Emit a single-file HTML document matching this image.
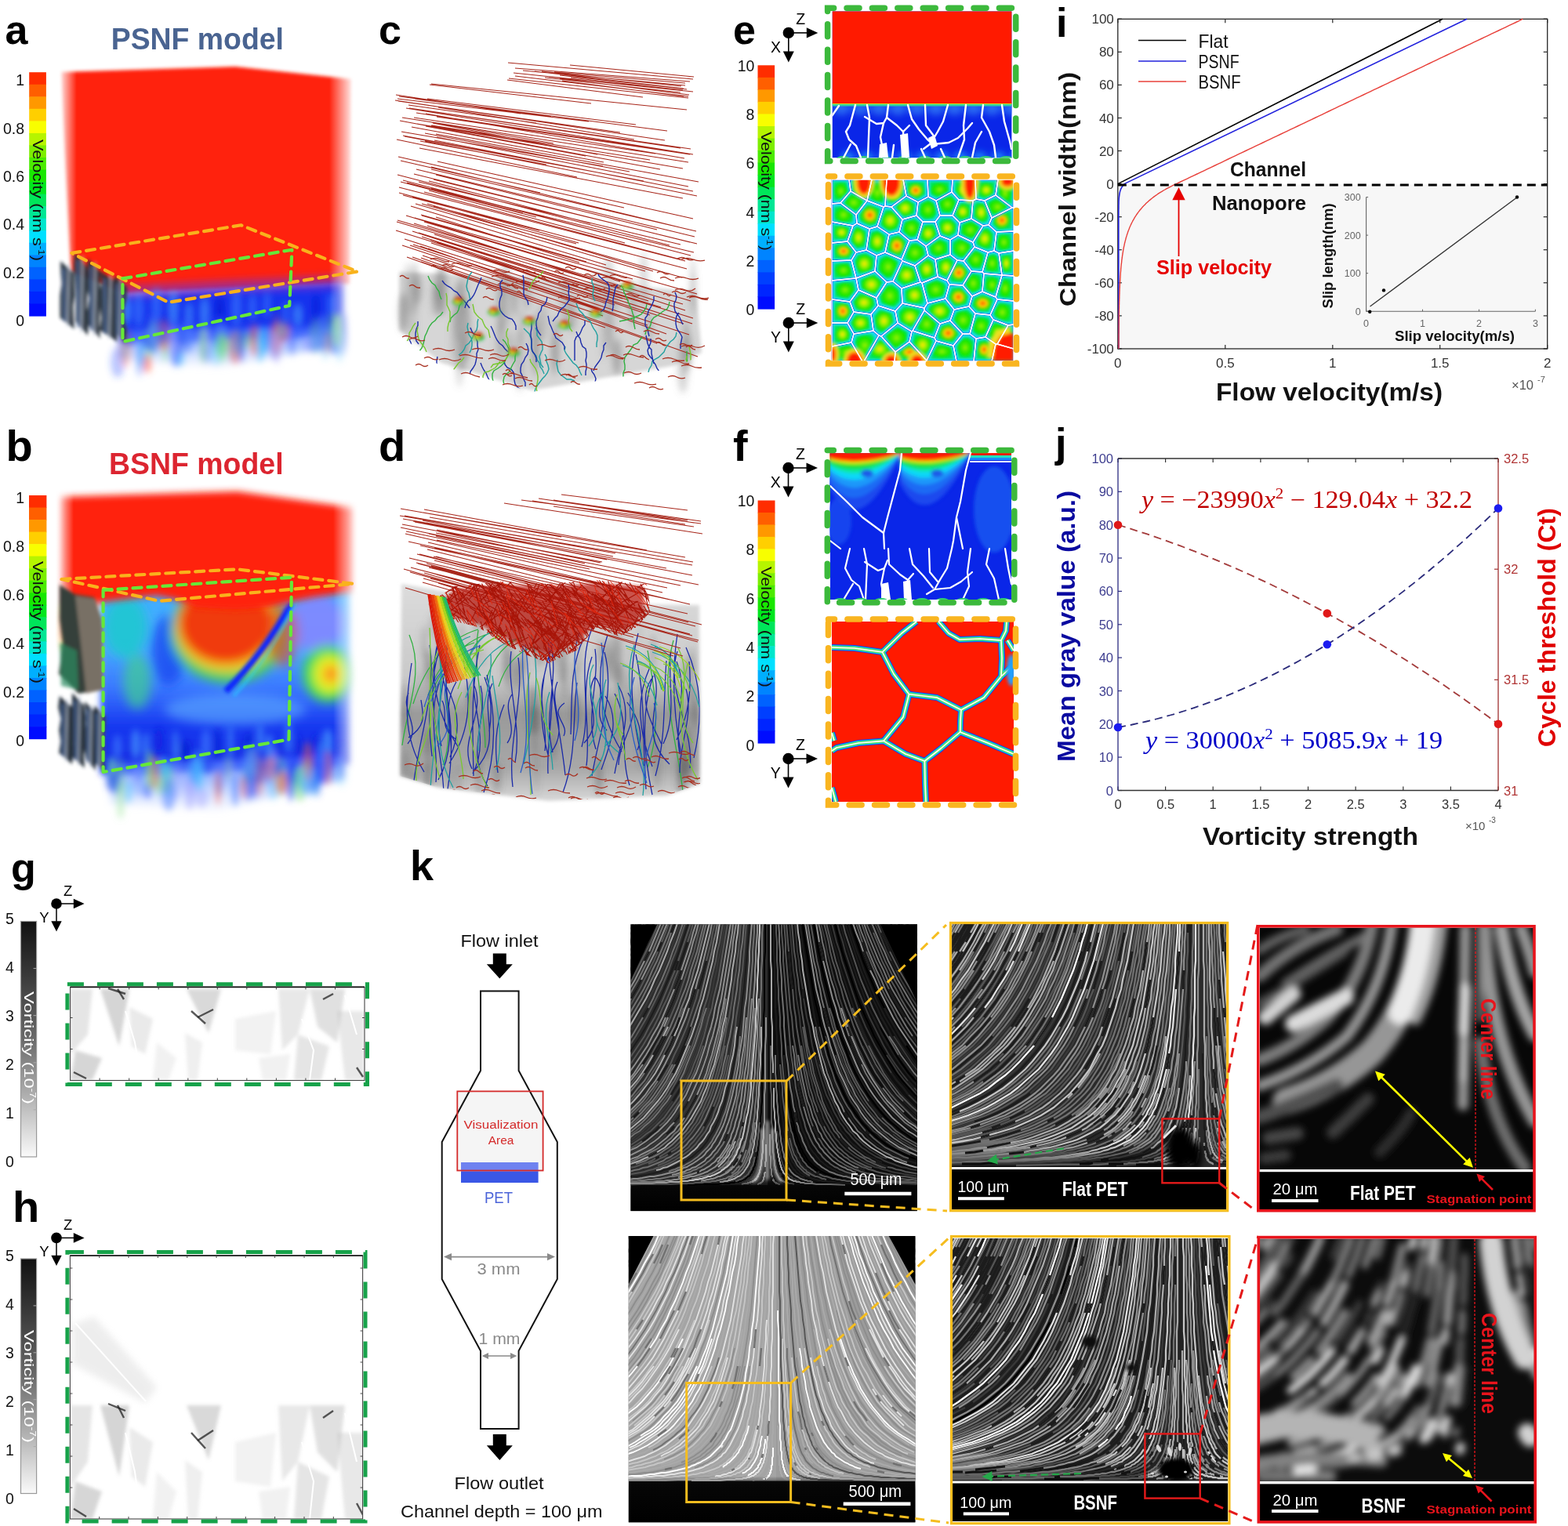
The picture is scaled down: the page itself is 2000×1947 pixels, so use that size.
<!DOCTYPE html>
<html><head><meta charset="utf-8"><title>Figure</title>
<style>html,body{margin:0;padding:0;background:#fff;}body{width:2000px;height:1947px;overflow:hidden;}svg{display:block;}</style>
</head><body>
<svg width="2000" height="1947" viewBox="0 0 2000 1947">
<text x="6.5" y="56.0" font-family="'Liberation Sans', sans-serif" font-size="52" fill="#000" font-weight="bold">a</text><text x="7.5" y="588.0" font-family="'Liberation Sans', sans-serif" font-size="56" fill="#000" font-weight="bold">b</text><text x="483.0" y="56.0" font-family="'Liberation Sans', sans-serif" font-size="52" fill="#000" font-weight="bold">c</text><text x="483.0" y="588.0" font-family="'Liberation Sans', sans-serif" font-size="56" fill="#000" font-weight="bold">d</text><text x="935.0" y="56.0" font-family="'Liberation Sans', sans-serif" font-size="52" fill="#000" font-weight="bold">e</text><text x="935.0" y="588.0" font-family="'Liberation Sans', sans-serif" font-size="56" fill="#000" font-weight="bold">f</text><text x="14.0" y="1125.0" font-family="'Liberation Sans', sans-serif" font-size="52" fill="#000" font-weight="bold">g</text><text x="16.0" y="1559.0" font-family="'Liberation Sans', sans-serif" font-size="56" fill="#000" font-weight="bold">h</text><text x="141.7" y="63.0" font-family="'Liberation Sans', sans-serif" font-size="38.5" fill="#4a6491" font-weight="bold" textLength="220.3" lengthAdjust="spacingAndGlyphs">PSNF model</text><text x="139.0" y="605.0" font-family="'Liberation Sans', sans-serif" font-size="38.5" fill="#dc2530" font-weight="bold" textLength="222.6" lengthAdjust="spacingAndGlyphs">BSNF model</text><defs><filter id="bl2" x="-10%" y="-10%" width="120%" height="120%"><feGaussianBlur stdDeviation="2"/></filter><filter id="bl15" x="-5%" y="-5%" width="110%" height="110%"><feGaussianBlur stdDeviation="1.5"/></filter><filter id="bl4" x="-20%" y="-20%" width="140%" height="140%"><feGaussianBlur stdDeviation="4"/></filter><filter id="bl7" x="-30%" y="-30%" width="160%" height="160%"><feGaussianBlur stdDeviation="7"/></filter><filter id="bl10" x="-30%" y="-30%" width="160%" height="160%"><feGaussianBlur stdDeviation="10"/></filter><linearGradient id="fadeL" x1="0" y1="0" x2="1" y2="0"><stop offset="0" stop-color="#fff" stop-opacity="1"/><stop offset="1" stop-color="#fff" stop-opacity="0"/></linearGradient><linearGradient id="fadeR" x1="0" y1="0" x2="1" y2="0"><stop offset="0" stop-color="#fff" stop-opacity="0"/><stop offset="1" stop-color="#fff" stop-opacity="1"/></linearGradient><linearGradient id="fadeB" x1="0" y1="0" x2="0" y2="1"><stop offset="0" stop-color="#fff" stop-opacity="0"/><stop offset="1" stop-color="#fff" stop-opacity="1"/></linearGradient></defs><defs><linearGradient id="gmA" gradientUnits="userSpaceOnUse" x1="74" y1="0" x2="452" y2="0"><stop offset="0" stop-color="#000"/><stop offset="0.063" stop-color="#fff"/><stop offset="0.915" stop-color="#fff"/><stop offset="1" stop-color="#000"/></linearGradient><mask id="mA" maskUnits="userSpaceOnUse" x="54" y="60" width="418" height="460"><rect x="54" y="60" width="418" height="460" fill="url(#gmA)"/></mask></defs><g mask="url(#mA)"><g filter="url(#bl2)"><polygon points="77.0,92.0 300.0,85.0 449.0,101.0 447.0,362.0 300.0,368.0 160.0,374.0 90.0,346.0" fill="#ff2008" /></g><g filter="url(#bl4)"><polygon points="150.0,376.0 300.0,368.0 440.0,360.0 440.0,428.0 300.0,433.0 155.0,438.0" fill="#1230ee" /><polygon points="150.0,364.0 300.0,356.0 440.0,350.0 440.0,368.0 300.0,374.0 150.0,382.0" fill="#8030c0" opacity="0.55"/><ellipse cx="159.5" cy="396.0" rx="6.7" ry="18.7" fill="#4a9cff" opacity="0.7"/><ellipse cx="176.8" cy="395.2" rx="5.5" ry="21.9" fill="#3a78ff" opacity="0.7"/><ellipse cx="199.5" cy="389.3" rx="5.2" ry="22.9" fill="#3a78ff" opacity="0.7"/><ellipse cx="221.0" cy="393.3" rx="4.8" ry="21.4" fill="#4a9cff" opacity="0.7"/><ellipse cx="241.2" cy="400.3" rx="3.3" ry="14.4" fill="#4a9cff" opacity="0.7"/><ellipse cx="261.0" cy="399.4" rx="4.3" ry="19.9" fill="#4a9cff" opacity="0.7"/><ellipse cx="280.2" cy="397.2" rx="5.0" ry="20.6" fill="#0018d0" opacity="0.7"/><ellipse cx="301.5" cy="393.5" rx="5.2" ry="23.3" fill="#3a78ff" opacity="0.7"/><ellipse cx="322.1" cy="392.0" rx="3.9" ry="16.9" fill="#3a78ff" opacity="0.7"/><ellipse cx="340.6" cy="388.7" rx="3.4" ry="16.9" fill="#3a78ff" opacity="0.7"/><ellipse cx="364.6" cy="400.6" rx="3.0" ry="16.1" fill="#3a78ff" opacity="0.7"/><ellipse cx="379.7" cy="402.7" rx="4.6" ry="14.7" fill="#4a9cff" opacity="0.7"/><ellipse cx="402.8" cy="391.3" rx="3.3" ry="17.3" fill="#0018d0" opacity="0.7"/><ellipse cx="422.6" cy="388.9" rx="4.0" ry="15.0" fill="#3a78ff" opacity="0.7"/></g><g filter="url(#bl4)"><defs><linearGradient id="fg425" x1="0" y1="0" x2="0" y2="1"><stop offset="0" stop-color="#3a60ff" stop-opacity="0.9"/><stop offset="0.5" stop-color="#70a0ff" stop-opacity="0.55"/><stop offset="1" stop-color="#c0d0ff" stop-opacity="0.1"/></linearGradient></defs><polygon points="150,421 440,416 440,440 280,470 150,460" fill="url(#fg425)"/><ellipse cx="284.8" cy="435.8" rx="7.4" ry="13.0" fill="#80e080" opacity="0.32"/><ellipse cx="362.2" cy="423.2" rx="7.2" ry="11.9" fill="#ff6040" opacity="0.60"/><ellipse cx="150.1" cy="462.2" rx="8.9" ry="19.5" fill="#3050ff" opacity="0.32"/><ellipse cx="264.3" cy="451.7" rx="7.2" ry="11.6" fill="#5080ff" opacity="0.32"/><ellipse cx="224.9" cy="451.3" rx="5.6" ry="14.7" fill="#3050ff" opacity="0.28"/><ellipse cx="210.5" cy="446.1" rx="4.1" ry="15.9" fill="#80e080" opacity="0.41"/><ellipse cx="428.1" cy="428.4" rx="6.9" ry="23.9" fill="#5080ff" opacity="0.47"/><ellipse cx="240.1" cy="428.9" rx="7.1" ry="21.6" fill="#5080ff" opacity="0.51"/><ellipse cx="422.7" cy="422.9" rx="8.8" ry="24.1" fill="#80e080" opacity="0.28"/><ellipse cx="163.7" cy="427.2" rx="6.6" ry="14.1" fill="#2040f0" opacity="0.50"/><ellipse cx="224.5" cy="453.7" rx="7.0" ry="14.7" fill="#5080ff" opacity="0.58"/><ellipse cx="433.4" cy="421.5" rx="6.4" ry="20.5" fill="#80e080" opacity="0.47"/><ellipse cx="231.3" cy="457.6" rx="5.0" ry="10.3" fill="#40c0ff" opacity="0.39"/><ellipse cx="222.2" cy="424.5" rx="5.4" ry="18.5" fill="#5080ff" opacity="0.28"/><ellipse cx="190.1" cy="439.0" rx="5.7" ry="21.7" fill="#80e080" opacity="0.45"/><ellipse cx="190.7" cy="424.8" rx="4.1" ry="24.6" fill="#2040f0" opacity="0.36"/><ellipse cx="159.7" cy="447.5" rx="4.4" ry="11.1" fill="#40c0ff" opacity="0.36"/><ellipse cx="439.8" cy="420.7" rx="6.7" ry="21.8" fill="#2040f0" opacity="0.51"/><ellipse cx="187.6" cy="464.1" rx="5.7" ry="11.4" fill="#ff6040" opacity="0.57"/><ellipse cx="402.6" cy="428.1" rx="8.0" ry="23.8" fill="#80e080" opacity="0.26"/><ellipse cx="342.1" cy="429.8" rx="4.1" ry="11.2" fill="#3050ff" opacity="0.47"/><ellipse cx="438.1" cy="437.1" rx="7.6" ry="16.2" fill="#2040f0" opacity="0.49"/><ellipse cx="282.7" cy="435.0" rx="6.7" ry="18.3" fill="#80e080" opacity="0.26"/><ellipse cx="324.4" cy="433.6" rx="5.2" ry="21.2" fill="#ff6040" opacity="0.52"/><ellipse cx="341.4" cy="432.9" rx="8.5" ry="15.9" fill="#5080ff" opacity="0.49"/><ellipse cx="208.7" cy="428.0" rx="8.5" ry="20.6" fill="#ff6040" opacity="0.42"/><ellipse cx="220.0" cy="435.8" rx="5.3" ry="20.1" fill="#a0a0ff" opacity="0.53"/><ellipse cx="415.1" cy="439.2" rx="5.9" ry="19.3" fill="#40c0ff" opacity="0.32"/><ellipse cx="189.0" cy="435.0" rx="8.5" ry="10.6" fill="#3050ff" opacity="0.58"/><ellipse cx="230.3" cy="427.4" rx="6.3" ry="14.4" fill="#5080ff" opacity="0.54"/><ellipse cx="260.9" cy="438.2" rx="7.4" ry="21.5" fill="#a0a0ff" opacity="0.59"/><ellipse cx="281.2" cy="423.9" rx="4.2" ry="24.0" fill="#3050ff" opacity="0.49"/><ellipse cx="231.5" cy="433.4" rx="7.2" ry="19.0" fill="#2040f0" opacity="0.30"/><ellipse cx="281.9" cy="423.0" rx="8.1" ry="13.8" fill="#5080ff" opacity="0.53"/><ellipse cx="435.4" cy="421.3" rx="4.5" ry="18.6" fill="#2040f0" opacity="0.53"/><ellipse cx="428.0" cy="433.1" rx="5.0" ry="17.6" fill="#5080ff" opacity="0.50"/><ellipse cx="369.0" cy="432.8" rx="4.2" ry="13.6" fill="#a0a0ff" opacity="0.37"/><ellipse cx="352.2" cy="433.3" rx="7.1" ry="22.1" fill="#ff6040" opacity="0.55"/><ellipse cx="352.9" cy="425.4" rx="6.1" ry="24.3" fill="#ff6040" opacity="0.30"/><ellipse cx="281.5" cy="441.0" rx="8.5" ry="16.0" fill="#80e080" opacity="0.48"/><ellipse cx="295.8" cy="447.5" rx="5.7" ry="15.2" fill="#5080ff" opacity="0.28"/><ellipse cx="401.2" cy="438.1" rx="8.6" ry="12.0" fill="#5080ff" opacity="0.56"/><ellipse cx="434.3" cy="440.0" rx="6.7" ry="22.7" fill="#40c0ff" opacity="0.34"/><ellipse cx="358.3" cy="421.5" rx="6.5" ry="10.6" fill="#40c0ff" opacity="0.44"/><ellipse cx="372.8" cy="431.3" rx="4.1" ry="22.9" fill="#3050ff" opacity="0.40"/><ellipse cx="160.2" cy="444.3" rx="7.4" ry="24.7" fill="#ff6040" opacity="0.30"/><ellipse cx="299.8" cy="443.5" rx="8.2" ry="21.0" fill="#ff6040" opacity="0.45"/><ellipse cx="349.8" cy="440.9" rx="6.2" ry="18.9" fill="#a0a0ff" opacity="0.51"/><ellipse cx="335.3" cy="434.3" rx="8.2" ry="19.0" fill="#40c0ff" opacity="0.48"/><ellipse cx="426.9" cy="437.9" rx="7.0" ry="14.9" fill="#5080ff" opacity="0.59"/><ellipse cx="302.0" cy="437.8" rx="5.0" ry="18.6" fill="#80e080" opacity="0.25"/><ellipse cx="259.3" cy="439.0" rx="4.2" ry="24.7" fill="#80e080" opacity="0.53"/><ellipse cx="313.2" cy="434.5" rx="7.5" ry="11.1" fill="#80e080" opacity="0.41"/><ellipse cx="417.0" cy="436.9" rx="6.0" ry="13.9" fill="#ff6040" opacity="0.29"/><ellipse cx="275.8" cy="449.0" rx="8.5" ry="17.6" fill="#40c0ff" opacity="0.29"/><ellipse cx="271.7" cy="423.3" rx="5.3" ry="21.2" fill="#3050ff" opacity="0.26"/><ellipse cx="195.1" cy="424.4" rx="5.4" ry="21.6" fill="#5080ff" opacity="0.47"/><ellipse cx="180.4" cy="452.7" rx="4.6" ry="18.2" fill="#40c0ff" opacity="0.50"/><ellipse cx="353.4" cy="444.7" rx="4.1" ry="20.1" fill="#a0a0ff" opacity="0.44"/><ellipse cx="196.3" cy="429.4" rx="7.2" ry="20.2" fill="#80e080" opacity="0.33"/><ellipse cx="307.5" cy="438.0" rx="4.7" ry="24.6" fill="#2040f0" opacity="0.53"/><ellipse cx="411.8" cy="425.5" rx="5.6" ry="24.8" fill="#5080ff" opacity="0.52"/><ellipse cx="206.4" cy="426.0" rx="8.4" ry="12.1" fill="#3050ff" opacity="0.34"/><ellipse cx="178.1" cy="458.0" rx="6.1" ry="22.6" fill="#5080ff" opacity="0.32"/><ellipse cx="332.1" cy="443.7" rx="4.5" ry="19.1" fill="#40c0ff" opacity="0.57"/><ellipse cx="430.8" cy="421.4" rx="6.5" ry="22.1" fill="#80e080" opacity="0.60"/><ellipse cx="391.6" cy="439.0" rx="6.4" ry="10.4" fill="#a0a0ff" opacity="0.44"/><ellipse cx="299.3" cy="437.9" rx="4.7" ry="13.0" fill="#5080ff" opacity="0.31"/><ellipse cx="195.8" cy="432.2" rx="7.4" ry="19.3" fill="#5080ff" opacity="0.58"/><ellipse cx="284.0" cy="446.3" rx="5.6" ry="17.5" fill="#80e080" opacity="0.37"/></g></g><g filter="url(#bl2)" opacity="0.95"><polygon points="77.0,333.0 93.8,347.5 94.5,362.0 95.5,376.5 93.2,391.0 93.8,405.5 95.0,420.0 76.6,405.5 76.4,391.0 76.5,376.5 78.7,362.0 77.4,347.5" fill="#2a3440" /><line x1="87.8" y1="337.0" x2="86.0" y2="416.0" stroke="#b8c4d8" stroke-width="2.2" opacity="0.8"/><line x1="81.5" y1="343.0" x2="82.4" y2="410.0" stroke="#4a6aa0" stroke-width="3" opacity="0.8"/><polygon points="95.0,322.0 110.4,339.7 113.2,357.3 111.3,375.0 110.3,392.7 113.4,410.3 112.0,428.0 96.5,410.3 96.6,392.7 96.8,375.0 95.3,357.3 93.8,339.7" fill="#2a3440" /><line x1="105.2" y1="326.0" x2="103.5" y2="424.0" stroke="#b8c4d8" stroke-width="2.2" opacity="0.8"/><line x1="99.2" y1="332.0" x2="100.1" y2="418.0" stroke="#4a6aa0" stroke-width="3" opacity="0.8"/><polygon points="112.0,330.0 128.3,347.0 127.4,364.0 129.0,381.0 127.1,398.0 126.5,415.0 128.0,432.0 113.0,415.0 110.6,398.0 113.7,381.0 110.5,364.0 111.3,347.0" fill="#2a3440" /><line x1="121.6" y1="334.0" x2="120.0" y2="428.0" stroke="#b8c4d8" stroke-width="2.2" opacity="0.8"/><line x1="116.0" y1="340.0" x2="116.8" y2="422.0" stroke="#4a6aa0" stroke-width="3" opacity="0.8"/><polygon points="128.0,346.0 150.2,361.0 149.5,376.0 149.7,391.0 148.7,406.0 148.8,421.0 150.0,436.0 126.7,421.0 129.2,406.0 127.2,391.0 126.4,376.0 129.6,361.0" fill="#2a3440" /><line x1="141.2" y1="350.0" x2="139.0" y2="432.0" stroke="#b8c4d8" stroke-width="2.2" opacity="0.8"/><line x1="133.5" y1="356.0" x2="134.6" y2="426.0" stroke="#4a6aa0" stroke-width="3" opacity="0.8"/><polygon points="146.0,352.0 162.0,366.2 161.6,380.3 158.2,394.5 159.1,408.7 161.8,422.8 160.0,437.0 145.2,422.8 144.9,408.7 145.6,394.5 144.7,380.3 144.3,366.2" fill="#2a3440" /><line x1="154.4" y1="356.0" x2="153.0" y2="433.0" stroke="#b8c4d8" stroke-width="2.2" opacity="0.8"/><line x1="149.5" y1="362.0" x2="150.2" y2="427.0" stroke="#4a6aa0" stroke-width="3" opacity="0.8"/></g><path d="M91.4 322.9 L307.4 287.3 L456.0 346.5 L215.0 385.8 Z" fill="none" stroke="#f9b21c" stroke-width="4.2" stroke-dasharray="11 8" stroke-linecap="round" stroke-linejoin="round"/><path d="M156.4 355.4 L372.4 318.7 L369.2 390.0 L156.4 436.0 Z" fill="none" stroke="#66e838" stroke-width="4.2" stroke-dasharray="11 8" stroke-linecap="round" stroke-linejoin="round"/><defs><linearGradient id="gmB" gradientUnits="userSpaceOnUse" x1="70" y1="0" x2="458" y2="0"><stop offset="0" stop-color="#000"/><stop offset="0.062" stop-color="#fff"/><stop offset="0.915" stop-color="#fff"/><stop offset="1" stop-color="#000"/></linearGradient><mask id="mB" maskUnits="userSpaceOnUse" x="50" y="600" width="428" height="460"><rect x="50" y="600" width="428" height="460" fill="url(#gmB)"/></mask></defs><g mask="url(#mB)"><defs><linearGradient id="bbase" x1="0" y1="0" x2="0" y2="1"><stop offset="0" stop-color="#40b0ff"/><stop offset="0.35" stop-color="#48a8ff"/><stop offset="0.55" stop-color="#3a78ff"/><stop offset="0.75" stop-color="#1838f0"/><stop offset="1" stop-color="#1028e0"/></linearGradient></defs><g filter="url(#bl4)"><polygon points="128.0,748.0 300.0,742.0 448.0,748.0 448.0,975.0 300.0,982.0 128.0,988.0" fill="url(#bbase)" /></g><g filter="url(#bl7)"><ellipse cx="160" cy="800" rx="28" ry="40" fill="#20c8d0" opacity="0.9"/><ellipse cx="175" cy="870" rx="18" ry="35" fill="#40d090" opacity="0.7"/><ellipse cx="215" cy="830" rx="22" ry="45" fill="#1848f0" opacity="0.8"/><ellipse cx="292" cy="806" rx="74" ry="66" fill="#40d060"/><ellipse cx="290" cy="800" rx="66" ry="58" fill="#f0d020"/><ellipse cx="288" cy="795" rx="60" ry="52" fill="#f03a10"/><ellipse cx="405" cy="795" rx="36" ry="38" fill="#9080ff" opacity="0.75"/><ellipse cx="360" cy="810" rx="20" ry="40" fill="#e84020" opacity="0.6"/><ellipse cx="418" cy="860" rx="32" ry="36" fill="#40e050"/><ellipse cx="420" cy="860" rx="20" ry="24" fill="#e8f020"/><ellipse cx="422" cy="860" rx="9" ry="11" fill="#ff8020"/><ellipse cx="300" cy="905" rx="90" ry="20" fill="#60b0ff" opacity="0.6"/></g><g filter="url(#bl2)"><path d="M372 770 Q335 835 288 882" stroke="#0a28ff" stroke-width="8" fill="none"/><path d="M378 766 Q348 835 298 888" stroke="#20d0ff" stroke-width="3" fill="none" opacity="0.8"/></g><g filter="url(#bl4)"><ellipse cx="149.7" cy="953.1" rx="5.7" ry="15.7" fill="#3a78ff" opacity="0.7"/><ellipse cx="173.0" cy="949.7" rx="5.6" ry="19.5" fill="#4a9cff" opacity="0.7"/><ellipse cx="186.6" cy="953.2" rx="3.6" ry="19.3" fill="#4a9cff" opacity="0.7"/><ellipse cx="202.4" cy="944.2" rx="5.3" ry="16.4" fill="#0a20e0" opacity="0.7"/><ellipse cx="223.8" cy="956.0" rx="3.3" ry="25.0" fill="#4a9cff" opacity="0.7"/><ellipse cx="235.9" cy="959.7" rx="6.8" ry="15.4" fill="#0018d0" opacity="0.7"/><ellipse cx="262.7" cy="950.8" rx="6.5" ry="20.7" fill="#3a78ff" opacity="0.7"/><ellipse cx="276.6" cy="950.1" rx="3.3" ry="21.3" fill="#0018d0" opacity="0.7"/><ellipse cx="293.8" cy="947.7" rx="3.1" ry="22.7" fill="#4a9cff" opacity="0.7"/><ellipse cx="316.8" cy="953.3" rx="4.4" ry="18.4" fill="#0018d0" opacity="0.7"/><ellipse cx="331.7" cy="942.3" rx="3.9" ry="18.4" fill="#4a9cff" opacity="0.7"/><ellipse cx="343.3" cy="956.5" rx="4.7" ry="20.2" fill="#4a9cff" opacity="0.7"/><ellipse cx="367.8" cy="940.9" rx="3.8" ry="21.3" fill="#4a9cff" opacity="0.7"/><ellipse cx="380.8" cy="953.9" rx="3.1" ry="17.3" fill="#0a20e0" opacity="0.7"/><ellipse cx="403.0" cy="954.5" rx="5.1" ry="18.4" fill="#0a20e0" opacity="0.7"/><ellipse cx="417.8" cy="949.5" rx="6.8" ry="19.8" fill="#4a9cff" opacity="0.7"/></g><g filter="url(#bl4)"><polygon points="75.0,634.0 303.0,627.0 452.0,648.0 452.0,755.0 400.0,762.0 372.0,768.0 345.0,775.0 300.0,778.0 250.0,775.0 225.0,765.0 200.0,760.0 130.0,768.0 75.0,790.0" fill="#ff2008" /></g><g filter="url(#bl4)"><defs><linearGradient id="fg978" x1="0" y1="0" x2="0" y2="1"><stop offset="0" stop-color="#3a60ff" stop-opacity="0.9"/><stop offset="0.5" stop-color="#70a0ff" stop-opacity="0.55"/><stop offset="1" stop-color="#c0d0ff" stop-opacity="0.1"/></linearGradient></defs><polygon points="140,974 440,964 440,995 275,1036 140,1026" fill="url(#fg978)"/><ellipse cx="279.4" cy="993.3" rx="4.9" ry="22.3" fill="#5080ff" opacity="0.57"/><ellipse cx="142.0" cy="988.4" rx="7.9" ry="15.5" fill="#5080ff" opacity="0.53"/><ellipse cx="290.4" cy="979.9" rx="4.6" ry="15.8" fill="#80e080" opacity="0.43"/><ellipse cx="147.2" cy="990.9" rx="7.9" ry="23.3" fill="#2040f0" opacity="0.29"/><ellipse cx="375.3" cy="983.9" rx="6.4" ry="15.7" fill="#2040f0" opacity="0.58"/><ellipse cx="408.3" cy="971.9" rx="5.5" ry="24.0" fill="#40c0ff" opacity="0.37"/><ellipse cx="398.6" cy="986.9" rx="6.2" ry="22.7" fill="#2040f0" opacity="0.35"/><ellipse cx="216.5" cy="1006.0" rx="7.5" ry="12.1" fill="#40c0ff" opacity="0.40"/><ellipse cx="212.4" cy="992.7" rx="8.9" ry="19.0" fill="#80e080" opacity="0.50"/><ellipse cx="420.9" cy="973.6" rx="4.2" ry="16.9" fill="#3050ff" opacity="0.57"/><ellipse cx="376.8" cy="986.6" rx="5.7" ry="15.9" fill="#2040f0" opacity="0.38"/><ellipse cx="188.3" cy="1009.0" rx="4.8" ry="10.5" fill="#3050ff" opacity="0.56"/><ellipse cx="413.2" cy="982.1" rx="7.9" ry="16.1" fill="#3050ff" opacity="0.50"/><ellipse cx="196.7" cy="985.6" rx="8.0" ry="21.0" fill="#ff6040" opacity="0.47"/><ellipse cx="177.4" cy="1000.7" rx="7.5" ry="16.3" fill="#5080ff" opacity="0.28"/><ellipse cx="246.7" cy="976.3" rx="5.7" ry="21.0" fill="#2040f0" opacity="0.36"/><ellipse cx="348.7" cy="996.5" rx="7.3" ry="25.0" fill="#40c0ff" opacity="0.31"/><ellipse cx="202.7" cy="1003.8" rx="6.4" ry="10.9" fill="#80e080" opacity="0.37"/><ellipse cx="211.5" cy="987.5" rx="8.7" ry="10.1" fill="#40c0ff" opacity="0.38"/><ellipse cx="394.6" cy="989.0" rx="5.5" ry="18.3" fill="#5080ff" opacity="0.43"/><ellipse cx="349.4" cy="974.4" rx="6.3" ry="19.7" fill="#a0a0ff" opacity="0.50"/><ellipse cx="278.1" cy="1005.3" rx="4.2" ry="22.4" fill="#ff6040" opacity="0.44"/><ellipse cx="368.4" cy="980.7" rx="7.4" ry="20.6" fill="#3050ff" opacity="0.44"/><ellipse cx="344.2" cy="980.6" rx="7.7" ry="15.2" fill="#ff6040" opacity="0.56"/><ellipse cx="329.8" cy="975.5" rx="6.4" ry="22.8" fill="#5080ff" opacity="0.34"/><ellipse cx="153.8" cy="1020.1" rx="5.4" ry="25.0" fill="#80e080" opacity="0.35"/><ellipse cx="383.9" cy="994.0" rx="7.0" ry="12.4" fill="#40c0ff" opacity="0.47"/><ellipse cx="392.8" cy="986.3" rx="7.9" ry="16.6" fill="#80e080" opacity="0.48"/><ellipse cx="242.0" cy="1008.3" rx="6.5" ry="25.0" fill="#a0a0ff" opacity="0.53"/><ellipse cx="190.9" cy="983.0" rx="5.3" ry="25.5" fill="#80e080" opacity="0.56"/><ellipse cx="400.5" cy="987.2" rx="7.7" ry="21.4" fill="#2040f0" opacity="0.57"/><ellipse cx="371.2" cy="998.3" rx="5.6" ry="24.0" fill="#2040f0" opacity="0.56"/><ellipse cx="147.4" cy="990.2" rx="4.1" ry="12.7" fill="#5080ff" opacity="0.32"/><ellipse cx="382.6" cy="999.8" rx="8.9" ry="22.4" fill="#80e080" opacity="0.55"/><ellipse cx="322.1" cy="974.0" rx="7.4" ry="18.6" fill="#ff6040" opacity="0.28"/><ellipse cx="141.9" cy="981.9" rx="6.0" ry="17.8" fill="#40c0ff" opacity="0.41"/><ellipse cx="330.2" cy="982.9" rx="6.1" ry="18.3" fill="#2040f0" opacity="0.55"/><ellipse cx="146.2" cy="982.9" rx="7.8" ry="15.9" fill="#3050ff" opacity="0.58"/><ellipse cx="344.7" cy="983.4" rx="6.0" ry="19.7" fill="#a0a0ff" opacity="0.28"/><ellipse cx="415.1" cy="976.3" rx="5.2" ry="16.8" fill="#a0a0ff" opacity="0.27"/><ellipse cx="142.5" cy="987.4" rx="4.6" ry="21.0" fill="#80e080" opacity="0.57"/><ellipse cx="357.7" cy="991.0" rx="8.2" ry="25.6" fill="#80e080" opacity="0.33"/><ellipse cx="417.8" cy="979.9" rx="5.0" ry="22.1" fill="#ff6040" opacity="0.48"/><ellipse cx="389.1" cy="993.8" rx="6.0" ry="20.5" fill="#40c0ff" opacity="0.58"/><ellipse cx="436.0" cy="987.5" rx="8.7" ry="15.8" fill="#40c0ff" opacity="0.29"/><ellipse cx="285.7" cy="976.4" rx="5.4" ry="13.2" fill="#3050ff" opacity="0.42"/><ellipse cx="359.3" cy="998.2" rx="7.8" ry="15.4" fill="#ff6040" opacity="0.52"/><ellipse cx="404.5" cy="992.5" rx="5.7" ry="24.2" fill="#2040f0" opacity="0.44"/><ellipse cx="248.5" cy="981.3" rx="5.9" ry="19.8" fill="#5080ff" opacity="0.54"/><ellipse cx="339.9" cy="984.2" rx="5.4" ry="15.5" fill="#3050ff" opacity="0.29"/><ellipse cx="316.1" cy="988.0" rx="5.8" ry="12.5" fill="#80e080" opacity="0.45"/><ellipse cx="253.5" cy="984.3" rx="5.8" ry="26.0" fill="#40c0ff" opacity="0.58"/><ellipse cx="319.5" cy="973.3" rx="7.1" ry="24.2" fill="#40c0ff" opacity="0.47"/><ellipse cx="324.8" cy="1003.7" rx="4.7" ry="15.4" fill="#2040f0" opacity="0.47"/><ellipse cx="152.9" cy="990.9" rx="6.7" ry="23.4" fill="#80e080" opacity="0.29"/><ellipse cx="215.1" cy="1013.7" rx="8.9" ry="20.8" fill="#5080ff" opacity="0.53"/><ellipse cx="208.6" cy="977.2" rx="7.4" ry="13.0" fill="#40c0ff" opacity="0.47"/><ellipse cx="331.2" cy="990.9" rx="6.4" ry="25.3" fill="#ff6040" opacity="0.30"/><ellipse cx="285.1" cy="988.0" rx="5.9" ry="14.4" fill="#a0a0ff" opacity="0.32"/><ellipse cx="317.1" cy="1001.1" rx="6.4" ry="20.5" fill="#2040f0" opacity="0.47"/><ellipse cx="354.3" cy="980.2" rx="5.5" ry="10.4" fill="#2040f0" opacity="0.53"/><ellipse cx="257.1" cy="1018.1" rx="8.5" ry="12.4" fill="#a0a0ff" opacity="0.43"/><ellipse cx="313.1" cy="976.5" rx="6.1" ry="23.3" fill="#5080ff" opacity="0.27"/><ellipse cx="175.1" cy="988.6" rx="4.8" ry="11.9" fill="#a0a0ff" opacity="0.44"/><ellipse cx="293.6" cy="982.0" rx="4.5" ry="13.1" fill="#a0a0ff" opacity="0.33"/><ellipse cx="398.1" cy="997.1" rx="8.7" ry="18.5" fill="#40c0ff" opacity="0.52"/><ellipse cx="177.8" cy="983.7" rx="8.2" ry="11.7" fill="#5080ff" opacity="0.34"/><ellipse cx="300.1" cy="1009.2" rx="4.5" ry="19.9" fill="#5080ff" opacity="0.59"/><ellipse cx="310.4" cy="1004.8" rx="4.3" ry="14.8" fill="#ff6040" opacity="0.38"/><ellipse cx="392.5" cy="970.9" rx="6.7" ry="24.6" fill="#ff6040" opacity="0.45"/><ellipse cx="392.7" cy="997.2" rx="6.7" ry="18.7" fill="#a0a0ff" opacity="0.43"/><ellipse cx="264.5" cy="977.4" rx="5.7" ry="11.2" fill="#2040f0" opacity="0.47"/><ellipse cx="437.1" cy="971.9" rx="6.0" ry="22.8" fill="#2040f0" opacity="0.39"/><ellipse cx="164.2" cy="1010.8" rx="4.2" ry="14.6" fill="#40c0ff" opacity="0.49"/><ellipse cx="244.0" cy="1001.8" rx="8.1" ry="11.8" fill="#a0a0ff" opacity="0.30"/><ellipse cx="320.8" cy="974.9" rx="8.8" ry="18.5" fill="#5080ff" opacity="0.44"/><ellipse cx="409.2" cy="976.8" rx="8.9" ry="23.3" fill="#3050ff" opacity="0.48"/><ellipse cx="224.8" cy="998.9" rx="7.5" ry="22.0" fill="#a0a0ff" opacity="0.34"/><ellipse cx="143.1" cy="997.3" rx="7.8" ry="13.3" fill="#3050ff" opacity="0.58"/><ellipse cx="246.5" cy="984.0" rx="7.1" ry="16.0" fill="#40c0ff" opacity="0.36"/></g><g filter="url(#bl4)"><ellipse cx="80" cy="800" rx="12" ry="30" fill="#f0e020"/><ellipse cx="78" cy="800" rx="7" ry="22" fill="#ff3010"/></g></g><g filter="url(#bl2)"><polygon points="76.0,746.0 95.0,758.0 120.0,762.0 130.0,790.0 132.0,880.0 100.0,885.0 86.0,870.0 75.0,860.0 80.0,820.0 76.0,790.0" fill="#36403a" /><polygon points="96.0,760.0 122.0,764.0 132.0,800.0 131.0,880.0 110.0,885.0 104.0,830.0" fill="#8a7a70" opacity="0.8"/><polygon points="76.0,820.0 98.0,830.0 100.0,880.0 78.0,875.0" fill="#2a8a60" opacity="0.7"/></g><g filter="url(#bl2)"><polygon points="76.0,888.0 92.3,902.5 92.2,917.0 92.1,931.5 93.9,946.0 93.6,960.5 92.0,975.0 75.2,960.5 77.5,946.0 75.3,931.5 77.7,917.0 74.2,902.5" fill="#2a3440" /><line x1="85.6" y1="892.0" x2="84.0" y2="971.0" stroke="#b8c4d8" stroke-width="2.2" opacity="0.8"/><line x1="80.0" y1="898.0" x2="80.8" y2="965.0" stroke="#4a6aa0" stroke-width="3" opacity="0.8"/><polygon points="92.0,884.0 107.3,900.0 109.7,916.0 108.6,932.0 108.8,948.0 106.8,964.0 108.0,980.0 90.5,964.0 93.8,948.0 90.3,932.0 90.7,916.0 91.7,900.0" fill="#2a3440" /><line x1="101.6" y1="888.0" x2="100.0" y2="976.0" stroke="#b8c4d8" stroke-width="2.2" opacity="0.8"/><line x1="96.0" y1="894.0" x2="96.8" y2="970.0" stroke="#4a6aa0" stroke-width="3" opacity="0.8"/><polygon points="108.0,895.0 123.3,909.7 122.7,924.3 124.0,939.0 123.1,953.7 121.7,968.3 122.0,983.0 109.6,968.3 107.3,953.7 106.2,939.0 109.8,924.3 109.5,909.7" fill="#2a3440" /><line x1="116.4" y1="899.0" x2="115.0" y2="979.0" stroke="#b8c4d8" stroke-width="2.2" opacity="0.8"/><line x1="111.5" y1="905.0" x2="112.2" y2="973.0" stroke="#4a6aa0" stroke-width="3" opacity="0.8"/><polygon points="120.0,900.0 134.6,914.2 133.9,928.3 132.8,942.5 132.9,956.7 132.3,970.8 134.0,985.0 118.4,970.8 119.9,956.7 121.6,942.5 121.7,928.3 120.1,914.2" fill="#2a3440" /><line x1="128.4" y1="904.0" x2="127.0" y2="981.0" stroke="#b8c4d8" stroke-width="2.2" opacity="0.8"/><line x1="123.5" y1="910.0" x2="124.2" y2="975.0" stroke="#4a6aa0" stroke-width="3" opacity="0.8"/></g><path d="M78.5 739.0 L302.7 726.3 L450.6 744.8 L203.3 766.8 Z" fill="none" stroke="#f9b21c" stroke-width="4.2" stroke-dasharray="11 8" stroke-linecap="round" stroke-linejoin="round"/><path d="M131.6 752.9 L372.0 736.7 L368.5 943.5 L131.6 985.0 Z" fill="none" stroke="#66e838" stroke-width="4.2" stroke-dasharray="11 8" stroke-linecap="round" stroke-linejoin="round"/><defs><clipPath id="cw1"><rect x="804.3" y="1179.3" width="365.6" height="366.0"/></clipPath></defs><g clip-path="url(#cw1)"><rect x="804.3" y="1179.3" width="365.6" height="366.0" fill="#0c0c0c"/><rect x="804.3" y="1179.3" width="175.2" height="332.7" fill="#2c2c2c"/><rect x="979.5" y="1179.3" width="190.4" height="332.7" fill="#0e0e0e"/><path d="M976 1178 976 1190 976 1202 976 1214 975 1226 975 1238 975 1250 975 1262 975 1274 975 1286 974 1298 974 1310 974 1322 974 1334 973 1346 973 1358 973 1369 972 1379 972 1388 972 1397 972 1405 971 1412 971 1419 970 1426 970 1432 970 1437 969 1443 969 1447 969 1452 968 1456 968 1460 967 1464 967 1467 966 1470 966 1473 965 1476 965 1478 964 1481 964 1483 963 1485 963 1487 962 1489 961 1490 961 1492 960 1493 959 1495 959 1496 958 1497 957 1498 957 1499 956 1500 955 1501 954 1501 953 1502 952 1503 951 1504 950 1505 949 1505 947 1506 946 1506 945 1507 944 1507 943 1507 942 1508 940 1508 939 1508 938 1508 936 1509 935 1509 933 1509 932 1509 930 1510 929 1510 927 1510 925 1510 921 1510 916 1511 908 1511 897 1511 877 1512M988 1456 988 1460 988 1464 989 1467 989 1470 989 1473 990 1476 990 1478 991 1481 991 1483 991 1485 992 1487 992 1489 993 1490 993 1492 994 1493 994 1495 995 1496 995 1497 996 1498 996 1499 997 1500 997 1501 998 1501 999 1502 999 1503 1000 1504 1001 1504 1001 1505 1002 1505 1003 1506 1004 1506 1005 1507 1006 1507 1007 1508 1008 1508M1009 1432 1010 1437 1012 1443 1013 1447 1014 1452 1015 1456 1017 1460 1018 1464 1020 1467 1021 1470 1023 1473 1024 1476 1026 1478 1027 1481 1029 1483 1031 1485 1033 1487 1035 1489 1037 1490 1039 1492 1041 1493 1043 1495 1045 1496 1047 1497M998 1310 998 1322 999 1334 1000 1346 1001 1358 1002 1369 1003 1379 1004 1388 1006 1397 1007 1405 1008 1412 1009 1419 1010 1426 1012 1432 1013 1437 1014 1443 1015 1447 1017 1452 1018 1456 1020 1460 1021 1464 1023 1467 1024 1470 1026 1473 1028 1476 1029 1478 1031 1481 1033 1483 1035 1485 1037 1487 1039 1489 1041 1490 1043 1492 1045 1493 1048 1495 1050 1496 1052 1497 1055 1498 1058 1499 1060 1500 1063 1501 1066 1501 1069 1502 1072 1503 1075 1504M1024 1178 1025 1190 1027 1202 1029 1214 1031 1226 1033 1238 1035 1250 1037 1262 1039 1274 1042 1286 1045 1298 1047 1310 1050 1322 1054 1334 1057 1346 1061 1358 1065 1369 1069 1379 1073 1388 1077 1397 1081 1405 1086 1412 1090 1419 1095 1426 1099 1432 1104 1437 1109 1443 1114 1447 1119 1452 1125 1456 1130 1460 1136 1464 1142 1467 1148 1470 1154 1473 1160 1476 1166 1478 1173 1481M1038 1178 1040 1190 1042 1202 1044 1214 1047 1226 1049 1238 1052 1250 1055 1262 1058 1274 1061 1286 1065 1298 1068 1310 1072 1322 1077 1334 1081 1346 1086 1358 1091 1369 1097 1379 1102 1388 1107 1397 1113 1405 1118 1412 1124 1419 1130 1426 1136 1432 1143 1437 1149 1443 1156 1447 1162 1452 1169 1456 1177 1460M1065 1178 1068 1190 1071 1202 1074 1214 1078 1226 1082 1238 1086 1250 1090 1262 1094 1274 1099 1286 1104 1298 1110 1310 1115 1322 1122 1334 1129 1346 1136 1358 1143 1369 1151 1379 1159 1388 1167 1397 1175 1405M1122 1310 1129 1322 1136 1334 1143 1346 1151 1358 1159 1369 1168 1379 1176 1388M1085 1178 1089 1190 1093 1202 1097 1214 1101 1226 1106 1238 1111 1250 1116 1262 1122 1274 1128 1286 1134 1298 1141 1310 1148 1322 1156 1334 1164 1346 1173 1358M1170 1334 1179 1346M1136 1178 1142 1190 1148 1202 1154 1214 1161 1226 1168 1238 1175 1250M1146 1178 1152 1190 1159 1202 1165 1214 1172 1226 1180 1238" fill="none" stroke="rgb(0,0,0)" stroke-width="2.0"/><path d="M956 1178 955 1190 954 1202 953 1214 952 1226 951 1238 950 1250 949 1262 947 1274 946 1286 945 1298 943 1310 941 1322 940 1334 938 1346 936 1358 934 1369 932 1379 929 1388 927 1397 925 1405 923 1412 920 1419 918 1426 915 1432 913 1437 910 1443 907 1447 904 1452 902 1456 899 1460 896 1464 893 1467 889 1470 886 1473 883 1476 879 1478 876 1481 872 1483 868 1485 864 1487 860 1489 856 1490 851 1492 847 1493 842 1495 838 1496 833 1497 828 1498 823 1499 817 1500 812 1501 806 1501 800 1502M878 1178 874 1190 870 1202 866 1214 862 1226 857 1238 852 1250 847 1262 842 1274 836 1286 830 1298 824 1310 817 1322 809 1334 801 1346M999 1452 1000 1456 1000 1460 1001 1464 1002 1467 1003 1470 1004 1473 1004 1476 1005 1478 1006 1481 1007 1483 1008 1485 1009 1487 1010 1489 1011 1490 1012 1492 1014 1493 1015 1495 1016 1496 1017 1497 1019 1498 1020 1499 1021 1500 1023 1501 1024 1501 1026 1502M987 1178 987 1190 987 1202 987 1214 988 1226 988 1238 988 1250 989 1262 989 1274 989 1286 990 1298 990 1310 991 1322 991 1334 992 1346 992 1358 993 1369 994 1379 994 1388 995 1397 996 1405 996 1412 997 1419 998 1426 999 1432 999 1437 1000 1443 1001 1447 1002 1452 1003 1456 1003 1460 1004 1464 1005 1467 1006 1470 1007 1473 1008 1476 1009 1478 1010 1481 1011 1483 1013 1485 1014 1487 1015 1489 1016 1490 1017 1492 1019 1493 1020 1495 1021 1496 1023 1497 1024 1498 1026 1499 1028 1500 1029 1501 1031 1501 1033 1502 1034 1503 1036 1504 1038 1504 1040 1505 1042 1505 1044 1506 1047 1506 1049 1507 1051 1507 1054 1507 1056 1508 1059 1508 1061 1508 1064 1508 1067 1509 1070 1509 1073 1509 1076 1509 1079 1510 1082 1510 1086 1510 1089 1510 1098 1510 1109 1511 1124 1511 1147 1511 1188 1512M1005 1437 1007 1443 1008 1447 1009 1452 1010 1456 1011 1460 1012 1464 1013 1467 1015 1470 1016 1473 1017 1476 1019 1478 1020 1481 1021 1483 1023 1485 1024 1487 1026 1489 1028 1490 1029 1492 1031 1493 1033 1495 1035 1496 1037 1497 1038 1498 1040 1499M1005 1334 1006 1346 1008 1358 1009 1369 1010 1379 1012 1388 1013 1397 1015 1405 1016 1412 1018 1419 1019 1426 1021 1432 1022 1437 1024 1443 1026 1447 1028 1452 1030 1456 1031 1460 1033 1464 1035 1467 1037 1470 1040 1473 1042 1476 1044 1478 1046 1481 1049 1483 1051 1485 1054 1487 1056 1489 1059 1490 1062 1492 1065 1493 1068 1495 1071 1496 1074 1497 1077 1498 1080 1499 1084 1500M1036 1346 1039 1358 1041 1369 1044 1379 1047 1388 1050 1397 1053 1405 1056 1412 1060 1419 1063 1426 1066 1432 1070 1437 1073 1443 1077 1447 1081 1452 1084 1456 1088 1460 1093 1464 1097 1467 1101 1470 1105 1473 1110 1476 1115 1478 1120 1481 1125 1483M1020 1178 1022 1190 1023 1202 1025 1214 1027 1226 1029 1238 1031 1250 1033 1262 1035 1274 1037 1286 1039 1298 1042 1310 1045 1322 1048 1334 1051 1346 1055 1358 1058 1369 1062 1379 1066 1388 1070 1397 1073 1405 1077 1412 1082 1419 1086 1426 1090 1432 1094 1437 1099 1443 1104 1447 1108 1452 1113 1456 1118 1460 1124 1464 1129 1467 1134 1470 1140 1473 1146 1476 1152 1478 1158 1481 1165 1483 1171 1485 1178 1487M1084 1346 1089 1358 1094 1369 1099 1379 1104 1388 1110 1397 1116 1405 1121 1412 1127 1419 1134 1426 1140 1432 1146 1437 1153 1443 1159 1447 1166 1452M1085 1334 1090 1346 1096 1358 1101 1369 1107 1379 1112 1388 1118 1397 1124 1405 1130 1412 1137 1419 1143 1426 1150 1432 1157 1437 1164 1443 1171 1447 1178 1452M1101 1334 1107 1346 1114 1358 1120 1369 1126 1379 1133 1388 1140 1397 1147 1405 1154 1412 1161 1419 1169 1426 1176 1432M1057 1178 1060 1190 1063 1202 1067 1214 1070 1226 1073 1238 1077 1250 1081 1262 1085 1274 1089 1286 1094 1298 1099 1310 1104 1322 1110 1334 1116 1346 1123 1358 1130 1369 1137 1379 1144 1388 1151 1397 1159 1405 1166 1412 1174 1419M1071 1178 1075 1190 1078 1202 1082 1214 1086 1226 1090 1238 1094 1250 1099 1262 1103 1274 1108 1286 1114 1298 1120 1310 1126 1322 1133 1334 1140 1346 1148 1358 1156 1369 1164 1379 1173 1388 1181 1397M1078 1178 1082 1190 1086 1202 1090 1214 1094 1226 1098 1238 1103 1250 1108 1262 1113 1274 1119 1286 1124 1298 1131 1310 1137 1322 1145 1334 1153 1346 1161 1358 1170 1369 1179 1379M1082 1178 1085 1190 1089 1202 1093 1214 1098 1226 1102 1238 1107 1250 1112 1262 1117 1274 1123 1286 1129 1298 1136 1310 1143 1322 1150 1334 1159 1346 1167 1358 1176 1369M1122 1178 1127 1190 1133 1202 1139 1214 1145 1226 1151 1238 1158 1250 1165 1262 1172 1274 1180 1286M1126 1178 1131 1190 1137 1202 1143 1214 1149 1226 1156 1238 1162 1250 1170 1262 1177 1274M1157 1178 1163 1190 1170 1202 1177 1214" fill="none" stroke="rgb(28,28,28)" stroke-width="2.0"/><path d="M972 1447 971 1452 971 1456 971 1460 971 1464 970 1467 970 1470 969 1473 969 1476 969 1478 968 1481 968 1483 968 1485 967 1487 967 1489 966 1490 966 1492 965 1493 965 1495 964 1496 964 1497 963 1498 963 1499 962 1500 962 1501 961 1501 960 1502 960 1503 959 1504 958 1504 958 1505 957 1505 956 1506 955 1506 954 1507 953 1507 952 1508 951 1508 950 1508M911 1322 908 1334 905 1346 901 1358 898 1369 894 1379 890 1388 886 1397 882 1405 878 1412 873 1419 869 1426 865 1432 860 1437 855 1443 850 1447 845 1452 840 1456 835 1460 830 1464 824 1467 818 1470 812 1473 806 1476 800 1478M909 1310 906 1322 903 1334 899 1346 895 1358 891 1369 887 1379 883 1388 879 1397 874 1405 870 1412 865 1419 860 1426 856 1432 851 1437 846 1443 840 1447 835 1452 830 1456 824 1460 818 1464 812 1467 806 1470 800 1473M905 1286 902 1298 899 1310 895 1322 891 1334 887 1346 882 1358 878 1369 873 1379 868 1388 863 1397 858 1405 853 1412 848 1419 842 1426 837 1432 831 1437 825 1443 819 1447 813 1452 807 1456 800 1460M925 1178 923 1190 921 1202 919 1214 916 1226 914 1238 911 1250 909 1262 906 1274 903 1286 900 1298 896 1310 892 1322 888 1334 884 1346 879 1358 874 1369 870 1379 865 1388 859 1397 854 1405 849 1412 843 1419 838 1426 832 1432 826 1437 820 1443 814 1447 808 1452 801 1456M868 1178 863 1190 859 1202 855 1214 850 1226 845 1238 840 1250 834 1262 828 1274 822 1286 815 1298 808 1310 800 1322M834 1178 828 1190 822 1202 817 1214 810 1226 804 1238 797 1250M991 1443 992 1447 992 1452 993 1456 993 1460 994 1464 994 1467 995 1470 995 1473 996 1476 996 1478 997 1481 998 1483 998 1485 999 1487 1000 1489 1000 1490 1001 1492 1002 1493 1003 1495 1003 1496 1004 1497 1005 1498 1006 1499 1007 1500 1008 1501 1009 1501 1010 1502 1011 1503 1012 1504 1013 1504 1014 1505 1015 1505 1016 1506 1018 1506 1019 1507M1007 1178 1008 1190 1009 1202 1010 1214 1011 1226 1012 1238 1014 1250 1015 1262 1016 1274 1018 1286 1020 1298 1021 1310 1023 1322 1025 1334 1027 1346 1030 1358 1032 1369 1035 1379 1037 1388 1040 1397 1042 1405 1045 1412 1048 1419 1050 1426 1053 1432 1056 1437 1059 1443 1062 1447 1065 1452 1069 1456 1072 1460 1076 1464 1079 1467 1083 1470 1087 1473 1091 1476 1095 1478 1099 1481 1103 1483 1107 1485 1112 1487 1116 1489 1121 1490 1126 1492 1131 1493 1137 1495 1142 1496 1148 1497 1153 1498 1159 1499 1166 1500 1172 1501 1178 1501M1014 1178 1015 1190 1016 1202 1017 1214 1019 1226 1020 1238 1022 1250 1024 1262 1025 1274 1027 1286 1029 1298 1032 1310 1034 1322 1036 1334 1039 1346 1042 1358 1045 1369 1048 1379 1051 1388 1054 1397 1058 1405 1061 1412 1064 1419 1068 1426 1071 1432 1075 1437 1079 1443 1083 1447 1087 1452 1091 1456 1095 1460 1099 1464 1104 1467 1108 1470 1113 1473 1118 1476 1123 1478 1128 1481 1133 1483 1139 1485 1144 1487 1150 1489 1156 1490 1162 1492 1169 1493 1175 1495M1042 1346 1045 1358 1049 1369 1052 1379 1055 1388 1058 1397 1062 1405 1065 1412 1069 1419 1072 1426 1076 1432 1080 1437 1084 1443 1088 1447 1092 1452 1097 1456 1101 1460 1106 1464 1110 1467 1115 1470 1120 1473 1125 1476 1131 1478M1053 1322 1057 1334 1060 1346 1064 1358 1068 1369 1073 1379 1077 1388 1081 1397 1085 1405 1090 1412 1095 1419 1099 1426 1104 1432 1109 1437 1114 1443 1120 1447 1125 1452 1130 1456 1136 1460 1142 1464 1148 1467 1154 1470 1161 1473M1066 1346 1070 1358 1074 1369 1079 1379 1083 1388 1088 1397 1092 1405 1097 1412 1102 1419 1107 1426 1112 1432 1118 1437 1123 1443 1129 1447 1134 1452 1140 1456 1146 1460 1153 1464 1159 1467M1063 1322 1067 1334 1072 1346 1076 1358 1081 1369 1085 1379 1090 1388 1095 1397 1100 1405 1105 1412 1110 1419 1116 1426 1121 1432 1127 1437 1133 1443 1139 1447 1145 1452 1151 1456 1158 1460 1164 1464 1171 1467M1047 1178 1050 1190 1053 1202 1055 1214 1058 1226 1061 1238 1064 1250 1068 1262 1071 1274 1075 1286 1079 1298 1083 1310 1088 1322 1093 1334 1099 1346 1104 1358 1110 1369 1116 1379 1123 1388 1129 1397 1135 1405 1142 1412 1149 1419 1156 1426 1163 1432 1170 1437 1178 1443M1061 1178 1064 1190 1067 1202 1071 1214 1074 1226 1078 1238 1082 1250 1086 1262 1090 1274 1094 1286 1099 1298 1104 1310 1110 1322 1116 1334 1123 1346 1130 1358 1137 1369 1144 1379 1152 1388 1159 1397 1167 1405 1175 1412M1131 1346 1139 1358 1146 1369 1154 1379 1162 1388 1170 1397 1178 1405M1068 1178 1071 1190 1075 1202 1078 1214 1082 1226 1086 1238 1090 1250 1094 1262 1099 1274 1104 1286 1109 1298 1115 1310 1121 1322 1127 1334 1134 1346 1142 1358 1150 1369 1158 1379 1166 1388 1174 1397M1140 1322 1148 1334 1156 1346 1164 1358 1173 1369M1116 1178 1121 1190 1126 1202 1131 1214 1137 1226 1143 1238 1149 1250 1156 1262 1163 1274 1171 1286 1179 1298M1129 1178 1135 1190 1141 1202 1147 1214 1153 1226 1160 1238 1167 1250 1174 1262M1149 1178 1156 1190 1162 1202 1169 1214 1176 1226M1167 1178 1173 1190M1170 1178 1177 1190" fill="none" stroke="rgb(56,56,56)" stroke-width="2.0"/><path d="M969 1432 968 1437 968 1443 967 1447 967 1452 966 1456 966 1460 965 1464 965 1467 964 1470 964 1473 963 1476 962 1478 962 1481 961 1483 961 1485 960 1487 959 1489 958 1490 958 1492 957 1493 956 1495 955 1496 955 1497 954 1498 953 1499 952 1500 951 1501 950 1501 949 1502 948 1503 947 1504 946 1504 945 1505 943 1505 942 1506 941 1506 940 1507 938 1507M952 1178 951 1190 950 1202 949 1214 948 1226 947 1238 945 1250 944 1262 943 1274 941 1286 939 1298 938 1310 936 1322 934 1334 932 1346 929 1358 927 1369 924 1379 922 1388 919 1397 917 1405 914 1412 911 1419 909 1426 906 1432 903 1437 900 1443 897 1447 893 1452 890 1456 887 1460 883 1464 880 1467 876 1470 872 1473 868 1476 864 1478 860 1481 856 1483 852 1485 847 1487 842 1489 838 1490 833 1492 828 1493 822 1495 817 1496 811 1497 805 1498 799 1499M929 1346 926 1358 924 1369 921 1379 919 1388 916 1397 913 1405 910 1412 907 1419 904 1426 901 1432 898 1437 895 1443 892 1447 888 1452 885 1456 881 1460 878 1464 874 1467 870 1470 866 1473 862 1476 858 1478 853 1481 849 1483 844 1485 839 1487M925 1334 922 1346 920 1358 917 1369 914 1379 911 1388 908 1397 905 1405 902 1412 898 1419 895 1426 892 1432 888 1437 884 1443 881 1447 877 1452 873 1456 869 1460 865 1464 861 1467 856 1470 852 1473 847 1476 842 1478 837 1481 832 1483 827 1485M945 1178 944 1190 943 1202 942 1214 940 1226 939 1238 937 1250 935 1262 934 1274 932 1286 930 1298 927 1310 925 1322 923 1334 920 1346 917 1358 914 1369 911 1379 908 1388 905 1397 901 1405 898 1412 895 1419 891 1426 888 1432 884 1437 880 1443 876 1447 872 1452 868 1456 864 1460 860 1464 855 1467 851 1470 846 1473 841 1476 836 1478 831 1481 826 1483 820 1485 815 1487 809 1489 803 1490 797 1492M897 1334 893 1346 889 1358 885 1369 880 1379 876 1388 871 1397 867 1405 862 1412 857 1419 852 1426 847 1432 841 1437 836 1443 830 1447 825 1452 819 1456 813 1460 806 1464 800 1467M928 1178 926 1190 924 1202 922 1214 920 1226 918 1238 916 1250 913 1262 910 1274 908 1286 904 1298 901 1310 898 1322 894 1334 890 1346 885 1358 881 1369 876 1379 872 1388 867 1397 862 1405 857 1412 852 1419 847 1426 841 1432 836 1437 830 1443 824 1447 818 1452 812 1456 806 1460 799 1464M922 1178 920 1190 918 1202 915 1214 913 1226 910 1238 907 1250 905 1262 902 1274 898 1286 895 1298 891 1310 887 1322 883 1334 878 1346 873 1358 868 1369 863 1379 858 1388 853 1397 847 1405 842 1412 836 1419 830 1426 824 1432 818 1437 811 1443 805 1447 798 1452M883 1310 879 1322 874 1334 869 1346 864 1358 858 1369 853 1379 847 1388 841 1397 835 1405 829 1412 823 1419 816 1426 810 1432 803 1437 796 1443M912 1178 909 1190 907 1202 904 1214 901 1226 898 1238 895 1250 891 1262 888 1274 884 1286 880 1298 876 1310 871 1322 866 1334 860 1346 855 1358 849 1369 843 1379 836 1388 830 1397 824 1405 817 1412 810 1419 803 1426 796 1432M872 1286 867 1298 863 1310 857 1322 852 1334 846 1346 839 1358 832 1369 826 1379 819 1388 811 1397 804 1405 797 1412M895 1178 891 1190 888 1202 885 1214 881 1226 877 1238 873 1250 869 1262 865 1274 860 1286 855 1298 850 1310 844 1322 837 1334 831 1346 823 1358 816 1369 808 1379 801 1388M884 1178 881 1190 877 1202 873 1214 869 1226 865 1238 860 1250 856 1262 851 1274 845 1286 840 1298 834 1310 827 1322 820 1334 812 1346 804 1358 796 1369M881 1178 877 1190 873 1202 869 1214 865 1226 861 1238 856 1250 851 1262 846 1274 841 1286 835 1298 828 1310 822 1322 814 1334 806 1346 798 1358M874 1178 870 1190 866 1202 862 1214 857 1226 853 1238 848 1250 843 1262 837 1274 831 1286 825 1298 818 1310 811 1322 803 1334 795 1346M853 1178 849 1190 844 1202 839 1214 834 1226 828 1238 822 1250 816 1262 809 1274 802 1286 795 1298M840 1178 835 1190 830 1202 824 1214 818 1226 812 1238 806 1250 799 1262M830 1178 824 1190 819 1202 813 1214 806 1226 800 1238M816 1178 810 1190 804 1202 797 1214M983 1334 983 1346 983 1358 983 1369 983 1379 983 1388 984 1397 984 1405 984 1412 984 1419 984 1426 984 1432 985 1437 985 1443 985 1447 985 1452 986 1456 986 1460 986 1464 986 1467 986 1470 987 1473 987 1476 987 1478 988 1481 988 1483 988 1485 988 1487 989 1489 989 1490 989 1492 990 1493 990 1495 990 1496 991 1497 991 1498 992 1499 992 1500 993 1501 993 1502 994 1503 994 1504 995 1504 995 1505 996 1505 996 1506 997 1506 998 1507 999 1507 1000 1508 1001 1508 1002 1508 1002 1509 1003 1509 1004 1509 1005 1509 1006 1510 1007 1510 1008 1510 1010 1510 1013 1511M1003 1447 1004 1452 1005 1456 1006 1460 1007 1464 1008 1467 1009 1470 1010 1473 1011 1476 1012 1478 1014 1481 1015 1483 1016 1485 1017 1487 1019 1489 1020 1490 1022 1492 1023 1493 1025 1495 1026 1496 1028 1497 1029 1498 1031 1499 1033 1500M995 1358 996 1369 997 1379 998 1388 998 1397 999 1405 1000 1412 1001 1419 1002 1426 1003 1432 1004 1437 1005 1443 1006 1447 1007 1452 1008 1456 1009 1460 1010 1464 1011 1467 1012 1470 1013 1473 1015 1476 1016 1478 1017 1481 1019 1483 1020 1485 1021 1487 1023 1489 1024 1490 1026 1492 1028 1493 1029 1495 1031 1496 1033 1497 1034 1498 1036 1499 1038 1500 1040 1501 1042 1501 1045 1502 1047 1503 1049 1504 1051 1504 1054 1505M990 1178 990 1190 991 1202 991 1214 991 1226 992 1238 992 1250 993 1262 993 1274 994 1286 995 1298 995 1310 996 1322 997 1334 997 1346 998 1358 999 1369 1000 1379 1001 1388 1002 1397 1003 1405 1004 1412 1005 1419 1006 1426 1007 1432 1008 1437 1009 1443 1011 1447 1012 1452 1013 1456 1014 1460 1016 1464 1017 1467 1018 1470 1020 1473 1021 1476 1023 1478 1024 1481 1026 1483 1028 1485 1029 1487 1031 1489 1033 1490 1035 1492 1037 1493 1039 1495 1041 1496 1043 1497 1045 1498 1047 1499 1049 1500 1052 1501 1054 1501 1057 1502 1060 1503 1062 1504 1065 1504 1068 1505 1071 1505 1074 1506 1077 1506 1080 1507 1084 1507 1087 1507 1091 1508 1095 1508 1099 1508 1103 1508 1107 1509 1111 1509 1115 1509 1120 1509 1125 1510 1129 1510 1134 1510 1140 1510 1152 1510 1168 1511 1190 1511M997 1178 997 1190 998 1202 999 1214 999 1226 1000 1238 1001 1250 1002 1262 1003 1274 1004 1286 1005 1298 1006 1310 1007 1322 1008 1334 1009 1346 1011 1358 1012 1369 1014 1379 1015 1388 1017 1397 1019 1405 1020 1412 1022 1419 1024 1426 1026 1432 1027 1437 1029 1443 1031 1447 1033 1452 1035 1456 1037 1460 1040 1464 1042 1467 1044 1470 1047 1473 1049 1476 1051 1478 1054 1481 1057 1483 1059 1485 1062 1487 1065 1489 1068 1490 1071 1492 1074 1493 1078 1495 1081 1496 1085 1497 1088 1498 1092 1499 1096 1500 1100 1501 1104 1501 1108 1502 1113 1503 1117 1504 1122 1504 1127 1505 1132 1505 1137 1506 1142 1506 1147 1507 1153 1507 1159 1507 1165 1508 1171 1508 1178 1508M1000 1178 1001 1190 1002 1202 1002 1214 1003 1226 1004 1238 1005 1250 1006 1262 1007 1274 1008 1286 1010 1298 1011 1310 1012 1322 1014 1334 1016 1346 1017 1358 1019 1369 1021 1379 1023 1388 1025 1397 1027 1405 1029 1412 1031 1419 1033 1426 1035 1432 1037 1437 1040 1443 1042 1447 1044 1452 1047 1456 1049 1460 1052 1464 1055 1467 1057 1470 1060 1473 1063 1476 1066 1478 1069 1481 1073 1483 1076 1485 1079 1487 1083 1489 1086 1490 1090 1492 1094 1493 1098 1495 1102 1496 1106 1497 1111 1498 1115 1499 1120 1500 1125 1501 1129 1501 1135 1502 1140 1503 1145 1504 1151 1504 1157 1505 1163 1505 1169 1506 1175 1506M1003 1178 1004 1190 1005 1202 1006 1214 1007 1226 1008 1238 1009 1250 1011 1262 1012 1274 1013 1286 1015 1298 1016 1310 1018 1322 1020 1334 1022 1346 1024 1358 1026 1369 1028 1379 1030 1388 1032 1397 1035 1405 1037 1412 1039 1419 1042 1426 1044 1432 1047 1437 1050 1443 1052 1447 1055 1452 1058 1456 1061 1460 1064 1464 1067 1467 1070 1470 1074 1473 1077 1476 1081 1478 1084 1481 1088 1483 1092 1485 1096 1487 1100 1489 1104 1490 1108 1492 1113 1493 1118 1495 1122 1496 1127 1497 1132 1498 1138 1499 1143 1500 1149 1501 1154 1501 1160 1502 1166 1503 1173 1504 1179 1504M1022 1334 1024 1346 1026 1358 1029 1369 1031 1379 1033 1388 1036 1397 1038 1405 1041 1412 1043 1419 1046 1426 1048 1432 1051 1437 1054 1443 1057 1447 1060 1452 1063 1456 1066 1460 1069 1464 1073 1467 1076 1470 1080 1473 1083 1476 1087 1478 1091 1481 1095 1483 1099 1485 1103 1487 1108 1489 1112 1490M1024 1310 1026 1322 1028 1334 1030 1346 1033 1358 1035 1369 1038 1379 1041 1388 1043 1397 1046 1405 1049 1412 1052 1419 1055 1426 1058 1432 1061 1437 1064 1443 1068 1447 1071 1452 1074 1456 1078 1460 1082 1464 1085 1467 1089 1470 1093 1473 1098 1476 1102 1478 1106 1481 1111 1483 1115 1485 1120 1487 1125 1489 1130 1490M1010 1178 1011 1190 1012 1202 1013 1214 1015 1226 1016 1238 1018 1250 1019 1262 1021 1274 1022 1286 1024 1298 1026 1310 1028 1322 1030 1334 1033 1346 1036 1358 1038 1369 1041 1379 1044 1388 1047 1397 1049 1405 1052 1412 1055 1419 1059 1426 1062 1432 1065 1437 1068 1443 1072 1447 1075 1452 1079 1456 1083 1460 1087 1464 1091 1467 1095 1470 1099 1473 1103 1476 1108 1478 1113 1481 1117 1483 1122 1485 1127 1487 1132 1489 1138 1490 1143 1492 1149 1493 1155 1495 1161 1496 1167 1497 1174 1498M1045 1310 1048 1322 1051 1334 1054 1346 1058 1358 1062 1369 1065 1379 1069 1388 1073 1397 1077 1405 1081 1412 1086 1419 1090 1426 1095 1432 1099 1437 1104 1443 1109 1447 1114 1452 1119 1456 1124 1460 1129 1464 1135 1467 1141 1470 1147 1473 1153 1476 1159 1478M1034 1178 1036 1190 1038 1202 1040 1214 1042 1226 1045 1238 1047 1250 1050 1262 1053 1274 1056 1286 1059 1298 1062 1310 1066 1322 1070 1334 1075 1346 1079 1358 1084 1369 1089 1379 1094 1388 1099 1397 1104 1405 1109 1412 1115 1419 1120 1426 1126 1432 1132 1437 1138 1443 1144 1447 1150 1452 1157 1456 1164 1460 1171 1464 1178 1467M1058 1286 1062 1298 1065 1310 1069 1322 1073 1334 1078 1346 1082 1358 1087 1369 1092 1379 1097 1388 1103 1397 1108 1405 1113 1412 1119 1419 1125 1426 1131 1432 1137 1437 1143 1443 1149 1447 1156 1452 1163 1456 1170 1460 1177 1464M1051 1178 1054 1190 1057 1202 1059 1214 1062 1226 1066 1238 1069 1250 1073 1262 1076 1274 1080 1286 1085 1298 1089 1310 1094 1322 1099 1334 1105 1346 1111 1358 1117 1369 1124 1379 1130 1388 1137 1397 1144 1405 1151 1412 1158 1419 1165 1426 1173 1432M1054 1178 1057 1190 1060 1202 1063 1214 1066 1226 1070 1238 1073 1250 1077 1262 1081 1274 1085 1286 1089 1298 1094 1310 1099 1322 1105 1334 1111 1346 1117 1358 1124 1369 1131 1379 1137 1388 1144 1397 1152 1405 1159 1412 1166 1419 1174 1426M1087 1286 1092 1298 1097 1310 1102 1322 1108 1334 1114 1346 1121 1358 1127 1369 1134 1379 1141 1388 1148 1397 1156 1405 1163 1412 1171 1419 1179 1426M1075 1178 1078 1190 1082 1202 1086 1214 1090 1226 1094 1238 1098 1250 1103 1262 1108 1274 1113 1286 1119 1298 1125 1310 1132 1322 1139 1334 1146 1346 1155 1358 1163 1369 1171 1379 1180 1388M1092 1178 1096 1190 1100 1202 1105 1214 1110 1226 1115 1238 1120 1250 1125 1262 1131 1274 1138 1286 1144 1298 1151 1310 1159 1322 1168 1334 1177 1346M1099 1178 1103 1190 1107 1202 1112 1214 1117 1226 1123 1238 1128 1250 1134 1262 1140 1274 1147 1286 1154 1298 1162 1310 1170 1322 1179 1334M1105 1178 1110 1190 1115 1202 1120 1214 1125 1226 1131 1238 1136 1250 1143 1262 1149 1274 1156 1286 1164 1298 1172 1310 1180 1322M1109 1178 1114 1190 1119 1202 1124 1214 1129 1226 1135 1238 1141 1250 1148 1262 1154 1274 1162 1286 1169 1298 1178 1310M1119 1178 1124 1190 1130 1202 1135 1214 1141 1226 1147 1238 1154 1250 1161 1262 1168 1274 1176 1286M1133 1178 1138 1190 1144 1202 1150 1214 1157 1226 1164 1238 1171 1250 1178 1262M1139 1178 1145 1190 1152 1202 1158 1214 1165 1226 1172 1238 1179 1250M1160 1178 1166 1190 1173 1202M1163 1178 1170 1190 1177 1202" fill="none" stroke="rgb(85,85,85)" stroke-width="2.0"/><path d="M963 1432 962 1437 962 1443 961 1447 960 1452 960 1456 959 1460 958 1464 957 1467 956 1470 956 1473 955 1476 954 1478 953 1481 952 1483 951 1485 950 1487 949 1489 948 1490 947 1492 946 1493 944 1495 943 1496 942 1497 941 1498 939 1499 938 1500 937 1501 935 1501 934 1502 932 1503 930 1504 929 1504M973 1178 972 1190 972 1202 972 1214 972 1226 971 1238 971 1250 971 1262 970 1274 970 1286 970 1298 969 1310 969 1322 968 1334 968 1346 967 1358 966 1369 966 1379 965 1388 965 1397 964 1405 963 1412 963 1419 962 1426 961 1432 960 1437 960 1443 959 1447 958 1452 957 1456 957 1460 956 1464 955 1467 954 1470 953 1473 952 1476 951 1478 950 1481 949 1483 948 1485 947 1487 945 1489 944 1490 943 1492 942 1493 941 1495 939 1496 938 1497 936 1498 935 1499 933 1500 932 1501 930 1501 928 1502 927 1503 925 1504 923 1504 921 1505 919 1505 917 1506 915 1506 913 1507 911 1507 908 1507 906 1508 903 1508 901 1508 898 1508 896 1509 893 1509 890 1509 887 1509 884 1510 881 1510 877 1510 874 1510 866 1510 855 1511 841 1511 819 1511 779 1512M952 1467 951 1470 950 1473 949 1476 948 1478 947 1481 946 1483 944 1485 943 1487 942 1489 940 1490 939 1492 938 1493 936 1495 935 1496 933 1497M950 1456 949 1460 947 1464 946 1467 945 1470 944 1473 942 1476 941 1478 940 1481 938 1483 937 1485 935 1487 934 1489 932 1490 931 1492 929 1493 927 1495 925 1496M945 1452 944 1456 942 1460 941 1464 940 1467 938 1470 937 1473 935 1476 934 1478 932 1481 930 1483 928 1485 927 1487 925 1489 923 1490 921 1492 919 1493M963 1286 962 1298 962 1310 961 1322 960 1334 959 1346 958 1358 957 1369 956 1379 955 1388 954 1397 953 1405 952 1412 950 1419 949 1426 948 1432 947 1437 945 1443 944 1447 943 1452 941 1456 940 1460 938 1464 937 1467 935 1470 934 1473 932 1476 930 1478 929 1481 927 1483 925 1485 923 1487 921 1489 919 1490 917 1492 915 1493 912 1495 910 1496 908 1497 905 1498 903 1499 900 1500 897 1501 894 1501 892 1502 889 1503 886 1504 882 1504M962 1178 962 1190 961 1202 960 1214 960 1226 959 1238 958 1250 957 1262 956 1274 955 1286 954 1298 953 1310 952 1322 951 1334 950 1346 948 1358 947 1369 945 1379 944 1388 942 1397 940 1405 939 1412 937 1419 935 1426 933 1432 932 1437 930 1443 928 1447 926 1452 924 1456 922 1460 919 1464 917 1467 915 1470 912 1473 910 1476 908 1478 905 1481 902 1483 900 1485 897 1487 894 1489 891 1490 888 1492 884 1493 881 1495 878 1496 874 1497 871 1498 867 1499 863 1500 859 1501 855 1501 851 1502 846 1503 842 1504 837 1504 832 1505 827 1505 822 1506 817 1506 812 1507 806 1507 800 1507M944 1322 943 1334 941 1346 939 1358 937 1369 935 1379 933 1388 931 1397 929 1405 927 1412 925 1419 922 1426 920 1432 918 1437 915 1443 913 1447 910 1452 908 1456 905 1460 902 1464 899 1467 896 1470 893 1473 890 1476 887 1478 883 1481 880 1483 876 1485 873 1487 869 1489 865 1490 861 1492 857 1493 853 1495M949 1178 948 1190 947 1202 945 1214 944 1226 943 1238 941 1250 940 1262 938 1274 936 1286 935 1298 933 1310 931 1322 928 1334 926 1346 923 1358 921 1369 918 1379 915 1388 912 1397 909 1405 906 1412 903 1419 900 1426 897 1432 894 1437 890 1443 887 1447 883 1452 879 1456 876 1460 872 1464 868 1467 864 1470 859 1473 855 1476 850 1478 846 1481 841 1483 836 1485 831 1487 826 1489 820 1490 815 1492 809 1493 803 1495 797 1496M927 1298 925 1310 922 1322 919 1334 917 1346 913 1358 910 1369 907 1379 904 1388 901 1397 897 1405 894 1412 890 1419 886 1426 883 1432 879 1437 875 1443 871 1447 866 1452 862 1456 858 1460 853 1464 848 1467 844 1470 839 1473 833 1476 828 1478 823 1481 817 1483 811 1485M926 1274 924 1286 922 1298 919 1310 917 1322 914 1334 911 1346 907 1358 904 1369 900 1379 897 1388 893 1397 889 1405 885 1412 881 1419 877 1426 873 1432 869 1437 865 1443 860 1447 856 1452 851 1456 846 1460 841 1464 836 1467 830 1470 825 1473 819 1476 814 1478 808 1481 802 1483 795 1485M901 1286 897 1298 894 1310 890 1322 886 1334 881 1346 876 1358 872 1369 867 1379 861 1388 856 1397 851 1405 845 1412 840 1419 834 1426 828 1432 822 1437 816 1443 809 1447 803 1452 796 1456M880 1334 875 1346 870 1358 865 1369 860 1379 854 1388 849 1397 843 1405 837 1412 831 1419 825 1426 819 1432 813 1437 806 1443 799 1447M915 1178 913 1190 910 1202 908 1214 905 1226 902 1238 899 1250 896 1262 893 1274 889 1286 885 1298 881 1310 877 1322 872 1334 867 1346 861 1358 855 1369 850 1379 844 1388 838 1397 832 1405 825 1412 819 1419 812 1426 806 1432 799 1437M858 1358 852 1369 846 1379 840 1388 834 1397 828 1405 821 1412 815 1419 808 1426 801 1432M852 1358 845 1369 839 1379 833 1388 826 1397 820 1405 813 1412 806 1419 799 1426M901 1178 898 1190 895 1202 892 1214 889 1226 885 1238 882 1250 878 1262 874 1274 869 1286 865 1298 860 1310 854 1322 848 1334 842 1346 835 1358 828 1369 822 1379 814 1388 807 1397 800 1405M898 1178 895 1190 892 1202 889 1214 885 1226 881 1238 878 1250 874 1262 869 1274 865 1286 860 1298 855 1310 849 1322 843 1334 836 1346 830 1358 822 1369 815 1379 808 1388 800 1397M871 1178 867 1190 863 1202 858 1214 854 1226 849 1238 844 1250 838 1262 833 1274 827 1286 820 1298 813 1310 806 1322 798 1334M861 1178 856 1190 852 1202 847 1214 842 1226 837 1238 831 1250 825 1262 819 1274 812 1286 805 1298 798 1310M857 1178 853 1190 848 1202 843 1214 838 1226 832 1238 827 1250 821 1262 814 1274 807 1286 800 1298M847 1178 842 1190 837 1202 832 1214 826 1226 820 1238 814 1250 807 1262 800 1274M803 1178 796 1190M982 1447 982 1452 982 1456 982 1460 982 1464 982 1467 982 1470 982 1473 983 1476 983 1478 983 1481 983 1483 983 1485 983 1487 983 1489 983 1490 984 1492 984 1493 984 1495 984 1496 984 1497 984 1498 984 1499 985 1500 985 1501 985 1502 985 1503 986 1504 986 1505 986 1506 987 1506 987 1507 988 1508 989 1509 990 1509 990 1510 991 1510 992 1510 993 1511 995 1511M989 1346 989 1358 989 1369 990 1379 990 1388 991 1397 991 1405 992 1412 992 1419 993 1426 993 1432 994 1437 995 1443 995 1447 996 1452 996 1456 997 1460 998 1464 998 1467 999 1470 1000 1473 1000 1476 1001 1478 1002 1481 1003 1483 1004 1485 1004 1487 1005 1489 1006 1490 1007 1492 1008 1493 1009 1495 1010 1496 1011 1497 1012 1498 1013 1499 1015 1500 1016 1501 1017 1501 1018 1502 1020 1503 1021 1504 1022 1504 1024 1505 1025 1505 1027 1506 1029 1506 1030 1507 1032 1507 1034 1507 1035 1508 1037 1508M993 1178 994 1190 994 1202 995 1214 995 1226 996 1238 997 1250 997 1262 998 1274 999 1286 1000 1298 1000 1310 1001 1322 1002 1334 1003 1346 1005 1358 1006 1369 1007 1379 1008 1388 1010 1397 1011 1405 1012 1412 1014 1419 1015 1426 1016 1432 1018 1437 1019 1443 1021 1447 1023 1452 1024 1456 1026 1460 1028 1464 1029 1467 1031 1470 1033 1473 1035 1476 1037 1478 1039 1481 1041 1483 1043 1485 1046 1487 1048 1489 1050 1490 1053 1492 1055 1493 1058 1495 1061 1496 1064 1497 1066 1498 1069 1499 1073 1500 1076 1501 1079 1501 1082 1502 1086 1503 1089 1504 1093 1504 1097 1505 1101 1505 1105 1506 1109 1506 1114 1507 1118 1507 1123 1507 1128 1508 1133 1508 1138 1508 1143 1508 1149 1509 1154 1509 1160 1509 1166 1509 1172 1510 1179 1510M1011 1334 1013 1346 1014 1358 1016 1369 1018 1379 1019 1388 1021 1397 1023 1405 1025 1412 1027 1419 1029 1426 1031 1432 1033 1437 1035 1443 1037 1447 1039 1452 1041 1456 1044 1460 1046 1464 1049 1467 1051 1470 1054 1473 1057 1476 1059 1478 1062 1481 1065 1483 1068 1485 1071 1487 1075 1489 1078 1490 1081 1492 1085 1493 1088 1495 1092 1496M1018 1346 1020 1358 1022 1369 1024 1379 1026 1388 1028 1397 1030 1405 1033 1412 1035 1419 1037 1426 1040 1432 1042 1437 1044 1443 1047 1447 1049 1452 1052 1456 1055 1460 1058 1464 1061 1467 1064 1470 1067 1473 1070 1476 1073 1478 1077 1481 1080 1483 1084 1485 1087 1487 1091 1489 1095 1490 1099 1492 1103 1493M1040 1310 1042 1322 1045 1334 1048 1346 1052 1358 1055 1369 1059 1379 1062 1388 1066 1397 1070 1405 1074 1412 1077 1419 1082 1426 1086 1432 1090 1437 1094 1443 1099 1447 1103 1452 1108 1456 1113 1460 1118 1464 1123 1467 1128 1470 1134 1473 1139 1476 1145 1478 1151 1481 1157 1483M1030 1178 1032 1190 1034 1202 1036 1214 1038 1226 1041 1238 1043 1250 1046 1262 1048 1274 1051 1286 1054 1298 1057 1310 1061 1322 1065 1334 1069 1346 1073 1358 1078 1369 1082 1379 1087 1388 1091 1397 1096 1405 1101 1412 1106 1419 1112 1426 1117 1432 1122 1437 1128 1443 1134 1447 1140 1452 1146 1456 1152 1460 1159 1464 1165 1467 1172 1470 1179 1473M1044 1178 1047 1190 1049 1202 1052 1214 1054 1226 1057 1238 1060 1250 1064 1262 1067 1274 1071 1286 1074 1298 1079 1310 1083 1322 1088 1334 1093 1346 1099 1358 1104 1369 1110 1379 1116 1388 1122 1397 1128 1405 1134 1412 1141 1419 1148 1426 1154 1432 1161 1437 1169 1443 1176 1447M1126 1388 1133 1397 1139 1405 1146 1412 1153 1419M1134 1322 1142 1334 1149 1346 1158 1358 1166 1369 1175 1379M1095 1178 1099 1190 1104 1202 1108 1214 1113 1226 1118 1238 1124 1250 1129 1262 1135 1274 1142 1286 1149 1298 1156 1310 1164 1322 1173 1334 1182 1346M1102 1178 1106 1190 1111 1202 1116 1214 1121 1226 1127 1238 1132 1250 1138 1262 1145 1274 1152 1286 1159 1298 1167 1310 1175 1322M1112 1178 1117 1190 1122 1202 1128 1214 1133 1226 1139 1238 1145 1250 1152 1262 1159 1274 1166 1286 1174 1298M1143 1178 1149 1190 1155 1202 1162 1214 1169 1226 1176 1238" fill="none" stroke="rgb(113,113,113)" stroke-width="2.0"/><path d="M977 1460 977 1464 977 1467 977 1470 977 1473 977 1476 977 1478 977 1481 976 1483 976 1485 976 1487 976 1489 976 1490 976 1492 976 1493 976 1495 976 1496 975 1497 975 1498 975 1499 975 1500 975 1501 974 1502 974 1503 974 1504 974 1505 973 1506 973 1507 972 1508 971 1509 970 1509 970 1510 969 1510 968 1510 967 1511 966 1511M977 1298 977 1310 977 1322 976 1334 976 1346 976 1358 976 1369 976 1379 976 1388 975 1397 975 1405 975 1412 975 1419 975 1426 975 1432 974 1437 974 1443 974 1447 974 1452 973 1456 973 1460 973 1464 973 1467 973 1470 972 1473 972 1476 972 1478 971 1481 971 1483 971 1485 971 1487 970 1489 970 1490 970 1492 969 1493 969 1495 969 1496 968 1497 968 1498 967 1499 967 1500 967 1501 966 1501 966 1502 965 1503 965 1504 964 1504 964 1505 963 1505 963 1506 962 1506 961 1507 960 1507 960 1508 959 1508 958 1508 957 1508 957 1509 956 1509 955 1509 954 1509 954 1510 953 1510 952 1510 951 1510 949 1510 946 1511M968 1274 967 1286 967 1298 966 1310 966 1322 965 1334 964 1346 963 1358 963 1369 962 1379 961 1388 960 1397 960 1405 959 1412 958 1419 957 1426 956 1432 955 1437 954 1443 953 1447 952 1452 951 1456 950 1460 949 1464 948 1467 947 1470 945 1473 944 1476 943 1478 941 1481 940 1483 939 1485 937 1487 936 1489 934 1490 933 1492 931 1493 929 1495 928 1496 926 1497 924 1498 922 1499 920 1500 918 1501 916 1501 914 1502 912 1503 909 1504 907 1504 904 1505 902 1505 899 1506 897 1506 894 1507M966 1178 966 1190 965 1202 964 1214 964 1226 963 1238 963 1250 962 1262 961 1274 961 1286 960 1298 959 1310 958 1322 957 1334 956 1346 955 1358 954 1369 952 1379 951 1388 950 1397 949 1405 947 1412 946 1419 945 1426 943 1432 942 1437 940 1443 939 1447 937 1452 935 1456 934 1460 932 1464 930 1467 928 1470 927 1473 925 1476 923 1478 921 1481 919 1483 916 1485 914 1487 912 1489 910 1490 907 1492 905 1493 902 1495 899 1496 897 1497 894 1498 891 1499 888 1500 885 1501 881 1501 878 1502 875 1503 871 1504 867 1504 863 1505 860 1505 856 1506 851 1506 847 1507 843 1507 838 1507 833 1508 828 1508 823 1508 818 1508 813 1509 807 1509 801 1509M931 1460 929 1464 927 1467 925 1470 923 1473 921 1476 919 1478 917 1481 915 1483M959 1274 958 1286 957 1298 956 1310 955 1322 954 1334 953 1346 952 1358 950 1369 949 1379 947 1388 946 1397 945 1405 943 1412 942 1419 940 1426 938 1432 937 1437 935 1443 933 1447 932 1452 930 1456 928 1460 926 1464 924 1467 922 1470 920 1473 918 1476 915 1478 913 1481 911 1483 908 1485 906 1487 903 1489 901 1490 898 1492 895 1493 892 1495 889 1496 886 1497 883 1498 879 1499 876 1500 872 1501 869 1501 865 1502M952 1298 951 1310 950 1322 949 1334 947 1346 945 1358 944 1369 942 1379 940 1388 939 1397 937 1405 935 1412 933 1419 931 1426 929 1432 927 1437 925 1443 923 1447 921 1452 919 1456 917 1460 914 1464 912 1467 909 1470 907 1473 904 1476 901 1478 899 1481 896 1483 893 1485 890 1487 887 1489 883 1490 880 1492 876 1493 873 1495 869 1496 865 1497 862 1498 857 1499M959 1178 958 1190 957 1202 956 1214 956 1226 955 1238 954 1250 953 1262 952 1274 950 1286 949 1298 948 1310 947 1322 945 1334 943 1346 942 1358 940 1369 938 1379 936 1388 934 1397 932 1405 930 1412 928 1419 926 1426 924 1432 922 1437 919 1443 917 1447 914 1452 912 1456 909 1460 907 1464 904 1467 901 1470 899 1473 896 1476 893 1478 889 1481 886 1483 883 1485 879 1487 876 1489 872 1490 869 1492 865 1493 861 1495 857 1496 852 1497 848 1498 844 1499 839 1500 834 1501 829 1501 824 1502 819 1503 813 1504 808 1504 802 1505 796 1505M939 1178 937 1190 935 1202 934 1214 932 1226 930 1238 928 1250 926 1262 924 1274 922 1286 919 1298 917 1310 914 1322 911 1334 908 1346 904 1358 901 1369 897 1379 893 1388 889 1397 885 1405 881 1412 877 1419 873 1426 869 1432 864 1437 860 1443 855 1447 850 1452 845 1456 840 1460 835 1464 830 1467 824 1470 818 1473 813 1476 807 1478 800 1481M935 1178 934 1190 932 1202 930 1214 928 1226 926 1238 924 1250 922 1262 920 1274 917 1286 915 1298 912 1310 909 1322 905 1334 902 1346 898 1358 894 1369 890 1379 886 1388 882 1397 878 1405 874 1412 869 1419 865 1426 860 1432 855 1437 850 1443 845 1447 840 1452 835 1456 829 1460 824 1464 818 1467 812 1470 806 1473 799 1476M932 1178 930 1190 928 1202 926 1214 924 1226 922 1238 920 1250 918 1262 915 1274 912 1286 910 1298 907 1310 903 1322 900 1334 896 1346 892 1358 888 1369 883 1379 879 1388 875 1397 870 1405 865 1412 861 1419 856 1426 851 1432 846 1437 840 1443 835 1447 829 1452 824 1456 818 1460 812 1464 805 1467 799 1470M908 1178 906 1190 903 1202 900 1214 897 1226 894 1238 890 1250 887 1262 883 1274 879 1286 875 1298 870 1310 865 1322 860 1334 854 1346 848 1358 842 1369 836 1379 829 1388 823 1397 816 1405 809 1412 802 1419 794 1426M852 1298 847 1310 841 1322 834 1334 827 1346 820 1358 812 1369 804 1379 796 1388M891 1178 888 1190 884 1202 881 1214 877 1226 873 1238 869 1250 864 1262 860 1274 855 1286 849 1298 844 1310 838 1322 831 1334 824 1346 816 1358 809 1369 801 1379M888 1178 884 1190 881 1202 877 1214 873 1226 869 1238 865 1250 860 1262 855 1274 850 1286 845 1298 839 1310 832 1322 826 1334 818 1346 810 1358 802 1369 794 1379M851 1178 846 1190 841 1202 836 1214 830 1226 824 1238 818 1250 812 1262 805 1274 798 1286M843 1178 838 1190 833 1202 828 1214 822 1226 816 1238 810 1250 803 1262 796 1274M813 1178 807 1190 800 1202M1027 1178 1029 1190 1031 1202 1033 1214 1035 1226 1037 1238 1039 1250 1041 1262 1044 1274 1047 1286 1049 1298 1052 1310 1056 1322 1059 1334 1063 1346 1067 1358 1071 1369 1076 1379 1080 1388 1084 1397 1089 1405 1094 1412 1098 1419 1103 1426 1108 1432 1113 1437 1119 1443 1124 1447 1130 1452 1135 1456 1141 1460 1147 1464 1154 1467 1160 1470 1167 1473 1173 1476M1041 1178 1043 1190 1045 1202 1048 1214 1050 1226 1053 1238 1056 1250 1059 1262 1062 1274 1066 1286 1069 1298 1073 1310 1077 1322 1082 1334 1087 1346 1092 1358 1097 1369 1103 1379 1108 1388 1114 1397 1120 1405 1126 1412 1132 1419 1138 1426 1145 1432 1151 1437 1158 1443 1165 1447 1172 1452 1180 1456M1073 1286 1077 1298 1081 1310 1086 1322 1091 1334 1096 1346 1102 1358 1108 1369 1114 1379 1120 1388 1126 1397 1132 1405 1139 1412 1145 1419 1152 1426 1159 1432 1167 1437 1174 1443M1088 1178 1092 1190 1097 1202 1101 1214 1106 1226 1110 1238 1116 1250 1121 1262 1127 1274 1133 1286 1139 1298 1146 1310 1154 1322 1162 1334 1170 1346 1180 1358M1153 1178 1159 1190 1166 1202 1173 1214" fill="none" stroke="rgb(141,141,141)" stroke-width="2.0"/><path d="M971 1310 971 1322 971 1334 970 1346 970 1358 969 1369 969 1379 968 1388 968 1397 967 1405 967 1412 966 1419 966 1426 965 1432 965 1437 964 1443 964 1447 963 1452 962 1456 962 1460 961 1464 960 1467 960 1470 959 1473 958 1476 957 1478 956 1481 956 1483 955 1485 954 1487 953 1489 952 1490 951 1492 950 1493 949 1495 948 1496 947 1497 946 1498 945 1499 944 1500 942 1501 941 1501 940 1502 938 1503 937 1504 936 1504 934 1505 933 1505 931 1506 929 1506 928 1507 926 1507 924 1507 922 1508 920 1508 918 1508M938 1456 936 1460 935 1464 933 1467 931 1470 930 1473 928 1476 926 1478 924 1481 922 1483 920 1485 918 1487 916 1489M940 1310 938 1322 937 1334 935 1346 932 1358 930 1369 928 1379 925 1388 923 1397 921 1405 918 1412 916 1419 913 1426 910 1432 907 1437 905 1443 902 1447 899 1452 896 1456 892 1460 889 1464 886 1467 882 1470 879 1473 875 1476 871 1478 867 1481 863 1483 859 1485 855 1487 851 1489 846 1490 842 1492 837 1493M942 1178 941 1190 939 1202 938 1214 936 1226 934 1238 933 1250 931 1262 929 1274 927 1286 925 1298 922 1310 920 1322 917 1334 914 1346 911 1358 907 1369 904 1379 901 1388 897 1397 894 1405 890 1412 886 1419 882 1426 878 1432 874 1437 870 1443 866 1447 861 1452 857 1456 852 1460 848 1464 843 1467 838 1470 832 1473 827 1476 822 1478 816 1481 810 1483 804 1485 798 1487M918 1178 916 1190 914 1202 911 1214 909 1226 906 1238 903 1250 900 1262 897 1274 893 1286 890 1298 886 1310 882 1322 877 1334 872 1346 867 1358 862 1369 856 1379 851 1388 845 1397 839 1405 833 1412 827 1419 821 1426 814 1432 808 1437 801 1443M905 1178 902 1190 899 1202 896 1214 893 1226 890 1238 886 1250 882 1262 879 1274 874 1286 870 1298 865 1310 860 1322 855 1334 848 1346 842 1358 836 1369 829 1379 822 1388 815 1397 808 1405 801 1412M852 1310 846 1322 840 1334 833 1346 826 1358 819 1369 812 1379 804 1388 796 1397M864 1178 860 1190 855 1202 851 1214 846 1226 841 1238 835 1250 830 1262 824 1274 817 1286 810 1298 803 1310 795 1322M837 1178 831 1190 826 1202 820 1214 814 1226 808 1238 801 1250M823 1178 817 1190 811 1202 805 1214 798 1226M810 1178 803 1190 797 1202M806 1178 800 1190M983 1178 983 1190 983 1202 983 1214 983 1226 984 1238 984 1250 984 1262 984 1274 984 1286 984 1298 985 1310 985 1322 985 1334 985 1346 986 1358 986 1369 986 1379 987 1388 987 1397 987 1405 987 1412 988 1419 988 1426 989 1432 989 1437 989 1443 990 1447 990 1452 990 1456 991 1460 991 1464 992 1467 992 1470 993 1473 993 1476 994 1478 994 1481 995 1483 995 1485 996 1487 996 1489 997 1490 997 1492 998 1493 999 1495 999 1496 1000 1497 1001 1498 1002 1499 1002 1500 1003 1501 1004 1501 1005 1502 1006 1503 1006 1504 1007 1504 1008 1505 1009 1505 1010 1506 1011 1506 1012 1507 1013 1507 1015 1507 1016 1508 1017 1508 1018 1508 1020 1508 1021 1509 1022 1509 1024 1509 1025 1509 1027 1510 1028 1510 1030 1510 1032 1510 1036 1510 1041 1511 1048 1511 1059 1511 1078 1512M1017 1178 1018 1190 1020 1202 1021 1214 1023 1226 1024 1238 1026 1250 1028 1262 1030 1274 1032 1286 1034 1298 1037 1310 1039 1322 1042 1334 1045 1346 1048 1358 1051 1369 1055 1379 1058 1388 1062 1397 1065 1405 1069 1412 1072 1419 1076 1426 1080 1432 1084 1437 1088 1443 1093 1447 1097 1452 1101 1456 1106 1460 1111 1464 1116 1467 1121 1470 1126 1473 1131 1476 1137 1478 1142 1481 1148 1483 1154 1485 1160 1487 1167 1489 1173 1490" fill="none" stroke="rgb(170,170,170)" stroke-width="2.0"/><path d="M969 1178 969 1190 968 1202 968 1214 967 1226 967 1238 966 1250 966 1262 965 1274 965 1286 964 1298 964 1310 963 1322 962 1334 961 1346 960 1358 959 1369 958 1379 958 1388 957 1397 956 1405 955 1412 954 1419 952 1426 951 1432 950 1437 949 1443 948 1447 947 1452 945 1456 944 1460 943 1464 941 1467 940 1470 939 1473 937 1476 936 1478 934 1481 932 1483 931 1485 929 1487 927 1489 925 1490 923 1492 921 1493 919 1495 917 1496 915 1497 913 1498 911 1499 908 1500 906 1501 903 1501 901 1502 898 1503 895 1504 893 1504 890 1505 887 1505 884 1506 880 1506 877 1507 874 1507 870 1507 866 1508 862 1508 859 1508 854 1508 850 1509 846 1509 842 1509 837 1509 832 1510 827 1510 822 1510 817 1510 804 1510 788 1511M827 1178 821 1190 815 1202 809 1214 802 1226 796 1238M820 1178 814 1190 808 1202 801 1214" fill="none" stroke="rgb(198,198,198)" stroke-width="2.0"/><path d="M976 1489 976 1490 976 1492 976 1493 976 1495M964 1470 964 1473 963 1476M946 1483 944 1485 943 1487M947 1470 945 1473M941 1478 940 1481 938 1483 937 1485 935 1487M948 1432 947 1437M892 1495 889 1496M928 1447 926 1452 924 1456M910 1412 907 1419 904 1426 901 1432 898 1437M856 1470 852 1473M841 1476 836 1478M838 1470 832 1473 827 1476M889 1397 885 1405 881 1412 877 1419 873 1426M860 1437 855 1443 850 1447M878 1405 874 1412 869 1419 865 1426 860 1432M841 1437 836 1443 830 1447 825 1452 819 1456M873 1379 868 1388 863 1397 858 1405M867 1379 861 1388 856 1397M874 1334 869 1346 864 1358 858 1369M881 1310 877 1322 872 1334 867 1346 861 1358M815 1419 808 1426M901 1226 898 1238 895 1250 891 1262M852 1358 845 1369 839 1379M887 1262 883 1274 879 1286M860 1322 855 1334 848 1346M867 1298 863 1310 857 1322M849 1322 843 1334 836 1346 830 1358 822 1369M846 1322 840 1334 833 1346M847 1310 841 1322 834 1334 827 1346 820 1358M869 1250 864 1262 860 1274 855 1286 849 1298M869 1238 865 1250 860 1262M877 1202 873 1214 869 1226 865 1238M865 1226 861 1238M862 1226 857 1238 852 1250M827 1286 820 1298M861 1178 856 1190M844 1202 839 1214M818 1250 812 1262 805 1274M828 1214 822 1226M817 1214 810 1226 804 1238M827 1178 821 1190M810 1190 804 1202 797 1214M985 1502 985 1503 986 1504M995 1496 995 1497 996 1498 996 1499 997 1500M986 1369 986 1379 987 1388M1012 1504 1013 1504M1004 1485 1004 1487 1005 1489 1006 1490M988 1238 988 1250 989 1262 989 1274 989 1286M1005 1443 1006 1447 1007 1452M1041 1496 1043 1497 1045 1498M1043 1495 1045 1496M1000 1346 1001 1358 1002 1369 1003 1379 1004 1388M1014 1419 1015 1426 1016 1432M1018 1379 1019 1388 1021 1397 1023 1405 1025 1412M1037 1437 1040 1443 1042 1447 1044 1452M1095 1490 1099 1492 1103 1493M1006 1214 1007 1226 1008 1238 1009 1250 1011 1262M1043 1419 1046 1426 1048 1432 1051 1437M1071 1452 1074 1456 1078 1460 1082 1464M1117 1483 1122 1485 1127 1487 1132 1489M1088 1460 1093 1464M1024 1262 1025 1274M1042 1346 1045 1358M1077 1419 1082 1426M1104 1443 1109 1447M1125 1452 1130 1456M1051 1286 1054 1298 1057 1310M1121 1432 1127 1437 1133 1443 1139 1447M1108 1405 1113 1412 1119 1419 1125 1426M1045 1202 1048 1214 1050 1226M1083 1322 1088 1334 1093 1346 1099 1358M1081 1310 1086 1322M1114 1358 1120 1369 1126 1379 1133 1388M1152 1405 1159 1412 1166 1419 1174 1426M1092 1298 1097 1310 1102 1322 1108 1334M1137 1369 1144 1379 1152 1388 1159 1397M1158 1379 1166 1388M1114 1298 1120 1310 1126 1322 1133 1334M1146 1346 1155 1358 1163 1369 1171 1379M1124 1298 1131 1310 1137 1322 1145 1334 1153 1346M1128 1286 1134 1298 1141 1310 1148 1322 1156 1334M1101 1214 1106 1226 1110 1238M1100 1202 1105 1214M1164 1322 1173 1334M1134 1262 1140 1274 1147 1286 1154 1298M1109 1178 1114 1190M1137 1226 1143 1238M1124 1190 1130 1202 1135 1214M1139 1214 1145 1226 1151 1238M1131 1190 1137 1202 1143 1214 1149 1226 1156 1238M1141 1202 1147 1214 1153 1226 1160 1238 1167 1250M1161 1226 1168 1238 1175 1250M1165 1226 1172 1238 1179 1250M1165 1214 1172 1226 1180 1238M1149 1178 1156 1190M1163 1190 1170 1202 1177 1214" fill="none" stroke="rgb(28,28,28)" stroke-width="2.5"/><defs><linearGradient id="bbw1" x1="0" y1="0" x2="0" y2="1"><stop offset="0" stop-color="#000" stop-opacity="0"/><stop offset="0.3" stop-color="#050505" stop-opacity="0.95"/><stop offset="1" stop-color="#000"/></linearGradient></defs><rect x="804.3" y="1506" width="365.6" height="39.3" fill="url(#bbw1)"/><polygon points="804.3,1179.3 838,1179.3 804.3,1251" fill="#000"/><polygon points="1123,1179.3 1169.9,1179.3 1169.9,1279.4" fill="#000"/><g filter="url(#bl2)"><path d="M972 1440 Q975 1500 960 1508 M986 1440 Q983 1500 998 1508 M979 1430 L979 1505" stroke="#f0f0f0" stroke-width="2.5" fill="none"/></g></g><defs><clipPath id="cw2"><rect x="801.6" y="1577" width="366.0" height="365.5"/></clipPath></defs><g clip-path="url(#cw2)"><rect x="801.6" y="1577" width="366.0" height="365.5" fill="#0c0c0c"/><rect x="801.6" y="1577" width="188.4" height="312.5" fill="#a4a4a4"/><rect x="990" y="1577" width="177.6" height="312.5" fill="#9c9c9c"/><path d="M994 1576 994 1588 994 1600 994 1612 994 1624 994 1636 994 1648 995 1660 995 1672 995 1684 995 1696 996 1708 996 1720 996 1732 996 1743 997 1753 997 1763 997 1772 998 1780 998 1788 998 1795 999 1801 999 1807 999 1813 1000 1819 1000 1824 1001 1828 1001 1832 1001 1836 1002 1840 1002 1844 1003 1847 1003 1850 1004 1853 1004 1855 1005 1858 1005 1860 1006 1862 1006 1864 1007 1866 1007 1867 1008 1869 1009 1870 1009 1872 1010 1873 1011 1874 1011 1875 1012 1876 1013 1877 1014 1878 1014 1879 1015 1879 1016 1880 1017 1881 1018 1881 1019 1882 1020 1883 1021 1883 1022 1883 1023 1884 1024 1884 1025 1885 1026 1885 1028 1885 1029 1886 1030 1886 1032 1886 1033 1886 1034 1887 1036 1887 1037 1887 1039 1887 1041 1887 1042 1887 1044 1888 1049 1888 1054 1888 1063 1889 1075 1889 1101 1889M1004 1576 1004 1588 1005 1600 1005 1612 1006 1624 1006 1636 1007 1648 1008 1660 1009 1672 1009 1684 1010 1696 1011 1708 1012 1720 1013 1732 1014 1743 1016 1753 1017 1763 1018 1772 1019 1780 1020 1788 1022 1795 1023 1801 1024 1807 1026 1813 1027 1819 1029 1824 1030 1828 1032 1832 1033 1836 1035 1840 1036 1844 1038 1847 1040 1850 1042 1853 1044 1855 1046 1858 1048 1860 1050 1862 1052 1864 1054 1866 1056 1867 1058 1869 1061 1870 1063 1872 1066 1873 1069 1874 1071 1875 1074 1876 1077 1877 1080 1878 1083 1879 1086 1879 1089 1880 1093 1881 1096 1881 1100 1882 1103 1883 1107 1883 1111 1883 1115 1884 1120 1884 1124 1885 1128 1885 1133 1885 1138 1886 1143 1886 1148 1886 1153 1886 1159 1887 1164 1887 1170 1887 1176 1887M1014 1576 1015 1588 1016 1600 1017 1612 1018 1624 1019 1636 1020 1648 1021 1660 1023 1672 1024 1684 1026 1696 1027 1708 1029 1720 1031 1732 1033 1743 1035 1753 1037 1763 1039 1772 1041 1780 1044 1788 1046 1795 1048 1801 1051 1807 1053 1813 1056 1819 1058 1824 1061 1828 1063 1832 1066 1836 1069 1840 1072 1844 1075 1847 1078 1850 1081 1853 1085 1855 1088 1858 1092 1860 1095 1862 1099 1864 1103 1866 1107 1867 1111 1869 1115 1870 1120 1872 1124 1873 1129 1874 1133 1875 1138 1876 1143 1877 1149 1878 1154 1879 1160 1879 1165 1880 1171 1881" fill="none" stroke="rgb(85,85,85)" stroke-width="1.9"/><path d="M917 1732 914 1743 910 1753 906 1763 903 1772 899 1780 895 1788 891 1795 887 1801 882 1807 878 1813 874 1819 869 1824 864 1828 860 1832 855 1836 849 1840 844 1844 839 1847 833 1850M878 1576 874 1588 869 1600 865 1612 860 1624 854 1636 849 1648 843 1660 837 1672 830 1684 823 1696 815 1708 807 1720 798 1732M820 1576 814 1588 807 1600 800 1612 792 1624M803 1576 796 1588M1004 1720 1004 1732 1005 1743 1006 1753 1007 1763 1007 1772 1008 1780 1009 1788 1010 1795 1011 1801 1011 1807 1012 1813 1013 1819 1014 1824 1015 1828 1016 1832 1017 1836 1018 1840 1019 1844 1020 1847 1021 1850 1022 1853 1023 1855 1025 1858 1026 1860 1027 1862 1028 1864 1030 1866 1031 1867 1033 1869 1034 1870 1036 1872 1037 1873 1039 1874 1041 1875 1042 1876 1044 1877 1046 1878 1048 1879 1050 1879 1052 1880 1054 1881 1056 1881 1058 1882 1061 1883 1063 1883M1058 1576 1060 1588 1063 1600 1066 1612 1069 1624 1072 1636 1075 1648 1079 1660 1083 1672 1087 1684 1091 1696 1096 1708 1101 1720 1106 1732 1112 1743 1118 1753 1124 1763 1130 1772 1136 1780 1142 1788 1148 1795 1155 1801 1162 1807 1169 1813 1176 1819M1092 1576 1096 1588 1100 1600 1104 1612 1109 1624 1114 1636 1119 1648 1124 1660 1130 1672 1136 1684 1142 1696 1149 1708 1157 1720 1165 1732 1174 1743M1157 1576 1163 1588 1170 1600 1177 1612" fill="none" stroke="rgb(113,113,113)" stroke-width="1.9"/><path d="M956 1743 955 1753 953 1763 952 1772 950 1780 948 1788 946 1795 945 1801 943 1807 941 1813 939 1819 937 1824 935 1828 933 1832 931 1836 928 1840 926 1844 924 1847 921 1850 919 1853 916 1855 914 1858 911 1860 908 1862 905 1864 902 1866 899 1867 896 1869 892 1870 889 1872 886 1873M950 1743 948 1753 946 1763 945 1772 943 1780 940 1788 938 1795 936 1801 934 1807 932 1813 929 1819 927 1824 925 1828 922 1832 920 1836 917 1840 914 1844 911 1847 908 1850 905 1853 902 1855 899 1858 896 1860 893 1862 889 1864 886 1866 882 1867 878 1869 874 1870M966 1576 965 1588 964 1600 963 1612 962 1624 961 1636 960 1648 959 1660 958 1672 956 1684 955 1696 953 1708 951 1720 949 1732 947 1743 945 1753 943 1763 941 1772 939 1780 937 1788 935 1795 932 1801 930 1807 927 1813 925 1819 922 1824 920 1828 917 1832 914 1836 911 1840 909 1844 906 1847 902 1850 899 1853 896 1855 893 1858 889 1860 885 1862 882 1864 878 1866 874 1867 870 1869 866 1870 861 1872 857 1873 852 1874 848 1875 843 1876 838 1877 833 1878 827 1879 822 1879 816 1880 810 1881 804 1881 798 1882M944 1743 942 1753 940 1763 937 1772 935 1780 933 1788 930 1795 928 1801 925 1807 923 1813 920 1819 917 1824 914 1828 912 1832 909 1836 906 1840 902 1844 899 1847 896 1850 892 1853 889 1855 885 1858 881 1860 878 1862 874 1864 869 1866M937 1720 934 1732 932 1743 929 1753 926 1763 923 1772 920 1780 917 1788 914 1795 911 1801 908 1807 905 1813 901 1819 898 1824 894 1828 891 1832 887 1836 883 1840 879 1844 875 1847 871 1850 866 1853 862 1855 857 1858 852 1860 847 1862M932 1576 930 1588 928 1600 925 1612 923 1624 920 1636 917 1648 914 1660 911 1672 907 1684 904 1696 900 1708 895 1720 891 1732 886 1743 881 1753 876 1763 871 1772 866 1780 860 1788 855 1795 849 1801 843 1807 837 1813 831 1819 825 1824 819 1828 812 1832 805 1836 798 1840M865 1743 859 1753 853 1763 847 1772 840 1780 834 1788 827 1795 821 1801 814 1807 807 1813M888 1576 884 1588 880 1600 876 1612 871 1624 866 1636 861 1648 856 1660 850 1672 844 1684 838 1696 831 1708 823 1720 815 1732 806 1743 798 1753M884 1576 880 1588 876 1600 872 1612 867 1624 862 1636 857 1648 851 1660 846 1672 839 1684 833 1696 825 1708 817 1720 809 1732 800 1743 791 1753M864 1576 859 1588 854 1600 849 1612 844 1624 838 1636 831 1648 825 1660 818 1672 810 1684 802 1696 794 1708M861 1576 856 1588 851 1600 845 1612 840 1624 833 1636 827 1648 820 1660 813 1672 805 1684 797 1696M854 1576 849 1588 843 1600 838 1612 832 1624 825 1636 819 1648 811 1660 804 1672 796 1684M837 1576 831 1588 825 1600 819 1612 812 1624 805 1636 797 1648M823 1576 817 1588 810 1600 803 1612 796 1624M1022 1824 1023 1828 1025 1832 1026 1836 1027 1840 1029 1844 1030 1847 1032 1850 1033 1853 1035 1855 1036 1858 1038 1860 1040 1862 1041 1864 1043 1866 1045 1867 1047 1869 1049 1870 1051 1872M1039 1844 1041 1847 1043 1850 1045 1853 1047 1855 1049 1858 1051 1860M1016 1732 1017 1743 1019 1753 1020 1763 1021 1772 1023 1780 1024 1788 1026 1795 1027 1801 1029 1807 1030 1813 1032 1819 1033 1824 1035 1828 1037 1832 1039 1836 1040 1840 1042 1844 1044 1847 1046 1850 1048 1853 1050 1855 1053 1858 1055 1860 1057 1862 1060 1864 1062 1866 1065 1867 1067 1869 1070 1870 1073 1872 1075 1873 1078 1874 1081 1875 1085 1876 1088 1877M1021 1576 1022 1588 1023 1600 1024 1612 1026 1624 1027 1636 1029 1648 1030 1660 1032 1672 1034 1684 1036 1696 1038 1708 1040 1720 1042 1732 1045 1743 1048 1753 1050 1763 1053 1772 1056 1780 1059 1788 1061 1795 1064 1801 1067 1807 1071 1813 1074 1819 1077 1824 1080 1828 1084 1832 1088 1836 1091 1840 1095 1844 1099 1847 1103 1850 1107 1853 1111 1855 1116 1858 1120 1860 1125 1862 1129 1864 1134 1866 1139 1867 1145 1869 1150 1870 1156 1872 1161 1873 1167 1874 1173 1875M1054 1720 1057 1732 1060 1743 1064 1753 1067 1763 1070 1772 1074 1780 1078 1788 1081 1795 1085 1801 1089 1807 1093 1813 1097 1819 1101 1824 1106 1828 1110 1832 1115 1836 1119 1840 1124 1844 1129 1847 1134 1850 1139 1853 1145 1855 1150 1858M1031 1576 1032 1588 1034 1600 1036 1612 1038 1624 1040 1636 1042 1648 1044 1660 1046 1672 1048 1684 1051 1696 1054 1708 1057 1720 1060 1732 1064 1743 1067 1753 1071 1763 1074 1772 1078 1780 1082 1788 1086 1795 1090 1801 1094 1807 1098 1813 1102 1819 1107 1824 1111 1828 1116 1832 1121 1836 1125 1840 1131 1844 1136 1847 1141 1850 1147 1853 1152 1855 1158 1858 1164 1860 1170 1862 1177 1864M1038 1576 1040 1588 1042 1600 1044 1612 1046 1624 1048 1636 1050 1648 1053 1660 1055 1672 1058 1684 1061 1696 1065 1708 1068 1720 1072 1732 1076 1743 1080 1753 1084 1763 1088 1772 1093 1780 1097 1788 1102 1795 1106 1801 1111 1807 1116 1813 1121 1819 1126 1824 1131 1828 1137 1832 1142 1836 1148 1840 1154 1844 1160 1847 1166 1850 1173 1853M1067 1672 1070 1684 1074 1696 1078 1708 1082 1720 1087 1732 1091 1743 1096 1753 1101 1763 1106 1772 1111 1780 1116 1788 1121 1795 1127 1801 1133 1807 1138 1813 1144 1819 1150 1824 1156 1828 1163 1832 1169 1836 1176 1840M1089 1696 1093 1708 1098 1720 1104 1732 1109 1743 1115 1753 1120 1763 1126 1772 1132 1780 1138 1788 1145 1795 1151 1801 1158 1807 1164 1813 1171 1819M1065 1576 1068 1588 1071 1600 1074 1612 1077 1624 1081 1636 1084 1648 1088 1660 1092 1672 1097 1684 1102 1696 1107 1708 1112 1720 1119 1732 1125 1743 1131 1753 1138 1763 1144 1772 1151 1780 1158 1788 1165 1795 1172 1801M1068 1576 1071 1588 1074 1600 1078 1612 1081 1624 1085 1636 1089 1648 1093 1660 1097 1672 1102 1684 1107 1696 1112 1708 1118 1720 1124 1732 1131 1743 1138 1753 1144 1763 1151 1772 1158 1780 1166 1788 1173 1795M1123 1576 1128 1588 1133 1600 1138 1612 1144 1624 1150 1636 1157 1648 1164 1660 1171 1672M1130 1576 1135 1588 1140 1600 1146 1612 1152 1624 1159 1636 1166 1648 1173 1660M1133 1576 1138 1588 1144 1600 1150 1612 1156 1624 1163 1636 1170 1648 1178 1660M1136 1576 1142 1588 1148 1600 1154 1612 1160 1624 1167 1636 1174 1648" fill="none" stroke="rgb(141,141,141)" stroke-width="1.9"/><path d="M988 1672 988 1684 988 1696 988 1708 988 1720 987 1732 987 1743 987 1753 987 1763 987 1772 987 1780 987 1788 987 1795 986 1801 986 1807 986 1813 986 1819 986 1824 986 1828 985 1832 985 1836 985 1840 985 1844 985 1847 985 1850 984 1853 984 1855 984 1858 984 1860 984 1862 983 1864 983 1866 983 1867 983 1869 982 1870 982 1872 982 1873 981 1874 981 1875 981 1876 981 1877 980 1878 980 1879 979 1880 979 1881 978 1881 978 1882 978 1883 977 1883 976 1884 975 1885 974 1885 974 1886 973 1886 972 1886 972 1887 971 1887 970 1887 969 1887 968 1887 968 1888 966 1888 963 1888 960 1889M981 1840 981 1844 980 1847 980 1850 980 1853 979 1855 979 1858 978 1860 978 1862 978 1864 977 1866 977 1867 976 1869 976 1870 975 1872 975 1873 974 1874 974 1875 973 1876 973 1877 972 1878 971 1879 970 1880 969 1881 968 1882 967 1883 966 1883 965 1884 964 1884 963 1885 962 1885M983 1684 982 1696 982 1708 982 1720 981 1732 981 1743 980 1753 980 1763 979 1772 979 1780 978 1788 978 1795 977 1801 977 1807 976 1813 976 1819 975 1824 975 1828 974 1832 974 1836 973 1840 972 1844 972 1847 971 1850 970 1853 970 1855 969 1858 968 1860 967 1862 967 1864 966 1866 965 1867 964 1869 963 1870 962 1872 961 1873 960 1874 959 1875 958 1876 957 1877 956 1878 955 1879 954 1879 952 1880 951 1881 950 1881 948 1882 947 1883 945 1883 944 1883 942 1884 941 1884 939 1885 937 1885 936 1885 934 1886 932 1886 930 1886M965 1836 964 1840 963 1844 962 1847 961 1850 960 1853 959 1855 958 1858 956 1860 955 1862 954 1864 953 1866 951 1867 950 1869 949 1870 947 1872 946 1873 944 1874 943 1875 941 1876M980 1576 979 1588 979 1600 979 1612 978 1624 978 1636 977 1648 977 1660 976 1672 975 1684 975 1696 974 1708 973 1720 973 1732 972 1743 971 1753 970 1763 969 1772 968 1780 967 1788 966 1795 965 1801 964 1807 963 1813 962 1819 961 1824 960 1828 959 1832 958 1836 956 1840 955 1844 954 1847 952 1850 951 1853 950 1855 948 1858 947 1860 945 1862 944 1864 942 1866 940 1867 938 1869 937 1870 935 1872 933 1873 931 1874 929 1875 927 1876 925 1877 922 1878 920 1879 918 1879 915 1880 913 1881 910 1881 907 1882 905 1883 902 1883 899 1883 896 1884 893 1884 889 1885 886 1885 882 1885 879 1886 875 1886 871 1886 867 1886 863 1887 859 1887 854 1887 850 1887 845 1887 840 1887 835 1888 823 1888 806 1888 783 1889M971 1720 970 1732 969 1743 968 1753 967 1763 965 1772 964 1780 963 1788 962 1795 961 1801 960 1807 959 1813 957 1819 956 1824 955 1828 953 1832 952 1836 951 1840 949 1844 948 1847 946 1850 944 1853 943 1855 941 1858 939 1860 938 1862 936 1864 934 1866 932 1867 930 1869 928 1870 925 1872 923 1873 921 1874 919 1875 916 1876 914 1877 911 1878 908 1879 905 1879 903 1880M968 1684 967 1696 966 1708 965 1720 964 1732 962 1743 961 1753 960 1763 958 1772 957 1780 956 1788 954 1795 953 1801 951 1807 949 1813 948 1819 946 1824 944 1828 943 1832 941 1836 939 1840 937 1844 935 1847 933 1850 931 1853 929 1855 927 1858 925 1860 922 1862 920 1864 917 1866 915 1867 912 1869 909 1870 907 1872 904 1873 901 1874 898 1875 895 1876 891 1877 888 1878 884 1879M963 1576 962 1588 961 1600 960 1612 959 1624 957 1636 956 1648 955 1660 953 1672 951 1684 950 1696 948 1708 946 1720 944 1732 941 1743 939 1753 937 1763 934 1772 932 1780 929 1788 927 1795 924 1801 921 1807 919 1813 916 1819 913 1824 910 1828 907 1832 904 1836 900 1840 897 1844 894 1847 890 1850 886 1853 883 1855 879 1858 875 1860 871 1862 867 1864 862 1866 858 1867 853 1869 848 1870 843 1872 838 1873 833 1874 828 1875 822 1876 816 1877 810 1878 804 1879 798 1879M947 1696 945 1708 942 1720 940 1732 938 1743 935 1753 933 1763 930 1772 927 1780 925 1788 922 1795 919 1801 916 1807 913 1813 910 1819 907 1824 904 1828 901 1832 897 1836 894 1840 890 1844 886 1847 883 1850 879 1853 875 1855 870 1858 866 1860 862 1862 857 1864 853 1866 848 1867 843 1869M920 1743 917 1753 913 1763 910 1772 906 1780 903 1788 899 1795 895 1801 891 1807 887 1813 883 1819 879 1824 875 1828 870 1832 866 1836 861 1840 856 1844 851 1847 846 1850 841 1853M946 1576 944 1588 943 1600 941 1612 939 1624 937 1636 935 1648 932 1660 930 1672 927 1684 924 1696 921 1708 918 1720 914 1732 911 1743 907 1753 903 1763 899 1772 895 1780 891 1788 887 1795 883 1801 878 1807 874 1813 869 1819 865 1824 860 1828 855 1832 850 1836 844 1840 839 1844 833 1847 827 1850 822 1853 815 1855 809 1858 803 1860 796 1862M923 1672 920 1684 917 1696 913 1708 909 1720 905 1732 901 1743 897 1753 893 1763 889 1772 884 1780 880 1788 875 1795 870 1801 865 1807 860 1813 855 1819 850 1824 844 1828 839 1832 833 1836 827 1840 821 1844 815 1847 808 1850 802 1853 795 1855M915 1576 912 1588 909 1600 906 1612 903 1624 899 1636 896 1648 892 1660 888 1672 883 1684 878 1696 873 1708 867 1720 861 1732 855 1743 849 1753 842 1763 836 1772 829 1780 822 1788 815 1795 808 1801 800 1807 793 1813M908 1576 905 1588 902 1600 899 1612 895 1624 891 1636 887 1648 883 1660 878 1672 873 1684 868 1696 863 1708 856 1720 850 1732 843 1743 836 1753 829 1763 822 1772 815 1780 807 1788 799 1795 791 1801M858 1576 852 1588 847 1600 842 1612 836 1624 830 1636 823 1648 816 1660 809 1672 801 1684 793 1696M850 1576 845 1588 840 1600 834 1612 828 1624 821 1636 814 1648 807 1660 799 1672 791 1684M834 1576 828 1588 822 1600 815 1612 808 1624 801 1636 793 1648M992 1819 993 1824 993 1828 993 1832 993 1836 993 1840 993 1844 993 1847 993 1850 993 1853 993 1855 994 1858 994 1860 994 1862 994 1864 994 1866 994 1867 994 1869 995 1870 995 1872 995 1873 995 1874 995 1875 995 1876 996 1877 996 1878 996 1879 996 1880 997 1881 997 1882 997 1883 998 1883 998 1884 999 1885 1000 1886 1001 1886 1001 1887 1002 1887 1003 1887 1003 1888 1004 1888 1006 1888M999 1847 999 1850 999 1853 1000 1855 1000 1858 1000 1860 1001 1862 1001 1864 1001 1866 1002 1867 1002 1869 1003 1870 1003 1872 1003 1873 1004 1874 1004 1875 1005 1876 1005 1877 1006 1878 1006 1879 1007 1879 1008 1880 1008 1881 1009 1881 1009 1882 1010 1883 1011 1883 1012 1884 1013 1884 1014 1885 1015 1885M1005 1847 1006 1850 1007 1853 1007 1855 1008 1858 1008 1860 1009 1862 1010 1864 1011 1866 1011 1867 1012 1869 1013 1870 1014 1872 1014 1873 1015 1874 1016 1875 1017 1876 1018 1877 1019 1878 1020 1879 1021 1879 1022 1880 1023 1881 1024 1881 1025 1882M1011 1824 1012 1828 1013 1832 1014 1836 1015 1840 1015 1844 1016 1847 1017 1850 1018 1853 1019 1855 1020 1858 1022 1860 1023 1862 1024 1864 1025 1866 1026 1867 1028 1869 1029 1870 1030 1872 1032 1873 1033 1874 1035 1875 1036 1876 1038 1877 1039 1878 1041 1879M1026 1853 1028 1855 1029 1858 1031 1860 1032 1862 1033 1864 1035 1866 1037 1867M1000 1576 1001 1588 1001 1600 1002 1612 1002 1624 1002 1636 1003 1648 1004 1660 1004 1672 1005 1684 1005 1696 1006 1708 1007 1720 1008 1732 1009 1743 1009 1753 1010 1763 1011 1772 1012 1780 1013 1788 1014 1795 1015 1801 1016 1807 1017 1813 1018 1819 1019 1824 1021 1828 1022 1832 1023 1836 1024 1840 1025 1844 1027 1847 1028 1850 1029 1853 1031 1855 1032 1858 1034 1860 1035 1862 1037 1864 1039 1866 1040 1867 1042 1869 1044 1870 1046 1872 1048 1873 1050 1874 1052 1875 1054 1876 1056 1877 1058 1878 1061 1879 1063 1879 1066 1880 1068 1881 1071 1881 1074 1882 1076 1883 1079 1883 1082 1883 1085 1884 1089 1884 1092 1885 1095 1885 1099 1885 1103 1886 1106 1886 1110 1886 1114 1886 1118 1887 1123 1887 1127 1887 1132 1887 1137 1887 1141 1887 1146 1888 1159 1888 1176 1888M1028 1828 1029 1832 1031 1836 1032 1840 1034 1844 1036 1847 1037 1850 1039 1853 1041 1855 1043 1858 1045 1860 1046 1862 1048 1864 1051 1866 1053 1867 1055 1869M1007 1576 1008 1588 1008 1600 1009 1612 1010 1624 1011 1636 1011 1648 1012 1660 1013 1672 1014 1684 1015 1696 1017 1708 1018 1720 1019 1732 1021 1743 1022 1753 1023 1763 1025 1772 1027 1780 1028 1788 1030 1795 1031 1801 1033 1807 1035 1813 1037 1819 1038 1824 1040 1828 1042 1832 1044 1836 1046 1840 1048 1844 1050 1847 1053 1850 1055 1853 1057 1855 1060 1858 1062 1860 1065 1862 1067 1864 1070 1866 1073 1867 1076 1869 1079 1870 1082 1872 1085 1873 1089 1874 1092 1875 1095 1876 1099 1877 1103 1878 1107 1879 1111 1879 1115 1880 1119 1881 1123 1881 1128 1882 1132 1883 1137 1883 1142 1883 1147 1884 1153 1884 1158 1885 1164 1885 1170 1885 1176 1886M1010 1576 1011 1588 1012 1600 1013 1612 1013 1624 1014 1636 1015 1648 1016 1660 1018 1672 1019 1684 1020 1696 1021 1708 1023 1720 1025 1732 1026 1743 1028 1753 1030 1763 1032 1772 1033 1780 1035 1788 1037 1795 1039 1801 1041 1807 1043 1813 1045 1819 1047 1824 1050 1828 1052 1832 1054 1836 1057 1840 1059 1844 1062 1847 1064 1850 1067 1853 1070 1855 1073 1858 1076 1860 1079 1862 1082 1864 1085 1866 1089 1867 1092 1869 1096 1870 1099 1872 1103 1873 1107 1874 1111 1875 1115 1876 1119 1877 1124 1878 1128 1879 1133 1879 1138 1880 1143 1881 1148 1881 1154 1882 1159 1883 1165 1883 1171 1883M1017 1576 1018 1588 1019 1600 1020 1612 1021 1624 1023 1636 1024 1648 1025 1660 1027 1672 1029 1684 1030 1696 1032 1708 1034 1720 1036 1732 1039 1743 1041 1753 1043 1763 1046 1772 1048 1780 1051 1788 1053 1795 1056 1801 1059 1807 1061 1813 1064 1819 1067 1824 1070 1828 1073 1832 1076 1836 1079 1840 1083 1844 1086 1847 1090 1850 1093 1853 1097 1855 1101 1858 1105 1860 1109 1862 1113 1864 1118 1866 1122 1867 1127 1869 1132 1870 1137 1872 1142 1873 1147 1874 1152 1875 1158 1876 1164 1877 1169 1878 1176 1879M1038 1696 1041 1708 1043 1720 1046 1732 1048 1743 1051 1753 1054 1763 1057 1772 1060 1780 1063 1788 1066 1795 1069 1801 1072 1807 1075 1813 1079 1819 1082 1824 1086 1828 1090 1832 1093 1836 1097 1840 1101 1844 1105 1847 1110 1850 1114 1853 1118 1855 1123 1858 1128 1860 1133 1862 1138 1864 1143 1866M1041 1684 1043 1696 1046 1708 1049 1720 1051 1732 1054 1743 1057 1753 1061 1763 1064 1772 1067 1780 1070 1788 1074 1795 1077 1801 1081 1807 1084 1813 1088 1819 1092 1824 1096 1828 1100 1832 1104 1836 1108 1840 1113 1844 1117 1847 1122 1850 1127 1853 1132 1855 1137 1858 1142 1860 1148 1862 1153 1864M1034 1576 1036 1588 1037 1600 1039 1612 1041 1624 1043 1636 1045 1648 1048 1660 1050 1672 1053 1684 1056 1696 1059 1708 1062 1720 1066 1732 1069 1743 1073 1753 1077 1763 1081 1772 1085 1780 1089 1788 1093 1795 1097 1801 1102 1807 1106 1813 1111 1819 1115 1824 1120 1828 1125 1832 1130 1836 1136 1840 1141 1844 1147 1847 1153 1850 1158 1853 1165 1855 1171 1858M1075 1732 1079 1743 1083 1753 1088 1763 1092 1772 1096 1780 1101 1788 1106 1795 1110 1801 1115 1807 1120 1813 1126 1819 1131 1824 1136 1828 1142 1832 1148 1836 1154 1840 1160 1844M1045 1576 1047 1588 1049 1600 1051 1612 1053 1624 1056 1636 1059 1648 1062 1660 1065 1672 1068 1684 1071 1696 1075 1708 1079 1720 1084 1732 1088 1743 1093 1753 1097 1763 1102 1772 1107 1780 1112 1788 1117 1795 1123 1801 1128 1807 1134 1813 1139 1819 1145 1824 1151 1828 1157 1832 1164 1836 1170 1840 1177 1844M1055 1576 1057 1588 1060 1600 1063 1612 1065 1624 1068 1636 1072 1648 1075 1660 1079 1672 1082 1684 1087 1696 1091 1708 1096 1720 1101 1732 1107 1743 1112 1753 1118 1763 1123 1772 1129 1780 1135 1788 1141 1795 1148 1801 1154 1807 1161 1813 1168 1819 1175 1824M1079 1576 1082 1588 1086 1600 1089 1612 1093 1624 1097 1636 1102 1648 1106 1660 1111 1672 1116 1684 1122 1696 1128 1708 1135 1720 1142 1732 1149 1743 1157 1753 1165 1763 1172 1772M1102 1576 1106 1588 1111 1600 1116 1612 1121 1624 1126 1636 1131 1648 1137 1660 1143 1672 1150 1684 1157 1696 1165 1708 1173 1720M1116 1576 1121 1588 1126 1600 1131 1612 1137 1624 1143 1636 1149 1648 1155 1660 1162 1672 1170 1684 1178 1696M1163 1576 1170 1588 1177 1600" fill="none" stroke="rgb(170,170,170)" stroke-width="1.9"/><path d="M983 1576 983 1588 983 1600 982 1612 982 1624 982 1636 981 1648 981 1660 981 1672 980 1684 980 1696 979 1708 979 1720 978 1732 978 1743 977 1753 976 1763 976 1772 975 1780 975 1788 974 1795 973 1801 972 1807 972 1813 971 1819 970 1824 970 1828 969 1832 968 1836 967 1840 966 1844 965 1847 964 1850 964 1853 963 1855 962 1858 961 1860 960 1862 958 1864 957 1866 956 1867 955 1869 954 1870 953 1872 951 1873 950 1874 949 1875 947 1876 946 1877 944 1878 943 1879 941 1879 939 1880 938 1881 936 1881 934 1882 932 1883 930 1883 928 1883 926 1884 924 1884 922 1885 919 1885 917 1885 914 1886 912 1886 909 1886 907 1886 904 1887 901 1887 898 1887 895 1887 892 1887 888 1887 885 1888 877 1888 865 1888 849 1889 824 1889 775 1889M965 1819 964 1824 963 1828 962 1832 961 1836 960 1840 959 1844 958 1847 956 1850 955 1853 954 1855 953 1858 951 1860 950 1862 948 1864 947 1866 945 1867 944 1869 942 1870 941 1872 939 1873 937 1874 935 1875 933 1876 932 1877M976 1576 976 1588 975 1600 975 1612 974 1624 974 1636 973 1648 972 1660 972 1672 971 1684 970 1696 969 1708 968 1720 967 1732 966 1743 965 1753 963 1763 962 1772 961 1780 960 1788 958 1795 957 1801 956 1807 954 1813 953 1819 952 1824 950 1828 948 1832 947 1836 945 1840 944 1844 942 1847 940 1850 938 1853 936 1855 935 1858 933 1860 930 1862 928 1864 926 1866 924 1867 922 1869 919 1870 917 1872 914 1873 912 1874 909 1875 906 1876 903 1877 900 1878 897 1879 894 1879 891 1880 887 1881 884 1881 880 1882 877 1883 873 1883 869 1883 865 1884 861 1884 856 1885 852 1885 847 1885 842 1886 837 1886 832 1886 827 1886 822 1887 816 1887 810 1887 804 1887 798 1887M959 1576 958 1588 957 1600 955 1612 954 1624 953 1636 951 1648 950 1660 948 1672 946 1684 944 1696 942 1708 940 1720 937 1732 935 1743 932 1753 929 1763 927 1772 924 1780 921 1788 918 1795 915 1801 912 1807 909 1813 906 1819 902 1824 899 1828 895 1832 892 1836 888 1840 884 1844 880 1847 876 1850 872 1853 868 1855 863 1858 859 1860 854 1862 849 1864 844 1866 839 1867 834 1869 829 1870 823 1872 817 1873 811 1874 805 1875 799 1876 792 1877M956 1576 955 1588 953 1600 952 1612 950 1624 949 1636 947 1648 945 1660 943 1672 941 1684 939 1696 937 1708 934 1720 932 1732 929 1743 926 1753 923 1763 920 1772 917 1780 914 1788 911 1795 907 1801 904 1807 900 1813 897 1819 893 1824 889 1828 886 1832 882 1836 877 1840 873 1844 869 1847 864 1850 860 1853 855 1855 850 1858 845 1860 840 1862 835 1864 829 1866 824 1867 818 1869 812 1870 806 1872 799 1873 793 1874M952 1576 951 1588 950 1600 948 1612 946 1624 945 1636 943 1648 941 1660 939 1672 936 1684 934 1696 931 1708 929 1720 926 1732 922 1743 919 1753 916 1763 913 1772 909 1780 906 1788 902 1795 899 1801 895 1807 891 1813 887 1819 883 1824 879 1828 875 1832 870 1836 866 1840 861 1844 856 1847 852 1850 846 1853 841 1855 836 1858 830 1860 825 1862 819 1864 813 1866 807 1867 800 1869 794 1870M908 1743 904 1753 900 1763 896 1772 892 1780 888 1788 883 1795 879 1801 874 1807 870 1813 865 1819 860 1824 855 1828 850 1832 844 1836 839 1840 833 1844 827 1847M905 1684 901 1696 897 1708 892 1720 888 1732 883 1743 878 1753 872 1763 867 1772 862 1780 856 1788 851 1795 845 1801 839 1807 833 1813 826 1819 820 1824 813 1828 807 1832 800 1836 792 1840M871 1743 865 1753 860 1763 854 1772 848 1780 842 1788 836 1795 829 1801 823 1807 816 1813 809 1819M922 1576 919 1588 916 1600 914 1612 911 1624 907 1636 904 1648 901 1660 897 1672 893 1684 888 1696 884 1708 878 1720 873 1732 867 1743 861 1753 856 1763 850 1772 843 1780 837 1788 831 1795 824 1801 817 1807 810 1813 803 1819 796 1824M886 1684 881 1696 876 1708 871 1720 865 1732 859 1743 853 1753 846 1763 840 1772 833 1780 827 1788 820 1795 813 1801 805 1807 798 1813M912 1576 909 1588 906 1600 903 1612 899 1624 895 1636 892 1648 888 1660 883 1672 879 1684 874 1696 868 1708 862 1720 856 1732 849 1743 843 1753 836 1763 829 1772 822 1780 815 1788 808 1795 800 1801 792 1807M905 1576 902 1588 898 1600 895 1612 891 1624 887 1636 883 1648 878 1660 874 1672 869 1684 863 1696 857 1708 851 1720 844 1732 837 1743 830 1753 822 1763 815 1772 807 1780 799 1788 791 1795M902 1576 898 1588 895 1600 891 1612 887 1624 883 1636 879 1648 874 1660 869 1672 864 1684 858 1696 852 1708 846 1720 839 1732 831 1743 824 1753 816 1763 808 1772 800 1780 792 1788M895 1576 891 1588 888 1600 884 1612 879 1624 875 1636 870 1648 865 1660 860 1672 854 1684 848 1696 842 1708 835 1720 827 1732 819 1743 811 1753 803 1763 794 1772M833 1708 826 1720 818 1732 809 1743 801 1753 792 1763M871 1576 866 1588 861 1600 856 1612 851 1624 846 1636 840 1648 834 1660 827 1672 820 1684 812 1696 804 1708 795 1720M867 1576 863 1588 858 1600 853 1612 847 1624 842 1636 836 1648 829 1660 822 1672 815 1684 807 1696 799 1708 790 1720M847 1576 842 1588 836 1600 830 1612 824 1624 817 1636 810 1648 803 1660 795 1672M844 1576 838 1588 833 1600 826 1612 820 1624 813 1636 806 1648 798 1660M830 1576 824 1588 818 1600 811 1612 804 1624 797 1636M817 1576 810 1588 803 1600 796 1612M813 1576 806 1588 799 1600 792 1612M998 1708 998 1720 998 1732 999 1743 999 1753 1000 1763 1000 1772 1001 1780 1001 1788 1001 1795 1002 1801 1002 1807 1003 1813 1003 1819 1004 1824 1005 1828 1005 1832 1006 1836 1006 1840 1007 1844 1008 1847 1008 1850 1009 1853 1009 1855 1010 1858 1011 1860 1012 1862 1012 1864 1013 1866 1014 1867 1015 1869 1016 1870 1017 1872 1018 1873 1019 1874 1019 1875 1021 1876 1022 1877 1023 1878 1024 1879 1025 1879 1026 1880 1027 1881 1029 1881 1030 1882 1031 1883 1033 1883 1034 1883 1036 1884 1037 1884 1039 1885 1040 1885 1042 1885 1044 1886 1046 1886M1006 1819 1006 1824 1007 1828 1008 1832 1008 1836 1009 1840 1010 1844 1011 1847 1011 1850 1012 1853 1013 1855 1014 1858 1015 1860 1015 1862 1016 1864 1017 1866 1018 1867 1019 1869 1020 1870 1021 1872 1022 1873 1023 1874 1025 1875 1026 1876 1027 1877 1028 1878 1030 1879 1031 1879 1032 1880 1034 1881 1035 1881M997 1576 997 1588 997 1600 997 1612 998 1624 998 1636 998 1648 999 1660 999 1672 999 1684 1000 1696 1000 1708 1001 1720 1001 1732 1002 1743 1002 1753 1003 1763 1004 1772 1004 1780 1005 1788 1005 1795 1006 1801 1007 1807 1007 1813 1008 1819 1009 1824 1010 1828 1010 1832 1011 1836 1012 1840 1013 1844 1013 1847 1014 1850 1015 1853 1016 1855 1017 1858 1018 1860 1019 1862 1020 1864 1021 1866 1022 1867 1023 1869 1025 1870 1026 1872 1027 1873 1028 1874 1030 1875 1031 1876 1032 1877 1034 1878 1035 1879 1037 1879 1038 1880 1040 1881 1042 1881 1044 1882 1045 1883 1047 1883 1049 1883 1051 1884 1053 1884 1055 1885 1057 1885 1060 1885 1062 1886 1065 1886 1067 1886 1070 1886 1072 1887 1075 1887 1078 1887 1081 1887 1084 1887 1087 1887 1090 1888 1098 1888 1109 1888 1124 1889 1148 1889 1195 1889M1010 1732 1011 1743 1012 1753 1013 1763 1014 1772 1015 1780 1016 1788 1017 1795 1018 1801 1020 1807 1021 1813 1022 1819 1023 1824 1025 1828 1026 1832 1027 1836 1029 1840 1030 1844 1032 1847 1033 1850 1035 1853 1036 1855 1038 1858 1040 1860 1042 1862 1043 1864 1045 1866 1047 1867 1049 1869 1051 1870 1053 1872 1056 1873 1058 1874 1060 1875 1063 1876 1065 1877 1068 1878 1070 1879 1073 1879 1076 1880M1026 1720 1028 1732 1030 1743 1032 1753 1034 1763 1036 1772 1038 1780 1040 1788 1042 1795 1044 1801 1046 1807 1048 1813 1051 1819 1053 1824 1056 1828 1058 1832 1061 1836 1063 1840 1066 1844 1069 1847 1072 1850 1075 1853 1078 1855 1081 1858 1084 1860 1088 1862 1091 1864 1095 1866 1098 1867 1102 1869 1106 1870 1110 1872M1042 1743 1044 1753 1047 1763 1049 1772 1052 1780 1054 1788 1057 1795 1060 1801 1063 1807 1066 1813 1069 1819 1072 1824 1075 1828 1078 1832 1082 1836 1085 1840 1089 1844 1092 1847 1096 1850 1100 1853 1104 1855 1108 1858 1112 1860 1117 1862M1028 1576 1029 1588 1031 1600 1032 1612 1034 1624 1036 1636 1037 1648 1039 1660 1041 1672 1044 1684 1046 1696 1049 1708 1052 1720 1055 1732 1058 1743 1061 1753 1064 1763 1067 1772 1071 1780 1074 1788 1078 1795 1082 1801 1085 1807 1089 1813 1093 1819 1097 1824 1101 1828 1106 1832 1110 1836 1114 1840 1119 1844 1124 1847 1129 1850 1134 1853 1139 1855 1144 1858 1150 1860 1156 1862 1162 1864 1168 1866 1174 1867M1056 1708 1059 1720 1063 1732 1066 1743 1070 1753 1074 1763 1077 1772 1081 1780 1085 1788 1089 1795 1093 1801 1098 1807 1102 1813 1106 1819 1111 1824 1116 1828 1121 1832 1125 1836 1131 1840 1136 1844 1141 1847 1147 1850 1152 1853 1158 1855M1058 1696 1062 1708 1065 1720 1069 1732 1073 1743 1077 1753 1081 1763 1085 1772 1089 1780 1093 1788 1097 1795 1102 1801 1106 1807 1111 1813 1116 1819 1121 1824 1126 1828 1131 1832 1136 1836 1142 1840 1148 1844 1154 1847 1160 1850 1166 1853M1048 1576 1050 1588 1052 1600 1055 1612 1057 1624 1060 1636 1063 1648 1066 1660 1069 1672 1072 1684 1076 1696 1080 1708 1084 1720 1089 1732 1094 1743 1099 1753 1104 1763 1109 1772 1114 1780 1119 1788 1125 1795 1130 1801 1136 1807 1142 1813 1148 1819 1154 1824 1160 1828 1167 1832 1174 1836M1051 1576 1054 1588 1056 1600 1059 1612 1061 1624 1064 1636 1067 1648 1070 1660 1074 1672 1078 1684 1081 1696 1086 1708 1090 1720 1095 1732 1100 1743 1106 1753 1111 1763 1116 1772 1122 1780 1128 1788 1133 1795 1139 1801 1145 1807 1152 1813 1158 1819 1165 1824 1172 1828M1061 1576 1064 1588 1067 1600 1070 1612 1073 1624 1076 1636 1080 1648 1083 1660 1087 1672 1092 1684 1096 1696 1101 1708 1107 1720 1112 1732 1118 1743 1124 1753 1130 1763 1137 1772 1143 1780 1150 1788 1156 1795 1163 1801 1171 1807 1178 1813M1128 1743 1134 1753 1141 1763 1148 1772 1154 1780 1162 1788 1169 1795 1176 1801M1109 1576 1114 1588 1119 1600 1124 1612 1129 1624 1134 1636 1140 1648 1146 1660 1153 1672 1160 1684 1168 1696 1176 1708M1119 1576 1124 1588 1129 1600 1135 1612 1140 1624 1146 1636 1153 1648 1159 1660 1167 1672 1174 1684M1140 1576 1145 1588 1151 1600 1158 1612 1164 1624 1171 1636M1143 1576 1149 1588 1155 1600 1162 1612 1168 1624 1175 1636M1146 1576 1152 1588 1158 1600 1165 1612 1172 1624M1160 1576 1166 1588 1173 1600M1170 1576 1177 1588" fill="none" stroke="rgb(198,198,198)" stroke-width="1.9"/><path d="M987 1576 986 1588 986 1600 986 1612 986 1624 986 1636 986 1648 985 1660 985 1672 985 1684 985 1696 985 1708 984 1720 984 1732 984 1743 983 1753 983 1763 983 1772 983 1780 982 1788 982 1795 982 1801 981 1807 981 1813 980 1819 980 1824 980 1828 979 1832 979 1836 978 1840 978 1844 978 1847 977 1850 977 1853 976 1855 976 1858 975 1860 975 1862 974 1864 974 1866 973 1867 972 1869 972 1870 971 1872 970 1873 970 1874 969 1875 968 1876 968 1877 967 1878 966 1879 965 1879 964 1880 964 1881 963 1881 962 1882 961 1883 960 1883 959 1883 958 1884 957 1884 956 1885 954 1885 953 1885 952 1886 951 1886 949 1886 948 1886 947 1887 945 1887 944 1887 942 1887 940 1887 939 1887 937 1888 933 1888 927 1888 919 1889 906 1889 882 1889M978 1684 977 1696 977 1708 976 1720 975 1732 975 1743 974 1753 973 1763 973 1772 972 1780 971 1788 970 1795 969 1801 969 1807 968 1813 967 1819 966 1824 965 1828 964 1832 963 1836 962 1840 961 1844 960 1847 959 1850 958 1853 956 1855 955 1858 954 1860 953 1862 951 1864 950 1866 949 1867 947 1869 946 1870 944 1872 943 1873 941 1874 939 1875 937 1876 936 1877 934 1878 932 1879 930 1879 928 1880 926 1881 924 1881 921 1882 919 1883 917 1883 914 1883 912 1884M973 1576 972 1588 972 1600 971 1612 970 1624 969 1636 968 1648 968 1660 967 1672 966 1684 964 1696 963 1708 962 1720 961 1732 959 1743 958 1753 956 1763 955 1772 953 1780 952 1788 950 1795 948 1801 947 1807 945 1813 943 1819 941 1824 939 1828 937 1832 935 1836 933 1840 931 1844 929 1847 927 1850 925 1853 922 1855 920 1858 917 1860 915 1862 912 1864 909 1866 906 1867 903 1869 900 1870 897 1872 894 1873 891 1874 887 1875 884 1876 880 1877 876 1878 873 1879 869 1879 864 1880 860 1881 856 1881 851 1882 846 1883 842 1883 837 1883 831 1884 826 1884 821 1885 815 1885 809 1885 803 1886 797 1886M922 1844 920 1847M928 1732 925 1743 922 1753 919 1763 916 1772 913 1780 910 1788 906 1795 903 1801 899 1807 895 1813 892 1819 888 1824 884 1828 880 1832 876 1836 871 1840 867 1844 862 1847 858 1850 853 1853 848 1855 843 1858M949 1576 947 1588 946 1600 944 1612 942 1624 940 1636 938 1648 936 1660 934 1672 932 1684 929 1696 926 1708 923 1720 920 1732 916 1743 913 1753 909 1763 906 1772 902 1780 898 1788 894 1795 890 1801 886 1807 882 1813 878 1819 873 1824 869 1828 864 1832 859 1836 854 1840 849 1844 844 1847 839 1850 833 1853 828 1855 822 1858 816 1860 809 1862 803 1864 796 1866M939 1576 937 1588 935 1600 933 1612 931 1624 929 1636 926 1648 923 1660 921 1672 918 1684 914 1696 911 1708 907 1720 903 1732 899 1743 894 1753 890 1763 885 1772 881 1780 876 1788 871 1795 866 1801 861 1807 856 1813 851 1819 845 1824 840 1828 834 1832 828 1836 822 1840 816 1844 809 1847 803 1850 796 1853M929 1576 926 1588 924 1600 921 1612 919 1624 916 1636 913 1648 910 1660 906 1672 903 1684 899 1696 895 1708 890 1720 885 1732 880 1743 875 1753 869 1763 864 1772 858 1780 853 1788 847 1795 841 1801 835 1807 829 1813 822 1819 816 1824 809 1828 802 1832 795 1836M887 1720 882 1732 877 1743 871 1753 866 1763 860 1772 855 1780 849 1788 843 1795 837 1801 831 1807 824 1813 817 1819 811 1824 804 1828 797 1832M926 1576 923 1588 921 1600 918 1612 915 1624 912 1636 909 1648 905 1660 902 1672 898 1684 894 1696 889 1708 885 1720 879 1732 874 1743 869 1753 863 1763 857 1772 852 1780 846 1788 839 1795 833 1801 827 1807 820 1813 813 1819 807 1824 799 1828 792 1832M918 1576 916 1588 913 1600 910 1612 907 1624 903 1636 900 1648 896 1660 892 1672 888 1684 883 1696 878 1708 873 1720 867 1732 861 1743 855 1753 849 1763 843 1772 836 1780 830 1788 823 1795 816 1801 809 1807 802 1813 794 1819M866 1696 860 1708 854 1720 847 1732 840 1743 833 1753 826 1763 819 1772 811 1780 804 1788 796 1795M834 1743 826 1753 819 1763 811 1772 803 1780 795 1788M898 1576 895 1588 891 1600 887 1612 883 1624 879 1636 875 1648 870 1660 865 1672 859 1684 853 1696 847 1708 840 1720 833 1732 825 1743 817 1753 809 1763 801 1772 793 1780M881 1576 877 1588 873 1600 868 1612 863 1624 858 1636 853 1648 847 1660 841 1672 835 1684 828 1696 820 1708 812 1720 803 1732 794 1743M800 1732 791 1743M875 1576 870 1588 866 1600 861 1612 856 1624 850 1636 845 1648 838 1660 832 1672 825 1684 818 1696 810 1708 801 1720 792 1732M827 1576 820 1588 814 1600 807 1612 800 1624 792 1636M810 1576 803 1588 796 1600M806 1576 799 1588 792 1600M800 1576 792 1588M1034 1732 1036 1743 1038 1753 1041 1763 1043 1772 1045 1780 1048 1788 1050 1795 1052 1801 1055 1807 1058 1813 1060 1819 1063 1824 1066 1828 1069 1832 1072 1836 1075 1840 1078 1844 1081 1847 1085 1850 1088 1853 1092 1855 1095 1858 1099 1860 1103 1862 1107 1864 1111 1866 1115 1867M1024 1576 1025 1588 1027 1600 1028 1612 1030 1624 1031 1636 1033 1648 1035 1660 1036 1672 1038 1684 1041 1696 1043 1708 1046 1720 1048 1732 1051 1743 1054 1753 1057 1763 1060 1772 1063 1780 1066 1788 1069 1795 1073 1801 1076 1807 1079 1813 1083 1819 1087 1824 1090 1828 1094 1832 1098 1836 1102 1840 1107 1844 1111 1847 1115 1850 1120 1853 1125 1855 1129 1858 1134 1860 1140 1862 1145 1864 1150 1866 1156 1867 1162 1869 1168 1870 1174 1872M1041 1576 1043 1588 1045 1600 1047 1612 1050 1624 1052 1636 1054 1648 1057 1660 1060 1672 1063 1684 1066 1696 1070 1708 1074 1720 1078 1732 1082 1743 1086 1753 1091 1763 1095 1772 1100 1780 1105 1788 1110 1795 1115 1801 1120 1807 1125 1813 1130 1819 1136 1824 1141 1828 1147 1832 1153 1836 1159 1840 1166 1844 1172 1847M1113 1772 1118 1780 1123 1788 1129 1795 1135 1801 1141 1807 1147 1813 1153 1819M1126 1780 1132 1788 1138 1795 1144 1801 1150 1807M1104 1720 1110 1732 1116 1743 1122 1753 1128 1763 1134 1772 1140 1780 1147 1788 1153 1795 1160 1801 1167 1807 1174 1813M1109 1696 1115 1708 1121 1720 1127 1732 1134 1743 1141 1753 1147 1763 1154 1772 1162 1780 1169 1788 1177 1795M1072 1576 1075 1588 1078 1600 1081 1612 1085 1624 1089 1636 1093 1648 1097 1660 1102 1672 1106 1684 1112 1696 1117 1708 1123 1720 1130 1732 1137 1743 1144 1753 1151 1763 1158 1772 1165 1780 1173 1788M1075 1576 1078 1588 1082 1600 1085 1612 1089 1624 1093 1636 1097 1648 1101 1660 1106 1672 1111 1684 1117 1696 1123 1708 1129 1720 1136 1732 1143 1743 1150 1753 1157 1763 1165 1772 1173 1780M1085 1576 1089 1588 1093 1600 1097 1612 1101 1624 1106 1636 1110 1648 1115 1660 1121 1672 1126 1684 1132 1696 1139 1708 1146 1720 1154 1732 1162 1743 1170 1753 1178 1763M1095 1576 1099 1588 1104 1600 1108 1612 1113 1624 1118 1636 1123 1648 1128 1660 1134 1672 1140 1684 1147 1696 1155 1708 1162 1720 1171 1732M1099 1576 1103 1588 1107 1600 1112 1612 1117 1624 1122 1636 1127 1648 1133 1660 1139 1672 1145 1684 1152 1696 1160 1708 1168 1720 1177 1732M1106 1576 1110 1588 1115 1600 1120 1612 1125 1624 1130 1636 1136 1648 1142 1660 1148 1672 1155 1684 1163 1696 1171 1708 1179 1720M1153 1576 1159 1588 1166 1600 1173 1612M1167 1576 1173 1588" fill="none" stroke="rgb(226,226,226)" stroke-width="1.9"/><path d="M986 1847 986 1850 986 1853 986 1855 986 1858 985 1860 985 1862 985 1864 985 1866 985 1867 985 1869 984 1870 984 1872 984 1873 984 1874 984 1875 983 1876 983 1877 983 1878 983 1879 982 1879 982 1880 982 1881 981 1882 981 1883 980 1883 980 1884 979 1885 978 1886 977 1886 977 1887 976 1887 975 1887 974 1887 974 1888M976 1836 976 1840 975 1844 975 1847 974 1850 974 1853 973 1855 972 1858 972 1860 971 1862 970 1864 970 1866 969 1867 968 1869 967 1870 967 1872 966 1873 965 1874 964 1875 963 1876 962 1877 961 1878 960 1879 959 1879 958 1880 957 1881 956 1881 955 1882 954 1883M972 1832 971 1836 970 1840 970 1844 969 1847 968 1850 967 1853 967 1855 966 1858 965 1860 964 1862 963 1864 962 1866 961 1867 960 1869 959 1870 958 1872 957 1873 956 1874 955 1875 953 1876 952 1877 951 1878 949 1879 948 1879 947 1880M955 1819 954 1824 953 1828 951 1832 950 1836 948 1840 947 1844 945 1847 943 1850 942 1853 940 1855 938 1858 936 1860 934 1862 932 1864 930 1866 928 1867 926 1869 924 1870 922 1872M969 1576 969 1588 968 1600 967 1612 966 1624 965 1636 964 1648 963 1660 962 1672 961 1684 959 1696 958 1708 956 1720 955 1732 953 1743 951 1753 950 1763 948 1772 946 1780 944 1788 942 1795 940 1801 938 1807 936 1813 934 1819 932 1824 929 1828 927 1832 925 1836 922 1840 920 1844 917 1847 914 1850 911 1853 909 1855 906 1858 903 1860 900 1862 896 1864 893 1866 890 1867 886 1869 883 1870 879 1872 875 1873 871 1874 867 1875 863 1876 858 1877 854 1878 849 1879 844 1879 839 1880 834 1881 829 1881 824 1882 818 1883 812 1883 806 1883 800 1884 793 1884M942 1576 940 1588 939 1600 937 1612 934 1624 932 1636 930 1648 927 1660 925 1672 922 1684 919 1696 915 1708 912 1720 908 1732 904 1743 900 1753 896 1763 892 1772 887 1780 883 1788 878 1795 874 1801 869 1807 864 1813 859 1819 854 1824 849 1828 843 1832 838 1836 832 1840 826 1844 820 1847 814 1850 807 1853 801 1855 794 1858M908 1708 904 1720 900 1732 896 1743 891 1753 887 1763 882 1772 877 1780 872 1788 867 1795 862 1801 857 1807 852 1813 846 1819 840 1824 835 1828 829 1832 823 1836 816 1840 810 1844 803 1847M935 1576 933 1588 931 1600 929 1612 927 1624 924 1636 921 1648 918 1660 915 1672 912 1684 909 1696 905 1708 901 1720 896 1732 892 1743 887 1753 883 1763 878 1772 873 1780 868 1788 863 1795 857 1801 852 1807 846 1813 841 1819 835 1824 829 1828 822 1832 816 1836 810 1840 803 1844 796 1847M889 1743 884 1753 879 1763 874 1772 869 1780 864 1788 858 1795 853 1801 847 1807 842 1813 836 1819 830 1824 823 1828 817 1832M871 1708 865 1720 859 1732 853 1743 846 1753 840 1763 833 1772 826 1780 819 1788 812 1795 804 1801 797 1807M892 1576 888 1588 884 1600 880 1612 875 1624 871 1636 866 1648 861 1660 855 1672 850 1684 843 1696 837 1708 829 1720 821 1732 813 1743 805 1753 796 1763M840 1576 835 1588 829 1600 822 1612 816 1624 809 1636 802 1648 794 1660M992 1672 992 1684 993 1696 993 1708 993 1720 993 1732 993 1743 993 1753 993 1763 994 1772 994 1780 994 1788 994 1795 994 1801 994 1807 994 1813 995 1819 995 1824 995 1828 995 1832 995 1836 996 1840 996 1844 996 1847 996 1850 997 1853 997 1855 997 1858 997 1860 997 1862 998 1864 998 1866 998 1867 999 1869 999 1870 999 1872 1000 1873 1000 1874 1000 1875 1001 1876 1001 1877 1001 1878 1002 1879 1002 1880 1003 1881 1004 1882 1004 1883 1005 1883 1006 1884 1007 1885 1008 1885 1009 1886 1010 1886 1011 1886 1011 1887 1012 1887 1013 1887 1014 1887 1015 1887 1016 1888 1018 1888 1021 1888M1020 1720 1022 1732 1023 1743 1025 1753 1027 1763 1028 1772 1030 1780 1032 1788 1033 1795 1035 1801 1037 1807 1039 1813 1041 1819 1043 1824 1045 1828 1047 1832 1049 1836 1051 1840 1054 1844 1056 1847 1059 1850 1061 1853 1064 1855 1066 1858 1069 1860 1072 1862 1075 1864 1078 1866 1081 1867 1084 1869 1087 1870 1091 1872 1094 1873 1098 1874M1072 1708 1076 1720 1080 1732 1085 1743 1089 1753 1094 1763 1098 1772 1103 1780 1108 1788 1113 1795 1118 1801 1123 1807 1128 1813 1134 1819 1140 1824 1145 1828 1151 1832 1158 1836 1164 1840 1170 1844 1177 1847M1082 1576 1086 1588 1089 1600 1093 1612 1097 1624 1101 1636 1106 1648 1111 1660 1116 1672 1121 1684 1127 1696 1134 1708 1140 1720 1148 1732 1156 1743 1163 1753 1171 1763M1089 1576 1093 1588 1096 1600 1101 1612 1105 1624 1110 1636 1114 1648 1120 1660 1125 1672 1131 1684 1137 1696 1144 1708 1151 1720 1160 1732 1168 1743 1176 1753M1112 1576 1117 1588 1122 1600 1127 1612 1132 1624 1138 1636 1144 1648 1150 1660 1157 1672 1164 1684 1172 1696M1126 1576 1131 1588 1137 1600 1142 1612 1148 1624 1155 1636 1161 1648 1168 1660 1176 1672M1150 1576 1156 1588 1162 1600 1169 1612 1176 1624" fill="none" stroke="rgb(255,255,255)" stroke-width="1.9"/><path d="M977 1887 976 1887M981 1813 980 1819 980 1824 980 1828 979 1832M973 1855 972 1858 972 1860M956 1860 955 1862M967 1819 966 1824M937 1874 935 1875 933 1876M971 1720 970 1732 969 1743M964 1696 963 1708 962 1720M857 1873 852 1874 848 1875M914 1828 912 1832 909 1836 906 1840M941 1743 939 1753 937 1763 934 1772M921 1788 918 1795M879 1824 875 1828 870 1832 866 1836M850 1824 844 1828 839 1832M891 1753 887 1763M878 1753 872 1763 867 1772 862 1780 856 1788M847 1795 841 1801 835 1807M894 1696 889 1708 885 1720 879 1732M860 1763 854 1772 848 1780M918 1576 916 1588M871 1720 865 1732 859 1743 853 1753M855 1743 849 1753 842 1763M865 1720 859 1732M862 1720 856 1732M902 1576 898 1588 895 1600M875 1648 870 1660 865 1672M860 1672 854 1684 848 1696 842 1708M829 1720 821 1732 813 1743M831 1708 823 1720M884 1576 880 1588M820 1684 812 1696M852 1588 847 1600 842 1612M845 1588 840 1600 834 1612M833 1600 826 1612 820 1624 813 1636 806 1648M812 1624 805 1636 797 1648M824 1588 818 1600 811 1612M813 1576 806 1588 799 1600 792 1612M1006 1884 1007 1885M1013 1866 1014 1867 1015 1869 1016 1870M1032 1880 1034 1881 1035 1881M1027 1847 1028 1850M1018 1801 1020 1807 1021 1813 1022 1819 1023 1824M1041 1847 1043 1850M1035 1828 1037 1832M1119 1877 1124 1878 1128 1879M1048 1813 1051 1819M1078 1832 1082 1836 1085 1840 1089 1844M1139 1867 1145 1869 1150 1870M1051 1743 1054 1753 1057 1763M1089 1788 1093 1795 1097 1801 1102 1807 1106 1813M1078 1732 1082 1743M1118 1780 1123 1788M1138 1795 1144 1801M1160 1801 1167 1807 1174 1813M1083 1660 1087 1672 1092 1684M1127 1732 1134 1743M1075 1588 1078 1600M1134 1672 1140 1684 1147 1696M1117 1624 1122 1636 1127 1648 1133 1660M1124 1612 1129 1624 1134 1636 1140 1648M1124 1588 1129 1600 1135 1612 1140 1624 1146 1636M1143 1576 1149 1588M1153 1576 1159 1588" fill="none" stroke="rgb(113,113,113)" stroke-width="2.4"/><defs><linearGradient id="bbw2" x1="0" y1="0" x2="0" y2="1"><stop offset="0" stop-color="#000" stop-opacity="0"/><stop offset="0.3" stop-color="#050505" stop-opacity="0.95"/><stop offset="1" stop-color="#000"/></linearGradient></defs><rect x="801.6" y="1883.5" width="366.0" height="59.0" fill="url(#bbw2)"/><polygon points="801.6,1577 833.5,1577 801.6,1639" fill="#000"/><polygon points="1133.7,1577 1167.6,1577 1167.6,1639" fill="#000"/></g><defs><clipPath id="cz1"><rect x="1214" y="1179" width="350.0" height="310.0"/></clipPath></defs><g clip-path="url(#cz1)"><rect x="1214" y="1179" width="350.0" height="310.0" fill="#2a2a2a"/><path d="M1519 1178 1518 1190 1518 1202 1518 1214 1517 1226 1517 1238 1517 1250 1516 1262 1516 1274 1515 1286 1515 1298 1514 1310 1513 1322 1512 1334 1512 1344 1511 1354 1510 1364 1509 1372 1508 1380 1507 1388 1506 1395 1505 1401 1504 1407 1503 1413 1502 1418 1500 1423 1499 1427 1498 1431 1496 1435 1495 1439 1493 1442 1492 1445 1490 1448 1489 1451 1487 1454 1485 1456 1483 1458 1481 1460 1479 1462 1477 1464 1475 1465 1472 1467 1470 1468 1467 1470 1465 1471 1462 1472 1459 1473 1456 1474 1453 1475 1450 1476 1446 1477 1443 1477 1439 1478 1435 1479 1432 1479 1427 1480 1423 1480 1419 1481 1414 1481 1409 1482 1404 1482 1399 1482 1394 1483 1388 1483 1382 1483 1376 1483 1370 1484 1363 1484 1356 1484 1349 1484 1342 1485 1334 1485 1326 1485 1318 1485 1297 1485 1270 1486 1232 1486 1173 1486M1393 1178 1390 1190 1387 1202 1383 1214 1380 1226 1376 1238 1371 1250 1367 1262 1362 1274 1356 1286 1350 1298 1344 1310 1336 1322 1328 1334 1320 1344 1311 1354 1302 1364 1293 1372 1283 1380 1273 1388 1262 1395 1251 1401 1240 1407 1228 1413 1216 1418 1203 1423M1534 1344 1534 1354 1535 1364 1535 1372 1535 1380 1535 1388 1535 1395 1535 1401 1535 1407 1535 1413 1536 1418 1536 1423 1536 1427 1536 1431 1536 1435 1536 1439 1537 1442 1537 1445 1537 1448 1537 1451 1537 1454 1538 1456 1538 1458 1538 1460 1538 1462 1538 1464 1539 1465 1539 1467 1539 1468 1540 1470 1540 1471 1540 1472 1541 1473 1541 1474 1541 1475 1542 1476 1542 1477 1543 1478 1543 1479 1544 1479 1544 1480 1545 1480 1545 1481 1546 1481 1546 1482 1547 1482 1548 1482 1548 1483 1549 1483 1550 1483 1551 1484 1552 1484 1553 1484 1554 1485 1555 1485 1556 1485 1557 1485 1560 1485 1563 1486" fill="none" stroke="rgb(28,28,28)" stroke-width="2.3"/><path d="M1449 1388 1445 1395 1442 1401 1438 1407 1434 1413 1431 1418 1426 1423 1422 1427 1418 1431M1420 1178 1417 1190 1415 1202 1412 1214 1409 1226 1405 1238 1402 1250 1398 1262 1394 1274 1390 1286 1385 1298 1379 1310 1373 1322 1367 1334 1360 1344 1353 1354 1346 1364 1338 1372 1330 1380 1322 1388 1314 1395 1305 1401 1296 1407 1286 1413 1276 1418 1265 1423 1255 1427 1243 1431 1232 1435 1219 1439 1207 1442M1390 1178 1387 1190 1383 1202 1380 1214 1376 1226 1372 1238 1368 1250 1363 1262 1358 1274 1352 1286 1346 1298 1339 1310 1331 1322 1323 1334 1315 1344 1306 1354 1297 1364 1287 1372 1277 1380 1267 1388 1256 1395 1245 1401 1233 1407 1221 1413 1208 1418M1350 1178 1346 1190 1342 1202 1337 1214 1333 1226 1327 1238 1322 1250 1316 1262 1309 1274 1302 1286 1294 1298 1285 1310 1275 1322 1265 1334 1254 1344 1243 1354 1231 1364 1219 1372 1206 1380M1337 1178 1333 1190 1328 1202 1323 1214 1318 1226 1313 1238 1307 1250 1300 1262 1293 1274 1285 1286 1277 1298 1267 1310 1257 1322 1246 1334 1234 1344 1222 1354 1209 1364" fill="none" stroke="rgb(56,56,56)" stroke-width="2.3"/><path d="M1516 1178 1515 1190 1515 1202 1515 1214 1514 1226 1514 1238 1513 1250 1513 1262 1512 1274 1511 1286 1511 1298 1510 1310 1509 1322 1508 1334 1507 1344 1506 1354 1505 1364 1504 1372 1503 1380 1502 1388 1500 1395 1499 1401 1498 1407 1496 1413 1495 1418 1493 1423 1492 1427 1490 1431 1488 1435 1487 1439 1485 1442 1483 1445 1481 1448 1479 1451 1477 1454 1474 1456 1472 1458 1469 1460 1467 1462 1464 1464 1462 1465 1459 1467 1456 1468 1453 1470 1449 1471 1446 1472 1442 1473 1439 1474 1435 1475 1431 1476 1427 1477 1423 1477 1418 1478 1414 1479 1409 1479 1404 1480 1399 1480 1393 1481 1387 1481 1382 1482 1375 1482 1369 1482 1362 1483 1356 1483 1348 1483 1341 1483 1333 1484 1325 1484 1317 1484 1308 1484 1299 1485 1289 1485 1279 1485 1269 1485 1244 1485 1211 1486M1450 1354 1447 1364 1444 1372 1440 1380 1436 1388 1432 1395 1428 1401 1424 1407 1420 1413 1415 1418 1410 1423 1405 1427 1400 1431 1395 1435M1450 1178 1448 1190 1446 1202 1444 1214 1442 1226 1439 1238 1437 1250 1434 1262 1431 1274 1428 1286 1424 1298 1420 1310 1416 1322 1411 1334 1406 1344 1401 1354 1396 1364 1390 1372 1384 1380 1378 1388 1372 1395 1365 1401 1359 1407 1352 1413 1344 1418 1337 1423 1329 1427 1320 1431 1312 1435 1303 1439 1293 1442 1284 1445 1274 1448 1263 1451 1252 1454 1241 1456 1229 1458 1217 1460 1204 1462M1443 1178 1441 1190 1439 1202 1437 1214 1434 1226 1432 1238 1429 1250 1426 1262 1423 1274 1419 1286 1415 1298 1411 1310 1406 1322 1401 1334 1396 1344 1390 1354 1384 1364 1378 1372 1372 1380 1365 1388 1359 1395 1352 1401 1344 1407 1337 1413 1329 1418 1320 1423 1312 1427 1303 1431 1294 1435 1284 1439 1274 1442 1263 1445 1252 1448 1241 1451 1229 1454 1217 1456 1204 1458M1436 1178 1434 1190 1432 1202 1429 1214 1427 1226 1424 1238 1421 1250 1418 1262 1414 1274 1410 1286 1406 1298 1402 1310 1397 1322 1391 1334 1385 1344 1379 1354 1373 1364 1367 1372 1360 1380 1353 1388 1346 1395 1338 1401 1330 1407 1322 1413 1313 1418 1304 1423 1295 1427 1286 1431 1276 1435 1265 1439 1254 1442 1243 1445 1231 1448 1219 1451 1206 1454M1433 1178 1431 1190 1429 1202 1426 1214 1423 1226 1421 1238 1418 1250 1414 1262 1411 1274 1407 1286 1402 1298 1398 1310 1392 1322 1387 1334 1381 1344 1375 1354 1368 1364 1362 1372 1355 1380 1347 1388 1340 1395 1332 1401 1324 1407 1315 1413 1307 1418 1297 1423 1288 1427 1278 1431 1268 1435 1257 1439 1246 1442 1234 1445 1222 1448 1209 1451M1417 1178 1414 1190 1411 1202 1408 1214 1405 1226 1402 1238 1398 1250 1395 1262 1390 1274 1386 1286 1381 1298 1375 1310 1369 1322 1362 1334 1355 1344 1348 1354 1341 1364 1333 1372 1325 1380 1316 1388 1308 1395 1298 1401 1289 1407 1279 1413 1269 1418 1258 1423 1247 1427 1235 1431 1223 1435 1211 1439M1374 1178 1370 1190 1367 1202 1363 1214 1358 1226 1354 1238 1349 1250 1344 1262 1338 1274 1332 1286 1325 1298 1317 1310 1309 1322 1299 1334 1290 1344 1280 1354 1270 1364 1259 1372 1248 1380 1237 1388 1225 1395 1212 1401 1199 1407M1367 1178 1364 1190 1360 1202 1356 1214 1351 1226 1346 1238 1341 1250 1336 1262 1330 1274 1323 1286 1316 1298 1308 1310 1299 1322 1290 1334 1280 1344 1270 1354 1259 1364 1248 1372 1236 1380 1224 1388 1212 1395 1199 1401M1354 1178 1350 1190 1346 1202 1341 1214 1336 1226 1331 1238 1326 1250 1320 1262 1313 1274 1306 1286 1298 1298 1290 1310 1280 1322 1270 1334 1259 1344 1248 1354 1237 1364 1225 1372 1212 1380 1199 1388M1344 1178 1340 1190 1335 1202 1331 1214 1325 1226 1320 1238 1314 1250 1308 1262 1301 1274 1294 1286 1285 1298 1276 1310 1266 1322 1255 1334 1244 1344 1232 1354 1220 1364 1208 1372M1334 1178 1330 1190 1325 1202 1320 1214 1315 1226 1309 1238 1303 1250 1296 1262 1289 1274 1281 1286 1272 1298 1263 1310 1252 1322 1241 1334 1229 1344 1217 1354 1204 1364M1321 1178 1316 1190 1311 1202 1306 1214 1300 1226 1294 1238 1288 1250 1281 1262 1273 1274 1264 1286 1255 1298 1245 1310 1234 1322 1222 1334 1209 1344M1308 1178 1303 1190 1297 1202 1292 1214 1286 1226 1279 1238 1272 1250 1265 1262 1257 1274 1248 1286 1238 1298 1227 1310 1215 1322 1202 1334M1295 1178 1289 1190 1284 1202 1278 1214 1271 1226 1265 1238 1257 1250 1249 1262 1241 1274 1231 1286 1221 1298 1209 1310M1281 1178 1276 1190 1270 1202 1264 1214 1257 1226 1250 1238 1242 1250 1234 1262 1225 1274 1215 1286 1204 1298M1278 1178 1273 1190 1267 1202 1260 1214 1253 1226 1246 1238 1238 1250 1230 1262 1220 1274 1210 1286M1265 1178 1259 1190 1252 1202 1246 1214 1238 1226 1231 1238 1222 1250 1214 1262 1204 1274M1544 1445 1544 1448 1545 1451 1545 1454 1546 1456 1546 1458 1547 1460 1548 1462 1548 1464 1549 1465 1550 1467 1550 1468 1551 1470 1552 1471 1553 1472 1553 1473 1554 1474 1555 1475 1556 1476 1557 1477 1558 1477 1559 1478 1560 1479 1562 1479 1563 1480 1564 1480M1553 1388 1554 1395 1555 1401 1556 1407 1557 1413 1558 1418 1559 1423 1560 1427 1561 1431 1563 1435 1564 1439 1565 1442 1566 1445 1568 1448M1562 1364 1564 1372 1565 1380 1566 1388 1568 1395" fill="none" stroke="rgb(85,85,85)" stroke-width="2.3"/><path d="M1530 1451 1530 1454 1530 1456 1529 1458 1529 1460 1529 1462 1529 1464 1529 1465 1529 1467 1529 1468 1529 1470 1528 1471 1528 1472 1528 1473 1528 1474 1528 1475 1528 1476 1528 1477 1527 1477 1527 1478 1527 1479 1527 1480 1526 1480 1526 1481 1526 1482 1525 1482 1525 1483 1524 1483 1524 1484 1523 1484 1522 1484 1522 1485 1521 1485 1520 1485 1518 1486M1529 1364 1529 1372 1529 1380 1529 1388 1529 1395 1529 1401 1529 1407 1529 1413 1528 1418 1528 1423 1528 1427 1528 1431 1528 1435 1528 1439 1527 1442 1527 1445 1527 1448 1527 1451 1527 1454 1526 1456 1526 1458 1526 1460 1526 1462 1525 1464 1525 1465 1525 1467 1525 1468 1524 1470 1524 1471 1524 1472 1523 1473 1523 1474 1523 1475 1522 1476 1522 1477 1521 1477 1521 1478 1520 1479 1520 1480 1519 1480 1519 1481 1518 1481 1517 1482 1516 1482 1516 1483 1515 1483 1514 1483 1513 1483 1513 1484 1512 1484 1511 1484 1510 1484 1509 1485 1508 1485 1507 1485 1506 1485 1504 1485M1520 1445 1519 1448 1519 1451 1518 1454 1518 1456 1517 1458 1517 1460 1516 1462 1515 1464 1515 1465 1514 1467 1513 1468 1513 1470 1512 1471 1511 1472 1510 1473 1509 1474 1508 1475 1507 1476 1506 1477 1505 1477 1504 1478 1503 1479 1502 1479 1501 1480M1513 1451 1512 1454 1511 1456 1510 1458 1509 1460 1508 1462 1507 1464 1506 1465 1505 1467 1504 1468 1503 1470 1502 1471 1501 1472 1499 1473 1498 1474 1497 1475M1522 1178 1522 1190 1522 1202 1521 1214 1521 1226 1521 1238 1520 1250 1520 1262 1520 1274 1519 1286 1519 1298 1518 1310 1518 1322 1517 1334 1517 1344 1516 1354 1515 1364 1515 1372 1514 1380 1513 1388 1513 1395 1512 1401 1511 1407 1510 1413 1509 1418 1508 1423 1507 1427 1506 1431 1505 1435 1504 1439 1503 1442 1502 1445 1501 1448 1499 1451 1498 1454 1497 1456 1495 1458 1494 1460 1492 1462 1490 1464 1489 1465 1487 1467 1485 1468 1483 1470 1481 1471 1479 1472 1477 1473 1475 1474 1472 1475 1470 1476 1467 1477 1465 1477 1462 1478 1459 1479 1456 1479 1453 1480 1450 1480 1447 1481 1443 1481 1440 1482 1436 1482 1432 1482 1428 1483 1424 1483 1419 1483 1415 1483 1410 1484 1405 1484 1400 1484 1394 1484 1389 1485 1383 1485 1377 1485 1370 1485 1355 1485 1335 1486 1306 1486 1261 1486 1177 1487M1501 1442 1500 1445 1499 1448 1497 1451 1496 1454 1494 1456 1493 1458 1491 1460 1490 1462 1488 1464 1486 1465 1484 1467M1492 1388 1490 1395 1488 1401 1487 1407 1485 1413 1483 1418 1481 1423 1479 1427 1477 1431 1474 1435 1472 1439 1470 1442 1467 1445 1464 1448 1462 1451 1459 1454 1456 1456 1453 1458 1449 1460 1446 1462M1499 1178 1498 1190 1497 1202 1497 1214 1496 1226 1495 1238 1494 1250 1493 1262 1491 1274 1490 1286 1489 1298 1487 1310 1485 1322 1483 1334 1481 1344 1479 1354 1477 1364 1475 1372 1473 1380 1470 1388 1468 1395 1465 1401 1462 1407 1459 1413 1457 1418 1453 1423 1450 1427 1447 1431 1443 1435 1440 1439 1436 1442 1432 1445 1428 1448 1424 1451 1420 1454 1415 1456 1410 1458 1405 1460 1400 1462 1395 1464 1389 1465 1383 1467 1377 1468 1371 1470 1364 1471 1357 1472 1350 1473 1343 1474 1335 1475 1327 1476 1319 1477 1310 1477 1301 1478 1292 1479 1282 1479 1272 1480 1261 1480 1250 1481 1239 1481 1227 1482 1214 1482 1201 1482M1496 1178 1495 1190 1494 1202 1493 1214 1492 1226 1491 1238 1490 1250 1489 1262 1487 1274 1486 1286 1484 1298 1483 1310 1481 1322 1479 1334 1476 1344 1474 1354 1472 1364 1469 1372 1467 1380 1464 1388 1461 1395 1458 1401 1455 1407 1452 1413 1449 1418 1446 1423 1442 1427 1439 1431 1435 1435 1431 1439 1427 1442 1422 1445 1418 1448 1413 1451 1408 1454 1403 1456 1398 1458 1393 1460 1387 1462 1381 1464 1375 1465 1369 1467 1362 1468 1355 1470 1348 1471 1340 1472 1333 1473 1324 1474 1316 1475 1307 1476 1298 1477 1289 1477 1279 1478 1268 1479 1258 1479 1246 1480 1235 1480 1223 1481 1210 1481M1482 1178 1481 1190 1480 1202 1479 1214 1478 1226 1476 1238 1475 1250 1473 1262 1471 1274 1469 1286 1467 1298 1465 1310 1462 1322 1459 1334 1456 1344 1453 1354 1450 1364 1447 1372 1443 1380 1439 1388 1436 1395 1432 1401 1428 1407 1423 1413 1419 1418 1414 1423 1410 1427 1405 1431 1399 1435 1394 1439 1388 1442 1383 1445 1377 1448 1370 1451 1364 1454 1357 1456 1350 1458 1342 1460 1334 1462 1326 1464 1318 1465 1309 1467 1300 1468 1291 1470 1281 1471 1271 1472 1260 1473 1249 1474 1238 1475 1226 1476 1213 1477 1200 1477M1435 1354 1431 1364 1426 1372 1422 1380 1418 1388 1413 1395 1408 1401 1403 1407 1398 1413 1392 1418 1387 1423M1429 1344 1425 1354 1420 1364 1416 1372 1411 1380 1406 1388 1401 1395 1395 1401 1390 1407 1384 1413 1378 1418 1372 1423M1463 1178 1461 1190 1459 1202 1458 1214 1456 1226 1454 1238 1452 1250 1449 1262 1447 1274 1444 1286 1441 1298 1438 1310 1434 1322 1430 1334 1426 1344 1421 1354 1417 1364 1412 1372 1407 1380 1402 1388 1397 1395 1392 1401 1386 1407 1380 1413 1374 1418 1367 1423 1361 1427 1354 1431 1346 1435 1339 1439 1331 1442 1323 1445 1314 1448 1305 1451 1296 1454 1286 1456 1276 1458 1266 1460 1255 1462 1244 1464 1232 1465 1220 1467 1207 1468M1460 1178 1458 1190 1456 1202 1454 1214 1453 1226 1450 1238 1448 1250 1446 1262 1443 1274 1440 1286 1437 1298 1434 1310 1430 1322 1426 1334 1421 1344 1417 1354 1412 1364 1407 1372 1402 1380 1397 1388 1391 1395 1386 1401 1380 1407 1373 1413 1367 1418 1360 1423 1353 1427 1346 1431 1338 1435 1330 1439 1322 1442 1314 1445 1305 1448 1296 1451 1286 1454 1276 1456 1265 1458 1255 1460 1243 1462 1232 1464 1219 1465 1207 1467M1456 1178 1454 1190 1452 1202 1451 1214 1448 1226 1446 1238 1444 1250 1441 1262 1439 1274 1436 1286 1432 1298 1429 1310 1425 1322 1420 1334 1416 1344 1411 1354 1406 1364 1401 1372 1395 1380 1390 1388 1384 1395 1378 1401 1372 1407 1365 1413 1358 1418 1351 1423 1344 1427 1336 1431 1328 1435 1320 1439 1312 1442 1303 1445 1293 1448 1284 1451 1273 1454 1263 1456 1252 1458 1240 1460 1229 1462 1216 1464 1203 1465M1453 1178 1451 1190 1449 1202 1447 1214 1445 1226 1443 1238 1440 1250 1437 1262 1435 1274 1431 1286 1428 1298 1424 1310 1420 1322 1415 1334 1411 1344 1406 1354 1400 1364 1395 1372 1390 1380 1384 1388 1378 1395 1371 1401 1365 1407 1358 1413 1351 1418 1344 1423 1336 1427 1328 1431 1320 1435 1311 1439 1302 1442 1293 1445 1283 1448 1273 1451 1262 1454 1251 1456 1240 1458 1228 1460 1215 1462 1203 1464M1430 1178 1428 1190 1425 1202 1423 1214 1420 1226 1417 1238 1414 1250 1410 1262 1407 1274 1403 1286 1398 1298 1393 1310 1388 1322 1382 1334 1376 1344 1369 1354 1363 1364 1356 1372 1349 1380 1341 1388 1334 1395 1325 1401 1317 1407 1308 1413 1299 1418 1290 1423 1280 1427 1270 1431 1259 1435 1248 1439 1236 1442 1224 1445 1212 1448 1199 1451M1410 1178 1407 1190 1404 1202 1401 1214 1398 1226 1394 1238 1391 1250 1387 1262 1382 1274 1377 1286 1372 1298 1366 1310 1359 1322 1352 1334 1345 1344 1338 1354 1330 1364 1321 1372 1313 1380 1304 1388 1295 1395 1285 1401 1275 1407 1264 1413 1253 1418 1242 1423 1230 1427 1218 1431 1205 1435M1404 1178 1401 1190 1398 1202 1394 1214 1391 1226 1387 1238 1383 1250 1379 1262 1374 1274 1369 1286 1364 1298 1357 1310 1351 1322 1343 1334 1336 1344 1328 1354 1319 1364 1311 1372 1302 1380 1292 1388 1282 1395 1272 1401 1262 1407 1251 1413 1239 1418 1227 1423 1215 1427 1202 1431M1400 1178 1397 1190 1394 1202 1391 1214 1387 1226 1383 1238 1379 1250 1375 1262 1370 1274 1365 1286 1359 1298 1352 1310 1345 1322 1338 1334 1330 1344 1322 1354 1313 1364 1304 1372 1295 1380 1285 1388 1275 1395 1265 1401 1254 1407 1243 1413 1231 1418 1218 1423 1206 1427M1384 1178 1380 1190 1377 1202 1373 1214 1369 1226 1365 1238 1360 1250 1355 1262 1350 1274 1344 1286 1337 1298 1330 1310 1322 1322 1314 1334 1305 1344 1296 1354 1286 1364 1276 1372 1266 1380 1255 1388 1243 1395 1232 1401 1220 1407 1207 1413M1377 1178 1374 1190 1370 1202 1366 1214 1362 1226 1358 1238 1353 1250 1347 1262 1342 1274 1336 1286 1329 1298 1321 1310 1313 1322 1304 1334 1295 1344 1285 1354 1275 1364 1265 1372 1254 1380 1243 1388 1231 1395 1219 1401 1206 1407M1347 1178 1343 1190 1339 1202 1334 1214 1329 1226 1324 1238 1318 1250 1312 1262 1305 1274 1298 1286 1290 1298 1281 1310 1271 1322 1261 1334 1250 1344 1238 1354 1226 1364 1214 1372 1201 1380M1317 1178 1313 1190 1308 1202 1302 1214 1296 1226 1290 1238 1284 1250 1276 1262 1269 1274 1260 1286 1251 1298 1240 1310 1229 1322 1216 1334 1204 1344M1261 1178 1256 1190 1249 1202 1242 1214 1235 1226 1227 1238 1219 1250 1210 1262M1251 1178 1245 1190 1239 1202 1232 1214 1224 1226 1216 1238 1207 1250M1232 1178 1225 1190 1218 1202 1210 1214M1229 1178 1222 1190 1215 1202 1207 1214M1539 1442 1539 1445 1539 1448 1540 1451 1540 1454 1540 1456 1541 1458 1541 1460 1541 1462 1542 1464 1542 1465 1543 1467 1543 1468 1544 1470 1544 1471 1544 1472 1545 1473 1546 1474 1546 1475 1547 1476 1547 1477 1548 1477 1548 1478 1549 1479 1550 1479 1551 1480 1552 1481 1553 1481 1554 1482 1555 1482 1556 1482 1557 1483 1558 1483 1559 1483M1539 1322 1539 1334 1539 1344 1540 1354 1540 1364 1540 1372 1541 1380 1541 1388 1541 1395 1542 1401 1542 1407 1543 1413 1543 1418 1543 1423 1544 1427 1544 1431 1545 1435 1545 1439 1546 1442 1546 1445 1547 1448 1548 1451 1548 1454 1549 1456 1550 1458 1550 1460 1551 1462 1552 1464 1553 1465 1554 1467 1554 1468 1555 1470 1556 1471 1557 1472 1558 1473 1559 1474 1561 1475 1562 1476 1563 1477 1564 1477 1565 1478 1567 1479 1568 1479M1539 1178 1539 1190 1539 1202 1539 1214 1539 1226 1540 1238 1540 1250 1540 1262 1540 1274 1541 1286 1541 1298 1541 1310 1542 1322 1542 1334 1542 1344 1543 1354 1543 1364 1544 1372 1544 1380 1545 1388 1545 1395 1546 1401 1546 1407 1547 1413 1547 1418 1548 1423 1549 1427 1549 1431 1550 1435 1551 1439 1552 1442 1552 1445 1553 1448 1554 1451 1555 1454 1556 1456 1557 1458 1558 1460 1559 1462 1560 1464 1561 1465 1562 1467 1564 1468 1565 1470 1566 1471 1568 1472M1561 1451 1562 1454 1563 1456 1565 1458 1566 1460 1567 1462M1564 1445 1566 1448 1567 1451M1548 1178 1549 1190 1549 1202 1549 1214 1550 1226 1550 1238 1551 1250 1551 1262 1552 1274 1553 1286 1553 1298 1554 1310 1555 1322 1556 1334 1557 1344 1558 1354 1559 1364 1560 1372 1561 1380 1563 1388 1564 1395 1565 1401 1566 1407 1568 1413M1552 1178 1552 1190 1553 1202 1553 1214 1554 1226 1554 1238 1555 1250 1556 1262 1556 1274 1557 1286 1558 1298 1559 1310 1560 1322 1561 1334 1562 1344 1563 1354 1565 1364 1566 1372 1567 1380M1562 1178 1562 1190 1563 1202 1564 1214 1565 1226 1565 1238 1566 1250 1567 1262M1565 1178 1566 1190 1567 1202 1568 1214" fill="none" stroke="rgb(113,113,113)" stroke-width="2.3"/><path d="M1529 1178 1529 1190 1529 1202 1529 1214 1529 1226 1529 1238 1528 1250 1528 1262 1528 1274 1528 1286 1528 1298 1528 1310 1528 1322 1528 1334 1527 1344 1527 1354 1527 1364 1527 1372 1527 1380 1526 1388 1526 1395 1526 1401 1526 1407 1525 1413 1525 1418 1525 1423 1524 1427 1524 1431 1524 1435 1523 1439 1523 1442 1523 1445 1522 1448 1522 1451 1522 1454 1521 1456 1521 1458 1520 1460 1520 1462 1519 1464 1519 1465 1518 1467 1518 1468 1517 1470 1517 1471 1516 1472 1515 1473 1515 1474 1514 1475 1513 1476 1512 1477 1511 1478 1510 1479 1509 1479 1508 1480 1507 1480 1506 1481 1505 1481 1504 1482 1503 1482 1501 1482 1500 1483 1499 1483 1498 1483 1496 1483 1495 1484 1493 1484 1492 1484 1490 1484 1488 1485 1486 1485 1485 1485 1483 1485 1478 1485 1472 1486 1463 1486 1449 1486 1424 1487M1524 1354 1523 1364 1523 1372 1523 1380 1522 1388 1522 1395 1521 1401 1521 1407 1521 1413 1520 1418 1520 1423 1519 1427 1519 1431 1518 1435 1518 1439 1517 1442 1516 1445 1516 1448 1515 1451 1514 1454 1514 1456 1513 1458 1512 1460 1511 1462 1510 1464 1510 1465 1509 1467 1508 1468 1507 1470 1506 1471 1505 1472 1504 1473 1502 1474 1501 1475 1500 1476 1499 1477 1497 1477 1496 1478 1494 1479 1493 1479 1491 1480 1490 1480 1488 1481 1486 1481 1484 1482 1482 1482 1480 1482M1513 1354 1513 1364 1512 1372 1511 1380 1510 1388 1509 1395 1508 1401 1507 1407 1506 1413 1505 1418 1504 1423 1503 1427 1502 1431 1501 1435 1499 1439 1498 1442 1497 1445 1495 1448 1494 1451 1492 1454 1491 1456 1489 1458 1487 1460 1485 1462 1483 1464 1481 1465 1479 1467 1477 1468 1475 1470 1473 1471 1470 1472 1468 1473 1465 1474 1462 1475 1459 1476 1457 1477M1504 1344 1503 1354 1502 1364 1501 1372 1499 1380 1498 1388 1497 1395 1495 1401 1494 1407 1492 1413 1490 1418 1489 1423 1487 1427 1485 1431 1483 1435 1481 1439 1479 1442 1477 1445 1475 1448 1473 1451 1470 1454 1468 1456 1465 1458 1462 1460 1459 1462 1456 1464 1453 1465 1450 1467 1447 1468 1443 1470 1440 1471M1512 1178 1512 1190 1511 1202 1511 1214 1510 1226 1510 1238 1509 1250 1509 1262 1508 1274 1507 1286 1506 1298 1505 1310 1504 1322 1503 1334 1502 1344 1501 1354 1499 1364 1498 1372 1497 1380 1495 1388 1494 1395 1492 1401 1490 1407 1489 1413 1487 1418 1485 1423 1483 1427 1481 1431 1479 1435 1477 1439 1475 1442 1473 1445 1470 1448 1468 1451 1465 1454 1462 1456 1459 1458 1456 1460 1453 1462 1450 1464 1447 1465 1443 1467 1440 1468 1436 1470 1432 1471 1428 1472 1424 1473 1419 1474 1415 1475 1410 1476 1405 1477 1400 1477 1395 1478 1389 1479 1383 1479 1377 1480 1371 1480 1364 1481 1357 1481 1350 1482 1343 1482 1335 1482 1327 1483 1319 1483 1310 1483 1301 1483 1292 1484 1282 1484 1272 1484 1261 1484 1250 1485 1238 1485 1227 1485 1214 1485 1184 1485M1509 1178 1508 1190 1508 1202 1507 1214 1507 1226 1506 1238 1505 1250 1504 1262 1504 1274 1503 1286 1502 1298 1501 1310 1499 1322 1498 1334 1497 1344 1495 1354 1494 1364 1492 1372 1490 1380 1489 1388 1487 1395 1485 1401 1483 1407 1481 1413 1479 1418 1477 1423 1475 1427 1472 1431 1470 1435 1467 1439 1465 1442 1462 1445 1459 1448 1456 1451 1453 1454 1450 1456 1447 1458 1443 1460 1440 1462 1436 1464 1432 1465 1428 1467 1424 1468 1419 1470 1415 1471 1410 1472 1405 1473 1400 1474 1394 1475 1389 1476 1383 1477 1377 1477 1370 1478 1364 1479 1357 1479 1350 1480 1342 1480 1335 1481 1327 1481 1318 1482 1310 1482 1301 1482 1291 1483 1281 1483 1271 1483 1260 1483 1249 1484 1238 1484 1226 1484 1213 1484 1201 1485M1477 1395 1475 1401 1473 1407 1470 1413 1468 1418 1465 1423 1462 1427 1459 1431 1457 1435 1453 1439 1450 1442 1447 1445 1443 1448 1440 1451 1436 1454M1476 1334 1474 1344 1472 1354 1469 1364 1466 1372 1464 1380 1461 1388 1458 1395 1455 1401 1452 1407 1449 1413 1445 1418 1442 1423 1438 1427 1434 1431 1430 1435 1426 1439 1422 1442 1417 1445 1413 1448 1408 1451 1403 1454M1489 1178 1488 1190 1487 1202 1486 1214 1485 1226 1484 1238 1482 1250 1481 1262 1479 1274 1478 1286 1476 1298 1474 1310 1471 1322 1469 1334 1466 1344 1464 1354 1461 1364 1458 1372 1455 1380 1452 1388 1449 1395 1445 1401 1442 1407 1438 1413 1434 1418 1430 1423 1426 1427 1422 1431 1417 1435 1413 1439 1408 1442 1403 1445 1397 1448 1392 1451 1386 1454 1380 1456 1374 1458 1368 1460 1361 1462 1354 1464 1347 1465 1339 1467 1331 1468 1323 1470 1315 1471 1306 1472 1297 1473 1287 1474 1277 1475 1267 1476 1256 1477 1244 1477 1233 1478 1221 1479 1208 1479M1446 1380 1443 1388 1439 1395 1435 1401 1431 1407 1427 1413 1423 1418 1419 1423 1414 1427 1409 1431M1438 1372 1435 1380 1431 1388 1426 1395 1422 1401 1418 1407 1413 1413 1408 1418 1403 1423M1436 1364 1433 1372 1429 1380 1424 1388 1420 1395 1415 1401 1411 1407 1406 1413 1401 1418 1395 1423M1469 1178 1468 1190 1466 1202 1465 1214 1463 1226 1461 1238 1459 1250 1457 1262 1455 1274 1452 1286 1450 1298 1447 1310 1443 1322 1440 1334 1436 1344 1432 1354 1428 1364 1424 1372 1419 1380 1415 1388 1410 1395 1405 1401 1400 1407 1394 1413 1389 1418 1383 1423 1377 1427 1371 1431 1364 1435 1357 1439 1350 1442 1343 1445 1335 1448 1327 1451 1319 1454 1310 1456 1301 1458 1291 1460 1282 1462 1271 1464 1261 1465 1250 1467 1238 1468 1226 1470 1214 1471 1201 1472M1412 1388 1407 1395 1402 1401M1426 1178 1424 1190 1422 1202 1419 1214 1416 1226 1413 1238 1410 1250 1406 1262 1403 1274 1398 1286 1394 1298 1389 1310 1383 1322 1377 1334 1371 1344 1364 1354 1357 1364 1350 1372 1343 1380 1335 1388 1327 1395 1319 1401 1310 1407 1301 1413 1291 1418 1282 1423 1271 1427 1261 1431 1250 1435 1238 1439 1226 1442 1214 1445 1201 1448M1423 1178 1421 1190 1418 1202 1415 1214 1412 1226 1409 1238 1406 1250 1402 1262 1398 1274 1394 1286 1389 1298 1384 1310 1378 1322 1372 1334 1365 1344 1358 1354 1351 1364 1344 1372 1336 1380 1328 1388 1320 1395 1312 1401 1303 1407 1293 1413 1283 1418 1273 1423 1263 1427 1252 1431 1240 1435 1229 1439 1216 1442 1203 1445M1413 1178 1410 1190 1408 1202 1405 1214 1401 1226 1398 1238 1394 1250 1390 1262 1386 1274 1381 1286 1376 1298 1370 1310 1364 1322 1357 1334 1350 1344 1343 1354 1335 1364 1327 1372 1318 1380 1310 1388 1301 1395 1291 1401 1281 1407 1271 1413 1261 1418 1250 1423 1238 1427 1226 1431 1214 1435 1201 1439M1380 1178 1377 1190 1373 1202 1369 1214 1365 1226 1361 1238 1356 1250 1351 1262 1346 1274 1340 1286 1333 1298 1326 1310 1318 1322 1309 1334 1300 1344 1290 1354 1280 1364 1270 1372 1259 1380 1248 1388 1237 1395 1225 1401 1212 1407 1199 1413M1370 1178 1367 1190 1363 1202 1359 1214 1355 1226 1350 1238 1345 1250 1339 1262 1334 1274 1327 1286 1320 1298 1312 1310 1304 1322 1294 1334 1285 1344 1275 1354 1264 1364 1253 1372 1242 1380 1230 1388 1218 1395 1205 1401M1341 1178 1336 1190 1332 1202 1327 1214 1322 1226 1316 1238 1310 1250 1304 1262 1297 1274 1289 1286 1281 1298 1272 1310 1262 1322 1251 1334 1239 1344 1227 1354 1215 1364 1202 1372M1331 1178 1326 1190 1321 1202 1316 1214 1311 1226 1305 1238 1299 1250 1292 1262 1285 1274 1277 1286 1268 1298 1258 1310 1248 1322 1236 1334 1224 1344 1211 1354 1198 1364M1328 1178 1323 1190 1318 1202 1313 1214 1308 1226 1302 1238 1295 1250 1289 1262 1281 1274 1273 1286 1264 1298 1254 1310 1243 1322 1232 1334 1219 1344 1207 1354M1324 1178 1320 1190 1315 1202 1309 1214 1304 1226 1298 1238 1291 1250 1285 1262 1277 1274 1269 1286 1260 1298 1250 1310 1238 1322 1227 1334 1214 1344 1201 1354M1301 1178 1296 1190 1290 1202 1285 1214 1278 1226 1272 1238 1265 1250 1257 1262 1248 1274 1239 1286 1229 1298 1218 1310 1206 1322M1298 1178 1292 1190 1287 1202 1281 1214 1275 1226 1268 1238 1261 1250 1253 1262 1244 1274 1235 1286 1225 1298 1213 1310 1201 1322M1288 1178 1282 1190 1277 1202 1271 1214 1264 1226 1257 1238 1249 1250 1241 1262 1232 1274 1223 1286 1212 1298 1200 1310M1285 1178 1279 1190 1273 1202 1267 1214 1261 1226 1253 1238 1246 1250 1237 1262 1228 1274 1219 1286 1208 1298M1275 1178 1269 1190 1263 1202 1257 1214 1250 1226 1242 1238 1234 1250 1226 1262 1216 1274 1206 1286M1271 1178 1266 1190 1260 1202 1253 1214 1246 1226 1239 1238 1230 1250 1222 1262 1212 1274 1202 1286M1238 1178 1232 1190 1225 1202 1218 1214 1210 1226M1222 1178 1215 1190 1208 1202M1218 1178 1212 1190 1204 1202M1212 1178 1205 1190M1536 1458 1536 1460 1536 1462 1536 1464 1537 1465 1537 1467 1537 1468 1537 1470 1537 1471 1538 1472 1538 1473 1538 1474 1538 1475 1538 1476 1539 1477 1539 1478 1540 1479 1540 1480 1541 1480 1541 1481 1542 1482 1543 1483 1544 1483 1545 1484 1546 1484 1547 1485 1548 1485M1553 1458 1554 1460 1555 1462 1556 1464 1557 1465 1558 1467 1559 1468 1560 1470 1561 1471 1563 1472 1564 1473M1547 1388 1548 1395 1548 1401 1549 1407 1550 1413 1551 1418 1551 1423 1552 1427 1553 1431 1554 1435 1555 1439 1556 1442 1557 1445 1558 1448 1559 1451 1560 1454 1561 1456 1562 1458 1563 1460 1564 1462 1566 1464 1567 1465M1545 1178 1545 1190 1546 1202 1546 1214 1546 1226 1547 1238 1547 1250 1548 1262 1548 1274 1549 1286 1549 1298 1550 1310 1550 1322 1551 1334 1552 1344 1553 1354 1554 1364 1554 1372 1555 1380 1556 1388 1557 1395 1558 1401 1559 1407 1561 1413 1562 1418 1563 1423 1564 1427 1566 1431 1567 1435 1568 1439M1562 1322 1563 1334 1565 1344 1566 1354 1567 1364" fill="none" stroke="rgb(141,141,141)" stroke-width="2.3"/><path d="M1518 1372 1517 1380 1517 1388 1516 1395 1515 1401 1515 1407 1514 1413 1513 1418 1512 1423 1512 1427 1511 1431 1510 1435 1509 1439 1508 1442 1507 1445 1506 1448 1505 1451 1504 1454 1503 1456 1502 1458 1500 1460 1499 1462 1498 1464 1496 1465 1495 1467 1493 1468 1492 1470 1490 1471 1488 1472 1487 1473 1485 1474 1483 1475 1481 1476 1479 1477 1477 1477 1474 1478 1472 1479M1505 1442 1504 1445 1503 1448 1502 1451 1501 1454 1500 1456 1498 1458 1497 1460 1495 1462 1494 1464 1492 1465 1491 1467 1489 1468 1487 1470M1504 1388 1503 1395 1502 1401 1501 1407 1500 1413 1498 1418 1497 1423 1495 1427 1494 1431 1492 1435 1491 1439 1489 1442 1487 1445 1485 1448 1484 1451 1482 1454 1480 1456 1477 1458 1475 1460 1473 1462 1471 1464 1468 1465 1465 1467 1463 1468 1460 1470 1457 1471M1491 1364 1489 1372 1487 1380 1485 1388 1484 1395 1482 1401 1479 1407 1477 1413 1475 1418 1473 1423 1470 1427 1468 1431 1465 1435 1463 1439 1460 1442 1457 1445 1454 1448 1451 1451 1447 1454 1444 1456 1440 1458 1436 1460 1433 1462M1487 1322 1486 1334 1484 1344 1482 1354 1480 1364 1478 1372 1475 1380 1473 1388 1471 1395 1468 1401 1466 1407 1463 1413 1460 1418 1457 1423 1454 1427 1451 1431 1448 1435 1444 1439 1441 1442 1437 1445 1433 1448 1429 1451 1425 1454 1420 1456 1416 1458 1411 1460M1462 1401 1459 1407 1456 1413 1453 1418 1450 1423 1446 1427 1443 1431 1439 1435 1436 1439 1432 1442M1492 1178 1492 1190 1491 1202 1490 1214 1489 1226 1488 1238 1486 1250 1485 1262 1484 1274 1482 1286 1480 1298 1478 1310 1476 1322 1474 1334 1472 1344 1469 1354 1467 1364 1464 1372 1461 1380 1458 1388 1455 1395 1452 1401 1449 1407 1445 1413 1442 1418 1438 1423 1434 1427 1430 1431 1426 1435 1422 1439 1418 1442 1413 1445 1408 1448 1403 1451 1398 1454 1392 1456 1387 1458 1381 1460 1375 1462 1368 1464 1361 1465 1354 1467 1347 1468 1340 1470 1332 1471 1324 1472 1315 1473 1306 1474 1297 1475 1288 1476 1278 1477 1267 1477 1257 1478 1245 1479 1234 1479 1222 1480 1209 1480M1479 1178 1478 1190 1477 1202 1476 1214 1474 1226 1473 1238 1471 1250 1469 1262 1468 1274 1465 1286 1463 1298 1461 1310 1458 1322 1455 1334 1452 1344 1448 1354 1445 1364 1441 1372 1438 1380 1434 1388 1430 1395 1426 1401 1421 1407 1417 1413 1412 1418 1407 1423 1402 1427 1397 1431 1391 1435 1386 1439 1380 1442 1374 1445 1367 1448 1360 1451 1353 1454 1346 1456 1339 1458 1331 1460 1322 1462 1314 1464 1305 1465 1296 1467 1286 1468 1276 1470 1266 1471 1255 1472 1244 1473 1232 1474 1220 1475 1207 1476M1476 1178 1475 1190 1473 1202 1472 1214 1471 1226 1469 1238 1467 1250 1465 1262 1463 1274 1461 1286 1459 1298 1456 1310 1453 1322 1450 1334 1446 1344 1443 1354 1439 1364 1435 1372 1431 1380 1427 1388 1423 1395 1419 1401 1414 1407 1409 1413 1404 1418 1399 1423 1394 1427 1388 1431 1382 1435 1376 1439 1370 1442 1363 1445 1356 1448 1349 1451 1342 1454 1334 1456 1326 1458 1317 1460 1309 1462 1300 1464 1290 1465 1280 1467 1270 1468 1259 1470 1248 1471 1237 1472 1225 1473 1212 1474 1199 1475M1466 1178 1465 1190 1463 1202 1461 1214 1460 1226 1458 1238 1456 1250 1454 1262 1451 1274 1448 1286 1446 1298 1442 1310 1439 1322 1435 1334 1431 1344 1427 1354 1423 1364 1418 1372 1414 1380 1409 1388 1404 1395 1399 1401 1393 1407 1388 1413 1382 1418 1376 1423 1369 1427 1363 1431 1356 1435 1349 1439 1341 1442 1333 1445 1325 1448 1317 1451 1308 1454 1299 1456 1289 1458 1280 1460 1269 1462 1259 1464 1247 1465 1236 1467 1224 1468 1211 1470 1198 1471M1403 1344 1398 1354 1392 1364 1387 1372 1381 1380 1375 1388 1368 1395 1362 1401M1440 1178 1438 1190 1435 1202 1433 1214 1431 1226 1428 1238 1425 1250 1422 1262 1419 1274 1415 1286 1411 1298 1406 1310 1402 1322 1396 1334 1391 1344 1385 1354 1379 1364 1373 1372 1366 1380 1359 1388 1352 1395 1345 1401 1338 1407 1330 1413 1321 1418 1313 1423 1304 1427 1295 1431 1285 1435 1275 1439 1264 1442 1253 1445 1242 1448 1230 1451 1218 1454 1205 1456M1364 1178 1360 1190 1356 1202 1352 1214 1347 1226 1343 1238 1337 1250 1332 1262 1326 1274 1319 1286 1312 1298 1304 1310 1295 1322 1285 1334 1275 1344 1264 1354 1253 1364 1242 1372 1230 1380 1218 1388 1205 1395M1360 1178 1357 1190 1352 1202 1348 1214 1344 1226 1339 1238 1333 1250 1328 1262 1321 1274 1314 1286 1307 1298 1299 1310 1290 1322 1280 1334 1269 1344 1259 1354 1248 1364 1236 1372 1224 1380 1211 1388 1198 1395M1357 1178 1353 1190 1349 1202 1345 1214 1340 1226 1335 1238 1330 1250 1324 1262 1318 1274 1311 1286 1303 1298 1295 1310 1285 1322 1275 1334 1265 1344 1254 1354 1243 1364 1231 1372 1219 1380 1206 1388M1311 1178 1306 1190 1301 1202 1295 1214 1289 1226 1283 1238 1276 1250 1269 1262 1261 1274 1252 1286 1242 1298 1232 1310 1220 1322 1207 1334M1258 1178 1252 1190 1246 1202 1239 1214 1232 1226 1224 1238 1215 1250 1206 1262M1255 1178 1248 1190 1242 1202 1235 1214 1228 1226 1220 1238 1211 1250 1202 1262M1245 1178 1238 1190 1232 1202 1224 1214 1217 1226 1208 1238M1241 1178 1235 1190 1228 1202 1221 1214 1213 1226 1205 1238M1235 1178 1228 1190 1222 1202 1214 1214 1206 1226M1225 1178 1218 1190 1211 1202 1203 1214M1535 1178 1535 1190 1535 1202 1535 1214 1535 1226 1536 1238 1536 1250 1536 1262 1536 1274 1536 1286 1536 1298 1536 1310 1536 1322 1537 1334 1537 1344 1537 1354 1537 1364 1537 1372 1538 1380 1538 1388 1538 1395 1538 1401 1539 1407 1539 1413 1539 1418 1540 1423 1540 1427 1540 1431 1540 1435 1541 1439 1541 1442 1542 1445 1542 1448 1542 1451 1543 1454 1543 1456 1544 1458 1544 1460 1545 1462 1545 1464 1546 1465 1546 1467 1547 1468 1547 1470 1548 1471 1549 1472 1549 1473 1550 1474 1551 1475 1552 1476 1552 1477 1553 1477 1554 1478 1555 1479 1556 1479 1557 1480 1558 1480 1559 1481 1560 1481 1561 1482 1562 1482 1564 1482 1565 1483 1566 1483 1568 1483M1553 1439 1554 1442 1555 1445 1556 1448 1557 1451 1558 1454 1559 1456 1560 1458 1561 1460 1562 1462 1563 1464 1565 1465 1566 1467 1567 1468M1542 1178 1542 1190 1542 1202 1543 1214 1543 1226 1543 1238 1543 1250 1544 1262 1544 1274 1545 1286 1545 1298 1545 1310 1546 1322 1547 1334 1547 1344 1548 1354 1548 1364 1549 1372 1550 1380 1550 1388 1551 1395 1552 1401 1553 1407 1554 1413 1555 1418 1555 1423 1556 1427 1557 1431 1558 1435 1560 1439 1561 1442 1562 1445 1563 1448 1564 1451 1566 1454 1567 1456 1568 1458M1553 1322 1554 1334 1554 1344 1555 1354 1556 1364 1557 1372 1558 1380 1559 1388 1561 1395 1562 1401 1563 1407 1564 1413 1565 1418 1567 1423 1568 1427M1555 1178 1555 1190 1556 1202 1557 1214 1557 1226 1558 1238 1558 1250 1559 1262 1560 1274 1561 1286 1562 1298 1563 1310 1564 1322 1566 1334 1567 1344" fill="none" stroke="rgb(170,170,170)" stroke-width="2.3"/><path d="M1525 1439 1525 1442 1524 1445 1524 1448 1524 1451 1523 1454 1523 1456 1523 1458 1522 1460 1522 1462 1521 1464 1521 1465 1521 1467 1520 1468 1520 1470 1519 1471 1519 1472 1518 1473 1518 1474 1517 1475 1516 1476 1516 1477 1515 1477 1514 1478 1514 1479 1513 1479 1512 1480 1511 1480 1510 1481 1509 1482 1508 1482 1507 1482 1506 1483 1505 1483M1461 1372 1458 1380 1455 1388 1452 1395 1449 1401 1445 1407 1442 1413 1438 1418 1434 1423 1430 1427 1426 1431 1422 1435 1417 1439 1413 1442M1486 1178 1485 1190 1483 1202 1482 1214 1481 1226 1480 1238 1478 1250 1477 1262 1475 1274 1473 1286 1471 1298 1469 1310 1466 1322 1464 1334 1461 1344 1458 1354 1455 1364 1452 1372 1449 1380 1445 1388 1442 1395 1438 1401 1434 1407 1430 1413 1426 1418 1422 1423 1417 1427 1413 1431 1408 1435 1403 1439 1397 1442 1392 1445 1386 1448 1380 1451 1374 1454 1368 1456 1361 1458 1354 1460 1347 1462 1339 1464 1332 1465 1323 1467 1315 1468 1306 1470 1297 1471 1287 1472 1277 1473 1267 1474 1256 1475 1245 1476 1233 1477 1221 1477 1208 1478M1473 1178 1471 1190 1470 1202 1468 1214 1467 1226 1465 1238 1463 1250 1461 1262 1459 1274 1457 1286 1454 1298 1451 1310 1448 1322 1445 1334 1441 1344 1437 1354 1434 1364 1430 1372 1425 1380 1421 1388 1417 1395 1412 1401 1407 1407 1402 1413 1397 1418 1391 1423 1385 1427 1379 1431 1373 1435 1367 1439 1360 1442 1353 1445 1346 1448 1338 1451 1330 1454 1322 1456 1313 1458 1304 1460 1295 1462 1285 1464 1275 1465 1265 1467 1254 1468 1243 1470 1231 1471 1219 1472 1206 1473M1446 1178 1444 1190 1442 1202 1440 1214 1438 1226 1435 1238 1432 1250 1430 1262 1426 1274 1423 1286 1419 1298 1415 1310 1411 1322 1406 1334 1400 1344 1395 1354 1390 1364 1384 1372 1378 1380 1371 1388 1365 1395 1358 1401 1351 1407 1344 1413 1336 1418 1328 1423 1320 1427 1311 1431 1302 1435 1293 1439 1283 1442 1273 1445 1262 1448 1251 1451 1240 1454 1228 1456 1215 1458 1203 1460M1397 1178 1394 1190 1391 1202 1387 1214 1384 1226 1380 1238 1376 1250 1371 1262 1366 1274 1361 1286 1355 1298 1348 1310 1341 1322 1333 1334 1325 1344 1317 1354 1308 1364 1299 1372 1290 1380 1280 1388 1269 1395 1259 1401 1248 1407 1236 1413 1224 1418 1212 1423 1198 1427M1291 1178 1286 1190 1280 1202 1274 1214 1268 1226 1261 1238 1253 1250 1245 1262 1236 1274 1227 1286 1216 1298 1205 1310M1268 1178 1262 1190 1256 1202 1249 1214 1242 1226 1235 1238 1226 1250 1218 1262 1208 1274M1248 1178 1242 1190 1235 1202 1228 1214 1221 1226 1212 1238 1204 1250M1215 1178 1208 1190M1558 1178 1559 1190 1560 1202 1560 1214 1561 1226 1562 1238 1563 1250 1563 1262 1564 1274 1565 1286 1567 1298 1568 1310" fill="none" stroke="rgb(198,198,198)" stroke-width="2.3"/><path d="M1525 1178 1525 1190 1525 1202 1525 1214 1525 1226 1524 1238 1524 1250 1524 1262 1524 1274 1524 1286 1523 1298 1523 1310 1523 1322 1522 1334 1522 1344 1521 1354 1521 1364 1521 1372 1520 1380 1520 1388 1519 1395 1519 1401 1518 1407 1517 1413 1517 1418 1516 1423 1516 1427 1515 1431 1514 1435 1513 1439 1513 1442 1512 1445 1511 1448 1510 1451 1509 1454 1508 1456 1507 1458 1506 1460 1505 1462 1504 1464 1503 1465 1502 1467 1501 1468 1500 1470 1498 1471 1497 1472 1495 1473 1494 1474 1492 1475 1491 1476 1489 1477 1487 1477 1486 1478 1484 1479 1482 1479 1480 1480 1477 1480 1475 1481 1473 1481 1471 1482 1468 1482 1465 1482 1463 1483 1460 1483 1457 1483 1454 1483 1451 1484 1447 1484 1444 1484 1440 1484 1437 1485 1433 1485 1429 1485 1425 1485 1414 1485 1401 1486 1382 1486 1352 1486 1296 1487M1505 1178 1505 1190 1504 1202 1504 1214 1503 1226 1502 1238 1501 1250 1500 1262 1499 1274 1498 1286 1497 1298 1496 1310 1494 1322 1493 1334 1491 1344 1490 1354 1488 1364 1486 1372 1484 1380 1482 1388 1480 1395 1478 1401 1476 1407 1474 1413 1471 1418 1469 1423 1466 1427 1464 1431 1461 1435 1458 1439 1455 1442 1452 1445 1449 1448 1445 1451 1442 1454 1438 1456 1434 1458 1430 1460 1426 1462 1422 1464 1417 1465 1413 1467 1408 1468 1403 1470 1397 1471 1392 1472 1386 1473 1380 1474 1374 1475 1368 1476 1361 1477 1354 1477 1347 1478 1339 1479 1331 1479 1323 1480 1315 1480 1306 1481 1297 1481 1287 1482 1277 1482 1267 1482 1256 1483 1245 1483 1233 1483 1221 1483 1208 1484M1502 1178 1502 1190 1501 1202 1500 1214 1499 1226 1499 1238 1498 1250 1497 1262 1496 1274 1494 1286 1493 1298 1492 1310 1490 1322 1488 1334 1487 1344 1485 1354 1483 1364 1481 1372 1479 1380 1477 1388 1474 1395 1472 1401 1470 1407 1467 1413 1464 1418 1462 1423 1459 1427 1456 1431 1453 1435 1449 1439 1446 1442 1443 1445 1439 1448 1435 1451 1431 1454 1427 1456 1423 1458 1418 1460 1414 1462 1409 1464 1404 1465 1399 1467 1393 1468 1388 1470 1382 1471 1376 1472 1369 1473 1363 1474 1356 1475 1349 1476 1341 1477 1333 1477 1325 1478 1317 1479 1308 1479 1299 1480 1290 1480 1280 1481 1269 1481 1259 1482 1248 1482 1236 1482 1224 1483 1211 1483 1198 1483M1407 1178 1404 1190 1401 1202 1398 1214 1395 1226 1391 1238 1387 1250 1383 1262 1378 1274 1373 1286 1368 1298 1362 1310 1355 1322 1348 1334 1341 1344 1333 1354 1325 1364 1316 1372 1307 1380 1298 1388 1289 1395 1279 1401 1269 1407 1258 1413 1247 1418 1235 1423 1223 1427 1210 1431M1314 1178 1309 1190 1304 1202 1299 1214 1293 1226 1287 1238 1280 1250 1272 1262 1265 1274 1256 1286 1246 1298 1236 1310 1224 1322 1212 1334 1199 1344M1304 1178 1299 1190 1294 1202 1288 1214 1282 1226 1276 1238 1269 1250 1261 1262 1253 1274 1244 1286 1234 1298 1223 1310 1211 1322" fill="none" stroke="rgb(226,226,226)" stroke-width="2.3"/><path d="M1387 1178 1384 1190 1380 1202 1377 1214 1373 1226 1369 1238 1364 1250 1359 1262 1354 1274 1348 1286 1342 1298 1335 1310 1327 1322 1319 1334 1310 1344 1301 1354 1291 1364 1282 1372 1271 1380 1261 1388 1250 1395 1238 1401 1226 1407 1214 1413 1201 1418" fill="none" stroke="rgb(255,255,255)" stroke-width="2.3"/><path d="M1529 1467 1529 1468M1525 1483 1524 1483M1514 1483 1513 1483 1513 1484M1508 1482 1507 1482 1506 1483 1505 1483M1507 1480 1506 1481 1505 1481 1504 1482 1503 1482M1483 1485 1478 1485 1472 1486 1463 1486 1449 1486M1515 1465 1514 1467 1513 1468 1513 1470M1510 1464 1510 1465 1509 1467M1520 1423 1519 1427 1519 1431 1518 1435 1518 1439M1501 1472 1499 1473 1498 1474M1516 1427 1515 1431 1514 1435 1513 1439M1433 1485 1429 1485 1425 1485 1414 1485M1511 1431 1510 1435 1509 1439M1491 1467 1489 1468 1487 1470M1394 1484 1389 1485 1383 1485 1377 1485M1499 1448 1497 1451M1519 1178 1518 1190M1465 1467 1463 1468 1460 1470 1457 1471M1468 1465 1465 1467 1463 1468 1460 1470 1457 1471M1516 1178 1515 1190M1414 1479 1409 1479 1404 1480M1490 1418 1489 1423 1487 1427 1485 1431M1510 1238 1509 1250 1509 1262M1272 1484 1261 1484 1250 1485 1238 1485 1227 1485M1465 1442 1462 1445M1477 1413 1475 1418 1473 1423M1485 1388 1484 1395 1482 1401 1479 1407 1477 1413M1491 1344 1490 1354 1488 1364M1504 1214 1503 1226 1502 1238 1501 1250 1500 1262M1465 1423 1462 1427 1459 1431M1453 1439 1450 1442 1447 1445 1443 1448M1420 1456 1416 1458 1411 1460M1457 1423 1454 1427 1451 1431 1448 1435M1443 1435 1440 1439M1456 1413 1453 1418 1450 1423 1446 1427 1443 1431M1450 1423 1446 1427 1443 1431M1413 1451 1408 1454 1403 1456 1398 1458M1422 1445 1418 1448M1458 1395 1455 1401 1452 1407 1449 1413 1445 1418M1476 1334 1474 1344 1472 1354 1469 1364 1466 1372M1408 1448 1403 1451 1398 1454 1392 1456 1387 1458M1426 1431 1422 1435 1417 1439 1413 1442M1408 1442 1403 1445 1397 1448 1392 1451 1386 1454M1452 1388 1449 1395 1445 1401M1434 1413 1431 1418M1431 1418 1426 1423M1306 1470 1297 1471 1287 1472M1471 1298 1469 1310 1466 1322 1464 1334 1461 1344M1439 1395 1435 1401 1431 1407M1431 1407 1427 1413M1423 1413 1419 1418 1414 1423 1410 1427 1405 1431M1405 1427 1400 1431 1395 1435M1428 1401 1424 1407 1420 1413 1415 1418 1410 1423M1322 1462 1314 1464M1380 1442 1374 1445 1367 1448 1360 1451M1467 1250 1465 1262 1463 1274 1461 1286M1424 1388 1420 1395 1415 1401 1411 1407M1254 1468 1243 1470 1231 1471M1408 1401 1403 1407 1398 1413M1413 1395 1408 1401M1289 1458 1280 1460 1269 1462 1259 1464M1463 1202 1461 1214 1460 1226 1458 1238M1367 1423 1361 1427 1354 1431 1346 1435M1447 1274 1444 1286 1441 1298M1344 1427 1336 1431M1302 1442 1293 1445 1283 1448 1273 1451 1262 1454M1251 1456 1240 1458 1228 1460 1215 1462 1203 1464M1444 1214 1442 1226 1439 1238M1375 1388 1368 1395M1262 1448 1251 1451M1401 1334 1396 1344 1390 1354 1384 1364M1423 1274 1419 1286 1415 1298 1411 1310 1406 1322M1415 1286 1411 1298 1406 1310M1295 1431 1285 1435 1275 1439 1264 1442 1253 1445M1276 1435 1265 1439M1434 1190 1432 1202 1429 1214 1427 1226M1307 1418 1297 1423 1288 1427M1417 1238 1414 1250 1410 1262M1406 1262 1403 1274 1398 1286 1394 1298M1250 1435 1238 1439M1394 1286 1389 1298 1384 1310M1286 1413 1276 1418 1265 1423 1255 1427 1243 1431M1314 1395 1305 1401 1296 1407 1286 1413M1405 1226 1402 1238 1398 1250 1395 1262M1386 1274 1381 1286 1376 1298 1370 1310M1398 1226 1394 1238 1391 1250 1387 1262M1394 1214 1391 1226 1387 1238 1383 1250 1379 1262M1401 1190 1398 1202 1394 1214 1391 1226 1387 1238M1365 1286 1359 1298 1352 1310M1379 1250 1375 1262 1370 1274 1365 1286M1391 1202 1387 1214M1224 1418 1212 1423 1198 1427M1380 1214 1376 1226M1342 1298 1335 1310 1327 1322 1319 1334M1380 1190 1377 1202M1333 1298 1326 1310 1318 1322 1309 1334M1295 1344 1285 1354 1275 1364 1265 1372 1254 1380M1374 1178 1370 1190M1275 1354 1264 1364 1253 1372 1242 1380M1264 1364 1253 1372 1242 1380M1308 1310 1299 1322 1290 1334 1280 1344M1224 1380 1211 1388 1198 1395M1360 1178 1357 1190 1352 1202 1348 1214 1344 1226M1311 1286 1303 1298 1295 1310M1231 1372 1219 1380M1313 1274 1306 1286 1298 1298 1290 1310M1350 1178 1346 1190 1342 1202M1266 1322 1255 1334 1244 1344M1244 1344 1232 1354 1220 1364 1208 1372M1330 1190 1325 1202M1326 1190 1321 1202 1316 1214M1264 1298 1254 1310 1243 1322 1232 1334M1309 1214 1304 1226M1273 1274 1264 1286 1255 1298M1281 1262 1273 1274 1264 1286 1255 1298M1299 1214 1293 1226M1256 1286 1246 1298 1236 1310 1224 1322 1212 1334M1283 1238 1276 1250 1269 1262 1261 1274 1252 1286M1276 1250 1269 1262 1261 1274 1252 1286 1242 1298M1227 1310 1215 1322 1202 1334M1288 1214 1282 1226 1276 1238M1276 1238 1269 1250 1261 1262 1253 1274 1244 1286M1248 1274 1239 1286 1229 1298 1218 1310M1268 1238 1261 1250 1253 1262M1292 1190 1287 1202 1281 1214M1253 1250 1245 1262 1236 1274 1227 1286 1216 1298M1253 1238 1246 1250 1237 1262 1228 1274 1219 1286M1257 1226 1250 1238 1242 1250 1234 1262 1225 1274M1230 1262 1220 1274 1210 1286M1269 1190 1263 1202 1257 1214 1250 1226 1242 1238M1260 1202 1253 1214 1246 1226M1256 1190 1249 1202 1242 1214M1224 1238 1215 1250M1224 1238 1215 1250 1206 1262M1232 1214 1224 1226 1216 1238 1207 1250M1251 1178 1245 1190 1239 1202 1232 1214M1228 1214 1221 1226 1212 1238 1204 1250M1224 1214 1217 1226 1208 1238M1238 1190 1232 1202M1241 1178 1235 1190 1228 1202 1221 1214M1232 1190 1225 1202 1218 1214M1238 1178 1232 1190 1225 1202 1218 1214M1235 1178 1228 1190 1222 1202 1214 1214 1206 1226M1232 1178 1225 1190 1218 1202 1210 1214M1222 1190 1215 1202 1207 1214M1222 1190 1215 1202 1207 1214M1218 1190 1211 1202 1203 1214M1218 1190 1211 1202M1536 1462 1536 1464 1537 1465 1537 1467 1537 1468M1536 1439 1537 1442M1545 1473 1546 1474 1546 1475 1547 1476M1560 1481 1561 1482 1562 1482 1564 1482M1556 1471 1557 1472 1558 1473M1546 1407 1547 1413 1547 1418 1548 1423M1565 1465 1566 1467M1555 1445 1556 1448 1557 1451 1558 1454 1559 1456M1550 1413 1551 1418 1551 1423 1552 1427 1553 1431M1565 1458 1566 1460 1567 1462M1548 1364 1549 1372 1550 1380 1550 1388 1551 1395M1564 1439 1565 1442M1564 1439 1565 1442 1566 1445 1568 1448M1549 1286 1549 1298 1550 1310 1550 1322 1551 1334M1554 1310 1555 1322M1553 1298 1554 1310 1555 1322 1556 1334M1565 1380 1566 1388 1568 1395M1555 1250 1556 1262 1556 1274M1565 1344 1566 1354 1567 1364M1565 1344 1566 1354M1561 1286 1562 1298M1558 1178 1559 1190 1560 1202 1560 1214M1563 1202 1564 1214 1565 1226M1565 1178 1566 1190 1567 1202 1568 1214" fill="none" stroke="rgb(28,28,28)" stroke-width="2.8"/><defs><linearGradient id="wz1" x1="0" y1="0" x2="0" y2="1"><stop offset="0" stop-color="#000" stop-opacity="0"/><stop offset="1" stop-color="#000" stop-opacity="0.7"/></linearGradient></defs><rect x="1214" y="1458" width="270" height="32" fill="url(#wz1)"/><g filter="url(#bl4)"><ellipse cx="1505" cy="1465" rx="18" ry="28" fill="#000"/><ellipse cx="1525" cy="1475" rx="8" ry="18" fill="#000"/></g><path d="M1484 1452 Q1492 1444 1500 1436" stroke="#e8e8e8" stroke-width="3" fill="none"/></g><defs><clipPath id="cz2"><rect x="1214.5" y="1580" width="351.5" height="310.0"/></clipPath></defs><g clip-path="url(#cz2)"><rect x="1214.5" y="1580" width="351.5" height="310.0" fill="#222"/><path d="M1374 1579 1371 1591 1368 1603 1365 1615 1361 1627 1357 1639 1353 1651 1349 1663 1344 1675 1339 1687 1333 1699 1326 1711 1319 1723 1312 1735 1304 1745 1296 1755 1287 1765 1278 1773 1269 1781 1259 1789 1249 1796 1239 1802 1228 1808 1217 1814 1205 1819" fill="none" stroke="rgb(0,0,0)" stroke-width="2.3"/><path d="M1476 1579 1476 1591 1475 1603 1474 1615 1474 1627 1473 1639 1472 1651 1471 1663 1470 1675 1469 1687 1467 1699 1466 1711 1464 1723 1463 1735 1461 1745 1459 1755 1457 1765 1455 1773 1453 1781 1451 1789 1449 1796 1446 1802 1444 1808 1441 1814 1439 1819 1436 1824 1433 1828 1430 1832 1427 1836 1424 1840 1420 1843 1417 1846 1413 1849 1409 1852 1406 1855 1401 1857 1397 1859 1393 1861 1388 1863 1383 1865 1378 1866 1373 1868 1368 1869 1362 1871 1356 1872 1350 1873 1344 1874 1337 1875 1330 1876 1323 1877 1316 1878 1308 1878 1300 1879 1292 1880 1283 1880 1274 1881 1264 1881 1254 1882 1244 1882 1233 1883 1222 1883 1211 1883M1367 1579 1364 1591 1361 1603 1358 1615 1354 1627 1350 1639 1346 1651 1341 1663 1336 1675 1330 1687 1324 1699 1318 1711 1310 1723 1302 1735 1294 1745 1285 1755 1276 1765 1267 1773 1257 1781 1247 1789 1237 1796 1226 1802 1214 1808 1202 1814M1549 1579 1550 1591 1551 1603 1552 1615 1553 1627 1555 1639 1556 1651 1557 1663 1559 1675 1561 1687 1563 1699 1565 1711 1567 1723 1569 1735" fill="none" stroke="rgb(28,28,28)" stroke-width="2.3"/><path d="M1489 1579 1489 1591 1489 1603 1488 1615 1488 1627 1487 1639 1487 1651 1486 1663 1486 1675 1485 1687 1484 1699 1483 1711 1482 1723 1481 1735 1480 1745 1479 1755 1478 1765 1477 1773 1476 1781 1475 1789 1474 1796 1472 1802 1471 1808 1469 1814 1468 1819 1466 1824 1465 1828 1463 1832 1461 1836 1460 1840 1458 1843 1456 1846 1454 1849 1452 1852 1449 1855 1447 1857 1445 1859 1442 1861 1439 1863 1437 1865 1434 1866 1431 1868 1428 1869 1425 1871 1421 1872 1418 1873 1414 1874 1411 1875 1407 1876 1403 1877 1399 1878 1394 1878 1390 1879 1385 1880 1380 1880 1375 1881 1370 1881 1364 1882 1358 1882 1352 1883 1346 1883 1339 1883 1333 1884 1326 1884 1318 1884 1311 1884 1303 1885 1294 1885 1286 1885 1277 1885 1267 1886 1258 1886 1248 1886 1237 1886 1211 1886M1393 1755 1389 1765 1384 1773 1379 1781 1374 1789 1369 1796 1363 1802 1357 1808 1351 1814M1423 1579 1421 1591 1420 1603 1417 1615 1415 1627 1413 1639 1410 1651 1408 1663 1405 1675 1401 1687 1398 1699 1394 1711 1389 1723 1384 1735 1380 1745 1374 1755 1369 1765 1363 1773 1358 1781 1352 1789 1345 1796 1339 1802 1332 1808 1325 1814 1318 1819 1310 1824 1302 1828 1294 1832 1285 1836 1276 1840 1267 1843 1257 1846 1247 1849 1236 1852 1225 1855 1214 1857 1202 1859M1364 1579 1361 1591 1358 1603 1354 1615 1350 1627 1346 1639 1342 1651 1337 1663 1332 1675 1326 1687 1320 1699 1313 1711 1306 1723 1298 1735 1289 1745 1280 1755 1271 1765 1262 1773 1252 1781 1241 1789 1231 1796 1219 1802 1208 1808M1344 1579 1341 1591 1337 1603 1333 1615 1329 1627 1324 1639 1319 1651 1314 1663 1308 1675 1301 1687 1294 1699 1287 1711 1278 1723 1269 1735 1259 1745 1249 1755 1238 1765 1228 1773 1216 1781 1204 1789M1331 1579 1327 1591 1323 1603 1319 1615 1314 1627 1309 1639 1304 1651 1298 1663 1291 1675 1284 1687 1277 1699 1268 1711 1259 1723 1249 1735 1238 1745 1228 1755 1216 1765 1204 1773M1302 1579 1297 1591 1292 1603 1287 1615 1282 1627 1276 1639 1269 1651 1263 1663 1255 1675 1247 1687 1238 1699 1228 1711 1217 1723 1206 1735M1288 1579 1283 1591 1278 1603 1273 1615 1267 1627 1261 1639 1254 1651 1247 1663 1239 1675 1230 1687 1221 1699 1210 1711M1249 1579 1243 1591 1237 1603 1230 1615 1224 1627 1216 1639 1208 1651M1212 1579 1206 1591M1526 1579 1526 1591 1527 1603 1527 1615 1528 1627 1528 1639 1529 1651 1530 1663 1530 1675 1531 1687 1532 1699 1533 1711 1534 1723 1535 1735 1537 1745 1538 1755 1539 1765 1540 1773 1542 1781 1543 1789 1545 1796 1546 1802 1548 1808 1550 1814 1551 1819 1553 1824 1555 1828 1557 1832 1559 1836 1562 1840 1564 1843 1566 1846 1569 1849 1571 1852M1560 1773 1562 1781 1565 1789 1567 1796 1570 1802M1565 1579 1567 1591 1568 1603 1569 1615" fill="none" stroke="rgb(56,56,56)" stroke-width="2.3"/><path d="M1504 1840 1504 1843 1504 1846 1504 1849 1504 1852 1504 1855 1504 1857 1503 1859 1503 1861 1503 1863 1503 1865 1503 1866 1503 1868 1503 1869 1503 1871 1502 1872 1502 1873 1502 1874 1502 1875 1502 1876 1502 1877 1502 1878 1501 1878 1501 1879 1501 1880 1501 1881 1500 1881 1500 1882 1500 1883 1499 1883 1499 1884 1498 1884 1498 1885 1497 1885 1496 1885 1496 1886 1495 1886 1494 1886 1492 1887 1490 1887M1490 1843 1489 1846 1488 1849 1488 1852 1487 1855 1486 1857 1485 1859 1485 1861 1484 1863 1483 1865 1482 1866 1481 1868 1480 1869 1479 1871 1478 1872 1476 1873 1475 1874 1474 1875 1473 1876 1471 1877 1470 1878 1468 1878M1494 1735 1493 1745 1493 1755 1492 1765 1492 1773 1491 1781 1490 1789 1490 1796 1489 1802 1488 1808 1488 1814 1487 1819 1486 1824 1485 1828 1484 1832 1484 1836 1483 1840 1482 1843 1481 1846 1480 1849 1479 1852 1477 1855 1476 1857 1475 1859 1474 1861 1473 1863 1471 1865 1470 1866 1468 1868 1467 1869 1465 1871 1463 1872 1462 1873 1460 1874 1458 1875 1456 1876 1454 1877 1452 1878 1450 1878 1447 1879 1445 1880 1443 1880 1440 1881 1437 1881M1473 1846 1472 1849 1470 1852 1469 1855 1467 1857 1466 1859 1464 1861 1462 1863 1461 1865 1459 1866M1465 1735 1463 1745 1462 1755 1460 1765 1458 1773 1456 1781 1454 1789 1452 1796 1450 1802 1447 1808 1445 1814 1443 1819 1440 1824 1437 1828 1434 1832 1432 1836 1429 1840 1425 1843 1422 1846 1419 1849 1415 1852 1411 1855 1408 1857 1404 1859 1399 1861 1395 1863M1452 1773 1450 1781 1448 1789 1446 1796 1443 1802 1440 1808 1438 1814 1435 1819 1432 1824 1429 1828 1426 1832 1423 1836 1419 1840 1416 1843 1412 1846 1408 1849 1404 1852 1400 1855M1470 1579 1469 1591 1468 1603 1467 1615 1466 1627 1465 1639 1464 1651 1463 1663 1461 1675 1460 1687 1458 1699 1457 1711 1455 1723 1453 1735 1450 1745 1448 1755 1446 1765 1443 1773 1441 1781 1438 1789 1435 1796 1432 1802 1429 1808 1426 1814 1423 1819 1420 1824 1416 1828 1413 1832 1409 1836 1405 1840 1401 1843 1396 1846 1392 1849 1387 1852 1382 1855 1377 1857 1372 1859 1367 1861 1361 1863 1355 1865 1349 1866 1343 1868 1336 1869 1329 1871 1322 1872 1314 1873 1307 1874 1298 1875 1290 1876 1281 1877 1272 1878 1262 1878 1253 1879 1242 1880 1232 1880 1220 1881 1209 1881M1423 1745 1420 1755 1416 1765 1412 1773 1409 1781 1405 1789 1400 1796 1396 1802 1392 1808 1387 1814 1382 1819 1377 1824 1372 1828 1366 1832 1361 1836M1406 1773 1402 1781 1398 1789 1393 1796 1389 1802 1384 1808 1379 1814 1374 1819 1368 1824M1440 1579 1439 1591 1437 1603 1435 1615 1434 1627 1432 1639 1430 1651 1428 1663 1425 1675 1423 1687 1420 1699 1416 1711 1413 1723 1409 1735 1405 1745 1401 1755 1397 1765 1392 1773 1388 1781 1383 1789 1378 1796 1373 1802 1367 1808 1362 1814 1356 1819 1350 1824 1343 1828 1337 1832 1330 1836 1323 1840 1315 1843 1307 1846 1299 1849 1291 1852 1282 1855 1273 1857 1264 1859 1254 1861 1243 1863 1233 1865 1222 1866 1210 1868M1391 1579 1388 1591 1385 1603 1382 1615 1379 1627 1376 1639 1372 1651 1369 1663 1364 1675 1360 1687 1355 1699 1349 1711 1343 1723 1336 1735 1329 1745 1322 1755 1315 1765 1307 1773 1299 1781 1290 1789 1282 1796 1273 1802 1263 1808 1253 1814 1243 1819 1232 1824 1221 1828 1209 1832M1384 1579 1381 1591 1378 1603 1375 1615 1372 1627 1368 1639 1365 1651 1361 1663 1356 1675 1351 1687 1346 1699 1340 1711 1334 1723 1327 1735 1319 1745 1312 1755 1304 1765 1295 1773 1287 1781 1278 1789 1269 1796 1259 1802 1249 1808 1238 1814 1228 1819 1216 1824 1204 1828M1347 1579 1344 1591 1340 1603 1336 1615 1332 1627 1327 1639 1323 1651 1317 1663 1311 1675 1305 1687 1298 1699 1291 1711 1282 1723 1273 1735 1263 1745 1254 1755 1243 1765 1233 1773 1221 1781 1210 1789M1308 1579 1303 1591 1299 1603 1294 1615 1289 1627 1283 1639 1277 1651 1270 1663 1263 1675 1255 1687 1246 1699 1237 1711 1226 1723 1215 1735 1203 1745M1295 1579 1290 1591 1285 1603 1280 1615 1274 1627 1268 1639 1262 1651 1255 1663 1247 1675 1239 1687 1229 1699 1219 1711 1208 1723M1282 1579 1277 1591 1272 1603 1266 1615 1260 1627 1254 1639 1247 1651 1239 1663 1231 1675 1222 1687 1212 1699 1201 1711M1268 1579 1263 1591 1258 1603 1252 1615 1245 1627 1239 1639 1231 1651 1223 1663 1215 1675 1205 1687M1216 1579 1209 1591M1523 1579 1523 1591 1523 1603 1524 1615 1524 1627 1525 1639 1525 1651 1526 1663 1526 1675 1527 1687 1528 1699 1529 1711 1530 1723 1531 1735 1532 1745 1533 1755 1534 1765 1535 1773 1536 1781 1537 1789 1538 1796 1540 1802 1541 1808 1543 1814 1544 1819 1546 1824 1547 1828 1549 1832 1551 1836 1552 1840 1554 1843 1556 1846 1558 1849 1560 1852 1563 1855 1565 1857 1567 1859 1570 1861M1564 1745 1566 1755 1569 1765 1571 1773M1546 1579 1546 1591 1547 1603 1548 1615 1549 1627 1551 1639 1552 1651 1553 1663 1555 1675 1556 1687 1558 1699 1560 1711 1562 1723 1564 1735 1566 1745 1569 1755 1572 1765" fill="none" stroke="rgb(85,85,85)" stroke-width="2.3"/><path d="M1493 1846 1493 1849 1492 1852 1492 1855 1491 1857 1490 1859 1490 1861 1489 1863 1488 1865 1488 1866 1487 1868 1486 1869 1485 1871 1484 1872 1484 1873 1483 1874 1482 1875 1481 1876 1480 1877 1479 1878 1477 1878 1476 1879 1475 1880 1474 1880 1473 1881M1500 1579 1499 1591 1499 1603 1499 1615 1499 1627 1499 1639 1499 1651 1498 1663 1498 1675 1498 1687 1498 1699 1497 1711 1497 1723 1497 1735 1496 1745 1496 1755 1495 1765 1495 1773 1494 1781 1494 1789 1493 1796 1493 1802 1492 1808 1492 1814 1491 1819 1491 1824 1490 1828 1489 1832 1489 1836 1488 1840 1487 1843 1487 1846 1486 1849 1485 1852 1484 1855 1483 1857 1482 1859 1481 1861 1480 1863 1479 1865 1478 1866 1477 1868 1476 1869 1475 1871 1473 1872 1472 1873 1471 1874 1469 1875 1468 1876 1466 1877 1464 1878 1463 1878 1461 1879 1459 1880 1457 1880 1455 1881 1453 1881 1451 1882 1449 1882 1446 1883 1444 1883 1442 1883 1439 1884 1436 1884 1433 1884 1430 1884 1427 1885 1424 1885 1421 1885 1417 1885 1414 1886 1410 1886 1406 1886 1402 1886 1392 1886 1379 1887 1360 1887 1332 1887 1278 1888M1486 1773 1485 1781 1484 1789 1483 1796 1483 1802 1482 1808 1481 1814 1480 1819 1478 1824 1477 1828 1476 1832 1475 1836 1474 1840 1472 1843 1471 1846 1470 1849 1468 1852 1467 1855 1465 1857 1463 1859 1462 1861 1460 1863 1458 1865 1456 1866 1454 1868 1452 1869 1450 1871 1447 1872 1445 1873 1442 1874 1440 1875 1437 1876 1434 1877M1483 1579 1482 1591 1482 1603 1481 1615 1480 1627 1480 1639 1479 1651 1478 1663 1477 1675 1476 1687 1475 1699 1474 1711 1473 1723 1472 1735 1470 1745 1469 1755 1467 1765 1466 1773 1464 1781 1462 1789 1461 1796 1459 1802 1457 1808 1455 1814 1453 1819 1451 1824 1448 1828 1446 1832 1444 1836 1441 1840 1438 1843 1436 1846 1433 1849 1430 1852 1427 1855 1423 1857 1420 1859 1417 1861 1413 1863 1409 1865 1405 1866 1401 1868 1397 1869 1392 1871 1388 1872 1383 1873 1378 1874 1373 1875 1367 1876 1362 1877 1356 1878 1350 1878 1343 1879 1337 1880 1330 1880 1323 1881 1315 1881 1307 1882 1299 1882 1291 1883 1282 1883 1273 1883 1263 1884 1254 1884 1243 1884 1233 1884 1221 1885 1210 1885M1430 1579 1428 1591 1426 1603 1425 1615 1423 1627 1420 1639 1418 1651 1415 1663 1413 1675 1410 1687 1406 1699 1403 1711 1399 1723 1394 1735 1390 1745 1385 1755 1380 1765 1375 1773 1370 1781 1364 1789 1358 1796 1352 1802 1346 1808 1339 1814 1333 1819 1326 1824 1318 1828 1311 1832 1303 1836 1294 1840 1286 1843 1277 1846 1267 1849 1258 1852 1248 1855 1237 1857 1226 1859 1215 1861 1203 1863M1397 1579 1395 1591 1392 1603 1389 1615 1387 1627 1383 1639 1380 1651 1376 1663 1372 1675 1368 1687 1363 1699 1358 1711 1352 1723 1346 1735 1339 1745 1333 1755 1326 1765 1318 1773 1311 1781 1303 1789 1294 1796 1286 1802 1277 1808 1268 1814 1258 1819 1248 1824 1237 1828 1226 1832 1215 1836 1203 1840M1394 1579 1391 1591 1389 1603 1386 1615 1383 1627 1379 1639 1376 1651 1372 1663 1368 1675 1364 1687 1359 1699 1353 1711 1347 1723 1341 1735 1334 1745 1327 1755 1320 1765 1312 1773 1304 1781 1296 1789 1288 1796 1279 1802 1270 1808 1260 1814 1250 1819 1239 1824 1229 1828 1217 1832 1206 1836M1387 1579 1384 1591 1382 1603 1379 1615 1375 1627 1372 1639 1368 1651 1364 1663 1360 1675 1355 1687 1350 1699 1344 1711 1338 1723 1331 1735 1324 1745 1317 1755 1309 1765 1301 1773 1292 1781 1284 1789 1275 1796 1265 1802 1255 1808 1245 1814 1235 1819 1224 1824 1212 1828 1200 1832M1358 1579 1354 1591 1351 1603 1347 1615 1343 1627 1339 1639 1334 1651 1329 1663 1324 1675 1318 1687 1312 1699 1305 1711 1297 1723 1288 1735 1279 1745 1270 1755 1260 1765 1250 1773 1240 1781 1229 1789 1218 1796 1206 1802M1338 1579 1334 1591 1330 1603 1326 1615 1321 1627 1316 1639 1311 1651 1305 1663 1299 1675 1293 1687 1285 1699 1277 1711 1268 1723 1258 1735 1248 1745 1238 1755 1227 1765 1216 1773 1204 1781M1334 1579 1331 1591 1327 1603 1322 1615 1318 1627 1313 1639 1307 1651 1302 1663 1295 1675 1289 1687 1281 1699 1273 1711 1264 1723 1254 1735 1243 1745 1233 1755 1222 1765 1210 1773M1318 1579 1314 1591 1309 1603 1305 1615 1299 1627 1294 1639 1288 1651 1282 1663 1275 1675 1268 1687 1259 1699 1250 1711 1240 1723 1229 1735 1218 1745 1206 1755M1311 1579 1307 1591 1303 1603 1298 1615 1292 1627 1287 1639 1281 1651 1274 1663 1267 1675 1259 1687 1251 1699 1242 1711 1231 1723 1220 1735 1208 1745M1298 1579 1294 1591 1289 1603 1283 1615 1278 1627 1272 1639 1265 1651 1258 1663 1251 1675 1243 1687 1234 1699 1224 1711 1212 1723 1200 1735M1278 1579 1273 1591 1268 1603 1262 1615 1256 1627 1249 1639 1242 1651 1235 1663 1226 1675 1217 1687 1207 1699M1275 1579 1270 1591 1264 1603 1259 1615 1252 1627 1246 1639 1239 1651 1231 1663 1222 1675 1213 1687 1203 1699M1262 1579 1256 1591 1250 1603 1244 1615 1238 1627 1231 1639 1223 1651 1215 1663 1206 1675M1238 1579 1233 1591 1226 1603 1220 1615 1212 1627 1205 1639M1229 1579 1223 1591 1216 1603 1209 1615M1523 1846 1523 1849 1524 1852 1525 1855 1526 1857 1526 1859 1527 1861 1528 1863 1529 1865 1530 1866 1531 1868 1532 1869 1533 1871 1534 1872 1535 1873 1536 1874 1538 1875 1539 1876 1540 1877 1542 1878 1543 1878M1520 1765 1520 1773 1521 1781 1521 1789 1522 1796 1523 1802 1523 1808 1524 1814 1525 1819 1525 1824 1526 1828 1527 1832 1528 1836 1529 1840 1530 1843 1531 1846 1532 1849 1533 1852 1534 1855 1535 1857 1536 1859 1537 1861 1539 1863 1540 1865 1541 1866 1543 1868 1544 1869 1546 1871 1547 1872 1549 1873 1551 1874 1553 1875 1555 1876 1557 1877 1559 1878 1561 1878 1563 1879 1565 1880 1568 1880M1544 1745 1546 1755 1547 1765 1549 1773 1551 1781 1552 1789 1554 1796 1556 1802 1558 1808 1560 1814 1563 1819 1565 1824 1567 1828 1570 1832M1547 1735 1549 1745 1551 1755 1553 1765 1555 1773 1557 1781 1559 1789 1561 1796 1563 1802 1565 1808 1568 1814 1570 1819" fill="none" stroke="rgb(113,113,113)" stroke-width="2.3"/><path d="M1504 1735 1504 1745 1503 1755 1503 1765 1503 1773 1503 1781 1503 1789 1503 1796 1503 1802 1503 1808 1502 1814 1502 1819 1502 1824 1502 1828 1502 1832 1502 1836 1502 1840 1501 1843 1501 1846 1501 1849 1501 1852 1501 1855 1500 1857 1500 1859 1500 1861 1500 1863 1499 1865 1499 1866 1499 1868 1499 1869 1498 1871 1498 1872 1498 1873 1497 1874 1497 1875 1497 1876 1496 1877 1496 1878 1495 1878 1495 1879 1494 1880 1493 1881 1492 1882 1491 1883 1490 1883 1489 1884 1488 1884 1487 1884 1487 1885 1486 1885 1485 1885 1484 1885 1483 1886 1482 1886 1481 1886 1480 1886 1478 1886 1475 1887M1496 1579 1496 1591 1496 1603 1495 1615 1495 1627 1495 1639 1494 1651 1494 1663 1494 1675 1493 1687 1493 1699 1492 1711 1492 1723 1491 1735 1491 1745 1490 1755 1489 1765 1489 1773 1488 1781 1487 1789 1487 1796 1486 1802 1485 1808 1484 1814 1483 1819 1482 1824 1481 1828 1480 1832 1479 1836 1478 1840 1477 1843 1476 1846 1475 1849 1473 1852 1472 1855 1471 1857 1469 1859 1468 1861 1466 1863 1464 1865 1463 1866 1461 1868 1459 1869 1457 1871 1455 1872 1453 1873 1451 1874 1449 1875 1446 1876 1444 1877 1442 1878 1439 1878 1436 1879 1433 1880 1430 1880 1427 1881 1424 1881 1421 1882 1417 1882 1414 1883 1410 1883 1406 1883 1402 1884 1398 1884 1393 1884 1389 1884 1384 1885 1379 1885 1374 1885 1368 1885 1363 1886 1357 1886 1351 1886 1345 1886 1329 1886 1309 1887 1280 1887 1236 1887 1152 1888M1466 1579 1466 1591 1465 1603 1464 1615 1463 1627 1462 1639 1460 1651 1459 1663 1458 1675 1456 1687 1454 1699 1452 1711 1450 1723 1448 1735 1446 1745 1443 1755 1441 1765 1438 1773 1435 1781 1432 1789 1429 1796 1426 1802 1423 1808 1419 1814 1416 1819 1412 1824 1408 1828 1404 1832 1400 1836 1396 1840 1392 1843 1387 1846 1382 1849 1377 1852 1372 1855 1366 1857 1361 1859 1355 1861 1348 1863 1342 1865 1335 1866 1328 1868 1321 1869 1314 1871 1306 1872 1298 1873 1289 1874 1280 1875 1271 1876 1262 1877 1252 1878 1241 1878 1231 1879 1219 1880 1208 1880M1440 1755 1437 1765 1435 1773 1432 1781 1429 1789 1426 1796 1422 1802 1419 1808 1415 1814 1412 1819 1408 1824 1404 1828 1400 1832 1395 1836 1391 1840 1386 1843 1381 1846M1460 1579 1459 1591 1458 1603 1457 1615 1456 1627 1454 1639 1453 1651 1451 1663 1450 1675 1448 1687 1446 1699 1444 1711 1441 1723 1438 1735 1436 1745 1433 1755 1430 1765 1427 1773 1424 1781 1420 1789 1417 1796 1413 1802 1409 1808 1405 1814 1401 1819 1397 1824 1392 1828 1388 1832 1383 1836 1378 1840 1373 1843 1367 1846 1362 1849 1356 1852 1350 1855 1343 1857 1337 1859 1330 1861 1323 1863 1315 1865 1308 1866 1299 1868 1291 1869 1282 1871 1273 1872 1264 1873 1254 1874 1244 1875 1233 1876 1222 1877 1210 1878M1446 1579 1445 1591 1444 1603 1442 1615 1441 1627 1439 1639 1437 1651 1435 1663 1433 1675 1431 1687 1428 1699 1425 1711 1422 1723 1418 1735 1415 1745 1411 1755 1407 1765 1403 1773 1399 1781 1395 1789 1390 1796 1386 1802 1381 1808 1376 1814 1370 1819 1365 1824 1359 1828 1353 1832 1347 1836 1340 1840 1334 1843 1327 1846 1319 1849 1312 1852 1304 1855 1295 1857 1287 1859 1278 1861 1269 1863 1259 1865 1249 1866 1238 1868 1228 1869 1216 1871 1204 1872M1443 1579 1442 1591 1441 1603 1439 1615 1437 1627 1435 1639 1434 1651 1431 1663 1429 1675 1427 1687 1424 1699 1421 1711 1418 1723 1414 1735 1410 1745 1406 1755 1402 1765 1398 1773 1394 1781 1389 1789 1384 1796 1379 1802 1374 1808 1369 1814 1363 1819 1357 1824 1351 1828 1345 1832 1339 1836 1332 1840 1325 1843 1317 1846 1310 1849 1302 1852 1293 1855 1285 1857 1276 1859 1266 1861 1256 1863 1246 1865 1236 1866 1225 1868 1213 1869 1201 1871M1437 1579 1435 1591 1433 1603 1432 1615 1430 1627 1428 1639 1426 1651 1423 1663 1421 1675 1418 1687 1415 1699 1412 1711 1408 1723 1404 1735 1400 1745 1395 1755 1391 1765 1386 1773 1381 1781 1376 1789 1371 1796 1365 1802 1360 1808 1354 1814 1348 1819 1341 1824 1334 1828 1327 1832 1320 1836 1313 1840 1305 1843 1297 1846 1288 1849 1279 1852 1270 1855 1260 1857 1250 1859 1240 1861 1229 1863 1218 1865 1206 1866M1397 1735 1392 1745 1387 1755 1383 1765 1378 1773 1372 1781 1367 1789 1361 1796 1355 1802 1349 1808 1343 1814 1336 1819M1377 1765 1372 1773 1367 1781 1361 1789 1355 1796M1383 1745 1378 1755 1372 1765 1367 1773 1361 1781 1355 1789 1349 1796 1343 1802 1336 1808M1417 1579 1415 1591 1413 1603 1410 1615 1408 1627 1405 1639 1403 1651 1400 1663 1396 1675 1393 1687 1389 1699 1385 1711 1380 1723 1375 1735 1369 1745 1364 1755 1358 1765 1352 1773 1346 1781 1339 1789 1332 1796 1325 1802 1318 1808 1310 1814 1302 1819 1294 1824 1285 1828 1276 1832 1267 1836 1257 1840 1247 1843 1237 1846 1226 1849 1214 1852 1202 1855M1371 1579 1368 1591 1365 1603 1361 1615 1358 1627 1354 1639 1350 1651 1345 1663 1340 1675 1335 1687 1329 1699 1322 1711 1315 1723 1307 1735 1299 1745 1291 1755 1282 1765 1273 1773 1263 1781 1253 1789 1243 1796 1233 1802 1221 1808 1210 1814M1361 1579 1357 1591 1354 1603 1350 1615 1346 1627 1342 1639 1338 1651 1333 1663 1328 1675 1322 1687 1315 1699 1308 1711 1301 1723 1292 1735 1284 1745 1275 1755 1265 1765 1255 1773 1245 1781 1234 1789 1223 1796 1212 1802 1200 1808M1351 1579 1347 1591 1344 1603 1340 1615 1336 1627 1331 1639 1326 1651 1321 1663 1315 1675 1309 1687 1303 1699 1295 1711 1287 1723 1278 1735 1269 1745 1259 1755 1249 1765 1238 1773 1227 1781 1216 1789 1204 1796M1315 1579 1310 1591 1306 1603 1301 1615 1296 1627 1291 1639 1285 1651 1278 1663 1271 1675 1264 1687 1255 1699 1246 1711 1236 1723 1225 1735 1213 1745 1202 1755M1292 1579 1287 1591 1282 1603 1277 1615 1271 1627 1265 1639 1258 1651 1251 1663 1243 1675 1234 1687 1225 1699 1215 1711 1203 1723M1285 1579 1280 1591 1275 1603 1269 1615 1263 1627 1257 1639 1250 1651 1242 1663 1234 1675 1226 1687 1216 1699 1205 1711M1255 1579 1250 1591 1244 1603 1238 1615 1231 1627 1224 1639 1216 1651 1207 1663M1242 1579 1236 1591 1230 1603 1224 1615 1216 1627 1209 1639M1236 1579 1230 1591 1223 1603 1217 1615 1209 1627M1225 1579 1219 1591 1213 1603 1206 1615M1518 1840 1518 1843 1519 1846 1519 1849 1520 1852 1521 1855 1521 1857 1522 1859 1522 1861 1523 1863 1524 1865 1524 1866 1525 1868 1526 1869 1527 1871 1528 1872 1529 1873 1529 1874 1530 1875 1531 1876 1532 1877 1533 1878 1535 1878 1536 1879 1537 1880 1538 1880 1540 1881M1513 1579 1513 1591 1513 1603 1513 1615 1513 1627 1514 1639 1514 1651 1514 1663 1514 1675 1515 1687 1515 1699 1515 1711 1516 1723 1516 1735 1516 1745 1517 1755 1517 1765 1518 1773 1518 1781 1519 1789 1519 1796 1520 1802 1520 1808 1521 1814 1521 1819 1522 1824 1523 1828 1523 1832 1524 1836 1525 1840 1526 1843 1526 1846 1527 1849 1528 1852 1529 1855 1530 1857 1531 1859 1532 1861 1533 1863 1534 1865 1535 1866 1536 1868 1538 1869 1539 1871 1540 1872 1542 1873 1543 1874 1545 1875 1546 1876 1548 1877 1549 1878 1551 1878 1553 1879 1555 1880 1557 1880 1559 1881 1561 1881 1563 1882 1566 1882 1568 1883 1571 1883M1530 1855 1531 1857 1532 1859 1534 1861 1535 1863 1536 1865 1537 1866 1538 1868 1540 1869 1541 1871 1542 1872M1516 1579 1516 1591 1517 1603 1517 1615 1517 1627 1517 1639 1518 1651 1518 1663 1518 1675 1519 1687 1519 1699 1520 1711 1520 1723 1521 1735 1521 1745 1522 1755 1523 1765 1523 1773 1524 1781 1525 1789 1526 1796 1526 1802 1527 1808 1528 1814 1529 1819 1530 1824 1531 1828 1532 1832 1533 1836 1534 1840 1535 1843 1536 1846 1538 1849 1539 1852 1540 1855 1542 1857 1543 1859 1545 1861 1546 1863 1548 1865 1550 1866 1551 1868 1553 1869 1555 1871 1557 1872 1559 1873 1561 1874 1564 1875 1566 1876 1568 1877 1571 1878M1522 1723 1523 1735 1523 1745 1524 1755 1525 1765 1526 1773 1527 1781 1527 1789 1528 1796 1529 1802 1530 1808 1531 1814 1532 1819 1533 1824 1534 1828 1535 1832 1537 1836 1538 1840 1539 1843 1540 1846 1542 1849 1543 1852 1545 1855 1546 1857 1548 1859 1550 1861 1552 1863 1553 1865 1555 1866 1557 1868 1559 1869 1562 1871 1564 1872 1566 1873 1569 1874 1571 1875M1529 1579 1530 1591 1530 1603 1531 1615 1532 1627 1532 1639 1533 1651 1534 1663 1535 1675 1535 1687 1537 1699 1538 1711 1539 1723 1540 1735 1542 1745 1543 1755 1545 1765 1546 1773 1548 1781 1549 1789 1551 1796 1553 1802 1555 1808 1557 1814 1559 1819 1561 1824 1563 1828 1566 1832 1568 1836 1571 1840M1552 1579 1553 1591 1554 1603 1555 1615 1557 1627 1558 1639 1559 1651 1561 1663 1563 1675 1565 1687 1567 1699 1569 1711 1571 1723M1569 1579 1570 1591" fill="none" stroke="rgb(141,141,141)" stroke-width="2.3"/><path d="M1499 1849 1499 1852 1498 1855 1498 1857 1498 1859 1497 1861 1497 1863 1497 1865 1496 1866 1496 1868 1495 1869 1495 1871 1495 1872 1494 1873 1494 1874 1493 1875 1493 1876 1492 1877 1491 1878 1490 1879 1490 1880 1489 1880 1488 1881 1487 1882 1486 1882 1485 1883 1484 1883 1483 1883 1483 1884 1482 1884M1502 1579 1502 1591 1502 1603 1502 1615 1502 1627 1502 1639 1502 1651 1502 1663 1502 1675 1502 1687 1501 1699 1501 1711 1501 1723 1501 1735 1501 1745 1500 1755 1500 1765 1500 1773 1500 1781 1499 1789 1499 1796 1499 1802 1499 1808 1498 1814 1498 1819 1498 1824 1497 1828 1497 1832 1497 1836 1496 1840 1496 1843 1495 1846 1495 1849 1495 1852 1494 1855 1494 1857 1493 1859 1493 1861 1492 1863 1491 1865 1491 1866 1490 1868 1490 1869 1489 1871 1488 1872 1488 1873 1487 1874 1486 1875 1485 1876 1484 1877 1483 1878 1482 1879 1481 1880 1480 1880 1478 1881 1477 1881 1476 1882 1475 1882 1474 1883 1472 1883 1471 1883 1470 1884 1468 1884 1467 1884 1465 1884 1463 1885 1462 1885 1460 1885 1458 1885 1456 1886 1454 1886 1452 1886 1449 1886 1444 1886 1437 1887 1427 1887 1411 1887 1382 1888M1498 1745 1498 1755 1498 1765 1497 1773 1497 1781 1497 1789 1496 1796 1496 1802 1496 1808 1495 1814 1495 1819 1494 1824 1494 1828 1493 1832 1493 1836 1492 1840 1492 1843 1491 1846 1490 1849 1490 1852 1489 1855 1488 1857 1488 1859 1487 1861 1486 1863 1485 1865 1485 1866 1484 1868 1483 1869 1482 1871 1481 1872 1480 1873 1479 1874 1478 1875 1476 1876 1475 1877 1474 1878 1473 1878 1471 1879 1470 1880 1468 1880 1467 1881 1465 1881 1464 1882 1462 1882 1460 1883 1458 1883 1456 1883 1454 1884 1452 1884M1486 1579 1486 1591 1485 1603 1485 1615 1484 1627 1484 1639 1483 1651 1482 1663 1482 1675 1481 1687 1480 1699 1479 1711 1478 1723 1477 1735 1475 1745 1474 1755 1473 1765 1472 1773 1470 1781 1469 1789 1467 1796 1466 1802 1464 1808 1462 1814 1461 1819 1459 1824 1457 1828 1455 1832 1453 1836 1450 1840 1448 1843 1446 1846 1443 1849 1441 1852 1438 1855 1435 1857 1433 1859 1430 1861 1426 1863 1423 1865 1420 1866 1416 1868 1413 1869 1409 1871 1405 1872 1401 1873 1397 1874 1392 1875 1387 1876 1383 1877 1378 1878 1372 1878 1367 1879 1361 1880 1355 1880 1349 1881 1343 1881 1336 1882 1329 1882 1322 1883 1315 1883 1307 1883 1299 1884 1290 1884 1281 1884 1272 1884 1263 1885 1253 1885 1243 1885 1232 1885 1221 1886 1209 1886M1480 1579 1479 1591 1478 1603 1478 1615 1477 1627 1476 1639 1476 1651 1475 1663 1474 1675 1473 1687 1472 1699 1470 1711 1469 1723 1467 1735 1466 1745 1464 1755 1462 1765 1461 1773 1459 1781 1457 1789 1455 1796 1453 1802 1451 1808 1448 1814 1446 1819 1444 1824 1441 1828 1438 1832 1436 1836 1433 1840 1430 1843 1427 1846 1423 1849 1420 1852 1417 1855 1413 1857 1409 1859 1405 1861 1401 1863 1397 1865 1392 1866 1388 1868 1383 1869 1378 1871 1373 1872 1367 1873 1362 1874 1356 1875 1350 1876 1343 1877 1337 1878 1330 1878 1323 1879 1315 1880 1307 1880 1299 1881 1291 1881 1282 1882 1273 1882 1263 1883 1254 1883 1243 1883 1233 1884 1222 1884 1210 1884M1473 1579 1472 1591 1471 1603 1471 1615 1470 1627 1469 1639 1468 1651 1467 1663 1465 1675 1464 1687 1463 1699 1461 1711 1459 1723 1457 1735 1455 1745 1453 1755 1451 1765 1449 1773 1447 1781 1444 1789 1442 1796 1439 1802 1436 1808 1433 1814 1431 1819 1427 1824 1424 1828 1421 1832 1417 1836 1414 1840 1410 1843 1406 1846 1402 1849 1398 1852 1393 1855 1389 1857 1384 1859 1379 1861 1374 1863 1369 1865 1363 1866 1357 1868 1351 1869 1345 1871 1338 1872 1331 1873 1324 1874 1317 1875 1309 1876 1301 1877 1293 1878 1284 1878 1275 1879 1266 1880 1256 1880 1246 1881 1235 1881 1224 1882 1213 1882 1201 1883M1450 1735 1448 1745 1446 1755 1443 1765 1441 1773 1438 1781 1435 1789 1432 1796 1429 1802 1426 1808 1423 1814 1420 1819 1416 1824 1412 1828 1409 1832 1405 1836 1400 1840 1396 1843 1392 1846 1387 1849 1382 1852 1377 1855M1463 1579 1462 1591 1461 1603 1460 1615 1459 1627 1457 1639 1456 1651 1455 1663 1453 1675 1451 1687 1449 1699 1447 1711 1445 1723 1443 1735 1440 1745 1437 1755 1435 1765 1432 1773 1429 1781 1425 1789 1422 1796 1419 1802 1415 1808 1412 1814 1408 1819 1404 1824 1399 1828 1395 1832 1391 1836 1386 1840 1381 1843 1376 1846 1371 1849 1365 1852 1359 1855 1353 1857 1347 1859 1341 1861 1334 1863 1327 1865 1320 1866 1312 1868 1304 1869 1296 1871 1288 1872 1279 1873 1269 1874 1260 1875 1250 1876 1239 1877 1228 1878 1217 1878 1205 1879M1456 1579 1455 1591 1454 1603 1453 1615 1451 1627 1450 1639 1448 1651 1447 1663 1445 1675 1443 1687 1441 1699 1438 1711 1436 1723 1433 1735 1430 1745 1427 1755 1424 1765 1420 1773 1417 1781 1413 1789 1409 1796 1405 1802 1401 1808 1397 1814 1393 1819 1388 1824 1383 1828 1378 1832 1373 1836 1368 1840 1362 1843 1356 1846 1350 1849 1344 1852 1337 1855 1330 1857 1323 1859 1315 1861 1308 1863 1300 1865 1291 1866 1283 1868 1273 1869 1264 1871 1254 1872 1244 1873 1233 1874 1222 1875 1210 1876M1433 1579 1432 1591 1430 1603 1428 1615 1426 1627 1424 1639 1422 1651 1419 1663 1417 1675 1414 1687 1411 1699 1407 1711 1403 1723 1399 1735 1395 1745 1390 1755 1386 1765 1381 1773 1376 1781 1370 1789 1365 1796 1359 1802 1353 1808 1347 1814 1340 1819 1333 1824 1326 1828 1319 1832 1312 1836 1304 1840 1295 1843 1287 1846 1278 1849 1269 1852 1259 1855 1249 1857 1238 1859 1227 1861 1216 1863 1204 1865M1427 1579 1425 1591 1423 1603 1421 1615 1419 1627 1417 1639 1414 1651 1411 1663 1409 1675 1405 1687 1402 1699 1398 1711 1394 1723 1389 1735 1385 1745 1380 1755 1374 1765 1369 1773 1364 1781 1358 1789 1352 1796 1345 1802 1339 1808 1332 1814 1325 1819 1318 1824 1310 1828 1302 1832 1294 1836 1285 1840 1276 1843 1267 1846 1257 1849 1247 1852 1236 1855 1225 1857 1214 1859 1202 1861M1420 1579 1418 1591 1416 1603 1414 1615 1412 1627 1409 1639 1407 1651 1404 1663 1401 1675 1397 1687 1393 1699 1389 1711 1385 1723 1380 1735 1375 1745 1369 1755 1364 1765 1358 1773 1352 1781 1345 1789 1339 1796 1332 1802 1325 1808 1318 1814 1310 1819 1302 1824 1294 1828 1285 1832 1276 1836 1267 1840 1257 1843 1247 1846 1236 1849 1225 1852 1214 1855 1202 1857M1404 1579 1402 1591 1399 1603 1397 1615 1394 1627 1391 1639 1388 1651 1384 1663 1381 1675 1377 1687 1372 1699 1367 1711 1362 1723 1356 1735 1350 1745 1343 1755 1337 1765 1330 1773 1323 1781 1315 1789 1307 1796 1299 1802 1291 1808 1282 1814 1273 1819 1264 1824 1254 1828 1243 1832 1233 1836 1222 1840 1210 1843M1400 1579 1398 1591 1396 1603 1393 1615 1390 1627 1387 1639 1384 1651 1380 1663 1377 1675 1372 1687 1368 1699 1363 1711 1357 1723 1351 1735 1345 1745 1338 1755 1331 1765 1324 1773 1317 1781 1309 1789 1301 1796 1293 1802 1284 1808 1275 1814 1265 1819 1256 1824 1245 1828 1235 1832 1224 1836 1212 1840 1200 1843M1341 1579 1338 1591 1334 1603 1330 1615 1325 1627 1320 1639 1315 1651 1310 1663 1304 1675 1297 1687 1290 1699 1282 1711 1273 1723 1264 1735 1254 1745 1244 1755 1233 1765 1222 1773 1210 1781M1324 1579 1320 1591 1316 1603 1312 1615 1307 1627 1302 1639 1296 1651 1290 1663 1283 1675 1276 1687 1268 1699 1259 1711 1250 1723 1239 1735 1228 1745 1217 1755 1205 1765M1305 1579 1300 1591 1296 1603 1291 1615 1285 1627 1279 1639 1273 1651 1266 1663 1259 1675 1251 1687 1242 1699 1233 1711 1222 1723 1210 1735M1508 1723 1508 1735 1508 1745 1508 1755 1508 1765 1508 1773 1509 1781 1509 1789 1509 1796 1509 1802 1509 1808 1509 1814 1509 1819 1509 1824 1510 1828 1510 1832 1510 1836 1510 1840 1510 1843 1510 1846 1510 1849 1511 1852 1511 1855 1511 1857 1511 1859 1511 1861 1512 1863 1512 1865 1512 1866 1512 1868 1513 1869 1513 1871 1513 1872 1514 1873 1514 1874 1514 1875 1514 1876 1515 1877 1515 1878 1516 1878 1516 1879 1516 1880 1517 1880 1517 1881 1518 1881 1518 1882 1519 1882 1519 1883 1520 1883 1521 1884 1522 1884 1523 1884 1523 1885 1524 1885 1525 1885 1526 1885 1526 1886 1527 1886 1528 1886 1529 1886 1531 1886 1534 1887M1513 1735 1514 1745 1514 1755 1514 1765 1515 1773 1515 1781 1515 1789 1516 1796 1516 1802 1517 1808 1517 1814 1517 1819 1518 1824 1518 1828 1519 1832 1519 1836 1520 1840 1521 1843 1521 1846 1522 1849 1522 1852 1523 1855 1524 1857 1524 1859 1525 1861 1526 1863 1527 1865 1528 1866 1528 1868 1529 1869 1530 1871 1531 1872 1532 1873 1533 1874 1535 1875 1536 1876 1537 1877 1538 1878 1540 1878 1541 1879 1542 1880 1544 1880 1545 1881 1547 1881 1549 1882 1550 1882 1552 1883 1554 1883 1556 1883 1558 1884 1560 1884M1529 1755 1530 1765 1531 1773 1532 1781 1533 1789 1535 1796 1536 1802 1537 1808 1538 1814 1540 1819 1541 1824 1542 1828 1544 1832 1545 1836 1547 1840 1549 1843 1550 1846 1552 1849 1554 1852 1556 1855 1558 1857 1560 1859 1562 1861 1565 1863 1567 1865 1570 1866M1539 1781 1540 1789 1541 1796 1543 1802 1544 1808 1546 1814 1548 1819 1549 1824 1551 1828 1553 1832 1555 1836 1557 1840 1559 1843 1561 1846 1563 1849 1566 1852 1568 1855 1571 1857M1540 1755 1541 1765 1543 1773 1544 1781 1546 1789 1547 1796 1549 1802 1551 1808 1553 1814 1555 1819 1557 1824 1559 1828 1561 1832 1563 1836 1565 1840 1568 1843 1570 1846M1532 1579 1533 1591 1534 1603 1534 1615 1535 1627 1536 1639 1537 1651 1537 1663 1538 1675 1539 1687 1541 1699 1542 1711 1543 1723 1545 1735 1546 1745 1548 1755 1550 1765 1552 1773 1553 1781 1555 1789 1557 1796 1559 1802 1562 1808 1564 1814 1566 1819 1569 1824 1571 1828M1542 1579 1543 1591 1544 1603 1545 1615 1546 1627 1547 1639 1548 1651 1549 1663 1551 1675 1552 1687 1554 1699 1556 1711 1557 1723 1560 1735 1562 1745 1564 1755 1566 1765 1569 1773 1571 1781M1569 1723 1571 1735M1559 1579 1560 1591 1561 1603 1563 1615 1564 1627 1566 1639 1567 1651 1569 1663 1571 1675M1562 1579 1563 1591 1565 1603 1566 1615 1567 1627 1569 1639" fill="none" stroke="rgb(170,170,170)" stroke-width="2.3"/><path d="M1493 1579 1493 1591 1492 1603 1492 1615 1492 1627 1491 1639 1491 1651 1490 1663 1490 1675 1489 1687 1489 1699 1488 1711 1487 1723 1487 1735 1486 1745 1485 1755 1484 1765 1483 1773 1482 1781 1481 1789 1480 1796 1479 1802 1478 1808 1477 1814 1476 1819 1475 1824 1473 1828 1472 1832 1471 1836 1469 1840 1468 1843 1466 1846 1465 1849 1463 1852 1461 1855 1459 1857 1457 1859 1455 1861 1453 1863 1451 1865 1449 1866 1447 1868 1444 1869 1442 1871 1439 1872 1436 1873 1434 1874 1431 1875 1428 1876 1424 1877 1421 1878 1418 1878 1414 1879 1410 1880 1406 1880 1402 1881 1398 1881 1394 1882 1389 1882 1384 1883 1380 1883 1374 1883 1369 1884 1363 1884 1358 1884 1352 1884 1345 1885 1339 1885 1332 1885 1325 1885 1317 1886 1310 1886 1302 1886 1293 1886 1273 1886 1247 1887 1209 1887M1483 1745 1482 1755 1481 1765 1480 1773 1479 1781 1478 1789 1477 1796 1476 1802 1475 1808 1473 1814 1472 1819 1471 1824 1469 1828 1468 1832 1466 1836 1465 1840 1463 1843 1461 1846 1459 1849 1457 1852 1455 1855 1453 1857 1451 1859 1449 1861 1447 1863 1444 1865 1442 1866 1439 1868 1436 1869 1434 1871 1431 1872 1428 1873 1424 1874 1421 1875M1477 1755 1476 1765 1475 1773 1473 1781 1472 1789 1471 1796 1469 1802 1468 1808 1466 1814 1465 1819 1463 1824 1461 1828 1459 1832 1457 1836 1455 1840 1453 1843 1451 1846 1449 1849 1447 1852 1444 1855 1442 1857 1439 1859 1436 1861 1433 1863 1431 1865 1427 1866 1424 1868 1421 1869 1417 1871M1471 1765 1469 1773 1468 1781 1466 1789 1465 1796 1463 1802 1461 1808 1459 1814 1457 1819 1455 1824 1453 1828 1451 1832 1449 1836 1447 1840 1444 1843 1442 1846 1439 1849 1436 1852 1433 1855 1431 1857 1427 1859 1424 1861 1421 1863 1417 1865 1414 1866 1410 1868M1468 1745 1467 1755 1465 1765 1463 1773 1461 1781 1460 1789 1458 1796 1456 1802 1454 1808 1452 1814 1449 1819 1447 1824 1445 1828 1442 1832 1440 1836 1437 1840 1434 1843 1431 1846 1428 1849 1425 1852 1422 1855 1418 1857 1415 1859 1411 1861 1407 1863 1403 1865 1399 1866M1441 1735 1438 1745 1435 1755 1433 1765 1430 1773 1426 1781 1423 1789 1420 1796 1416 1802 1413 1808 1409 1814 1405 1819 1401 1824 1397 1828 1392 1832 1387 1836 1383 1840 1378 1843 1372 1846M1422 1765 1418 1773 1415 1781 1411 1789 1407 1796 1403 1802 1399 1808 1394 1814 1390 1819 1385 1824 1380 1828 1375 1832M1453 1579 1452 1591 1451 1603 1449 1615 1448 1627 1446 1639 1445 1651 1443 1663 1441 1675 1439 1687 1437 1699 1434 1711 1431 1723 1428 1735 1425 1745 1422 1755 1418 1765 1415 1773 1411 1781 1407 1789 1403 1796 1399 1802 1395 1808 1390 1814 1385 1819 1380 1824 1375 1828 1370 1832 1364 1836 1359 1840 1353 1843 1346 1846 1340 1849 1333 1852 1326 1855 1319 1857 1311 1859 1303 1861 1295 1863 1286 1865 1277 1866 1268 1868 1258 1869 1248 1871 1238 1872 1227 1873 1215 1874 1204 1875M1407 1579 1405 1591 1402 1603 1400 1615 1397 1627 1394 1639 1391 1651 1388 1663 1384 1675 1380 1687 1376 1699 1371 1711 1366 1723 1360 1735 1354 1745 1348 1755 1342 1765 1335 1773 1328 1781 1321 1789 1313 1796 1306 1802 1297 1808 1289 1814 1280 1819 1271 1824 1261 1828 1251 1832 1241 1836 1230 1840 1219 1843 1207 1846M1381 1579 1378 1591 1375 1603 1372 1615 1368 1627 1365 1639 1361 1651 1357 1663 1352 1675 1347 1687 1342 1699 1336 1711 1329 1723 1322 1735 1314 1745 1306 1755 1298 1765 1290 1773 1281 1781 1272 1789 1262 1796 1252 1802 1242 1808 1231 1814 1220 1819 1208 1824M1328 1579 1324 1591 1320 1603 1315 1615 1310 1627 1305 1639 1300 1651 1294 1663 1287 1675 1280 1687 1272 1699 1264 1711 1254 1723 1244 1735 1233 1745 1222 1755 1211 1765M1321 1579 1317 1591 1313 1603 1308 1615 1303 1627 1298 1639 1292 1651 1286 1663 1279 1675 1272 1687 1264 1699 1255 1711 1245 1723 1234 1735 1223 1745 1211 1755M1265 1579 1260 1591 1254 1603 1248 1615 1242 1627 1235 1639 1227 1651 1219 1663 1211 1675M1252 1579 1246 1591 1240 1603 1234 1615 1227 1627 1220 1639 1212 1651 1203 1663M1222 1579 1216 1591 1209 1603M1219 1579 1213 1591 1206 1603M1509 1846 1509 1849 1509 1852 1509 1855 1509 1857 1509 1859 1509 1861 1509 1863 1510 1865 1510 1866 1510 1868 1510 1869 1510 1871 1510 1872 1511 1873 1511 1874 1511 1875 1511 1876 1511 1877 1512 1878 1512 1879 1512 1880 1513 1880 1513 1881 1513 1882 1514 1882 1514 1883 1515 1883 1515 1884 1516 1884 1517 1885 1518 1885 1518 1886 1519 1886 1520 1886 1521 1886M1514 1855 1515 1857 1515 1859 1515 1861 1516 1863 1516 1865 1517 1866 1517 1868 1517 1869 1518 1871 1518 1872 1519 1873 1519 1874 1520 1875 1521 1876 1521 1877 1522 1878 1523 1879 1524 1880 1525 1881 1526 1881 1527 1882 1528 1882 1529 1883M1509 1579 1509 1591 1510 1603 1510 1615 1510 1627 1510 1639 1510 1651 1510 1663 1510 1675 1510 1687 1510 1699 1511 1711 1511 1723 1511 1735 1511 1745 1511 1755 1512 1765 1512 1773 1512 1781 1512 1789 1513 1796 1513 1802 1513 1808 1513 1814 1514 1819 1514 1824 1514 1828 1515 1832 1515 1836 1515 1840 1516 1843 1516 1846 1517 1849 1517 1852 1517 1855 1518 1857 1518 1859 1519 1861 1519 1863 1520 1865 1521 1866 1521 1868 1522 1869 1522 1871 1523 1872 1524 1873 1524 1874 1525 1875 1526 1876 1527 1877 1528 1878 1529 1878 1529 1879 1530 1880 1531 1880 1532 1881 1534 1881 1535 1882 1536 1882 1537 1883 1538 1883 1540 1883 1541 1884 1542 1884 1544 1884 1545 1884 1547 1885 1549 1885 1550 1885 1552 1885 1554 1886 1556 1886 1558 1886 1560 1886 1565 1886 1572 1887M1519 1579 1520 1591 1520 1603 1520 1615 1521 1627 1521 1639 1521 1651 1522 1663 1522 1675 1523 1687 1523 1699 1524 1711 1525 1723 1526 1735 1526 1745 1527 1755 1528 1765 1529 1773 1530 1781 1531 1789 1532 1796 1533 1802 1534 1808 1535 1814 1536 1819 1538 1824 1539 1828 1540 1832 1542 1836 1543 1840 1545 1843 1546 1846 1548 1849 1549 1852 1551 1855 1553 1857 1555 1859 1557 1861 1559 1863 1561 1865 1563 1866 1566 1868 1568 1869 1571 1871M1555 1723 1557 1735 1559 1745 1561 1755 1563 1765 1566 1773 1568 1781 1571 1789M1555 1579 1557 1591 1558 1603 1559 1615 1560 1627 1562 1639 1563 1651 1565 1663 1567 1675 1569 1687 1571 1699" fill="none" stroke="rgb(198,198,198)" stroke-width="2.3"/><path d="M1424 1773 1420 1781 1417 1789 1413 1796 1410 1802 1406 1808 1402 1814 1397 1819 1393 1824 1388 1828 1384 1832M1450 1579 1449 1591 1448 1603 1446 1615 1445 1627 1443 1639 1441 1651 1439 1663 1437 1675 1435 1687 1433 1699 1430 1711 1427 1723 1424 1735 1420 1745 1417 1755 1413 1765 1410 1773 1406 1781 1402 1789 1397 1796 1393 1802 1388 1808 1384 1814 1379 1819 1373 1824 1368 1828 1362 1832 1356 1836 1350 1840 1344 1843 1337 1846 1331 1849 1323 1852 1316 1855 1308 1857 1300 1859 1292 1861 1283 1863 1274 1865 1265 1866 1255 1868 1244 1869 1234 1871 1223 1872 1211 1873M1413 1579 1411 1591 1409 1603 1407 1615 1404 1627 1402 1639 1399 1651 1396 1663 1392 1675 1389 1687 1385 1699 1380 1711 1375 1723 1370 1735 1364 1745 1359 1755 1353 1765 1346 1773 1340 1781 1333 1789 1326 1796 1319 1802 1311 1808 1303 1814 1295 1819 1286 1824 1278 1828 1268 1832 1259 1836 1248 1840 1238 1843 1227 1846 1216 1849 1204 1852M1377 1579 1375 1591 1372 1603 1368 1615 1365 1627 1361 1639 1357 1651 1353 1663 1348 1675 1343 1687 1337 1699 1331 1711 1324 1723 1317 1735 1309 1745 1301 1755 1293 1765 1284 1773 1275 1781 1266 1789 1256 1796 1246 1802 1235 1808 1224 1814 1213 1819 1201 1824M1272 1579 1267 1591 1261 1603 1255 1615 1249 1627 1242 1639 1235 1651 1227 1663 1219 1675 1209 1687M1246 1579 1240 1591 1234 1603 1227 1615 1220 1627 1213 1639 1205 1651M1232 1579 1226 1591 1219 1603 1213 1615 1205 1627M1540 1849 1541 1852 1543 1855 1544 1857 1546 1859 1547 1861 1549 1863 1551 1865M1539 1579 1540 1591 1541 1603 1541 1615 1542 1627 1543 1639 1544 1651 1545 1663 1547 1675 1548 1687 1549 1699 1551 1711 1553 1723 1555 1735 1557 1745 1559 1755 1561 1765 1563 1773 1565 1781 1568 1789 1570 1796" fill="none" stroke="rgb(226,226,226)" stroke-width="2.3"/><path d="M1443 1781 1441 1789 1438 1796 1435 1802 1433 1808 1430 1814 1426 1819 1423 1824 1420 1828 1416 1832 1413 1836 1409 1840 1405 1843 1401 1846M1410 1579 1408 1591 1406 1603 1404 1615 1401 1627 1398 1639 1395 1651 1392 1663 1389 1675 1385 1687 1381 1699 1376 1711 1371 1723 1366 1735 1360 1745 1354 1755 1348 1765 1341 1773 1335 1781 1328 1789 1320 1796 1313 1802 1305 1808 1297 1814 1288 1819 1279 1824 1270 1828 1261 1832 1251 1836 1240 1840 1229 1843 1218 1846 1206 1849M1354 1579 1351 1591 1347 1603 1343 1615 1339 1627 1335 1639 1330 1651 1325 1663 1320 1675 1313 1687 1307 1699 1300 1711 1291 1723 1283 1735 1274 1745 1264 1755 1254 1765 1244 1773 1233 1781 1222 1789 1211 1796M1258 1579 1253 1591 1247 1603 1241 1615 1234 1627 1227 1639 1219 1651 1211 1663M1536 1579 1537 1591 1537 1603 1538 1615 1539 1627 1540 1639 1541 1651 1542 1663 1543 1675 1544 1687 1545 1699 1547 1711 1548 1723 1550 1735 1552 1745 1554 1755 1556 1765 1558 1773 1560 1781 1562 1789 1564 1796 1567 1802 1569 1808 1572 1814" fill="none" stroke="rgb(255,255,255)" stroke-width="2.3"/><path d="M1499 1883 1499 1884 1498 1884M1501 1879 1501 1880 1501 1881 1500 1881M1502 1840 1501 1843 1501 1846M1492 1877 1491 1878M1497 1865 1496 1866M1483 1878M1491 1857 1490 1859M1494 1828 1493 1832 1493 1836M1483 1865 1482 1866 1481 1868M1487 1855 1486 1857 1485 1859M1402 1886 1392 1886 1379 1887 1360 1887 1332 1887M1499 1603 1499 1615 1499 1627 1499 1639M1485 1828 1484 1832 1484 1836 1483 1840 1482 1843M1470 1866 1468 1868 1467 1869M1491 1735 1491 1745 1490 1755M1442 1878 1439 1878 1436 1879 1433 1880 1430 1880M1470 1852 1469 1855 1467 1857 1466 1859M1352 1884 1345 1885M1434 1871 1431 1872 1428 1873 1424 1874M1466 1836 1465 1840 1463 1843 1461 1846 1459 1849M1463 1824 1461 1828M1485 1615 1484 1627 1484 1639M1290 1884 1281 1884 1272 1884 1263 1885M1465 1796 1463 1802 1461 1808 1459 1814 1457 1819M1451 1832 1449 1836 1447 1840 1444 1843 1442 1846M1448 1828 1446 1832 1444 1836M1464 1781 1462 1789 1461 1796 1459 1802M1431 1846 1428 1849 1425 1852M1461 1773 1459 1781 1457 1789 1455 1796 1453 1802M1415 1852 1411 1855M1429 1840 1425 1843M1368 1869 1362 1871 1356 1872M1429 1828 1426 1832 1423 1836 1419 1840 1416 1843M1443 1802 1440 1808 1438 1814 1435 1819M1331 1873 1324 1874 1317 1875 1309 1876 1301 1877M1423 1824 1420 1828 1416 1832 1413 1836M1457 1711 1455 1723 1453 1735 1450 1745 1448 1755M1450 1735 1448 1745 1446 1755M1271 1876 1262 1877 1252 1878 1241 1878 1231 1879M1459 1663 1458 1675M1228 1878 1217 1878 1205 1879M1430 1773 1426 1781 1423 1789 1420 1796 1416 1802M1282 1871 1273 1872 1264 1873 1254 1874 1244 1875M1420 1781 1417 1789 1413 1796 1410 1802M1397 1819 1393 1824 1388 1828M1388 1824 1383 1828 1378 1832M1407 1796 1403 1802 1399 1808 1394 1814M1364 1836 1359 1840M1399 1802 1395 1808 1390 1814 1385 1819 1380 1824M1382 1819 1377 1824 1372 1828 1366 1832 1361 1836M1387 1814 1382 1819 1377 1824M1403 1773 1399 1781 1395 1789 1390 1796M1343 1828 1337 1832 1330 1836 1323 1840 1315 1843M1389 1765 1384 1773 1379 1781M1379 1781 1374 1789 1369 1796M1347 1814 1340 1819M1433 1579 1432 1591 1430 1603 1428 1615M1383 1765 1378 1773 1372 1781 1367 1789 1361 1796M1349 1808 1343 1814 1336 1819M1377 1765 1372 1773M1345 1802 1339 1808 1332 1814 1325 1819M1267 1846 1257 1849M1367 1773 1361 1781 1355 1789 1349 1796M1361 1781 1355 1789 1349 1796 1343 1802 1336 1808M1421 1591 1420 1603 1417 1615M1380 1735 1375 1745 1369 1755M1412 1627 1409 1639 1407 1651 1404 1663M1375 1735 1369 1745M1392 1663 1389 1675M1388 1663 1384 1675M1323 1781 1315 1789 1307 1796M1293 1802 1284 1808 1275 1814 1265 1819M1339 1745 1333 1755 1326 1765 1318 1773M1353 1711 1347 1723M1372 1663 1368 1675 1364 1687M1290 1789 1282 1796 1273 1802M1382 1603 1379 1615M1319 1745 1312 1755 1304 1765 1295 1773M1365 1627 1361 1639 1357 1651 1353 1663 1348 1675M1353 1651 1349 1663 1344 1675 1339 1687M1371 1591 1368 1603 1365 1615M1358 1615 1354 1627M1324 1699 1318 1711 1310 1723M1342 1651 1337 1663M1241 1789 1231 1796M1301 1723 1292 1735 1284 1745 1275 1755M1223 1796 1212 1802M1260 1765 1250 1773M1339 1627 1335 1639 1330 1651M1249 1765 1238 1773 1227 1781 1216 1789 1204 1796M1263 1745 1254 1755 1243 1765M1314 1663 1308 1675 1301 1687M1287 1711 1278 1723M1233 1765 1222 1773 1210 1781M1277 1711 1268 1723 1258 1735 1248 1745M1293 1687 1285 1699 1277 1711 1268 1723M1289 1687 1281 1699M1323 1603 1319 1615 1314 1627M1249 1735 1238 1745 1228 1755M1239 1735 1228 1745 1217 1755M1320 1591 1316 1603 1312 1615 1307 1627M1272 1687 1264 1699 1255 1711M1229 1735 1218 1745 1206 1755M1287 1639 1281 1651 1274 1663M1263 1675 1255 1687 1246 1699 1237 1711M1289 1627 1283 1639M1233 1711 1222 1723 1210 1735M1251 1687 1242 1699 1233 1711 1222 1723 1210 1735M1247 1687 1238 1699 1228 1711 1217 1723M1265 1651 1258 1663 1251 1675M1239 1687 1229 1699 1219 1711 1208 1723M1262 1651 1255 1663 1247 1675 1239 1687 1229 1699M1277 1615 1271 1627 1265 1639 1258 1651 1251 1663M1278 1603 1273 1615 1267 1627 1261 1639 1254 1651M1257 1639 1250 1651 1242 1663M1275 1603 1269 1615 1263 1627M1260 1627 1254 1639M1268 1603 1262 1615 1256 1627M1256 1627 1249 1639 1242 1651 1235 1663 1226 1675M1222 1675 1213 1687 1203 1699M1264 1603 1259 1615 1252 1627 1246 1639M1272 1579 1267 1591 1261 1603 1255 1615 1249 1627M1252 1615 1245 1627 1239 1639 1231 1651M1258 1603 1252 1615 1245 1627M1265 1579 1260 1591 1254 1603 1248 1615M1234 1627 1227 1639M1247 1603 1241 1615 1234 1627 1227 1639M1255 1579 1250 1591 1244 1603M1246 1591 1240 1603 1234 1615 1227 1627M1224 1627 1216 1639 1208 1651M1234 1603 1227 1615 1220 1627M1236 1591 1230 1603 1224 1615M1223 1603 1217 1615M1236 1579 1230 1591 1223 1603M1232 1579 1226 1591M1232 1579 1226 1591 1219 1603M1223 1591 1216 1603 1209 1615M1219 1591 1213 1603 1206 1615M1509 1861 1509 1863 1510 1865 1510 1866 1510 1868M1517 1885 1518 1885 1518 1886M1520 1883 1521 1884 1522 1884 1523 1884M1510 1836 1510 1840 1510 1843 1510 1846 1510 1849M1521 1868 1522 1869 1522 1871 1523 1872M1519 1849 1520 1852 1521 1855M1532 1877 1533 1878 1535 1878 1536 1879 1537 1880M1521 1846 1522 1849 1522 1852 1523 1855M1549 1882 1550 1882 1552 1883 1554 1883 1556 1883M1540 1877 1542 1878 1543 1878M1530 1866 1531 1868 1532 1869 1533 1871M1519 1796 1520 1802M1536 1865 1537 1866 1538 1868M1543 1868 1544 1869 1546 1871 1547 1872 1549 1873M1535 1857 1536 1859 1537 1861M1542 1857 1543 1859 1545 1861M1555 1871 1557 1872 1559 1873 1561 1874M1540 1849 1541 1852M1543 1855 1544 1857M1550 1861 1552 1863 1553 1865M1532 1819 1533 1824 1534 1828 1535 1832M1557 1861 1559 1863M1552 1849 1554 1852 1556 1855M1554 1852 1556 1855 1558 1857 1560 1859M1555 1836 1557 1840 1559 1843 1561 1846 1563 1849M1559 1843 1561 1846 1563 1849 1566 1852 1568 1855M1559 1836 1562 1840 1564 1843M1549 1802 1551 1808 1553 1814 1555 1819M1556 1802 1558 1808 1560 1814 1563 1819 1565 1824M1548 1755 1550 1765 1552 1773 1553 1781 1555 1789M1533 1591 1534 1603 1534 1615 1535 1627 1536 1639M1557 1781 1559 1789 1561 1796M1536 1579 1537 1591 1537 1603 1538 1615M1547 1711 1548 1723M1565 1789 1567 1796M1542 1627 1543 1639M1563 1765 1566 1773M1566 1773 1568 1781 1571 1789M1566 1755 1569 1765 1571 1773M1562 1723 1564 1735M1548 1615 1549 1627 1551 1639 1552 1651 1553 1663M1549 1579 1550 1591 1551 1603 1552 1615 1553 1627M1552 1579 1553 1591 1554 1603M1555 1579 1557 1591M1562 1639 1563 1651 1565 1663 1567 1675M1560 1591 1561 1603 1563 1615M1563 1615 1564 1627 1566 1639 1567 1651 1569 1663M1565 1603 1566 1615M1563 1591 1565 1603M1565 1579 1567 1591 1568 1603" fill="none" stroke="rgb(28,28,28)" stroke-width="2.8"/><defs><linearGradient id="wz2" x1="0" y1="0" x2="0" y2="1"><stop offset="0" stop-color="#000" stop-opacity="0"/><stop offset="1" stop-color="#000" stop-opacity="0.6"/></linearGradient></defs><rect x="1214" y="1860" width="250" height="31" fill="url(#wz2)"/><g filter="url(#bl2)"><ellipse cx="1500" cy="1875" rx="22" ry="14" fill="#000"/><ellipse cx="1390" cy="1712" rx="10" ry="8" fill="#111"/><ellipse cx="1443" cy="1745" rx="7" ry="5" fill="#111"/></g><g fill="#d8d8d8"><ellipse cx="1478" cy="1848" rx="2.5" ry="5" transform="rotate(-25 1478 1848)"/><ellipse cx="1492" cy="1852" rx="2.5" ry="6" transform="rotate(-15 1492 1852)"/><ellipse cx="1505" cy="1846" rx="2" ry="5"/><ellipse cx="1518" cy="1852" rx="2" ry="5" transform="rotate(15 1518 1852)"/><ellipse cx="1470" cy="1880" rx="2" ry="1.5"/><ellipse cx="1488" cy="1884" rx="2" ry="1.5"/><ellipse cx="1512" cy="1878" rx="2" ry="1.5"/></g></g><rect x="869" y="1379" width="134" height="152" fill="none" stroke="#f5bd1f" stroke-width="3"/><rect x="875.7" y="1764.5" width="132.9" height="152" fill="none" stroke="#f5bd1f" stroke-width="3"/><line x1="1003" y1="1379.5" x2="1207" y2="1180" stroke="#f5bd1f" stroke-width="3" stroke-dasharray="12 8"/><line x1="1003" y1="1531" x2="1208" y2="1545" stroke="#f5bd1f" stroke-width="3" stroke-dasharray="12 8"/><line x1="1008.6" y1="1764.5" x2="1212" y2="1578" stroke="#f5bd1f" stroke-width="3" stroke-dasharray="12 8"/><line x1="1008.6" y1="1916.5" x2="1210" y2="1943" stroke="#f5bd1f" stroke-width="3" stroke-dasharray="12 8"/><rect x="1214" y="1491" width="350" height="52" fill="#000"/><rect x="1214" y="1489" width="350" height="3" fill="#fff"/><rect x="1214" y="1891" width="352" height="50" fill="#000"/><rect x="1214" y="1889.5" width="352" height="3" fill="#fff"/><rect x="1212.5" y="1177.5" width="353.2" height="367.2" fill="none" stroke="#f5bd1f" stroke-width="3.2"/><rect x="1213.5" y="1577.5" width="354.5" height="366.2" fill="none" stroke="#f5bd1f" stroke-width="3.2"/><rect x="1482.4" y="1427.4" width="72.8" height="81.9" fill="none" stroke="#e41a1a" stroke-width="2.4"/><rect x="1460.4" y="1829.4" width="70.3" height="82.2" fill="none" stroke="#e41a1a" stroke-width="2.4"/><line x1="1555.2" y1="1427.4" x2="1604" y2="1180" stroke="#e41a1a" stroke-width="3" stroke-dasharray="12 8"/><line x1="1555.2" y1="1509.3" x2="1602" y2="1545" stroke="#e41a1a" stroke-width="3" stroke-dasharray="12 8"/><line x1="1530.7" y1="1829.4" x2="1605" y2="1577" stroke="#e41a1a" stroke-width="3" stroke-dasharray="12 8"/><line x1="1530.7" y1="1911.6" x2="1603" y2="1943" stroke="#e41a1a" stroke-width="3" stroke-dasharray="12 8"/><line x1="1356.7" y1="1465.3" x2="1268.8" y2="1479.7" stroke="#25a84a" stroke-width="2.2" stroke-dasharray="9 5"/><polygon points="1258.9,1481.3 1270.7,1472.8 1272.8,1485.6" fill="#25a84a"/><line x1="1379" y1="1880" x2="1262.5" y2="1883.7" stroke="#25a84a" stroke-width="2.2" stroke-dasharray="9 5"/><polygon points="1252.5,1884.0 1265.3,1877.1 1265.7,1890.1" fill="#25a84a"/><defs><clipPath id="cr1"><rect x="1607" y="1183.5" width="349.0" height="308.5"/></clipPath><filter id="fr1" x="-20%" y="-20%" width="140%" height="140%"><feGaussianBlur stdDeviation="5"/></filter></defs><g clip-path="url(#cr1)"><rect x="1607" y="1183.5" width="349.0" height="308.5" fill="#070707"/><g filter="url(#fr1)"><path d="M1607 1245 Q1650 1205 1705 1186" fill="none" stroke="rgb(115,115,115)" stroke-width="16" stroke-linecap="round"/><path d="M1607 1212 Q1630 1195 1665 1186" fill="none" stroke="rgb(100,100,100)" stroke-width="12" stroke-linecap="round"/><path d="M1640 1255 Q1695 1218 1750 1190" fill="none" stroke="rgb(105,105,105)" stroke-width="12" stroke-linecap="round"/><path d="M1607 1280 Q1660 1250 1715 1215" fill="none" stroke="rgb(90,90,90)" stroke-width="10" stroke-linecap="round"/><path d="M1750 1182 Q1737 1250 1692 1300 Q1652 1335 1607 1352" fill="none" stroke="rgb(125,125,125)" stroke-width="16" stroke-linecap="round"/><path d="M1775 1182 Q1763 1262 1718 1322 Q1672 1362 1607 1385" fill="none" stroke="rgb(150,150,150)" stroke-width="14" stroke-linecap="round"/><path d="M1815 1178 Q1805 1280 1750 1342 Q1705 1384 1640 1405" fill="none" stroke="rgb(150,150,150)" stroke-width="34" stroke-linecap="round"/><path d="M1838 1178 Q1830 1250 1805 1300" fill="none" stroke="rgb(160,160,160)" stroke-width="16" stroke-linecap="round"/><path d="M1815 1178 Q1808 1240 1786 1292" fill="none" stroke="rgb(235,235,235)" stroke-width="30" stroke-linecap="round"/><path d="M1650 1306 L1716 1272" fill="none" stroke="rgb(220,220,220)" stroke-width="22" stroke-linecap="round"/><path d="M1614 1298 L1650 1268" fill="none" stroke="rgb(210,210,210)" stroke-width="19" stroke-linecap="round"/><path d="M1607 1425 Q1650 1410 1705 1385" fill="none" stroke="rgb(80,80,80)" stroke-width="18" stroke-linecap="round"/><path d="M1618 1452 L1655 1446" fill="none" stroke="rgb(70,70,70)" stroke-width="16" stroke-linecap="round"/><path d="M1612 1478 L1640 1474" fill="none" stroke="rgb(60,60,60)" stroke-width="14" stroke-linecap="round"/><path d="M1700 1445 Q1722 1425 1745 1402" fill="none" stroke="rgb(60,60,60)" stroke-width="16" stroke-linecap="round"/><path d="M1760 1470 Q1790 1440 1800 1420" fill="none" stroke="rgb(45,45,45)" stroke-width="14" stroke-linecap="round"/><path d="M1869 1185 L1866 1410" fill="none" stroke="rgb(150,150,150)" stroke-width="14" stroke-linecap="round"/><path d="M1869 1262 L1867 1315" fill="none" stroke="rgb(215,215,215)" stroke-width="15" stroke-linecap="round"/><path d="M1868 1330 L1866 1375" fill="none" stroke="rgb(180,180,180)" stroke-width="12" stroke-linecap="round"/><path d="M1893 1185 Q1900 1330 1958 1430" fill="none" stroke="rgb(150,150,150)" stroke-width="18" stroke-linecap="round"/><path d="M1915 1185 Q1930 1270 1958 1320" fill="none" stroke="rgb(165,165,165)" stroke-width="18" stroke-linecap="round"/><path d="M1940 1185 Q1950 1210 1958 1240" fill="none" stroke="rgb(150,150,150)" stroke-width="16" stroke-linecap="round"/><path d="M1888 1330 Q1900 1430 1945 1490" fill="none" stroke="rgb(110,110,110)" stroke-width="16" stroke-linecap="round"/><path d="M1887 1185 L1888 1300" fill="none" stroke="rgb(120,120,120)" stroke-width="8" stroke-linecap="round"/></g></g><defs><clipPath id="cr2"><rect x="1607" y="1580.5" width="350.0" height="309.5"/></clipPath><filter id="fr2" x="-20%" y="-20%" width="140%" height="140%"><feGaussianBlur stdDeviation="5"/></filter></defs><g clip-path="url(#cr2)"><rect x="1607" y="1580.5" width="350.0" height="309.5" fill="#0c0c0c"/><g filter="url(#fr2)"><path d="M1868 1746 1867 1756 1866 1765 1866 1774 1865 1782 1864 1790" fill="none" stroke="rgb(40,40,40)" stroke-width="10" stroke-linecap="round"/><path d="M1858 1825 1857 1830" fill="none" stroke="rgb(124,124,124)" stroke-width="8" stroke-linecap="round"/><path d="M1868 1603 1868 1615 1868 1627 1867 1639 1867 1651 1866 1663" fill="none" stroke="rgb(101,101,101)" stroke-width="8" stroke-linecap="round"/><path d="M1865 1675 1865 1687 1864 1699" fill="none" stroke="rgb(123,123,123)" stroke-width="9" stroke-linecap="round"/><path d="M1863 1711 1862 1723 1862 1735 1860 1746" fill="none" stroke="rgb(87,87,87)" stroke-width="11" stroke-linecap="round"/><path d="M1860 1746 1859 1756 1858 1765 1857 1774" fill="none" stroke="rgb(143,143,143)" stroke-width="11" stroke-linecap="round"/><path d="M1856 1782 1855 1790" fill="none" stroke="rgb(149,149,149)" stroke-width="11" stroke-linecap="round"/><path d="M1845 1825 1843 1830" fill="none" stroke="rgb(124,124,124)" stroke-width="11" stroke-linecap="round"/><path d="M1699 1884 1689 1884 1679 1884" fill="none" stroke="rgb(141,141,141)" stroke-width="11" stroke-linecap="round"/><path d="M1679 1884 1669 1885" fill="none" stroke="rgb(135,135,135)" stroke-width="11" stroke-linecap="round"/><path d="M1669 1885 1658 1885 1646 1886 1634 1886 1621 1886 1607 1886" fill="none" stroke="rgb(127,127,127)" stroke-width="9" stroke-linecap="round"/><path d="M1849 1756 1847 1765" fill="none" stroke="rgb(195,195,195)" stroke-width="10" stroke-linecap="round"/><path d="M1845 1774 1843 1782 1841 1790 1839 1797" fill="none" stroke="rgb(131,131,131)" stroke-width="10" stroke-linecap="round"/><path d="M1837 1803 1835 1809 1832 1815" fill="none" stroke="rgb(126,126,126)" stroke-width="9" stroke-linecap="round"/><path d="M1830 1820 1827 1825 1824 1830 1821 1834" fill="none" stroke="rgb(176,176,176)" stroke-width="11" stroke-linecap="round"/><path d="M1855 1579 1854 1591 1853 1603 1852 1615 1852 1627" fill="none" stroke="rgb(101,101,101)" stroke-width="8" stroke-linecap="round"/><path d="M1852 1627 1851 1639" fill="none" stroke="rgb(152,152,152)" stroke-width="10" stroke-linecap="round"/><path d="M1851 1639 1849 1651 1848 1663 1847 1675 1846 1687" fill="none" stroke="rgb(155,155,155)" stroke-width="11" stroke-linecap="round"/><path d="M1844 1699 1842 1711" fill="none" stroke="rgb(168,168,168)" stroke-width="11" stroke-linecap="round"/><path d="M1834 1756 1831 1765 1829 1774 1826 1782 1823 1790 1820 1797" fill="none" stroke="rgb(97,97,97)" stroke-width="10" stroke-linecap="round"/><path d="M1820 1797 1817 1803 1814 1809 1810 1815 1806 1820 1803 1825" fill="none" stroke="rgb(138,138,138)" stroke-width="11" stroke-linecap="round"/><path d="M1798 1830 1794 1834" fill="none" stroke="rgb(202,202,202)" stroke-width="11" stroke-linecap="round"/><path d="M1794 1834 1744 1861 1737 1863 1729 1865" fill="none" stroke="rgb(77,77,77)" stroke-width="10" stroke-linecap="round"/><path d="M1729 1865 1721 1866" fill="none" stroke="rgb(98,98,98)" stroke-width="9" stroke-linecap="round"/><path d="M1721 1866 1713 1868 1704 1870 1695 1871 1685 1872" fill="none" stroke="rgb(89,89,89)" stroke-width="10" stroke-linecap="round"/><path d="M1675 1874 1664 1875 1653 1876" fill="none" stroke="rgb(235,235,235)" stroke-width="11" stroke-linecap="round"/><path d="M1641 1877 1629 1878 1616 1879 1602 1879" fill="none" stroke="rgb(102,102,102)" stroke-width="9" stroke-linecap="round"/><path d="M1835 1711 1833 1723 1830 1735 1828 1746 1825 1756 1822 1765" fill="none" stroke="rgb(147,147,147)" stroke-width="11" stroke-linecap="round"/><path d="M1809 1797 1805 1803" fill="none" stroke="rgb(113,113,113)" stroke-width="8" stroke-linecap="round"/><path d="M1801 1809 1797 1815 1793 1820 1788 1825 1783 1830 1778 1834" fill="none" stroke="rgb(153,153,153)" stroke-width="9" stroke-linecap="round"/><path d="M1778 1834 1741 1854" fill="none" stroke="rgb(180,180,180)" stroke-width="9" stroke-linecap="round"/><path d="M1842 1579 1841 1591 1840 1603 1838 1615" fill="none" stroke="rgb(43,43,43)" stroke-width="8" stroke-linecap="round"/><path d="M1838 1615 1837 1627 1836 1639 1834 1651" fill="none" stroke="rgb(135,135,135)" stroke-width="9" stroke-linecap="round"/><path d="M1834 1651 1832 1663 1830 1675 1828 1687 1826 1699" fill="none" stroke="rgb(100,100,100)" stroke-width="11" stroke-linecap="round"/><path d="M1824 1711 1821 1723 1818 1735 1814 1746 1811 1756 1807 1765" fill="none" stroke="rgb(134,134,134)" stroke-width="11" stroke-linecap="round"/><path d="M1764 1825 1758 1830 1752 1834 1738 1841" fill="none" stroke="rgb(166,166,166)" stroke-width="8" stroke-linecap="round"/><path d="M1738 1841 1731 1845 1723 1848 1715 1851 1706 1854 1697 1856" fill="none" stroke="rgb(232,232,232)" stroke-width="8" stroke-linecap="round"/><path d="M1677 1861 1666 1863 1655 1865 1643 1866 1631 1868" fill="none" stroke="rgb(132,132,132)" stroke-width="11" stroke-linecap="round"/><path d="M1618 1870 1604 1871 1590 1872" fill="none" stroke="rgb(156,156,156)" stroke-width="8" stroke-linecap="round"/><path d="M1806 1746 1802 1756 1798 1765 1794 1774 1789 1782" fill="none" stroke="rgb(226,226,226)" stroke-width="11" stroke-linecap="round"/><path d="M1789 1782 1785 1790 1780 1797 1774 1803 1769 1809" fill="none" stroke="rgb(125,125,125)" stroke-width="8" stroke-linecap="round"/><path d="M1757 1820 1750 1825 1744 1830 1736 1834" fill="none" stroke="rgb(165,165,165)" stroke-width="11" stroke-linecap="round"/><path d="M1830 1579 1829 1591 1827 1603 1826 1615" fill="none" stroke="rgb(196,196,196)" stroke-width="11" stroke-linecap="round"/><path d="M1826 1615 1824 1627 1822 1639 1820 1651" fill="none" stroke="rgb(117,117,117)" stroke-width="9" stroke-linecap="round"/><path d="M1790 1756 1785 1765" fill="none" stroke="rgb(146,146,146)" stroke-width="10" stroke-linecap="round"/><path d="M1780 1774 1775 1782 1769 1790" fill="none" stroke="rgb(181,181,181)" stroke-width="11" stroke-linecap="round"/><path d="M1763 1797 1757 1803 1751 1809" fill="none" stroke="rgb(111,111,111)" stroke-width="8" stroke-linecap="round"/><path d="M1744 1815 1737 1820 1729 1825 1721 1830 1713 1834" fill="none" stroke="rgb(79,79,79)" stroke-width="9" stroke-linecap="round"/><path d="M1704 1838 1695 1841 1685 1845" fill="none" stroke="rgb(142,142,142)" stroke-width="10" stroke-linecap="round"/><path d="M1675 1848 1664 1851 1653 1854" fill="none" stroke="rgb(169,169,169)" stroke-width="11" stroke-linecap="round"/><path d="M1641 1856 1629 1859 1616 1861 1602 1863" fill="none" stroke="rgb(131,131,131)" stroke-width="8" stroke-linecap="round"/><path d="M1781 1746 1776 1756 1770 1765 1764 1774 1758 1782 1752 1790" fill="none" stroke="rgb(164,164,164)" stroke-width="10" stroke-linecap="round"/><path d="M1752 1790 1745 1797 1738 1803 1731 1809" fill="none" stroke="rgb(196,196,196)" stroke-width="9" stroke-linecap="round"/><path d="M1817 1579 1815 1591" fill="none" stroke="rgb(199,199,199)" stroke-width="9" stroke-linecap="round"/><path d="M1814 1603 1812 1615 1809 1627 1807 1639 1804 1651" fill="none" stroke="rgb(119,119,119)" stroke-width="9" stroke-linecap="round"/><path d="M1804 1651 1802 1663 1798 1675 1795 1687 1791 1699 1787 1711" fill="none" stroke="rgb(40,40,40)" stroke-width="11" stroke-linecap="round"/><path d="M1787 1711 1782 1723 1777 1735 1772 1746 1766 1756 1760 1765" fill="none" stroke="rgb(207,207,207)" stroke-width="10" stroke-linecap="round"/><path d="M1754 1774 1747 1782 1740 1790 1733 1797 1725 1803 1717 1809" fill="none" stroke="rgb(92,92,92)" stroke-width="9" stroke-linecap="round"/><path d="M1717 1809 1709 1815 1700 1820 1690 1825" fill="none" stroke="rgb(160,160,160)" stroke-width="8" stroke-linecap="round"/><path d="M1690 1825 1680 1830 1670 1834 1659 1838 1647 1841" fill="none" stroke="rgb(162,162,162)" stroke-width="10" stroke-linecap="round"/><path d="M1755 1756 1749 1765 1742 1774 1735 1782 1727 1790" fill="none" stroke="rgb(147,147,147)" stroke-width="8" stroke-linecap="round"/><path d="M1803 1579 1801 1591" fill="none" stroke="rgb(235,235,235)" stroke-width="8" stroke-linecap="round"/><path d="M1796 1615 1793 1627" fill="none" stroke="rgb(71,71,71)" stroke-width="10" stroke-linecap="round"/><path d="M1793 1627 1790 1639" fill="none" stroke="rgb(183,183,183)" stroke-width="10" stroke-linecap="round"/><path d="M1787 1651 1784 1663 1780 1675 1776 1687" fill="none" stroke="rgb(127,127,127)" stroke-width="10" stroke-linecap="round"/><path d="M1760 1723 1754 1735" fill="none" stroke="rgb(211,211,211)" stroke-width="11" stroke-linecap="round"/><path d="M1680 1809 1670 1815 1659 1820 1647 1825 1635 1830 1622 1834" fill="none" stroke="rgb(143,143,143)" stroke-width="11" stroke-linecap="round"/><path d="M1622 1834 1609 1838 1595 1841" fill="none" stroke="rgb(146,146,146)" stroke-width="10" stroke-linecap="round"/><path d="M1773 1675 1769 1687" fill="none" stroke="rgb(180,180,180)" stroke-width="10" stroke-linecap="round"/><path d="M1764 1699 1758 1711 1752 1723" fill="none" stroke="rgb(118,118,118)" stroke-width="11" stroke-linecap="round"/><path d="M1746 1735 1739 1746 1731 1756 1723 1765 1715 1774 1706 1782" fill="none" stroke="rgb(149,149,149)" stroke-width="8" stroke-linecap="round"/><path d="M1706 1782 1697 1790 1688 1797 1678 1803 1667 1809" fill="none" stroke="rgb(74,74,74)" stroke-width="9" stroke-linecap="round"/><path d="M1789 1591 1786 1603 1783 1615 1780 1627 1777 1639" fill="none" stroke="rgb(131,131,131)" stroke-width="11" stroke-linecap="round"/><path d="M1777 1639 1773 1651 1769 1663" fill="none" stroke="rgb(180,180,180)" stroke-width="9" stroke-linecap="round"/><path d="M1765 1675 1760 1687 1755 1699 1749 1711" fill="none" stroke="rgb(162,162,162)" stroke-width="11" stroke-linecap="round"/><path d="M1719 1756 1711 1765 1702 1774 1693 1782 1683 1790 1673 1797" fill="none" stroke="rgb(140,140,140)" stroke-width="11" stroke-linecap="round"/><path d="M1673 1797 1662 1803 1650 1809" fill="none" stroke="rgb(164,164,164)" stroke-width="11" stroke-linecap="round"/><path d="M1650 1809 1638 1815 1626 1820" fill="none" stroke="rgb(131,131,131)" stroke-width="10" stroke-linecap="round"/><path d="M1626 1820 1612 1825 1598 1830" fill="none" stroke="rgb(84,84,84)" stroke-width="11" stroke-linecap="round"/><path d="M1762 1639 1758 1651" fill="none" stroke="rgb(68,68,68)" stroke-width="9" stroke-linecap="round"/><path d="M1758 1651 1753 1663" fill="none" stroke="rgb(144,144,144)" stroke-width="11" stroke-linecap="round"/><path d="M1748 1675 1743 1687" fill="none" stroke="rgb(66,66,66)" stroke-width="8" stroke-linecap="round"/><path d="M1737 1699 1730 1711" fill="none" stroke="rgb(152,152,152)" stroke-width="11" stroke-linecap="round"/><path d="M1730 1711 1723 1723" fill="none" stroke="rgb(166,166,166)" stroke-width="11" stroke-linecap="round"/><path d="M1715 1735 1706 1746 1697 1756 1687 1765" fill="none" stroke="rgb(205,205,205)" stroke-width="11" stroke-linecap="round"/><path d="M1677 1774 1666 1782" fill="none" stroke="rgb(199,199,199)" stroke-width="8" stroke-linecap="round"/><path d="M1666 1782 1655 1790" fill="none" stroke="rgb(130,130,130)" stroke-width="11" stroke-linecap="round"/><path d="M1655 1790 1644 1797 1631 1803" fill="none" stroke="rgb(154,154,154)" stroke-width="11" stroke-linecap="round"/><path d="M1631 1803 1618 1809 1604 1815 1590 1820" fill="none" stroke="rgb(213,213,213)" stroke-width="9" stroke-linecap="round"/><path d="M1763 1579 1760 1591 1756 1603" fill="none" stroke="rgb(110,110,110)" stroke-width="9" stroke-linecap="round"/><path d="M1734 1663 1728 1675 1722 1687 1715 1699 1707 1711" fill="none" stroke="rgb(70,70,70)" stroke-width="8" stroke-linecap="round"/><path d="M1699 1723 1689 1735 1679 1746 1669 1756 1658 1765 1646 1774" fill="none" stroke="rgb(235,235,235)" stroke-width="9" stroke-linecap="round"/><path d="M1753 1579 1749 1591 1745 1603 1741 1615" fill="none" stroke="rgb(142,142,142)" stroke-width="8" stroke-linecap="round"/><path d="M1715 1675 1708 1687 1700 1699 1692 1711 1683 1723" fill="none" stroke="rgb(138,138,138)" stroke-width="11" stroke-linecap="round"/><path d="M1672 1735 1661 1746 1650 1756" fill="none" stroke="rgb(147,147,147)" stroke-width="10" stroke-linecap="round"/><path d="M1738 1579 1734 1591 1730 1603 1725 1615 1720 1627" fill="none" stroke="rgb(133,133,133)" stroke-width="8" stroke-linecap="round"/><path d="M1715 1639 1709 1651 1703 1663 1696 1675 1689 1687" fill="none" stroke="rgb(166,166,166)" stroke-width="11" stroke-linecap="round"/><path d="M1680 1699 1671 1711 1660 1723 1649 1735 1637 1746 1624 1756" fill="none" stroke="rgb(127,127,127)" stroke-width="9" stroke-linecap="round"/><path d="M1624 1756 1611 1765 1597 1774" fill="none" stroke="rgb(83,83,83)" stroke-width="9" stroke-linecap="round"/><path d="M1723 1579 1719 1591 1714 1603 1709 1615 1704 1627 1698 1639" fill="none" stroke="rgb(137,137,137)" stroke-width="9" stroke-linecap="round"/><path d="M1698 1639 1691 1651 1684 1663 1677 1675" fill="none" stroke="rgb(171,171,171)" stroke-width="10" stroke-linecap="round"/><path d="M1668 1687 1659 1699" fill="none" stroke="rgb(132,132,132)" stroke-width="10" stroke-linecap="round"/><path d="M1659 1699 1649 1711 1637 1723" fill="none" stroke="rgb(202,202,202)" stroke-width="8" stroke-linecap="round"/><path d="M1637 1723 1625 1735" fill="none" stroke="rgb(125,125,125)" stroke-width="9" stroke-linecap="round"/><path d="M1625 1735 1611 1746 1597 1756" fill="none" stroke="rgb(216,216,216)" stroke-width="11" stroke-linecap="round"/><path d="M1711 1579 1706 1591 1701 1603" fill="none" stroke="rgb(66,66,66)" stroke-width="9" stroke-linecap="round"/><path d="M1677 1651 1669 1663 1661 1675 1652 1687 1642 1699 1631 1711" fill="none" stroke="rgb(59,59,59)" stroke-width="11" stroke-linecap="round"/><path d="M1618 1723 1605 1735 1590 1746" fill="none" stroke="rgb(100,100,100)" stroke-width="10" stroke-linecap="round"/><path d="M1636 1687 1625 1699 1613 1711 1600 1723" fill="none" stroke="rgb(182,182,182)" stroke-width="8" stroke-linecap="round"/><path d="M1684 1579 1679 1591 1673 1603 1667 1615 1660 1627" fill="none" stroke="rgb(157,157,157)" stroke-width="11" stroke-linecap="round"/><path d="M1660 1627 1652 1639 1644 1651 1636 1663 1626 1675" fill="none" stroke="rgb(100,100,100)" stroke-width="10" stroke-linecap="round"/><path d="M1622 1663 1612 1675" fill="none" stroke="rgb(55,55,55)" stroke-width="11" stroke-linecap="round"/><path d="M1612 1675 1601 1687" fill="none" stroke="rgb(120,120,120)" stroke-width="10" stroke-linecap="round"/><path d="M1646 1603 1638 1615" fill="none" stroke="rgb(76,76,76)" stroke-width="8" stroke-linecap="round"/><path d="M1631 1627 1622 1639 1613 1651 1604 1663" fill="none" stroke="rgb(82,82,82)" stroke-width="11" stroke-linecap="round"/><path d="M1646 1579 1640 1591" fill="none" stroke="rgb(79,79,79)" stroke-width="11" stroke-linecap="round"/><path d="M1640 1591 1633 1603 1625 1615" fill="none" stroke="rgb(137,137,137)" stroke-width="9" stroke-linecap="round"/><path d="M1625 1615 1617 1627 1608 1639 1599 1651" fill="none" stroke="rgb(213,213,213)" stroke-width="10" stroke-linecap="round"/><path d="M1633 1579 1626 1591 1618 1603 1610 1615 1602 1627" fill="none" stroke="rgb(91,91,91)" stroke-width="10" stroke-linecap="round"/><path d="M1621 1579 1613 1591" fill="none" stroke="rgb(189,189,189)" stroke-width="8" stroke-linecap="round"/><path d="M1607 1579 1599 1591" fill="none" stroke="rgb(147,147,147)" stroke-width="9" stroke-linecap="round"/><path d="M1934 1651 1936 1663" fill="none" stroke="rgb(132,132,132)" stroke-width="10" stroke-linecap="round"/><path d="M1936 1663 1938 1675 1940 1687 1943 1699 1946 1711" fill="none" stroke="rgb(159,159,159)" stroke-width="9" stroke-linecap="round"/><path d="M1946 1711 1949 1723" fill="none" stroke="rgb(210,210,210)" stroke-width="9" stroke-linecap="round"/><path d="M1952 1735 1956 1746 1960 1756" fill="none" stroke="rgb(177,177,177)" stroke-width="9" stroke-linecap="round"/><path d="M1932 1579 1933 1591 1935 1603 1936 1615" fill="none" stroke="rgb(153,153,153)" stroke-width="11" stroke-linecap="round"/><path d="M1938 1627 1940 1639 1942 1651" fill="none" stroke="rgb(178,178,178)" stroke-width="8" stroke-linecap="round"/><path d="M1944 1663 1947 1675 1949 1687 1952 1699 1955 1711" fill="none" stroke="rgb(118,118,118)" stroke-width="8" stroke-linecap="round"/><path d="M1959 1723 1963 1735" fill="none" stroke="rgb(235,235,235)" stroke-width="10" stroke-linecap="round"/><path d="M1947 1579 1949 1591 1950 1603 1953 1615" fill="none" stroke="rgb(136,136,136)" stroke-width="10" stroke-linecap="round"/><path d="M1953 1615 1955 1627 1957 1639 1960 1651 1963 1663" fill="none" stroke="rgb(40,40,40)" stroke-width="8" stroke-linecap="round"/><path d="M1959 1579 1961 1591" fill="none" stroke="rgb(144,144,144)" stroke-width="8" stroke-linecap="round"/><path d="M1607 1822 Q1670 1810 1742 1832" fill="none" stroke="rgb(180,180,180)" stroke-width="34" stroke-linecap="round"/><path d="M1607 1866 Q1680 1856 1762 1864" fill="none" stroke="rgb(130,130,130)" stroke-width="16" stroke-linecap="round"/><path d="M1902 1585 Q1910 1670 1945 1732" fill="none" stroke="rgb(210,210,210)" stroke-width="30" stroke-linecap="round"/><path d="M1948 1828 L1952 1834" fill="none" stroke="rgb(210,210,210)" stroke-width="24" stroke-linecap="round"/><path d="M1816 1836 L1826 1815" fill="none" stroke="rgb(210,210,210)" stroke-width="12" stroke-linecap="round"/><path d="M1840 1824 L1846 1812" fill="none" stroke="rgb(205,205,205)" stroke-width="11" stroke-linecap="round"/><path d="M1862 1850 L1863 1846" fill="none" stroke="rgb(200,200,200)" stroke-width="12" stroke-linecap="round"/><path d="M1750 1857 L1758 1855" fill="none" stroke="rgb(200,200,200)" stroke-width="14" stroke-linecap="round"/><path d="M1776 1852 L1782 1850" fill="none" stroke="rgb(195,195,195)" stroke-width="13" stroke-linecap="round"/><path d="M1725 1860 L1730 1858" fill="none" stroke="rgb(185,185,185)" stroke-width="13" stroke-linecap="round"/></g></g><rect x="1606" y="1492.5" width="352" height="52" fill="#000"/><rect x="1606" y="1492" width="352" height="3.2" fill="#fff"/><rect x="1606" y="1892" width="353" height="50" fill="#000"/><rect x="1606" y="1890.2" width="353" height="3.2" fill="#fff"/><rect x="1604.8" y="1181.8" width="352.2" height="362.9" fill="none" stroke="#e8141c" stroke-width="3.6"/><rect x="1605.3" y="1578.6" width="352.9" height="363.3" fill="none" stroke="#e8141c" stroke-width="3.6"/><line x1="1882" y1="1184" x2="1882" y2="1492" stroke="#e8141c" stroke-width="1.3" stroke-dasharray="3 2"/><line x1="1881" y1="1581" x2="1881" y2="1890" stroke="#e8141c" stroke-width="1.3" stroke-dasharray="3 2"/><text x="0.0" y="0.0" font-family="'Liberation Sans', sans-serif" font-size="28" fill="#e8141c" font-weight="bold" textLength="129.0" lengthAdjust="spacingAndGlyphs" transform="translate(1888.5,1273.8) rotate(90)">Center line</text><text x="0.0" y="0.0" font-family="'Liberation Sans', sans-serif" font-size="28" fill="#e8141c" font-weight="bold" textLength="129.0" lengthAdjust="spacingAndGlyphs" transform="translate(1890,1675) rotate(90)">Center line</text><line x1="1760.8" y1="1373.2" x2="1872.2" y2="1483.1" stroke="#ffff00" stroke-width="2.6"/><polygon points="1754.0,1366.5 1766.8,1370.7 1758.3,1379.2" fill="#ffff00"/><polygon points="1879.0,1489.8 1866.2,1485.6 1874.7,1477.1" fill="#ffff00"/><line x1="1846.7" y1="1859.7" x2="1871.3" y2="1880.3" stroke="#ffff00" stroke-width="2.6"/><polygon points="1840.0,1854.0 1852.0,1856.9 1844.9,1865.3" fill="#ffff00"/><polygon points="1878.0,1886.0 1866.0,1883.1 1873.1,1874.7" fill="#ffff00"/><line x1="1904" y1="1518" x2="1889.1" y2="1503.1" stroke="#e8141c" stroke-width="2.6"/><polygon points="1883.4,1497.4 1894.0,1500.9 1886.9,1508.0" fill="#e8141c"/><line x1="1902.6" y1="1915.5" x2="1887.7" y2="1900.6" stroke="#e8141c" stroke-width="2.6"/><polygon points="1882.0,1895.0 1892.6,1898.5 1885.6,1905.6" fill="#e8141c"/><text x="1819.5" y="1535.0" font-family="'Liberation Sans', sans-serif" font-size="15.5" fill="#e8141c" font-weight="bold" textLength="134.0" lengthAdjust="spacingAndGlyphs">Stagnation point</text><text x="1819.5" y="1930.5" font-family="'Liberation Sans', sans-serif" font-size="15.5" fill="#e8141c" font-weight="bold" textLength="134.0" lengthAdjust="spacingAndGlyphs">Stagnation point</text><text x="1084.5" y="1512.0" font-family="'Liberation Sans', sans-serif" font-size="22" fill="#fff" textLength="66.0" lengthAdjust="spacingAndGlyphs">500 μm</text><rect x="1077.3" y="1520.7" width="85.1" height="4.5" fill="#fff"/><text x="1082.5" y="1909.5" font-family="'Liberation Sans', sans-serif" font-size="22" fill="#fff" textLength="67.5" lengthAdjust="spacingAndGlyphs">500 μm</text><rect x="1075.7" y="1916.5" width="85.7" height="4.5" fill="#fff"/><text x="1221.5" y="1521.2" font-family="'Liberation Sans', sans-serif" font-size="19.5" fill="#fff" textLength="65.5" lengthAdjust="spacingAndGlyphs">100 μm</text><rect x="1222" y="1527.2" width="58.8" height="4" fill="#fff"/><text x="1224.3" y="1924.4" font-family="'Liberation Sans', sans-serif" font-size="19.5" fill="#fff" textLength="66.0" lengthAdjust="spacingAndGlyphs">100 μm</text><rect x="1228.8" y="1929.4" width="58.2" height="4" fill="#fff"/><text x="1623.5" y="1524.0" font-family="'Liberation Sans', sans-serif" font-size="19.5" fill="#fff" textLength="57.0" lengthAdjust="spacingAndGlyphs">20 μm</text><rect x="1622" y="1530" width="59.5" height="4" fill="#fff"/><text x="1623.5" y="1920.7" font-family="'Liberation Sans', sans-serif" font-size="19.5" fill="#fff" textLength="57.0" lengthAdjust="spacingAndGlyphs">20 μm</text><rect x="1622" y="1926" width="59.5" height="4" fill="#fff"/><text x="1354.7" y="1526.2" font-family="'Liberation Sans', sans-serif" font-size="26" fill="#fff" font-weight="bold" textLength="84.0" lengthAdjust="spacingAndGlyphs">Flat  PET</text><text x="1369.4" y="1926.4" font-family="'Liberation Sans', sans-serif" font-size="25" fill="#fff" font-weight="bold" textLength="55.5" lengthAdjust="spacingAndGlyphs">BSNF</text><text x="1722.0" y="1530.7" font-family="'Liberation Sans', sans-serif" font-size="25" fill="#fff" font-weight="bold" textLength="83.5" lengthAdjust="spacingAndGlyphs">Flat  PET</text><text x="1736.5" y="1929.6" font-family="'Liberation Sans', sans-serif" font-size="25" fill="#fff" font-weight="bold" textLength="56.2" lengthAdjust="spacingAndGlyphs">BSNF</text><defs><clipPath id="cv1259"><rect x="89.6" y="1259.4" width="375.4" height="119.1"/></clipPath></defs><g clip-path="url(#cv1259)"><rect x="89.6" y="1259.4" width="375.4" height="119.1" fill="#fff"/><g filter="url(#bl2)"><polygon points="90,1262 118,1262 112,1320 90,1345" fill="rgb(175,175,175)" opacity="0.32"/><polygon points="128,1262 165,1262 152,1335" fill="rgb(150,150,150)" opacity="0.40"/><polygon points="165,1285 195,1300 185,1345 168,1335" fill="rgb(190,190,190)" opacity="0.32"/><polygon points="96,1340 130,1350 118,1378 90,1378" fill="rgb(140,140,140)" opacity="0.36"/><polygon points="200,1330 225,1350 215,1378 195,1378" fill="rgb(200,200,200)" opacity="0.25"/><polygon points="238,1262 282,1262 266,1318" fill="rgb(150,150,150)" opacity="0.36"/><polygon points="236,1318 258,1330 252,1378 240,1378" fill="rgb(190,190,190)" opacity="0.25"/><polygon points="300,1300 352,1290 345,1345 300,1340" fill="rgb(205,205,205)" opacity="0.25"/><polygon points="355,1262 395,1262 380,1320 360,1340" fill="rgb(185,185,185)" opacity="0.32"/><polygon points="395,1262 440,1262 430,1330 405,1310" fill="rgb(170,170,170)" opacity="0.36"/><polygon points="380,1320 420,1335 410,1378 375,1378" fill="rgb(175,175,175)" opacity="0.32"/><polygon points="430,1290 465,1290 465,1378 440,1378" fill="rgb(185,185,185)" opacity="0.32"/><polygon points="330,1350 370,1345 365,1378 335,1378" fill="rgb(200,200,200)" opacity="0.25"/></g><path d="M138 1261 L160 1268" stroke="#222" stroke-width="2.4" opacity="0.75"/><path d="M244 1290 L262 1306" stroke="#222" stroke-width="2.4" opacity="0.75"/><path d="M252 1298 L272 1288" stroke="#222" stroke-width="2.4" opacity="0.75"/><path d="M94 1368 L110 1376" stroke="#222" stroke-width="2.4" opacity="0.75"/><path d="M455 1362 L463 1374" stroke="#222" stroke-width="2.4" opacity="0.75"/><path d="M150 1262 L158 1275" stroke="#222" stroke-width="2.4" opacity="0.75"/><path d="M412 1275 L425 1268" stroke="#222" stroke-width="2.4" opacity="0.75"/><path d="M125 1262 L116 1320 L122 1345" stroke="#fff" stroke-width="2" fill="none"/><path d="M160 1290 L172 1330 L180 1378" stroke="#fff" stroke-width="2" fill="none"/><path d="M385 1300 L400 1340 L395 1378" stroke="#fff" stroke-width="2" fill="none"/><path d="M440 1270 L455 1320" stroke="#fff" stroke-width="2" fill="none"/><path d="M262 1330 L270 1378" stroke="#fff" stroke-width="2" fill="none"/></g><rect x="89.6" y="1259.4" width="375.4" height="119.1" fill="none" stroke="#444" stroke-width="1.1"/><line x1="89.6" y1="1259.4" x2="465" y2="1259.4" stroke="#111" stroke-width="1.6"/><line x1="127.1" y1="1378.5" x2="127.1" y2="1375.5" stroke="#444" stroke-width="1"/><line x1="127.1" y1="1259.4" x2="127.1" y2="1262.4" stroke="#444" stroke-width="1"/><line x1="164.7" y1="1378.5" x2="164.7" y2="1375.5" stroke="#444" stroke-width="1"/><line x1="164.7" y1="1259.4" x2="164.7" y2="1262.4" stroke="#444" stroke-width="1"/><line x1="202.2" y1="1378.5" x2="202.2" y2="1375.5" stroke="#444" stroke-width="1"/><line x1="202.2" y1="1259.4" x2="202.2" y2="1262.4" stroke="#444" stroke-width="1"/><line x1="239.8" y1="1378.5" x2="239.8" y2="1375.5" stroke="#444" stroke-width="1"/><line x1="239.8" y1="1259.4" x2="239.8" y2="1262.4" stroke="#444" stroke-width="1"/><line x1="277.3" y1="1378.5" x2="277.3" y2="1375.5" stroke="#444" stroke-width="1"/><line x1="277.3" y1="1259.4" x2="277.3" y2="1262.4" stroke="#444" stroke-width="1"/><line x1="314.8" y1="1378.5" x2="314.8" y2="1375.5" stroke="#444" stroke-width="1"/><line x1="314.8" y1="1259.4" x2="314.8" y2="1262.4" stroke="#444" stroke-width="1"/><line x1="352.4" y1="1378.5" x2="352.4" y2="1375.5" stroke="#444" stroke-width="1"/><line x1="352.4" y1="1259.4" x2="352.4" y2="1262.4" stroke="#444" stroke-width="1"/><line x1="389.9" y1="1378.5" x2="389.9" y2="1375.5" stroke="#444" stroke-width="1"/><line x1="389.9" y1="1259.4" x2="389.9" y2="1262.4" stroke="#444" stroke-width="1"/><line x1="427.5" y1="1378.5" x2="427.5" y2="1375.5" stroke="#444" stroke-width="1"/><line x1="427.5" y1="1259.4" x2="427.5" y2="1262.4" stroke="#444" stroke-width="1"/><line x1="465" y1="1338.5" x2="462" y2="1338.5" stroke="#444" stroke-width="1"/><line x1="89.6" y1="1338.5" x2="92.6" y2="1338.5" stroke="#444" stroke-width="1"/><line x1="465" y1="1298.5" x2="462" y2="1298.5" stroke="#444" stroke-width="1"/><line x1="89.6" y1="1298.5" x2="92.6" y2="1298.5" stroke="#444" stroke-width="1"/><rect x="85.9" y="1255.8" width="382.6" height="127.7" fill="none" stroke="#17a24a" stroke-width="5" stroke-dasharray="21 17" stroke-dashoffset="0"/><defs><clipPath id="cv1602"><rect x="89.4" y="1602" width="373.2" height="336.0"/></clipPath></defs><g clip-path="url(#cv1602)"><rect x="89.4" y="1602" width="373.2" height="336.0" fill="#fff"/><g filter="url(#bl2)"><polygon points="90,1793 118,1793 112,1865 90,1897" fill="rgb(175,175,175)" opacity="0.32"/><polygon points="128,1793 165,1793 152,1884" fill="rgb(150,150,150)" opacity="0.40"/><polygon points="165,1821 195,1840 185,1897 168,1884" fill="rgb(190,190,190)" opacity="0.32"/><polygon points="96,1890 130,1903 118,1938 90,1938" fill="rgb(140,140,140)" opacity="0.36"/><polygon points="200,1878 225,1903 215,1938 195,1938" fill="rgb(200,200,200)" opacity="0.25"/><polygon points="238,1793 282,1793 266,1863" fill="rgb(150,150,150)" opacity="0.36"/><polygon points="236,1863 258,1878 252,1938 240,1938" fill="rgb(190,190,190)" opacity="0.25"/><polygon points="300,1840 352,1828 345,1897 300,1890" fill="rgb(205,205,205)" opacity="0.25"/><polygon points="355,1793 395,1793 380,1865 360,1890" fill="rgb(185,185,185)" opacity="0.32"/><polygon points="395,1793 440,1793 430,1878 405,1853" fill="rgb(170,170,170)" opacity="0.36"/><polygon points="380,1865 420,1884 410,1938 375,1938" fill="rgb(175,175,175)" opacity="0.32"/><polygon points="430,1828 465,1828 465,1938 440,1938" fill="rgb(185,185,185)" opacity="0.32"/><polygon points="330,1903 370,1897 365,1938 335,1938" fill="rgb(200,200,200)" opacity="0.25"/></g><path d="M138 1791 L160 1800" stroke="#222" stroke-width="2.4" opacity="0.75"/><path d="M244 1828 L262 1848" stroke="#222" stroke-width="2.4" opacity="0.75"/><path d="M252 1838 L272 1825" stroke="#222" stroke-width="2.4" opacity="0.75"/><path d="M94 1925 L110 1935" stroke="#222" stroke-width="2.4" opacity="0.75"/><path d="M455 1918 L463 1933" stroke="#222" stroke-width="2.4" opacity="0.75"/><path d="M150 1793 L158 1809" stroke="#222" stroke-width="2.4" opacity="0.75"/><path d="M412 1809 L425 1800" stroke="#222" stroke-width="2.4" opacity="0.75"/><path d="M125 1793 L116 1865 L122 1897" stroke="#fff" stroke-width="2" fill="none"/><path d="M160 1828 L172 1878 L180 1938" stroke="#fff" stroke-width="2" fill="none"/><path d="M385 1840 L400 1890 L395 1938" stroke="#fff" stroke-width="2" fill="none"/><path d="M440 1803 L455 1865" stroke="#fff" stroke-width="2" fill="none"/><path d="M262 1878 L270 1938" stroke="#fff" stroke-width="2" fill="none"/></g><rect x="89.4" y="1602" width="373.2" height="336.0" fill="none" stroke="#444" stroke-width="1.1"/><line x1="89.4" y1="1602" x2="462.6" y2="1602" stroke="#111" stroke-width="1.6"/><line x1="126.7" y1="1938" x2="126.7" y2="1935" stroke="#444" stroke-width="1"/><line x1="126.7" y1="1602" x2="126.7" y2="1605" stroke="#444" stroke-width="1"/><line x1="164.0" y1="1938" x2="164.0" y2="1935" stroke="#444" stroke-width="1"/><line x1="164.0" y1="1602" x2="164.0" y2="1605" stroke="#444" stroke-width="1"/><line x1="201.4" y1="1938" x2="201.4" y2="1935" stroke="#444" stroke-width="1"/><line x1="201.4" y1="1602" x2="201.4" y2="1605" stroke="#444" stroke-width="1"/><line x1="238.7" y1="1938" x2="238.7" y2="1935" stroke="#444" stroke-width="1"/><line x1="238.7" y1="1602" x2="238.7" y2="1605" stroke="#444" stroke-width="1"/><line x1="276.0" y1="1938" x2="276.0" y2="1935" stroke="#444" stroke-width="1"/><line x1="276.0" y1="1602" x2="276.0" y2="1605" stroke="#444" stroke-width="1"/><line x1="313.3" y1="1938" x2="313.3" y2="1935" stroke="#444" stroke-width="1"/><line x1="313.3" y1="1602" x2="313.3" y2="1605" stroke="#444" stroke-width="1"/><line x1="350.6" y1="1938" x2="350.6" y2="1935" stroke="#444" stroke-width="1"/><line x1="350.6" y1="1602" x2="350.6" y2="1605" stroke="#444" stroke-width="1"/><line x1="388.0" y1="1938" x2="388.0" y2="1935" stroke="#444" stroke-width="1"/><line x1="388.0" y1="1602" x2="388.0" y2="1605" stroke="#444" stroke-width="1"/><line x1="425.3" y1="1938" x2="425.3" y2="1935" stroke="#444" stroke-width="1"/><line x1="425.3" y1="1602" x2="425.3" y2="1605" stroke="#444" stroke-width="1"/><line x1="462.6" y1="1898.0" x2="459.6" y2="1898.0" stroke="#444" stroke-width="1"/><line x1="89.4" y1="1898.0" x2="92.4" y2="1898.0" stroke="#444" stroke-width="1"/><line x1="462.6" y1="1858.0" x2="459.6" y2="1858.0" stroke="#444" stroke-width="1"/><line x1="89.4" y1="1858.0" x2="92.4" y2="1858.0" stroke="#444" stroke-width="1"/><line x1="462.6" y1="1818.0" x2="459.6" y2="1818.0" stroke="#444" stroke-width="1"/><line x1="89.4" y1="1818.0" x2="92.4" y2="1818.0" stroke="#444" stroke-width="1"/><line x1="462.6" y1="1778.0" x2="459.6" y2="1778.0" stroke="#444" stroke-width="1"/><line x1="89.4" y1="1778.0" x2="92.4" y2="1778.0" stroke="#444" stroke-width="1"/><line x1="462.6" y1="1738.0" x2="459.6" y2="1738.0" stroke="#444" stroke-width="1"/><line x1="89.4" y1="1738.0" x2="92.4" y2="1738.0" stroke="#444" stroke-width="1"/><line x1="462.6" y1="1698.0" x2="459.6" y2="1698.0" stroke="#444" stroke-width="1"/><line x1="89.4" y1="1698.0" x2="92.4" y2="1698.0" stroke="#444" stroke-width="1"/><line x1="462.6" y1="1658.0" x2="459.6" y2="1658.0" stroke="#444" stroke-width="1"/><line x1="89.4" y1="1658.0" x2="92.4" y2="1658.0" stroke="#444" stroke-width="1"/><line x1="462.6" y1="1618.0" x2="459.6" y2="1618.0" stroke="#444" stroke-width="1"/><line x1="89.4" y1="1618.0" x2="92.4" y2="1618.0" stroke="#444" stroke-width="1"/><g filter="url(#bl4)" opacity="0.25"><polygon points="92,1690 120,1680 200,1770 185,1790 92,1740" fill="#bbb"/></g><path d="M96 1688 L186 1788" stroke="#fff" stroke-width="2"/><rect x="85.9" y="1597.5" width="380.1" height="343.5" fill="none" stroke="#17a24a" stroke-width="5" stroke-dasharray="21 17" stroke-dashoffset="0"/><g filter="url(#bl2)"><polygon points="509,347 700,356 888,372 895,450 857,467 679,498 563,463 509,421" fill="#d6d6d6"/></g><g filter="url(#bl4)"><ellipse cx="520" cy="368" rx="5" ry="33" fill="#7a7a7a" opacity="0.27"/><ellipse cx="557" cy="382" rx="6" ry="21" fill="#7a7a7a" opacity="0.46"/><ellipse cx="760" cy="371" rx="5" ry="28" fill="#7a7a7a" opacity="0.35"/><ellipse cx="884" cy="366" rx="3" ry="39" fill="#7a7a7a" opacity="0.35"/><ellipse cx="588" cy="393" rx="4" ry="39" fill="#7a7a7a" opacity="0.29"/><ellipse cx="595" cy="422" rx="5" ry="39" fill="#7a7a7a" opacity="0.49"/><ellipse cx="647" cy="378" rx="6" ry="40" fill="#7a7a7a" opacity="0.23"/><ellipse cx="787" cy="455" rx="6" ry="23" fill="#7a7a7a" opacity="0.48"/><ellipse cx="785" cy="377" rx="6" ry="23" fill="#7a7a7a" opacity="0.24"/><ellipse cx="639" cy="393" rx="5" ry="32" fill="#7a7a7a" opacity="0.49"/><ellipse cx="871" cy="467" rx="7" ry="35" fill="#7a7a7a" opacity="0.32"/><ellipse cx="580" cy="427" rx="5" ry="33" fill="#7a7a7a" opacity="0.25"/><ellipse cx="586" cy="461" rx="5" ry="33" fill="#7a7a7a" opacity="0.26"/><ellipse cx="663" cy="460" rx="6" ry="40" fill="#7a7a7a" opacity="0.29"/><ellipse cx="683" cy="447" rx="5" ry="35" fill="#7a7a7a" opacity="0.40"/><ellipse cx="559" cy="366" rx="7" ry="21" fill="#7a7a7a" opacity="0.29"/><ellipse cx="639" cy="437" rx="6" ry="28" fill="#7a7a7a" opacity="0.38"/><ellipse cx="807" cy="387" rx="4" ry="31" fill="#7a7a7a" opacity="0.43"/><ellipse cx="529" cy="368" rx="4" ry="34" fill="#7a7a7a" opacity="0.44"/><ellipse cx="875" cy="443" rx="4" ry="35" fill="#7a7a7a" opacity="0.54"/><ellipse cx="644" cy="356" rx="5" ry="24" fill="#7a7a7a" opacity="0.28"/><ellipse cx="532" cy="369" rx="6" ry="19" fill="#7a7a7a" opacity="0.42"/><ellipse cx="591" cy="377" rx="6" ry="25" fill="#7a7a7a" opacity="0.28"/><ellipse cx="683" cy="435" rx="5" ry="37" fill="#7a7a7a" opacity="0.35"/><ellipse cx="709" cy="437" rx="5" ry="34" fill="#7a7a7a" opacity="0.37"/><ellipse cx="564" cy="369" rx="6" ry="34" fill="#7a7a7a" opacity="0.52"/><ellipse cx="770" cy="422" rx="4" ry="37" fill="#7a7a7a" opacity="0.26"/><ellipse cx="672" cy="371" rx="5" ry="25" fill="#7a7a7a" opacity="0.36"/><ellipse cx="778" cy="417" rx="4" ry="35" fill="#7a7a7a" opacity="0.46"/><ellipse cx="821" cy="359" rx="5" ry="38" fill="#7a7a7a" opacity="0.31"/><ellipse cx="590" cy="449" rx="4" ry="27" fill="#7a7a7a" opacity="0.48"/><ellipse cx="657" cy="378" rx="4" ry="26" fill="#7a7a7a" opacity="0.44"/><ellipse cx="651" cy="444" rx="3" ry="23" fill="#7a7a7a" opacity="0.42"/><ellipse cx="692" cy="412" rx="7" ry="24" fill="#7a7a7a" opacity="0.28"/><ellipse cx="527" cy="410" rx="4" ry="28" fill="#7a7a7a" opacity="0.23"/><ellipse cx="515" cy="399" rx="6" ry="25" fill="#7a7a7a" opacity="0.51"/><ellipse cx="729" cy="401" rx="6" ry="23" fill="#7a7a7a" opacity="0.42"/><ellipse cx="828" cy="417" rx="4" ry="20" fill="#7a7a7a" opacity="0.41"/><ellipse cx="584" cy="398" rx="5" ry="39" fill="#7a7a7a" opacity="0.44"/><ellipse cx="707" cy="454" rx="4" ry="27" fill="#7a7a7a" opacity="0.44"/><ellipse cx="720" cy="380" rx="5" ry="36" fill="#7a7a7a" opacity="0.30"/><ellipse cx="776" cy="361" rx="7" ry="33" fill="#7a7a7a" opacity="0.33"/><ellipse cx="879" cy="447" rx="3" ry="23" fill="#7a7a7a" opacity="0.38"/><ellipse cx="884" cy="371" rx="3" ry="25" fill="#7a7a7a" opacity="0.24"/><ellipse cx="666" cy="417" rx="5" ry="21" fill="#7a7a7a" opacity="0.23"/></g><path d="M528 285L788 366M550 310L872 413M717 103L872 123M525 162L770 207M505 294L828 395M545 288L874 396M535 189L871 253M553 229L889 311M522 138L881 190M528 150L836 196M518 138L884 197M548 108L754 132M649 100L878 125M542 170L803 219M551 160L829 204M538 260L870 354M547 231L753 285M534 232L868 312M695 99L868 118M550 216L888 295M529 126L703 149M554 179L884 244M514 249L688 294M545 260L833 346M507 281L871 388M509 123L851 167M507 126L751 155M550 156L706 183M505 121L664 145M543 300L884 406M538 302L883 413M553 263L735 311M556 223L838 293M509 246L876 343M512 168L769 212M541 245L868 331M524 263L773 338M682 91L872 113M508 200L796 265M529 278L807 356M542 141L868 189M519 328L772 418M542 180L889 250M519 233L667 272M509 239L874 333M528 222L880 309M556 277L739 335M524 235L885 322M700 98L884 117M543 145L873 202M691 91L869 110M647 102L820 124M510 154L842 216M655 93L867 115M516 305L773 387M550 213L875 292M537 334L740 403M536 314L826 415M536 180L697 210M541 283L832 370M506 178L736 226M531 144L858 193M514 230L881 326M526 251L738 310M521 134L684 157M543 161L747 199M549 306L829 402M667 90L874 109M518 275L881 384M550 240L831 313M507 223L854 313M557 175L878 238M648 80L884 101M530 260L823 346M550 107L876 140M508 129L791 169M513 150L878 207M527 312L879 427M504 128L848 179M526 295L794 381M514 173L726 213M547 243L797 310M534 297L843 392M714 100L879 121M545 126L811 159M657 87L880 104M558 206L884 279M516 174L821 231M546 317L850 426M557 149L880 197M531 216L886 302M537 274L748 334M554 299L827 384M657 97L878 123M707 92L874 106M556 171L891 232M513 313L768 397M511 205L689 246M511 232L684 277M727 83L885 98M523 313L791 403M557 309L784 389M552 157L762 197M526 328L838 438M700 93L876 114M539 326L769 403M559 137L809 178M506 283L749 355M538 275L889 375M532 158L736 192M714 96L869 113M538 299L802 383M537 329L890 455M550 160L871 215M728 99L871 115" stroke="#a8281c" stroke-width="1.15" fill="none"/><path d="M779 365q4 -3 7 0t7 0M649 365q6 -3 12 0t12 4M707 347q3 -3 6 0t6 1M728 364q3 -3 5 0t5 -1M744 369q7 -3 14 0t14 -1M778 352q5 -3 11 0t11 2M658 360q7 -3 15 0t15 -2M712 380q7 -3 14 0t14 -0M798 376q5 -3 9 0t9 1M616 380q3 -3 7 0t7 2M876 379q7 -3 14 0t14 1M857 373q5 -3 9 0t9 0M628 346q5 -3 11 0t11 0M864 330q6 -3 11 0t11 1M879 380q6 -3 12 0t12 2M647 365q4 -3 7 0t7 3M721 342q4 -3 7 0t7 0M635 363q5 -3 10 0t10 -2M627 353q7 -3 15 0t15 4M736 378q3 -3 7 0t7 -1M562 343q4 -3 8 0t8 1M838 348q4 -3 8 0t8 1M861 355q7 -3 15 0t15 -0M712 361q6 -3 12 0t12 3M550 340q3 -3 6 0t6 3M690 355q3 -3 5 0t5 3M869 331q7 -3 15 0t15 1M549 331q6 -3 12 0t12 3M659 373q3 -3 5 0t5 3M564 339q4 -3 8 0t8 -0M842 355q5 -3 9 0t9 3M667 346q4 -3 8 0t8 1M846 376q3 -3 5 0t5 0M767 355q6 -3 12 0t12 4M522 365q4 -3 7 0t7 2M576 337q7 -3 13 0t13 2M745 351q4 -3 8 0t8 -2M861 370q6 -3 13 0t13 -2M510 353q3 -3 6 0t6 2M620 369q3 -3 7 0t7 1" stroke="#a83020" stroke-width="1.3" fill="none"/><defs><clipPath id="cvc"><polygon points="505,330 700,345 892,360 898,452 857,470 679,500 560,466 505,424"/></clipPath></defs><g clip-path="url(#cvc)"><path d="M721 442 720 447 722 451 725 455 728 459 731 463 735 466 738 470 740 475 742 479M602 347 599 351 597 355 596 360 595 365 596 370 598 374 599 379 600 384M683 418 685 423 685 428 688 432 691 436 692 441 692 446 690 450 688 455 689 460 690 465 693 469M711 459 710 464 711 469 712 474 715 478 719 481 723 484 728 484 733 486M610 407 609 411 609 416 608 421 605 425 603 430 601 434 598 438 594 441 592 446 589 450 585 453M668 419 672 423 675 426 677 431 678 436 678 441 678 446 680 450 684 454 685 459 688 463 689 468 692 472 694 477M695 452 697 456 697 461 699 466 700 471 698 476 695 480 692 483 689 487 686 491 683 496 682 500 680 505M735 387 737 392 739 396 743 400 746 404 749 407 753 410 755 415 757 419 760 423 762 428 762 433 761 438 761 443M597 412 596 417 597 422 598 427 601 431 602 436 602 441 601 446 599 450M863 424 862 429 859 433 855 436 852 440 849 444 847 449 844 452 840 456 836 458 832 461 831 466 828 471 827 475M755 355 755 360 757 365 757 370 756 375 757 380 759 384" stroke="#20a0a0" stroke-width="1.4" fill="none"/><path d="M522 433 524 437 525 442 525 447 525 452 528 456 528 461 528 466 529 471 528 476 526 481 525 486 526 491 530 494 532 499M762 347 764 352 767 355 771 358 775 361 777 366 777 371 776 376 775 381 773 385 772 390 770 395 766 398M788 363 785 367 784 372 783 377 782 382 782 387 782 392 781 397M824 428 825 433 826 438 828 443 831 446 831 451 832 456 833 461 836 465 838 470 841 474 844 478 848 481M735 423 737 428 740 432 741 437 743 442 747 445 748 450 748 455 747 460 748 465 748 470 747 474 747 479M830 432 830 437 828 442 826 447 827 452 830 456 833 459 834 464M641 357 638 361 638 366 640 371 640 376 638 381 637 386 637 391 638 396 641 400 644 403 649 406 653 407 656 411 658 416 658 421M725 363 726 368 725 373 726 378 726 383 723 387 720 391 716 394 713 398 711 403 708 406 705 410M773 437 770 441 770 446 768 451 767 456 765 460 762 464 759 468 757 473M614 354 612 359 610 363 608 368 606 373 604 377 601 381 597 384 594 389 593 393M667 351 668 356 668 361 668 366 668 371 668 376 670 380 673 384 674 389M533 410 533 415 531 420 530 425 530 430 531 435 534 439M600 418 602 423 605 427 607 431 609 436 609 441 610 446 608 451 608 456 607 461 606 465 603 470 600 474 599 479 598 484M626 416 628 420 630 425 632 430 634 434 637 438 641 441 644 445 647 448 652 451M613 463 615 468 617 472 620 476 622 481 624 485 625 490 628 495 629 499 632 504 632 509 630 513M698 379 697 384 695 388 691 391 690 396 687 400 686 405 684 410 684 415 685 420 687 424 690 428M643 460 644 465 647 469 652 471 655 475 656 480 656 485 657 490 660 494 664 497M564 358 567 362 571 365 575 367 579 371 583 373 586 377 589 381 593 385 596 389 599 393M699 403 700 408 701 413 703 417 705 422 707 426 709 431 713 434 717 437 720 442 720 446M671 438 673 442 674 447 673 452 670 456 668 461 665 465 664 470 664 475 666 479 668 484 670 488 670 493M861 373 863 378 862 383 860 387 860 392 861 397 864 401 867 405 869 410 871 414M678 409 678 414 678 419 677 424 677 429 678 433 678 438 678 443 679 448 682 452 684 457 684 462M558 455 557 460 557 465 554 469 552 473 552 478 551 483 548 488 548 493 547 497 544 502 542 506M866 399 863 403 862 408 862 413 863 418 865 422 868 426 870 430 869 435 868 440 868 445M754 470 755 474 758 478 760 483 759 488 757 492 756 497 756 502 754 507 751 511M746 409 746 414 743 418 741 423 739 427 735 430 733 435 733 440 733 445 733 450 733 455 733 460M834 378 834 383 832 388 830 392 827 397 826 402 823 406 823 411 823 415 826 420 827 425 828 429" stroke="#1a2aa8" stroke-width="1.4" fill="none"/><path d="M565 398 562 402 558 405 555 409 551 412 548 416 546 420 544 425 542 429 541 434 540 439 538 444 535 448M819 430 816 434 813 438 808 440 806 444 803 448 800 452 797 456 796 461 797 466 797 471 795 476 795 481 796 485 799 490M854 385 853 390 851 394 846 397 842 400 838 403 834 405 831 409 830 414 828 419 824 422 823 427M659 446 658 450 657 455 657 460 654 465 652 469 650 474 646 477 643 481 642 486 643 491 641 495 641 500 641 505 643 510M589 381 589 386 586 390 585 395 583 399 579 402 575 406 574 411M876 448 876 453 876 458 877 463 879 468 879 473 879 478 880 483 881 488 882 492 883 497 884 502 883 507M792 364 795 368 796 373 798 377 800 382 802 387 804 391 806 396 807 400 809 405 808 410 809 415 810 420M641 433 644 436 647 441 649 445 649 450 647 455 645 459 642 464 639 467 635 470 630 473 628 477 628 482 629 487M825 388 824 393 821 397 818 401 814 403 809 405 804 407 800 408 795 409 790 410M546 352 548 357 551 361 555 364 557 368 560 372 561 377 563 382" stroke="#30b040" stroke-width="1.4" fill="none"/><path d="M879 442 880 447 881 452 881 457 881 462 881 467 880 471 877 475M693 346 690 350 686 353 682 356 679 360 677 365 675 369M676 458 677 462 680 466 683 470 685 475 686 480 686 485 685 490 684 495 685 500 687 504 689 509 693 513 696 516 699 520 699 525M530 412 527 416 525 420 522 425 522 430 520 434 516 438 513 442M533 417 532 422 533 427 534 432 536 436 539 440 542 444 544 449M592 456 589 460 585 463 582 467 579 471 577 476 575 480 571 483 569 487 568 492 570 497 571 502 573 507 576 510 577 515 579 519M648 419 646 424 646 429 648 433 648 438 650 443 651 448 649 452 646 457 643 461 639 463 634 464 629 465 626 469M723 395 725 400 726 405 725 410 726 415 727 419 730 423M638 461 635 465 632 469 627 472 623 474 618 475 616 480 616 485 618 490 619 494M876 454 875 459 877 464 879 468 881 473 881 478 882 483 881 488 878 492 876 496 874 500 874 505 873 510 872 515 871 520M603 388 604 393 605 398 608 402 611 405 615 408 617 413 619 417 623 421 624 426 625 431M569 374 570 379 570 384 570 389 572 393 574 398 574 403 574 408 572 413 571 418 571 423" stroke="#78c830" stroke-width="1.4" fill="none"/></g><g filter="url(#bl2)"><ellipse cx="585" cy="385" rx="8" ry="5" fill="#20c040"/><ellipse cx="585" cy="382" rx="6" ry="3" fill="#d02010"/><ellipse cx="583" cy="385" rx="3" ry="2" fill="#e0e020"/><ellipse cx="630" cy="398" rx="8" ry="5" fill="#20c040"/><ellipse cx="630" cy="395" rx="6" ry="3" fill="#d02010"/><ellipse cx="628" cy="398" rx="3" ry="2" fill="#e0e020"/><ellipse cx="675" cy="410" rx="8" ry="5" fill="#20c040"/><ellipse cx="675" cy="407" rx="6" ry="3" fill="#d02010"/><ellipse cx="673" cy="410" rx="3" ry="2" fill="#e0e020"/><ellipse cx="720" cy="415" rx="8" ry="5" fill="#20c040"/><ellipse cx="720" cy="412" rx="6" ry="3" fill="#d02010"/><ellipse cx="718" cy="415" rx="3" ry="2" fill="#e0e020"/><ellipse cx="760" cy="400" rx="8" ry="5" fill="#20c040"/><ellipse cx="760" cy="397" rx="6" ry="3" fill="#d02010"/><ellipse cx="758" cy="400" rx="3" ry="2" fill="#e0e020"/><ellipse cx="800" cy="365" rx="8" ry="5" fill="#20c040"/><ellipse cx="800" cy="362" rx="6" ry="3" fill="#d02010"/><ellipse cx="798" cy="365" rx="3" ry="2" fill="#e0e020"/><ellipse cx="610" cy="430" rx="8" ry="5" fill="#20c040"/><ellipse cx="610" cy="427" rx="6" ry="3" fill="#d02010"/><ellipse cx="608" cy="430" rx="3" ry="2" fill="#e0e020"/><ellipse cx="655" cy="450" rx="8" ry="5" fill="#20c040"/><ellipse cx="655" cy="447" rx="6" ry="3" fill="#d02010"/><ellipse cx="653" cy="450" rx="3" ry="2" fill="#e0e020"/></g><path d="M695 460q6 -3 13 0t13 -1M706 427q3 -3 6 0t6 0M796 476q6 -3 11 0t11 -0M625 453q6 -3 12 0t12 -1M560 459q7 -3 14 0t14 -1M657 483q5 -3 11 0t11 3M738 469q6 -3 12 0t12 2M857 462q5 -3 11 0t11 2M773 455q6 -3 11 0t11 3M875 443q3 -3 6 0t6 3M586 454q7 -3 15 0t15 3M809 489q7 -3 14 0t14 1M798 443q4 -3 9 0t9 3M685 441q6 -3 12 0t12 -0M722 479q3 -3 6 0t6 3M845 458q7 -3 14 0t14 2M522 433q5 -3 10 0t10 1M828 495q4 -3 9 0t9 1M661 444q3 -3 6 0t6 2M602 446q7 -3 14 0t14 -0M777 454q5 -3 10 0t10 3M530 466q4 -3 8 0t8 -0M821 423q5 -3 10 0t10 3M588 477q6 -3 12 0t12 4M513 430q5 -3 10 0t10 -1M869 467q7 -3 13 0t13 2M816 455q3 -3 6 0t6 4M869 442q7 -3 15 0t15 -1M715 479q6 -3 11 0t11 -0M641 491q6 -3 13 0t13 1M728 488q3 -3 6 0t6 2M641 478q3 -3 6 0t6 1M675 491q3 -3 5 0t5 1M645 473q3 -3 5 0t5 3M623 458q5 -3 11 0t11 2M837 438q3 -3 6 0t6 3M836 433q4 -3 7 0t7 1M647 478q6 -3 13 0t13 4M795 453q6 -3 13 0t13 3M852 481q6 -3 11 0t11 1M785 423q3 -3 5 0t5 0M552 446q7 -3 14 0t14 -0M541 457q5 -3 9 0t9 1M867 440q4 -3 8 0t8 -0M593 425q5 -3 10 0t10 3" stroke="#a83020" stroke-width="1.3" fill="none"/><defs><linearGradient id="gvd" x1="0" y1="0" x2="0" y2="1"><stop offset="0" stop-color="#dcdcdc"/><stop offset="0.45" stop-color="#c8c8c8"/><stop offset="0.6" stop-color="#9a9a9a"/><stop offset="0.85" stop-color="#a8a8a8"/><stop offset="1" stop-color="#d8d8d8"/></linearGradient><clipPath id="cvd"><polygon points="512,745 600,760 700,770 892,772 893,1000 850,1015 700,1022 560,1005 510,990"/></clipPath></defs><g filter="url(#bl2)"><polygon points="512,745 600,760 700,770 892,772 893,1000 850,1015 700,1022 560,1005 510,990" fill="url(#gvd)"/></g><g clip-path="url(#cvd)"><g filter="url(#bl4)"><ellipse cx="544" cy="858" rx="3" ry="33" fill="#555" opacity="0.35"/><ellipse cx="785" cy="838" rx="4" ry="32" fill="#555" opacity="0.36"/><ellipse cx="869" cy="979" rx="3" ry="15" fill="#555" opacity="0.43"/><ellipse cx="562" cy="822" rx="4" ry="32" fill="#555" opacity="0.45"/><ellipse cx="873" cy="856" rx="2" ry="17" fill="#555" opacity="0.49"/><ellipse cx="557" cy="849" rx="2" ry="16" fill="#555" opacity="0.21"/><ellipse cx="647" cy="849" rx="3" ry="34" fill="#555" opacity="0.25"/><ellipse cx="820" cy="953" rx="4" ry="27" fill="#555" opacity="0.43"/><ellipse cx="735" cy="861" rx="3" ry="20" fill="#555" opacity="0.32"/><ellipse cx="885" cy="897" rx="2" ry="25" fill="#555" opacity="0.44"/><ellipse cx="682" cy="946" rx="2" ry="16" fill="#555" opacity="0.40"/><ellipse cx="533" cy="874" rx="3" ry="19" fill="#555" opacity="0.21"/><ellipse cx="518" cy="991" rx="4" ry="34" fill="#555" opacity="0.35"/><ellipse cx="873" cy="975" rx="4" ry="26" fill="#555" opacity="0.35"/><ellipse cx="600" cy="888" rx="4" ry="19" fill="#555" opacity="0.45"/><ellipse cx="706" cy="929" rx="4" ry="28" fill="#555" opacity="0.24"/><ellipse cx="608" cy="820" rx="2" ry="34" fill="#555" opacity="0.38"/><ellipse cx="878" cy="961" rx="3" ry="34" fill="#555" opacity="0.48"/><ellipse cx="686" cy="835" rx="3" ry="18" fill="#555" opacity="0.31"/><ellipse cx="546" cy="948" rx="5" ry="19" fill="#555" opacity="0.43"/><ellipse cx="734" cy="907" rx="5" ry="23" fill="#555" opacity="0.45"/><ellipse cx="528" cy="994" rx="3" ry="15" fill="#555" opacity="0.46"/><ellipse cx="786" cy="941" rx="4" ry="23" fill="#555" opacity="0.23"/><ellipse cx="634" cy="992" rx="5" ry="20" fill="#555" opacity="0.33"/><ellipse cx="684" cy="983" rx="2" ry="32" fill="#555" opacity="0.28"/><ellipse cx="721" cy="843" rx="2" ry="33" fill="#555" opacity="0.35"/><ellipse cx="879" cy="976" rx="4" ry="16" fill="#555" opacity="0.38"/><ellipse cx="887" cy="911" rx="2" ry="19" fill="#555" opacity="0.50"/><ellipse cx="881" cy="864" rx="3" ry="29" fill="#555" opacity="0.35"/><ellipse cx="585" cy="997" rx="4" ry="22" fill="#555" opacity="0.21"/><ellipse cx="706" cy="955" rx="3" ry="17" fill="#555" opacity="0.42"/><ellipse cx="860" cy="888" rx="3" ry="28" fill="#555" opacity="0.36"/><ellipse cx="563" cy="869" rx="3" ry="19" fill="#555" opacity="0.23"/><ellipse cx="662" cy="859" rx="5" ry="21" fill="#555" opacity="0.49"/><ellipse cx="819" cy="868" rx="2" ry="26" fill="#555" opacity="0.34"/><ellipse cx="716" cy="842" rx="4" ry="30" fill="#555" opacity="0.33"/><ellipse cx="611" cy="986" rx="3" ry="35" fill="#555" opacity="0.41"/><ellipse cx="516" cy="901" rx="2" ry="31" fill="#555" opacity="0.33"/><ellipse cx="547" cy="991" rx="4" ry="27" fill="#555" opacity="0.37"/><ellipse cx="543" cy="997" rx="3" ry="25" fill="#555" opacity="0.35"/><ellipse cx="692" cy="823" rx="5" ry="25" fill="#555" opacity="0.32"/><ellipse cx="838" cy="975" rx="4" ry="33" fill="#555" opacity="0.30"/><ellipse cx="554" cy="883" rx="4" ry="31" fill="#555" opacity="0.42"/><ellipse cx="751" cy="928" rx="4" ry="26" fill="#555" opacity="0.20"/><ellipse cx="720" cy="870" rx="2" ry="27" fill="#555" opacity="0.45"/><ellipse cx="621" cy="941" rx="4" ry="29" fill="#555" opacity="0.46"/><ellipse cx="776" cy="834" rx="4" ry="22" fill="#555" opacity="0.33"/><ellipse cx="768" cy="851" rx="4" ry="34" fill="#555" opacity="0.22"/><ellipse cx="834" cy="947" rx="3" ry="30" fill="#555" opacity="0.22"/><ellipse cx="575" cy="1000" rx="4" ry="18" fill="#555" opacity="0.24"/><ellipse cx="683" cy="918" rx="5" ry="19" fill="#555" opacity="0.39"/><ellipse cx="680" cy="920" rx="5" ry="17" fill="#555" opacity="0.45"/><ellipse cx="789" cy="868" rx="2" ry="30" fill="#555" opacity="0.46"/><ellipse cx="645" cy="845" rx="4" ry="28" fill="#555" opacity="0.31"/><ellipse cx="669" cy="838" rx="2" ry="19" fill="#555" opacity="0.43"/><ellipse cx="561" cy="856" rx="3" ry="19" fill="#555" opacity="0.27"/><ellipse cx="791" cy="862" rx="4" ry="17" fill="#555" opacity="0.36"/><ellipse cx="777" cy="901" rx="3" ry="16" fill="#555" opacity="0.28"/><ellipse cx="668" cy="838" rx="3" ry="25" fill="#555" opacity="0.22"/><ellipse cx="764" cy="992" rx="4" ry="24" fill="#555" opacity="0.45"/><ellipse cx="869" cy="991" rx="5" ry="30" fill="#555" opacity="0.48"/><ellipse cx="801" cy="878" rx="2" ry="25" fill="#555" opacity="0.41"/><ellipse cx="616" cy="885" rx="2" ry="16" fill="#555" opacity="0.28"/><ellipse cx="833" cy="831" rx="2" ry="23" fill="#555" opacity="0.49"/><ellipse cx="597" cy="828" rx="2" ry="22" fill="#555" opacity="0.20"/><ellipse cx="766" cy="831" rx="3" ry="17" fill="#555" opacity="0.28"/><ellipse cx="548" cy="850" rx="3" ry="20" fill="#555" opacity="0.39"/><ellipse cx="654" cy="857" rx="2" ry="32" fill="#555" opacity="0.46"/><ellipse cx="871" cy="948" rx="3" ry="22" fill="#555" opacity="0.26"/><ellipse cx="680" cy="895" rx="5" ry="19" fill="#555" opacity="0.41"/><ellipse cx="789" cy="829" rx="3" ry="13" fill="#777" opacity="0.23"/><ellipse cx="709" cy="824" rx="4" ry="22" fill="#777" opacity="0.24"/><ellipse cx="571" cy="840" rx="2" ry="24" fill="#777" opacity="0.22"/><ellipse cx="740" cy="846" rx="2" ry="13" fill="#777" opacity="0.33"/><ellipse cx="785" cy="771" rx="3" ry="22" fill="#777" opacity="0.36"/><ellipse cx="662" cy="771" rx="3" ry="19" fill="#777" opacity="0.28"/><ellipse cx="739" cy="823" rx="3" ry="19" fill="#777" opacity="0.31"/><ellipse cx="804" cy="841" rx="2" ry="22" fill="#777" opacity="0.25"/><ellipse cx="673" cy="790" rx="3" ry="17" fill="#777" opacity="0.29"/><ellipse cx="555" cy="796" rx="3" ry="17" fill="#777" opacity="0.31"/><ellipse cx="541" cy="820" rx="4" ry="22" fill="#777" opacity="0.31"/><ellipse cx="817" cy="804" rx="2" ry="20" fill="#777" opacity="0.25"/><ellipse cx="617" cy="839" rx="3" ry="14" fill="#777" opacity="0.24"/><ellipse cx="790" cy="829" rx="4" ry="22" fill="#777" opacity="0.26"/><ellipse cx="778" cy="849" rx="4" ry="24" fill="#777" opacity="0.23"/><ellipse cx="609" cy="786" rx="4" ry="21" fill="#777" opacity="0.31"/><ellipse cx="589" cy="807" rx="3" ry="12" fill="#777" opacity="0.38"/><ellipse cx="779" cy="850" rx="4" ry="19" fill="#777" opacity="0.26"/><ellipse cx="657" cy="814" rx="3" ry="16" fill="#777" opacity="0.26"/><ellipse cx="707" cy="837" rx="2" ry="24" fill="#777" opacity="0.33"/><ellipse cx="703" cy="820" rx="4" ry="18" fill="#777" opacity="0.27"/><ellipse cx="549" cy="800" rx="2" ry="15" fill="#777" opacity="0.33"/><ellipse cx="649" cy="852" rx="3" ry="23" fill="#777" opacity="0.24"/><ellipse cx="882" cy="847" rx="4" ry="22" fill="#777" opacity="0.30"/><ellipse cx="573" cy="846" rx="4" ry="18" fill="#777" opacity="0.35"/></g><path d="M573 844C561 887 582 931 565 976M610 804C602 854 619 903 619 954M859 817C840 881 864 945 871 1010M522 810C542 857 519 903 513 951M826 830C835 879 844 929 826 979M631 805q-26 8 -36 41M610 803q-59 18 -83 95M669 812q-35 10 -49 56M681 825q-32 10 -45 51M605 820q-42 13 -59 67M625 808q-56 17 -79 90" stroke="#30b040" stroke-width="1.3" fill="none"/><path d="M618 864C627 887 628 910 624 933M559 820C547 868 545 916 551 965M582 870C562 903 579 936 575 970M789 875C809 912 790 949 784 987M548 823C557 880 536 937 528 996M564 894C573 910 558 927 581 943M775 810C759 859 762 908 793 959M563 865C543 909 560 953 556 998M652 831C646 878 666 925 657 973M831 866C813 894 831 922 844 950M643 899C631 927 631 956 635 986M744 815C726 855 730 895 728 937M570 815C572 860 552 906 563 952M755 838C739 884 754 930 748 977M875 879C885 915 866 950 867 986M628 872C610 908 643 944 606 982M560 831C540 891 564 950 566 1012M569 875C586 905 588 935 574 966M661 839C669 893 647 948 654 1004M833 856C849 895 811 934 854 975M525 846C518 892 512 937 541 985M704 867C707 907 697 946 699 987M653 886C639 906 662 927 647 948M801 884C821 914 789 945 789 976M811 835C824 892 819 949 824 1007M702 819C714 865 692 912 705 960M705 822C688 869 686 915 699 963M605 858C599 901 626 943 603 987M564 801C546 851 551 902 585 954M521 884C510 905 538 927 520 949M772 888C792 919 778 950 767 982M875 826C896 873 896 919 885 967M833 862C817 912 821 963 832 1014M829 851C810 893 815 935 832 978M850 843C846 892 850 940 836 990M864 809C856 860 859 911 869 964M711 870C698 900 728 930 702 961M760 865C776 887 753 909 774 932M864 831C848 880 886 930 880 980M612 823C600 878 603 934 604 990M571 824C559 880 591 937 559 995M613 875C624 917 592 959 622 1003M856 830C850 869 865 909 846 949M814 808C799 864 807 920 821 977M591 842C600 885 603 929 573 974M563 857C577 907 579 956 571 1007M863 844C879 883 859 922 867 962M736 871C730 917 736 963 718 1011M759 828C765 870 746 912 760 956M537 893C539 909 546 925 521 941M621 861C632 911 634 960 617 1011M605 875C620 910 584 945 602 981M694 863C685 894 699 926 695 958M800 896C814 916 822 936 813 957M755 802C735 851 756 901 742 953M760 862C740 890 774 918 745 948M879 844C882 877 880 910 863 944M771 832C785 884 764 937 755 990M720 897C699 911 727 924 719 939M784 885C804 923 790 962 803 1002M700 815C699 872 715 930 721 989" stroke="#1a2aa8" stroke-width="1.3" fill="none"/><path d="M773 867C759 908 793 950 751 992M677 806C691 861 681 917 668 975M562 831C568 889 552 947 549 1007M628 862C633 902 644 941 633 982M557 816C573 878 543 941 578 1005M701 883C689 916 704 948 705 982M809 823C787 886 829 949 820 1015M788 871C792 898 799 925 771 953M626 835C629 876 608 916 610 958M757 848C739 882 779 917 751 952M769 882C755 908 756 934 789 960M636 802q-29 9 -41 47M661 814q-48 14 -67 76M600 812q-25 8 -35 40M832 832q46 14 60 70M794 849q34 10 44 51M798 824q38 11 50 57M835 825q21 6 28 32M830 822q29 9 37 43M812 843q25 7 32 37" stroke="#20a0a0" stroke-width="1.3" fill="none"/><path d="M877 847C866 896 861 945 890 995M787 886C782 903 782 921 795 938M676 858C665 909 678 961 677 1014M601 876C592 919 601 962 622 1006M684 865C693 889 684 913 705 938M548 801C552 864 540 928 561 993M785 897C780 921 797 945 798 970M589 883C569 919 590 956 591 994M865 827C886 867 855 907 884 948M558 831C543 869 552 906 559 945M547 899C558 931 527 963 531 996M647 807q-45 14 -63 72M637 812q-32 9 -44 51M617 829q-57 17 -80 91M814 845q24 7 32 37M846 847q22 7 28 33M812 846q44 13 57 65M791 846q29 9 37 43M828 848q31 9 41 47M835 830q34 10 45 52" stroke="#78c830" stroke-width="1.3" fill="none"/><path d="M739 807C722 853 748 898 733 945M767 820C775 870 757 919 783 970M809 864C796 909 808 953 825 999M834 897C846 928 816 960 824 993M670 822C679 885 670 948 679 1013M667 824C663 877 681 931 664 986M571 867C558 895 587 923 558 952M612 824q-44 13 -62 71M606 827q-47 14 -65 75" stroke="#2a5cc8" stroke-width="1.3" fill="none"/><path d="M835 839q25 8 33 38M841 825q47 14 62 71M799 827q37 11 48 55M834 830q23 7 31 35" stroke="#a0d020" stroke-width="1.3" fill="none"/><path d="M862 1012q6 -3 11 0t11 1M699 1009q7 -3 14 0t14 3M675 964q7 -3 13 0t13 -0M865 1004q5 -3 10 0t10 -0M725 1018q5 -3 10 0t10 3M787 1005q6 -3 12 0t12 -1M853 961q7 -3 14 0t14 -0M759 1012q3 -3 6 0t6 -1M771 997q7 -3 14 0t14 2M744 980q3 -3 7 0t7 2M870 993q4 -3 8 0t8 4M785 1012q6 -3 12 0t12 -0M874 992q5 -3 10 0t10 0M614 1009q6 -3 12 0t12 3M739 980q4 -3 9 0t9 2M866 969q3 -3 6 0t6 0M604 984q3 -3 6 0t6 3M556 1017q6 -3 12 0t12 4M755 967q3 -3 6 0t6 4M728 1019q5 -3 11 0t11 1M839 1010q5 -3 11 0t11 1M816 1002q5 -3 9 0t9 1M668 974q4 -3 7 0t7 3M822 971q3 -3 7 0t7 1M721 989q4 -3 8 0t8 -2M807 967q5 -3 9 0t9 0M648 969q3 -3 5 0t5 4M760 1013q7 -3 14 0t14 3M582 1005q4 -3 8 0t8 0M516 976q6 -3 12 0t12 -2M874 998q3 -3 7 0t7 4M797 997q4 -3 9 0t9 2M625 1015q4 -3 7 0t7 1M799 969q3 -3 6 0t6 2M600 1002q6 -3 12 0t12 3M831 966q5 -3 11 0t11 2M516 1025q3 -3 7 0t7 1M658 1017q7 -3 13 0t13 1M782 1018q5 -3 10 0t10 -1M576 1009q3 -3 5 0t5 0M623 995q3 -3 7 0t7 -0M748 993q6 -3 13 0t13 1M670 980q4 -3 8 0t8 3M537 1007q5 -3 10 0t10 1M552 1009q5 -3 9 0t9 2M599 1013q3 -3 5 0t5 -0M562 1016q5 -3 10 0t10 4M752 1023q4 -3 9 0t9 1M861 1014q4 -3 8 0t8 2M749 1004q7 -3 13 0t13 -1M630 979q4 -3 7 0t7 -0M868 960q4 -3 9 0t9 4M872 998q6 -3 12 0t12 1M864 1014q6 -3 12 0t12 2M585 991q7 -3 14 0t14 0" stroke="#a83020" stroke-width="1.3" fill="none"/></g><path d="M548 660L884 717M539 664L782 710M553 710L877 783M536 696L854 765M535 707L878 794M541 731L769 798M554 715L887 799M529 666L883 734M559 678L746 719M547 724L787 783M533 719L880 809M544 710L790 773M511 673L858 745M513 669L768 717M556 680L891 746M539 728L891 817M518 678L752 726M643 642L896 681M541 650L825 702M515 726L868 827M550 722L742 771M706 646L885 672M679 639L874 669M524 724L804 799M549 738L784 800M540 738L808 813M551 724L890 819M544 719L883 811M556 684L747 725M554 699L764 749M556 710L895 797M531 718L723 767M545 701L746 751M665 638L894 668M522 712L778 773M547 681L868 747M521 691L816 756M557 733L775 795M719 640L894 665M553 725L848 806M510 658L883 721M527 665L850 725M687 636L877 664M517 681L845 756M523 730L721 784M532 707L817 778M550 722L755 773M514 662L715 697M544 667L774 714M557 676L766 718M716 631L877 651M511 649L716 685M557 689L851 750M517 750L772 825M516 658L785 706M539 743L871 837M540 654L874 711M706 638L885 667M559 744L859 837M546 692L880 771" stroke="#a8281c" stroke-width="1.1" fill="none"/><defs><clipPath id="crm"><path d="M546 770 L580 748 L640 742 L700 745 L760 740 L825 745 L830 780 L812 800 L790 812 L760 800 L735 830 L700 846 L670 835 L640 820 L610 800 L590 795 L560 790 Z"/></clipPath></defs><g filter="url(#bl2)"><path d="M560 770 L580 752 L640 746 L700 748 L760 744 L820 748 L822 780 L808 798 L790 806 L760 796 L735 820 L700 836 L670 826 L640 812 L610 796 L590 790 L565 785 Z" fill="#b81a0a" opacity="0.75"/></g><g clip-path="url(#crm)"><path d="M680 829l6 13M724 751l27 30M806 809l-12 25M786 746l17 23M646 803l-22 30M687 769l24 21M761 814l9 18M754 847l-15 11M829 812l-18 11M677 846l14 29M649 822l-26 32M575 834l14 11M566 800l24 20M665 788l11 17M585 819l-9 24M699 792l15 29M629 775l9 11M578 834l-29 24M819 829l21 27M757 758l7 17M743 765l7 16M594 805l-26 23M752 740l24 17M602 821l18 16M559 821l-9 18M580 827l12 29M543 818l-4 18M815 756l-23 13M692 837l29 33M580 779l29 22M826 796l15 22M562 812l18 12M828 736l12 33M714 816l-5 20M575 848l-11 7M598 816l13 36M772 778l15 21M683 791l22 29M642 761l23 16M770 753l13 13M790 818l23 31M704 842l13 15M626 751l15 36M547 800l6 22M635 780l-9 14M716 740l5 19M798 776l-16 14M695 837l13 35M675 761l16 10M628 778l-8 20M698 799l25 34M768 834l32 21M609 810l12 39M745 790l28 29M787 816l-27 30M624 745l7 14M612 749l-14 16M715 745l20 16M583 780l-15 14M723 837l16 21M558 798l26 20M598 736l33 27M635 746l-24 22M671 776l20 21M576 744l12 40M815 781l11 22M758 833l13 17M642 783l-11 36M734 792l28 31M762 786l17 11M673 791l35 24M754 797l24 31M631 816l11 19M654 777l12 43M606 743l-12 9M679 825l19 12M814 767l-30 16M701 842l22 28M632 740l9 14M602 806l28 16M778 753l21 25M603 741l10 40M789 823l21 28M672 836l33 25M636 783l29 18M796 740l-35 27M547 806l12 21M722 779l9 10M795 773l25 35M624 847l-8 14M676 755l-21 18M564 813l11 22M654 758l-14 35M564 820l-25 24M761 791l18 22M583 786l18 31M657 807l6 11M652 767l12 16M652 766l24 15M591 835l-8 15M812 804l15 14M625 811l26 25M597 821l26 22M700 744l-20 21M647 791l19 34M728 816l6 22M692 784l34 20M748 843l12 36M786 751l21 29M830 779l32 27M695 808l-12 12M578 831l8 20M634 848l30 30M696 786l-17 36M749 754l5 22M680 790l19 19M817 829l-17 12M615 834l21 16M799 834l22 30M687 739l18 23M765 785l35 25M661 839l21 38M650 849l15 17M693 817l8 22M665 846l-8 29M675 758l6 26M672 743l7 20M602 810l12 27M581 788l12 20M653 780l8 11M727 800l11 9M574 798l10 9M589 822l15 20M740 824l10 35M661 799l15 31M728 784l-8 31M784 795l15 18M662 831l11 9M736 835l12 8M760 838l-11 9M623 754l22 14M550 815l11 24M634 825l20 40M810 750l31 28M730 751l30 30M595 762l23 23M559 754l25 25M614 743l10 24M602 838l14 26M569 836l10 22M755 808l-30 25M639 775l29 26M701 831l-25 22M664 831l-25 36M617 738l-19 23M763 818l19 28M644 835l14 10M755 769l-21 13M747 760l35 22M614 800l10 36M708 799l20 11M756 791l14 29M826 742l-13 8M823 796l16 36M727 788l-10 24M730 739l7 20M565 793l9 9M597 839l-5 15M691 778l-10 18M729 750l12 14M545 839l-3 12M629 746l25 32M579 792l-17 13M718 806l35 22M624 773l20 11M546 749l31 22M729 795l10 23M673 747l24 20M556 771l32 18M573 758l35 20M558 752l13 33M559 776l18 32M646 750l27 32M814 786l-14 27M689 798l7 30M579 825l18 25M727 842l-13 11M651 785l7 20M693 826l11 14M756 772l-26 30M638 745l-25 15M793 769l9 20M618 833l13 33M611 736l23 22M701 782l36 20M624 799l20 14M555 780l12 22M596 833l13 18M697 799l23 33M627 797l19 15M703 837l7 13M796 758l14 15M574 829l19 39M756 799l11 30M642 765l9 12M624 825l-22 18M679 829l14 25M796 766l28 24M695 787l10 28M551 757l29 30M827 826l-10 37M792 796l-17 25M605 827l8 16M791 823l12 37M569 742l-15 39M677 795l23 15M828 783l-29 18M787 828l7 21M644 769l8 35M810 802l20 27M673 752l-15 40M544 745l19 16M728 768l-7 28M774 818l12 41M689 812l14 30M541 846l5 14M799 812l18 27M700 745l20 20M736 778l-19 27M784 814l-18 22M551 793l-6 14M595 779l14 16M752 786l29 23M677 786l24 33M726 834l18 10M730 819l-26 22M743 781l20 31M753 775l10 15M633 816l9 8M727 826l19 31M749 760l5 14M715 821l19 31M798 810l23 17M601 736l11 37M645 768l-9 19M584 806l-12 11M814 847l20 32M768 819l-11 41M669 830l17 29M646 842l-29 17M645 779l20 24M594 849l36 27M616 761l8 14M726 826l21 15M673 809l16 19M608 821l9 36M586 776l17 22M658 736l21 13M743 822l-14 15M622 843l-7 33M775 771l25 35M732 769l-22 34M743 746l-12 13M577 766l-9 9M824 811l-36 22M730 841l5 17M593 765l-20 16M658 737l-14 13M551 743l6 11M826 807l13 33M725 784l14 39M749 817l15 28M792 844l10 34M746 829l25 29M711 846l6 22M714 747l23 29M777 776l12 12M798 824l-15 11M780 759l7 25M691 775l-10 9M714 847l-38 23M676 759l-9 18M789 836l21 29M814 770l20 38M579 746l17 20M755 757l38 23M820 824l-28 25M625 841l26 18M801 796l-11 29M709 797l-16 14M780 750l-14 16M568 773l14 8M775 739l7 23M573 742l10 12M729 750l16 27M688 745l-8 24M794 828l3 13M561 808l-12 22M677 772l-9 9M691 835l-11 36M637 825l11 15M718 746l10 16M802 846l11 15M658 779l11 36M753 844l-9 26M731 838l-17 32M736 806l-19 20M829 827l11 16M768 741l28 33M815 772l8 13M578 815l9 40M641 831l-26 25M752 838l11 35M813 840l-13 25M702 823l10 31M650 785l14 41M598 798l11 34M652 842l21 19M587 755l-14 12M762 812l13 35M685 804l14 18M574 774l-32 30M674 750l8 17M763 738l11 18M727 785l6 14M784 798l8 34M806 797l12 11M789 742l14 25M643 736l30 29M638 782l19 22M592 831l23 17M788 803l-9 19M780 811l-13 18M702 746l19 17M620 820l15 21M627 747l23 37M662 757l14 20M747 846l31 31M774 754l26 28M755 757l27 21M588 765l5 17M767 850l18 14M701 831l27 17M603 834l-11 12M646 759l11 36M571 839l21 27M685 773l-12 9M802 814l23 18M736 758l38 23M687 786l21 32M591 755l-5 12M588 808l9 18M781 810l-25 19M603 736l14 38M629 781l4 17M637 759l-21 13M777 819l25 16M638 814l-21 14M761 814l17 38M782 818l-25 20M582 830l12 25M791 822l15 37M549 833l-27 21M725 739l-29 29M714 756l10 15M554 803l27 21M778 819l7 11M675 820l15 30M717 845l-17 29M776 765l15 13M572 737l10 29M557 829l30 21M723 805l-20 16M757 785l23 25M726 830l16 30M781 792l21 15M624 803l-8 15M759 758l15 15M677 828l-12 16M797 827l-5 11M794 742l-19 25M662 850l37 23M723 807l9 23M625 822l17 35M582 811l25 28M757 838l-27 20M598 756l14 10M704 787l16 13M558 756l15 14M774 847l25 31M721 807l14 22M734 816l-22 13M764 790l-11 43M588 830l-9 22M545 785l14 34M810 780l18 20M783 837l18 41M816 796l20 11M751 797l24 28M819 798l29 17M627 828l20 25M693 740l6 12M616 832l-20 17M690 752l14 10M636 770l13 15M559 778l12 30M768 787l20 27M635 805l-9 10M622 833l23 23M792 818l32 24M716 750l12 18M725 808l-18 27M713 797l-6 15M788 755l11 13M694 802l13 13M803 743l8 14M655 828l14 13M540 800l19 35M804 813l7 12M730 818l6 20M724 794l24 28M577 771l24 32M813 748l11 7M613 742l-32 29M651 770l26 26M674 813l-26 14M580 800l23 22M621 790l22 22M817 831l4 15M560 839l18 20M821 846l11 20M555 750l22 36M559 840l-11 22M599 775l30 19M709 774l-7 10M622 804l33 27M799 823l29 26M797 799l13 14M814 771l5 11M804 800l-7 11M569 741l-23 16M697 799l16 17M758 850l21 23M645 798l11 33M814 771l18 25M638 800l6 12M558 788l13 15M653 831l-9 36M762 828l12 39M765 743l27 16M700 781l-25 20M709 825l7 19M821 773l19 33M637 767l21 15M756 793l13 12M766 837l-31 18M585 747l-16 9M748 788l28 34M688 738l-7 13M758 761l17 22M822 754l5 22M568 754l10 23M681 824l17 17M575 834l7 10M714 843l6 16M721 816l-4 14M780 836l11 33M768 808l34 26M552 806l16 14M545 770l28 24M698 750l25 27M705 771l15 17M546 806l5 20M672 823l20 29M786 749l10 10M685 825l8 23M717 797l-24 28M699 754l16 41M616 781l13 29M619 753l32 20M825 771l7 17M550 811l-11 30M822 783l-11 25M787 810l18 28M780 767l36 25M692 767l18 34M714 787l9 20M616 812l8 18M773 770l12 42M635 769l-11 26M762 758l26 24M771 767l-22 36M825 830l-6 13M803 797l13 33M610 736l34 23M674 781l18 19M587 817l11 24M721 813l15 10M621 803l20 25M657 782l6 13M569 850l18 10M711 773l25 16M752 838l26 30M626 790l4 15M685 841l3 13M642 742l-12 12M722 818l8 35M546 817l22 27M611 772l-17 33M747 803l10 24M693 785l24 17M648 776l23 23M636 798l12 23M721 756l13 43M812 767l-25 20M594 811l-5 21M581 826l6 12M721 768l14 14M752 771l-8 27M743 820l26 27M566 839l8 20M652 817l6 11M644 823l-10 15M632 737l10 27M775 754l14 28M701 834l-10 10M669 790l19 22M808 817l8 15M645 810l-15 17M655 753l23 32M722 739l15 14M718 738l-18 30M625 834l-22 29M697 763l17 20M816 830l-30 26M571 800l-18 18M598 797l25 20M704 748l14 19M638 759l23 14M700 758l9 22M774 751l14 23M646 832l-9 12M643 772l24 33M653 839l5 13M543 741l11 24M589 742l-19 12M649 806l14 40M759 782l-20 14M730 833l-8 11M687 750l-15 9M787 835l31 20M829 770l10 22M571 831l-29 27M573 763l-20 18M747 825l5 14M577 736l9 28M615 801l-19 17M627 830l22 25M605 781l26 16M727 781l14 18M707 763l-21 24M657 831l6 27M806 848l19 21M806 819l-8 19M646 778l-34 22M786 792l-10 8M673 790l20 23M641 830l21 34M556 817l24 23M550 766l29 24M770 839l18 35M720 818l-17 25M791 756l-18 18M580 754l-22 35M816 830l-12 6M804 804l33 26M706 806l12 14M677 749l4 12M631 739l13 11M768 838l9 8M786 817l14 29M783 777l5 17M643 825l16 27M720 755l-13 21M821 750l10 20M692 759l30 26M543 737l20 22M728 788l20 35M824 804l26 36M781 755l7 17M649 814l12 30M610 771l16 12M742 821l9 34M642 759l15 30M626 803l25 21M613 793l8 26M632 736l-13 26M566 742l-28 15M690 792l-14 36M615 776l12 28M615 840l-36 23M567 736l26 25M631 780l-16 19M710 792l14 19M707 822l16 24M781 782l18 25M711 753l-12 14M547 751l9 9M709 795l-30 27M817 745l19 39M562 793l26 31M734 829l18 16M574 784l-15 19M641 771l9 23M612 737l-10 14M643 849l37 20M671 833l10 9M609 816l-26 18M563 799l20 11M619 785l25 25M607 837l11 38M733 783l20 37M582 753l16 17M604 770l18 23M590 776l14 37M754 821l19 39M652 782l11 14M740 745l16 15M739 828l14 38M729 835l10 15M749 755l39 22M743 735l-14 9M596 803l22 21M607 762l23 22M732 752l13 17M649 751l5 14M666 822l22 16M592 797l8 10M678 763l4 13M572 796l-13 29M664 824l28 29M689 803l9 27M705 777l6 14M721 770l25 29M593 847l11 10M590 823l16 39M581 822l26 22M700 778l12 27M612 825l11 42M797 744l11 11" stroke="#a81408" stroke-width="1.1" fill="none"/><path d="M607 776l3 12M596 781l9 31M722 841l23 21M561 759l24 19M665 800l17 12M647 775l5 19M758 737l9 9M615 822l11 28M556 814l11 19M683 833l10 9M668 762l17 16M656 750l21 19M825 736l11 26M760 837l6 20M727 849l9 11M622 759l6 12M625 797l9 21M563 740l10 12M545 792l14 12M698 844l29 19M671 753l10 18M553 806l13 8M796 784l10 14M614 830l11 11M695 810l11 11M788 755l7 21M728 821l25 17M567 815l6 14M755 837l13 23M544 824l25 14M720 781l13 29M683 740l14 10M748 775l20 11M816 811l10 25M740 827l11 17M776 772l19 25M621 752l7 13M634 776l6 21M541 841l20 18M773 817l17 29M578 826l10 23M677 759l15 25M821 744l14 9M699 818l10 12M779 745l3 12M586 784l11 19M721 782l10 14M553 796l11 6M552 825l17 15M697 742l12 7M705 817l6 11M598 745l8 19M635 848l19 14M566 773l15 28M668 836l12 21M666 837l8 22M608 755l6 23M703 767l8 31M600 839l7 13M645 747l5 18M557 791l24 17M636 741l15 9M611 781l15 20M678 772l19 18M555 806l17 15M542 818l14 19M617 776l14 29M829 818l21 15M737 783l14 10M778 741l11 13M565 778l15 12M595 777l7 11M770 750l23 16M739 804l7 12M736 750l20 16M814 805l7 12M639 838l15 17M639 784l11 7M788 804l18 23M774 803l14 18M809 747l19 29M562 760l18 29M738 739l11 29M761 753l15 18M801 850l7 24M559 816l16 20M575 824l15 30M604 847l8 26M613 825l25 21M557 745l17 18M604 764l22 13M764 838l26 16M793 844l21 22M770 742l13 32M641 768l7 13M674 801l8 14M546 779l13 29M788 825l13 18M647 758l17 15M659 848l16 24M586 825l20 14M584 808l13 27M778 833l23 22M642 811l6 13M813 824l12 7M813 835l8 16M663 769l21 22M704 775l25 14M810 799l12 31M675 795l15 18M747 773l30 17M793 824l23 14M575 807l8 17M803 749l20 22M703 849l10 24M740 768l19 14M737 798l8 9M726 767l21 19M722 787l24 22M681 782l27 19M562 768l7 21M603 790l10 19M651 797l9 9M776 808l19 13M644 796l7 10M548 791l21 14M764 805l10 22M633 768l11 10M761 817l23 24M792 826l15 12M603 840l10 11M546 805l20 20M756 808l12 11M741 848l6 11M554 821l25 15M646 760l5 16M688 813l19 19M655 804l11 27M675 812l4 13M571 820l24 21M726 827l13 21M686 831l12 7M722 759l19 24M758 746l4 14M745 752l15 28M582 750l6 13M601 788l5 13M634 810l18 17M783 815l6 16M801 809l11 9" stroke="#e02810" stroke-width="1" fill="none"/></g><path d="M546 758 Q554 820 571 872" stroke="#d81808" stroke-width="1.5" fill="none"/><path d="M547 758 Q555 820 573 872" stroke="#d81808" stroke-width="1.5" fill="none"/><path d="M548 758 Q557 820 574 871" stroke="#d81808" stroke-width="1.5" fill="none"/><path d="M549 758 Q558 820 576 871" stroke="#e02a0a" stroke-width="1.5" fill="none"/><path d="M550 759 Q559 820 578 870" stroke="#e02a0a" stroke-width="1.5" fill="none"/><path d="M550 759 Q560 820 579 870" stroke="#e02a0a" stroke-width="1.5" fill="none"/><path d="M551 759 Q562 820 581 870" stroke="#e84010" stroke-width="1.5" fill="none"/><path d="M552 759 Q563 820 583 869" stroke="#e84010" stroke-width="1.5" fill="none"/><path d="M553 759 Q564 820 584 869" stroke="#e84010" stroke-width="1.5" fill="none"/><path d="M554 759 Q566 820 586 868" stroke="#f06a10" stroke-width="1.5" fill="none"/><path d="M555 760 Q567 820 588 868" stroke="#f06a10" stroke-width="1.5" fill="none"/><path d="M556 760 Q568 820 589 868" stroke="#f06a10" stroke-width="1.5" fill="none"/><path d="M557 760 Q569 820 591 867" stroke="#f0a010" stroke-width="1.5" fill="none"/><path d="M557 760 Q571 820 593 867" stroke="#f0a010" stroke-width="1.5" fill="none"/><path d="M558 760 Q572 820 595 866" stroke="#e8d020" stroke-width="1.5" fill="none"/><path d="M559 760 Q573 820 596 866" stroke="#e8d020" stroke-width="1.5" fill="none"/><path d="M560 761 Q574 820 598 866" stroke="#e8d020" stroke-width="1.5" fill="none"/><path d="M561 761 Q576 820 600 865" stroke="#a8d820" stroke-width="1.5" fill="none"/><path d="M562 761 Q577 820 601 865" stroke="#a8d820" stroke-width="1.5" fill="none"/><path d="M563 761 Q578 820 603 864" stroke="#a8d820" stroke-width="1.5" fill="none"/><path d="M564 761 Q580 820 605 864" stroke="#50c830" stroke-width="1.5" fill="none"/><path d="M564 761 Q581 820 606 864" stroke="#50c830" stroke-width="1.5" fill="none"/><path d="M565 762 Q582 820 608 863" stroke="#50c830" stroke-width="1.5" fill="none"/><path d="M566 762 Q583 820 610 863" stroke="#20b870" stroke-width="1.5" fill="none"/><path d="M567 762 Q585 820 611 862" stroke="#20b870" stroke-width="1.5" fill="none"/><path d="M568 762 Q586 820 613 862" stroke="#20b870" stroke-width="1.5" fill="none"/><defs><clipPath id="cet"><rect x="1061.5" y="14.3" width="229.1" height="187.1"/></clipPath></defs><g clip-path="url(#cet)"><rect x="1061.5" y="14.3" width="229.1" height="187.1" fill="#0a26e8"/><g filter="url(#bl4)"><ellipse cx="1073.5" cy="138" rx="11" ry="9" fill="#2e74f4" opacity="0.85"/><ellipse cx="1081.5" cy="200" rx="9" ry="6" fill="#20a0ff" opacity="0.8"/><ellipse cx="1097.5" cy="138" rx="11" ry="9" fill="#2e74f4" opacity="0.85"/><ellipse cx="1105.5" cy="200" rx="9" ry="6" fill="#20a0ff" opacity="0.8"/><ellipse cx="1121.5" cy="138" rx="11" ry="9" fill="#2e74f4" opacity="0.85"/><ellipse cx="1129.5" cy="200" rx="9" ry="6" fill="#20a0ff" opacity="0.8"/><ellipse cx="1145.5" cy="138" rx="11" ry="9" fill="#2e74f4" opacity="0.85"/><ellipse cx="1153.5" cy="200" rx="9" ry="6" fill="#20a0ff" opacity="0.8"/><ellipse cx="1169.5" cy="138" rx="11" ry="9" fill="#2e74f4" opacity="0.85"/><ellipse cx="1177.5" cy="200" rx="9" ry="6" fill="#20a0ff" opacity="0.8"/><ellipse cx="1193.5" cy="138" rx="11" ry="9" fill="#2e74f4" opacity="0.85"/><ellipse cx="1201.5" cy="200" rx="9" ry="6" fill="#20a0ff" opacity="0.8"/><ellipse cx="1217.5" cy="138" rx="11" ry="9" fill="#2e74f4" opacity="0.85"/><ellipse cx="1225.5" cy="200" rx="9" ry="6" fill="#20a0ff" opacity="0.8"/><ellipse cx="1241.5" cy="138" rx="11" ry="9" fill="#2e74f4" opacity="0.85"/><ellipse cx="1249.5" cy="200" rx="9" ry="6" fill="#20a0ff" opacity="0.8"/><ellipse cx="1265.5" cy="138" rx="11" ry="9" fill="#2e74f4" opacity="0.85"/><ellipse cx="1273.5" cy="200" rx="9" ry="6" fill="#20a0ff" opacity="0.8"/><ellipse cx="1289.5" cy="138" rx="11" ry="9" fill="#2e74f4" opacity="0.85"/><ellipse cx="1297.5" cy="200" rx="9" ry="6" fill="#20a0ff" opacity="0.8"/></g><rect x="1061.5" y="131.5" width="229.1" height="4" fill="#30d0a0"/><rect x="1061.5" y="131" width="229.1" height="2" fill="#c8e020"/><rect x="1061.5" y="14.3" width="229.1" height="117.7" fill="#ff1a00"/><ellipse cx="1075.5" cy="203" rx="9" ry="4" fill="#30d070"/><ellipse cx="1101.5" cy="203" rx="9" ry="4" fill="#30d070"/><ellipse cx="1127.5" cy="203" rx="9" ry="4" fill="#30d070"/><ellipse cx="1153.5" cy="203" rx="9" ry="4" fill="#30d070"/><ellipse cx="1179.5" cy="203" rx="9" ry="4" fill="#30d070"/><ellipse cx="1205.5" cy="203" rx="9" ry="4" fill="#30d070"/><ellipse cx="1231.5" cy="203" rx="9" ry="4" fill="#30d070"/><ellipse cx="1257.5" cy="203" rx="9" ry="4" fill="#30d070"/><ellipse cx="1283.5" cy="203" rx="9" ry="4" fill="#30d070"/><path d="M1061.0 148.0 1070.0 135.0" fill="none" stroke="#fff" stroke-width="2.4" stroke-linejoin="round" stroke-linecap="round"/><path d="M1091.0 134.0 1084.0 160.0 1079.0 168.0 1083.0 178.0 1092.0 186.0 1098.0 201.0" fill="none" stroke="#fff" stroke-width="2.4" stroke-linejoin="round" stroke-linecap="round"/><path d="M1085.0 184.0 1076.0 201.0" fill="none" stroke="#fff" stroke-width="2.4" stroke-linejoin="round" stroke-linecap="round"/><path d="M1106.0 134.0 1109.0 150.0 1108.0 175.0 1107.0 201.0" fill="none" stroke="#fff" stroke-width="2.4" stroke-linejoin="round" stroke-linecap="round"/><path d="M1103.0 149.0 1118.0 158.0 1127.0 157.0 1131.0 150.0" fill="none" stroke="#fff" stroke-width="2.4" stroke-linejoin="round" stroke-linecap="round"/><path d="M1127.0 157.0 1123.0 175.0 1126.0 190.0 1124.0 201.0" fill="none" stroke="#fff" stroke-width="2.4" stroke-linejoin="round" stroke-linecap="round"/><path d="M1133.0 134.0 1131.0 150.0 1144.0 160.0 1152.0 168.0 1160.0 160.0" fill="none" stroke="#fff" stroke-width="2.4" stroke-linejoin="round" stroke-linecap="round"/><path d="M1152.0 168.0 1153.0 185.0 1156.0 201.0" fill="none" stroke="#fff" stroke-width="2.4" stroke-linejoin="round" stroke-linecap="round"/><path d="M1158.0 134.0 1163.0 152.0 1172.0 165.0 1183.0 178.0 1190.0 184.0" fill="none" stroke="#fff" stroke-width="2.4" stroke-linejoin="round" stroke-linecap="round"/><path d="M1180.0 134.0 1181.0 160.0 1190.0 172.0" fill="none" stroke="#fff" stroke-width="2.4" stroke-linejoin="round" stroke-linecap="round"/><path d="M1209.0 134.0 1203.0 155.0 1196.0 168.0 1190.0 178.0 1186.0 184.0 1178.0 190.0" fill="none" stroke="#fff" stroke-width="2.4" stroke-linejoin="round" stroke-linecap="round"/><path d="M1190.0 184.0 1210.0 182.0 1222.0 176.0 1234.0 164.0 1240.0 157.0" fill="none" stroke="#fff" stroke-width="2.4" stroke-linejoin="round" stroke-linecap="round"/><path d="M1232.0 134.0 1229.0 160.0 1230.0 178.0 1222.0 201.0" fill="none" stroke="#fff" stroke-width="2.4" stroke-linejoin="round" stroke-linecap="round"/><path d="M1254.0 134.0 1252.0 150.0 1262.0 168.0 1268.0 185.0 1270.0 201.0" fill="none" stroke="#fff" stroke-width="2.4" stroke-linejoin="round" stroke-linecap="round"/><path d="M1278.0 134.0 1281.0 155.0 1288.0 180.0 1290.0 190.0" fill="none" stroke="#fff" stroke-width="2.4" stroke-linejoin="round" stroke-linecap="round"/><path d="M1252.0 168.0 1244.0 182.0 1240.0 201.0" fill="none" stroke="#fff" stroke-width="2.4" stroke-linejoin="round" stroke-linecap="round"/><path d="M1200.0 190.0 1205.0 201.0" fill="none" stroke="#fff" stroke-width="2.4" stroke-linejoin="round" stroke-linecap="round"/><path d="M1175.0 190.0 1180.0 201.0" fill="none" stroke="#fff" stroke-width="2.4" stroke-linejoin="round" stroke-linecap="round"/><path d="M1140.0 185.0 1138.0 201.0" fill="none" stroke="#fff" stroke-width="2.4" stroke-linejoin="round" stroke-linecap="round"/><polygon points="1122,184 1131,182 1133,201 1121,201" fill="#fff"/><polygon points="1148,172 1158,170 1160,201 1150,201" fill="#fff"/><polygon points="1184,176 1192,172 1196,186 1188,190" fill="#fff"/></g><defs><clipPath id="ceb"><rect x="1060.7" y="229" width="232.3" height="232.0"/></clipPath><radialGradient id="eg70" cx="0.5" cy="0.5" r="0.5"><stop offset="0" stop-color="#96f000"/><stop offset="0.35" stop-color="#45ea00"/><stop offset="0.75" stop-color="#0ae600"/><stop offset="1.0" stop-color="#00e660"/></radialGradient><radialGradient id="eg80" cx="0.5" cy="0.5" r="0.5"><stop offset="0" stop-color="#ffe900"/><stop offset="0.35" stop-color="#96f000"/><stop offset="0.75" stop-color="#0ae600"/><stop offset="1.0" stop-color="#00e660"/></radialGradient><radialGradient id="eg93" cx="0.5" cy="0.5" r="0.5"><stop offset="0" stop-color="#ff5a00"/><stop offset="0.35" stop-color="#ffc900"/><stop offset="0.75" stop-color="#0ae600"/><stop offset="1.0" stop-color="#00e660"/></radialGradient></defs><g clip-path="url(#ceb)"><rect x="1060.7" y="229" width="232.3" height="232.0" fill="#1040e8"/><polygon points="1120,390 1111,401 1089,398 1084,385 1095,370 1118,380" fill="#18d8f0" stroke="#1848f0" stroke-width="2.6"/><polygon points="1208,358 1196,353 1193,331 1212,325 1221,332" fill="#18d8f0" stroke="#1848f0" stroke-width="2.6"/><polygon points="1114,422 1111,401 1120,390 1142,397 1145,412 1124,429 1121,428" fill="#18d8f0" stroke="#1848f0" stroke-width="2.6"/><polygon points="1253,372 1240,378 1228,364 1239,346 1253,347 1255,349" fill="#18d8f0" stroke="#1848f0" stroke-width="2.6"/><polygon points="1170,306 1160,307 1147,296 1151,280 1169,275 1177,283" fill="#18d8f0" stroke="#1848f0" stroke-width="2.6"/><polygon points="1061,333 1061,310 1081,308 1092,322 1086,332" fill="#18d8f0" stroke="#1848f0" stroke-width="2.6"/><polygon points="1183,229 1215,229 1214,245 1194,256 1184,251" fill="#18d8f0" stroke="#1848f0" stroke-width="2.6"/><polygon points="1241,309 1222,300 1224,284 1239,279 1254,288" fill="#18d8f0" stroke="#1848f0" stroke-width="2.6"/><polygon points="1112,229 1131,229 1129,263 1127,264 1106,256 1106,256" fill="#18d8f0" stroke="#1848f0" stroke-width="2.6"/><polygon points="1293,384 1293,414 1286,415 1267,408 1263,402 1272,382" fill="#18d8f0" stroke="#1848f0" stroke-width="2.6"/><polygon points="1240,378 1253,372 1270,379 1272,382 1263,402 1244,400 1236,391" fill="#18d8f0" stroke="#1848f0" stroke-width="2.6"/><polygon points="1081,308 1061,310 1061,283 1088,288" fill="#18d8f0" stroke="#1848f0" stroke-width="2.6"/><polygon points="1152,229 1183,229 1184,251 1171,258 1156,250" fill="#18d8f0" stroke="#1848f0" stroke-width="2.6"/><polygon points="1293,295 1293,320 1274,323 1268,320 1271,296" fill="#18d8f0" stroke="#1848f0" stroke-width="2.6"/><polygon points="1089,398 1111,401 1114,422 1089,426 1081,412" fill="#18d8f0" stroke="#1848f0" stroke-width="2.6"/><polygon points="1100,461 1061,461 1061,442 1086,437" fill="#18d8f0" stroke="#1848f0" stroke-width="2.6"/><polygon points="1139,359 1151,333 1167,339 1174,360 1150,368" fill="#18d8f0" stroke="#1848f0" stroke-width="2.6"/><polygon points="1116,346 1118,326 1129,322 1150,331 1151,333 1139,359 1131,360" fill="#18d8f0" stroke="#1848f0" stroke-width="2.6"/><polygon points="1083,229 1112,229 1106,256 1085,244" fill="#18d8f0" stroke="#1848f0" stroke-width="2.6"/><polygon points="1293,265 1293,295 1271,296 1261,287 1265,278 1291,265" fill="#18d8f0" stroke="#1848f0" stroke-width="2.6"/><polygon points="1241,256 1239,279 1224,284 1215,275 1223,255" fill="#18d8f0" stroke="#1848f0" stroke-width="2.6"/><polygon points="1293,414 1293,445 1272,439 1286,415" fill="#18d8f0" stroke="#1848f0" stroke-width="2.6"/><polygon points="1212,409 1217,395 1236,391 1244,400 1237,426 1228,426" fill="#18d8f0" stroke="#1848f0" stroke-width="2.6"/><polygon points="1217,395 1212,409 1199,413 1179,396 1179,393 1183,387 1206,381" fill="#18d8f0" stroke="#1848f0" stroke-width="2.6"/><polygon points="1118,326 1116,346 1092,355 1086,332 1092,322 1105,319" fill="#18d8f0" stroke="#1848f0" stroke-width="2.6"/><polygon points="1256,256 1265,278 1261,287 1254,288 1239,279 1241,256 1245,254" fill="#18d8f0" stroke="#1848f0" stroke-width="2.6"/><polygon points="1267,408 1286,415 1272,439 1270,439 1257,430" fill="#18d8f0" stroke="#1848f0" stroke-width="2.6"/><polygon points="1147,296 1160,307 1150,331 1129,322 1134,299" fill="#18d8f0" stroke="#1848f0" stroke-width="2.6"/><polygon points="1184,326 1167,339 1151,333 1150,331 1160,307 1170,306 1181,314" fill="#18d8f0" stroke="#1848f0" stroke-width="2.6"/><polygon points="1293,320 1293,352 1278,351 1278,351 1274,323" fill="#18d8f0" stroke="#1848f0" stroke-width="2.6"/><polygon points="1061,229 1083,229 1085,244 1072,259 1061,260" fill="#18d8f0" stroke="#1848f0" stroke-width="2.6"/><polygon points="1242,461 1220,461 1216,441 1228,426 1237,426 1245,432" fill="#18d8f0" stroke="#1848f0" stroke-width="2.6"/><polygon points="1193,331 1196,353 1176,361 1174,360 1167,339 1184,326" fill="#18d8f0" stroke="#1848f0" stroke-width="2.6"/><polygon points="1164,422 1179,396 1199,413 1192,431" fill="#18d8f0" stroke="#1848f0" stroke-width="2.6"/><polygon points="1118,380 1095,370 1092,355 1092,355 1116,346 1131,360" fill="#18d8f0" stroke="#1848f0" stroke-width="2.6"/><polygon points="1176,361 1196,353 1208,358 1211,363 1206,381 1183,387" fill="#18d8f0" stroke="#1848f0" stroke-width="2.6"/><polygon points="1106,256 1127,264 1119,289 1109,292 1093,285 1092,274" fill="#18d8f0" stroke="#1848f0" stroke-width="2.6"/><polygon points="1124,429 1145,412 1163,423 1160,436 1142,449" fill="#18d8f0" stroke="#1848f0" stroke-width="2.6"/><polygon points="1142,397 1120,390 1118,380 1131,360 1139,359 1150,368 1151,387" fill="#18d8f0" stroke="#1848f0" stroke-width="2.6"/><polygon points="1131,229 1152,229 1156,250 1137,264 1129,263" fill="#18d8f0" stroke="#1848f0" stroke-width="2.6"/><polygon points="1061,442 1061,412 1081,412 1089,426 1086,437" fill="#18d8f0" stroke="#1848f0" stroke-width="2.6"/><polygon points="1221,332 1212,325 1212,306 1222,300 1241,309 1243,315 1229,333" fill="#18d8f0" stroke="#1848f0" stroke-width="2.6"/><polygon points="1228,364 1240,378 1236,391 1217,395 1206,381 1211,363" fill="#18d8f0" stroke="#1848f0" stroke-width="2.6"/><polygon points="1265,461 1242,461 1245,432 1257,430 1270,439" fill="#18d8f0" stroke="#1848f0" stroke-width="2.6"/><polygon points="1182,461 1141,461 1142,449 1160,436 1182,460" fill="#18d8f0" stroke="#1848f0" stroke-width="2.6"/><polygon points="1293,352 1293,384 1272,382 1270,379 1278,351" fill="#18d8f0" stroke="#1848f0" stroke-width="2.6"/><polygon points="1255,349 1253,347 1260,322 1268,320 1274,323 1278,351" fill="#18d8f0" stroke="#1848f0" stroke-width="2.6"/><polygon points="1151,280 1147,296 1134,299 1119,289 1127,264 1129,263 1137,264" fill="#18d8f0" stroke="#1848f0" stroke-width="2.6"/><polygon points="1291,265 1265,278 1256,256 1270,249" fill="#18d8f0" stroke="#1848f0" stroke-width="2.6"/><polygon points="1061,412 1061,382 1084,385 1089,398 1081,412" fill="#18d8f0" stroke="#1848f0" stroke-width="2.6"/><polygon points="1253,347 1239,346 1229,333 1243,315 1260,322" fill="#18d8f0" stroke="#1848f0" stroke-width="2.6"/><polygon points="1244,229 1273,229 1270,249 1256,256 1245,254" fill="#18d8f0" stroke="#1848f0" stroke-width="2.6"/><polygon points="1134,299 1129,322 1118,326 1105,319 1109,292 1119,289" fill="#18d8f0" stroke="#1848f0" stroke-width="2.6"/><polygon points="1169,275 1151,280 1137,264 1156,250 1171,258" fill="#18d8f0" stroke="#1848f0" stroke-width="2.6"/><polygon points="1105,319 1092,322 1081,308 1088,288 1093,285 1109,292" fill="#18d8f0" stroke="#1848f0" stroke-width="2.6"/><polygon points="1293,445 1293,461 1265,461 1270,439 1272,439" fill="#18d8f0" stroke="#1848f0" stroke-width="2.6"/><polygon points="1239,346 1228,364 1211,363 1208,358 1221,332 1229,333" fill="#18d8f0" stroke="#1848f0" stroke-width="2.6"/><polygon points="1141,461 1102,461 1121,428 1124,429 1142,449" fill="#18d8f0" stroke="#1848f0" stroke-width="2.6"/><polygon points="1145,412 1142,397 1151,387 1179,393 1179,396 1164,422 1163,423" fill="#18d8f0" stroke="#1848f0" stroke-width="2.6"/><polygon points="1088,288 1061,283 1061,260 1072,259 1092,274 1093,285" fill="#18d8f0" stroke="#1848f0" stroke-width="2.6"/><polygon points="1237,426 1244,400 1263,402 1267,408 1257,430 1245,432" fill="#18d8f0" stroke="#1848f0" stroke-width="2.6"/><polygon points="1270,379 1253,372 1255,349 1278,351 1278,351" fill="#18d8f0" stroke="#1848f0" stroke-width="2.6"/><polygon points="1151,387 1150,368 1174,360 1176,361 1183,387 1179,393" fill="#18d8f0" stroke="#1848f0" stroke-width="2.6"/><polygon points="1243,315 1241,309 1254,288 1261,287 1271,296 1268,320 1260,322" fill="#18d8f0" stroke="#1848f0" stroke-width="2.6"/><polygon points="1181,314 1170,306 1177,283 1193,283 1199,301" fill="#18d8f0" stroke="#1848f0" stroke-width="2.6"/><polygon points="1215,229 1244,229 1245,254 1241,256 1223,255 1214,245" fill="#18d8f0" stroke="#1848f0" stroke-width="2.6"/><polygon points="1220,461 1182,461 1182,460 1194,435 1216,441" fill="#18d8f0" stroke="#1848f0" stroke-width="2.6"/><polygon points="1095,370 1084,385 1061,382 1061,358 1092,355" fill="#18d8f0" stroke="#1848f0" stroke-width="2.6"/><polygon points="1192,431 1199,413 1212,409 1228,426 1216,441 1194,435" fill="#18d8f0" stroke="#1848f0" stroke-width="2.6"/><polygon points="1215,275 1224,284 1222,300 1212,306 1199,301 1193,283 1199,275" fill="#18d8f0" stroke="#1848f0" stroke-width="2.6"/><polygon points="1182,460 1160,436 1163,423 1164,422 1192,431 1194,435" fill="#18d8f0" stroke="#1848f0" stroke-width="2.6"/><polygon points="1273,229 1293,229 1293,265 1291,265 1270,249" fill="#18d8f0" stroke="#1848f0" stroke-width="2.6"/><polygon points="1106,256 1106,256 1092,274 1072,259 1085,244" fill="#18d8f0" stroke="#1848f0" stroke-width="2.6"/><polygon points="1061,358 1061,333 1086,332 1092,355 1092,355" fill="#18d8f0" stroke="#1848f0" stroke-width="2.6"/><polygon points="1102,461 1100,461 1086,437 1089,426 1114,422 1121,428" fill="#18d8f0" stroke="#1848f0" stroke-width="2.6"/><polygon points="1194,256 1214,245 1223,255 1215,275 1199,275" fill="#18d8f0" stroke="#1848f0" stroke-width="2.6"/><polygon points="1212,325 1193,331 1184,326 1181,314 1199,301 1212,306" fill="#18d8f0" stroke="#1848f0" stroke-width="2.6"/><polygon points="1184,251 1194,256 1199,275 1193,283 1177,283 1169,275 1171,258" fill="#18d8f0" stroke="#1848f0" stroke-width="2.6"/><g filter="url(#bl15)"><polygon points="1116,389 1109,398 1092,395 1088,385 1097,374 1114,381" fill="url(#eg80)"/><polygon points="1207,354 1198,350 1196,333 1211,328 1217,334" fill="url(#eg80)"/><polygon points="1117,419 1115,403 1122,395 1138,400 1140,411 1125,424 1122,424" fill="url(#eg80)"/><polygon points="1251,369 1240,374 1231,363 1240,349 1250,350 1252,352" fill="url(#eg70)"/><polygon points="1168,302 1161,303 1151,295 1154,283 1167,279 1174,285" fill="url(#eg70)"/><polygon points="1064,330 1064,312 1079,311 1088,321 1083,330" fill="url(#eg93)"/><polygon points="1186,232 1211,232 1210,244 1195,252 1187,248" fill="url(#eg70)"/><polygon points="1240,305 1225,298 1227,286 1239,282 1250,290" fill="url(#eg70)"/><polygon points="1114,233 1129,233 1127,259 1125,259 1109,254 1109,253" fill="url(#eg70)"/><polygon points="1290,388 1290,410 1285,411 1270,405 1267,401 1274,386" fill="url(#eg70)"/><polygon points="1243,380 1253,376 1266,381 1267,383 1261,398 1247,397 1240,390" fill="url(#eg93)"/><polygon points="1079,305 1063,306 1063,287 1084,290" fill="url(#eg80)"/><polygon points="1156,232 1179,232 1180,248 1170,254 1159,248" fill="url(#eg93)"/><polygon points="1290,298 1290,318 1275,320 1271,317 1273,299" fill="url(#eg70)"/><polygon points="1092,401 1108,404 1110,420 1091,423 1085,412" fill="url(#eg80)"/><polygon points="1095,459 1065,459 1065,444 1084,440" fill="url(#eg70)"/><polygon points="1143,357 1152,338 1165,342 1170,358 1152,364" fill="url(#eg80)"/><polygon points="1120,345 1122,330 1130,326 1145,333 1146,335 1137,354 1131,355" fill="url(#eg70)"/><polygon points="1087,231 1108,231 1104,252 1088,243" fill="url(#eg80)"/><polygon points="1290,269 1290,292 1273,293 1266,286 1268,279 1288,269" fill="url(#eg93)"/><polygon points="1238,259 1237,277 1225,281 1218,274 1225,259" fill="url(#eg80)"/><polygon points="1291,418 1291,442 1275,437 1286,419" fill="url(#eg80)"/><polygon points="1216,408 1220,398 1234,395 1241,402 1235,421 1228,422" fill="url(#eg70)"/><polygon points="1213,396 1209,406 1199,409 1184,396 1184,394 1187,389 1204,385" fill="url(#eg80)"/><polygon points="1115,329 1113,344 1095,350 1090,333 1094,325 1104,323" fill="url(#eg80)"/><polygon points="1255,260 1261,277 1259,283 1253,284 1242,277 1243,260 1246,258" fill="url(#eg80)"/><polygon points="1268,411 1283,417 1272,435 1270,435 1260,429" fill="url(#eg70)"/><polygon points="1146,300 1156,308 1148,327 1132,320 1136,303" fill="url(#eg93)"/><polygon points="1180,325 1167,335 1154,331 1154,329 1162,311 1169,310 1178,316" fill="url(#eg70)"/><polygon points="1291,324 1291,348 1280,348 1280,347 1276,326" fill="url(#eg80)"/><polygon points="1063,232 1080,232 1082,244 1071,255 1063,256" fill="url(#eg70)"/><polygon points="1240,457 1223,457 1220,442 1229,431 1235,430 1242,435" fill="url(#eg70)"/><polygon points="1190,334 1193,351 1178,357 1176,356 1171,340 1183,330" fill="url(#eg80)"/><polygon points="1169,420 1180,400 1195,413 1190,427" fill="url(#eg70)"/><polygon points="1116,376 1099,368 1097,357 1097,357 1115,350 1126,360" fill="url(#eg80)"/><polygon points="1180,363 1195,357 1204,361 1207,365 1203,378 1185,382" fill="url(#eg70)"/><polygon points="1107,261 1123,266 1117,286 1109,288 1097,282 1096,274" fill="url(#eg93)"/><polygon points="1129,429 1145,417 1158,424 1156,435 1142,445" fill="url(#eg70)"/><polygon points="1141,392 1124,387 1122,379 1132,364 1138,363 1147,370 1148,385" fill="url(#eg70)"/><polygon points="1134,233 1150,233 1152,249 1138,259 1132,259" fill="url(#eg80)"/><polygon points="1064,438 1064,415 1079,416 1085,426 1083,434" fill="url(#eg80)"/><polygon points="1222,328 1215,323 1215,309 1223,304 1237,311 1239,315 1228,329" fill="url(#eg70)"/><polygon points="1226,367 1235,378 1233,388 1218,391 1210,380 1214,367" fill="url(#eg93)"/><polygon points="1262,458 1245,458 1248,435 1257,434 1266,441" fill="url(#eg93)"/><polygon points="1177,459 1145,459 1146,450 1160,440 1176,458" fill="url(#eg93)"/><polygon points="1291,356 1291,381 1274,379 1273,377 1280,355" fill="url(#eg70)"/><polygon points="1257,346 1256,345 1261,326 1267,324 1272,326 1275,348" fill="url(#eg70)"/><polygon points="1148,281 1144,292 1134,295 1123,287 1129,268 1131,268 1137,268" fill="url(#eg80)"/><polygon points="1286,264 1266,275 1259,258 1270,253" fill="url(#eg70)"/><polygon points="1064,409 1064,385 1082,388 1086,398 1079,409" fill="url(#eg93)"/><polygon points="1251,343 1240,342 1233,332 1244,319 1256,325" fill="url(#eg70)"/><polygon points="1247,232 1269,232 1267,247 1256,253 1248,251" fill="url(#eg80)"/><polygon points="1130,301 1126,319 1119,322 1108,316 1111,296 1119,294" fill="url(#eg80)"/><polygon points="1166,273 1153,277 1142,264 1156,254 1167,260" fill="url(#eg80)"/><polygon points="1103,315 1093,317 1085,307 1090,292 1093,289 1105,295" fill="url(#eg80)"/><polygon points="1290,447 1290,459 1268,459 1272,442 1274,442" fill="url(#eg80)"/><polygon points="1235,347 1227,360 1214,360 1211,356 1221,336 1227,337" fill="url(#eg93)"/><polygon points="1136,458 1107,458 1122,433 1124,434 1137,449" fill="url(#eg80)"/><polygon points="1148,410 1146,398 1153,391 1174,395 1175,397 1163,417 1162,418" fill="url(#eg80)"/><polygon points="1085,285 1064,281 1064,264 1072,263 1088,274 1088,282" fill="url(#eg70)"/><polygon points="1240,423 1246,404 1261,405 1263,410 1256,427 1247,428" fill="url(#eg70)"/><polygon points="1268,375 1256,370 1257,352 1275,354 1275,354" fill="url(#eg70)"/><polygon points="1155,385 1154,370 1173,364 1174,365 1179,384 1176,389" fill="url(#eg80)"/><polygon points="1246,313 1245,308 1255,292 1260,291 1267,298 1265,317 1259,318" fill="url(#eg80)"/><polygon points="1182,310 1173,304 1179,287 1191,286 1195,300" fill="url(#eg80)"/><polygon points="1218,232 1240,232 1241,251 1238,253 1225,252 1218,244" fill="url(#eg80)"/><polygon points="1216,458 1187,458 1187,457 1196,439 1213,443" fill="url(#eg70)"/><polygon points="1091,370 1082,381 1065,379 1065,361 1089,359" fill="url(#eg70)"/><polygon points="1196,429 1201,416 1211,413 1223,426 1215,437 1197,433" fill="url(#eg93)"/><polygon points="1213,279 1220,286 1219,297 1211,302 1201,298 1197,284 1201,279" fill="url(#eg80)"/><polygon points="1181,454 1164,437 1166,426 1167,426 1188,432 1190,436" fill="url(#eg80)"/><polygon points="1275,233 1291,233 1291,260 1289,260 1273,248" fill="url(#eg70)"/><polygon points="1102,257 1102,257 1092,270 1076,259 1086,247" fill="url(#eg70)"/><polygon points="1064,355 1064,336 1083,335 1088,353 1088,353" fill="url(#eg70)"/><polygon points="1102,455 1101,455 1090,437 1092,429 1111,426 1116,431" fill="url(#eg70)"/><polygon points="1197,257 1213,249 1220,257 1213,272 1201,272" fill="url(#eg70)"/><polygon points="1209,323 1194,328 1187,324 1185,315 1199,305 1209,309" fill="url(#eg70)"/><polygon points="1184,255 1191,259 1195,273 1191,279 1179,280 1172,274 1174,260" fill="url(#eg70)"/></g><g filter="url(#bl2)"><ellipse cx="1102" cy="232" rx="14" ry="21" fill="#f0e020"/><ellipse cx="1102" cy="232" rx="9" ry="16" fill="#ff1a00"/><ellipse cx="1137" cy="232" rx="16" ry="23" fill="#f0e020"/><ellipse cx="1137" cy="232" rx="11" ry="18" fill="#ff1a00"/><ellipse cx="1237" cy="232" rx="12" ry="27" fill="#f0e020"/><ellipse cx="1237" cy="232" rx="7" ry="22" fill="#ff1a00"/><ellipse cx="1285" cy="232" rx="13" ry="11" fill="#f0e020"/><ellipse cx="1285" cy="232" rx="8" ry="6" fill="#ff1a00"/><ellipse cx="1090" cy="461" rx="15" ry="17" fill="#f0e020"/><ellipse cx="1090" cy="461" rx="10" ry="12" fill="#ff1a00"/><ellipse cx="1137" cy="461" rx="13" ry="13" fill="#f0e020"/><ellipse cx="1137" cy="461" rx="8" ry="8" fill="#ff1a00"/><ellipse cx="1170" cy="461" rx="13" ry="13" fill="#f0e020"/><ellipse cx="1170" cy="461" rx="8" ry="8" fill="#ff1a00"/><ellipse cx="1062" cy="452" rx="9" ry="15" fill="#f0e020"/><ellipse cx="1062" cy="452" rx="4" ry="10" fill="#ff1a00"/><path d="M1262 461 L1265 440 L1275 425 L1293 420 L1293 461 Z" fill="#f0e020" transform="translate(-4,-4)"/><path d="M1266 461 L1268 442 L1277 428 L1293 424 L1293 461 Z" fill="#ff1a00"/></g><polygon points="1120,390 1111,401 1089,398 1084,385 1095,370 1118,380" fill="none" stroke="#fff" stroke-width="1.4"/><polygon points="1208,358 1196,353 1193,331 1212,325 1221,332" fill="none" stroke="#fff" stroke-width="1.4"/><polygon points="1114,422 1111,401 1120,390 1142,397 1145,412 1124,429 1121,428" fill="none" stroke="#fff" stroke-width="1.4"/><polygon points="1253,372 1240,378 1228,364 1239,346 1253,347 1255,349" fill="none" stroke="#fff" stroke-width="1.4"/><polygon points="1170,306 1160,307 1147,296 1151,280 1169,275 1177,283" fill="none" stroke="#fff" stroke-width="1.4"/><polygon points="1061,333 1061,310 1081,308 1092,322 1086,332" fill="none" stroke="#fff" stroke-width="1.4"/><polygon points="1183,229 1215,229 1214,245 1194,256 1184,251" fill="none" stroke="#fff" stroke-width="1.4"/><polygon points="1241,309 1222,300 1224,284 1239,279 1254,288" fill="none" stroke="#fff" stroke-width="1.4"/><polygon points="1112,229 1131,229 1129,263 1127,264 1106,256 1106,256" fill="none" stroke="#fff" stroke-width="1.4"/><polygon points="1293,384 1293,414 1286,415 1267,408 1263,402 1272,382" fill="none" stroke="#fff" stroke-width="1.4"/><polygon points="1240,378 1253,372 1270,379 1272,382 1263,402 1244,400 1236,391" fill="none" stroke="#fff" stroke-width="1.4"/><polygon points="1081,308 1061,310 1061,283 1088,288" fill="none" stroke="#fff" stroke-width="1.4"/><polygon points="1152,229 1183,229 1184,251 1171,258 1156,250" fill="none" stroke="#fff" stroke-width="1.4"/><polygon points="1293,295 1293,320 1274,323 1268,320 1271,296" fill="none" stroke="#fff" stroke-width="1.4"/><polygon points="1089,398 1111,401 1114,422 1089,426 1081,412" fill="none" stroke="#fff" stroke-width="1.4"/><polygon points="1100,461 1061,461 1061,442 1086,437" fill="none" stroke="#fff" stroke-width="1.4"/><polygon points="1139,359 1151,333 1167,339 1174,360 1150,368" fill="none" stroke="#fff" stroke-width="1.4"/><polygon points="1116,346 1118,326 1129,322 1150,331 1151,333 1139,359 1131,360" fill="none" stroke="#fff" stroke-width="1.4"/><polygon points="1083,229 1112,229 1106,256 1085,244" fill="none" stroke="#fff" stroke-width="1.4"/><polygon points="1293,265 1293,295 1271,296 1261,287 1265,278 1291,265" fill="none" stroke="#fff" stroke-width="1.4"/><polygon points="1241,256 1239,279 1224,284 1215,275 1223,255" fill="none" stroke="#fff" stroke-width="1.4"/><polygon points="1293,414 1293,445 1272,439 1286,415" fill="none" stroke="#fff" stroke-width="1.4"/><polygon points="1212,409 1217,395 1236,391 1244,400 1237,426 1228,426" fill="none" stroke="#fff" stroke-width="1.4"/><polygon points="1217,395 1212,409 1199,413 1179,396 1179,393 1183,387 1206,381" fill="none" stroke="#fff" stroke-width="1.4"/><polygon points="1118,326 1116,346 1092,355 1086,332 1092,322 1105,319" fill="none" stroke="#fff" stroke-width="1.4"/><polygon points="1256,256 1265,278 1261,287 1254,288 1239,279 1241,256 1245,254" fill="none" stroke="#fff" stroke-width="1.4"/><polygon points="1267,408 1286,415 1272,439 1270,439 1257,430" fill="none" stroke="#fff" stroke-width="1.4"/><polygon points="1147,296 1160,307 1150,331 1129,322 1134,299" fill="none" stroke="#fff" stroke-width="1.4"/><polygon points="1184,326 1167,339 1151,333 1150,331 1160,307 1170,306 1181,314" fill="none" stroke="#fff" stroke-width="1.4"/><polygon points="1293,320 1293,352 1278,351 1278,351 1274,323" fill="none" stroke="#fff" stroke-width="1.4"/><polygon points="1061,229 1083,229 1085,244 1072,259 1061,260" fill="none" stroke="#fff" stroke-width="1.4"/><polygon points="1242,461 1220,461 1216,441 1228,426 1237,426 1245,432" fill="none" stroke="#fff" stroke-width="1.4"/><polygon points="1193,331 1196,353 1176,361 1174,360 1167,339 1184,326" fill="none" stroke="#fff" stroke-width="1.4"/><polygon points="1164,422 1179,396 1199,413 1192,431" fill="none" stroke="#fff" stroke-width="1.4"/><polygon points="1118,380 1095,370 1092,355 1092,355 1116,346 1131,360" fill="none" stroke="#fff" stroke-width="1.4"/><polygon points="1176,361 1196,353 1208,358 1211,363 1206,381 1183,387" fill="none" stroke="#fff" stroke-width="1.4"/><polygon points="1106,256 1127,264 1119,289 1109,292 1093,285 1092,274" fill="none" stroke="#fff" stroke-width="1.4"/><polygon points="1124,429 1145,412 1163,423 1160,436 1142,449" fill="none" stroke="#fff" stroke-width="1.4"/><polygon points="1142,397 1120,390 1118,380 1131,360 1139,359 1150,368 1151,387" fill="none" stroke="#fff" stroke-width="1.4"/><polygon points="1131,229 1152,229 1156,250 1137,264 1129,263" fill="none" stroke="#fff" stroke-width="1.4"/><polygon points="1061,442 1061,412 1081,412 1089,426 1086,437" fill="none" stroke="#fff" stroke-width="1.4"/><polygon points="1221,332 1212,325 1212,306 1222,300 1241,309 1243,315 1229,333" fill="none" stroke="#fff" stroke-width="1.4"/><polygon points="1228,364 1240,378 1236,391 1217,395 1206,381 1211,363" fill="none" stroke="#fff" stroke-width="1.4"/><polygon points="1265,461 1242,461 1245,432 1257,430 1270,439" fill="none" stroke="#fff" stroke-width="1.4"/><polygon points="1182,461 1141,461 1142,449 1160,436 1182,460" fill="none" stroke="#fff" stroke-width="1.4"/><polygon points="1293,352 1293,384 1272,382 1270,379 1278,351" fill="none" stroke="#fff" stroke-width="1.4"/><polygon points="1255,349 1253,347 1260,322 1268,320 1274,323 1278,351" fill="none" stroke="#fff" stroke-width="1.4"/><polygon points="1151,280 1147,296 1134,299 1119,289 1127,264 1129,263 1137,264" fill="none" stroke="#fff" stroke-width="1.4"/><polygon points="1291,265 1265,278 1256,256 1270,249" fill="none" stroke="#fff" stroke-width="1.4"/><polygon points="1061,412 1061,382 1084,385 1089,398 1081,412" fill="none" stroke="#fff" stroke-width="1.4"/><polygon points="1253,347 1239,346 1229,333 1243,315 1260,322" fill="none" stroke="#fff" stroke-width="1.4"/><polygon points="1244,229 1273,229 1270,249 1256,256 1245,254" fill="none" stroke="#fff" stroke-width="1.4"/><polygon points="1134,299 1129,322 1118,326 1105,319 1109,292 1119,289" fill="none" stroke="#fff" stroke-width="1.4"/><polygon points="1169,275 1151,280 1137,264 1156,250 1171,258" fill="none" stroke="#fff" stroke-width="1.4"/><polygon points="1105,319 1092,322 1081,308 1088,288 1093,285 1109,292" fill="none" stroke="#fff" stroke-width="1.4"/><polygon points="1293,445 1293,461 1265,461 1270,439 1272,439" fill="none" stroke="#fff" stroke-width="1.4"/><polygon points="1239,346 1228,364 1211,363 1208,358 1221,332 1229,333" fill="none" stroke="#fff" stroke-width="1.4"/><polygon points="1141,461 1102,461 1121,428 1124,429 1142,449" fill="none" stroke="#fff" stroke-width="1.4"/><polygon points="1145,412 1142,397 1151,387 1179,393 1179,396 1164,422 1163,423" fill="none" stroke="#fff" stroke-width="1.4"/><polygon points="1088,288 1061,283 1061,260 1072,259 1092,274 1093,285" fill="none" stroke="#fff" stroke-width="1.4"/><polygon points="1237,426 1244,400 1263,402 1267,408 1257,430 1245,432" fill="none" stroke="#fff" stroke-width="1.4"/><polygon points="1270,379 1253,372 1255,349 1278,351 1278,351" fill="none" stroke="#fff" stroke-width="1.4"/><polygon points="1151,387 1150,368 1174,360 1176,361 1183,387 1179,393" fill="none" stroke="#fff" stroke-width="1.4"/><polygon points="1243,315 1241,309 1254,288 1261,287 1271,296 1268,320 1260,322" fill="none" stroke="#fff" stroke-width="1.4"/><polygon points="1181,314 1170,306 1177,283 1193,283 1199,301" fill="none" stroke="#fff" stroke-width="1.4"/><polygon points="1215,229 1244,229 1245,254 1241,256 1223,255 1214,245" fill="none" stroke="#fff" stroke-width="1.4"/><polygon points="1220,461 1182,461 1182,460 1194,435 1216,441" fill="none" stroke="#fff" stroke-width="1.4"/><polygon points="1095,370 1084,385 1061,382 1061,358 1092,355" fill="none" stroke="#fff" stroke-width="1.4"/><polygon points="1192,431 1199,413 1212,409 1228,426 1216,441 1194,435" fill="none" stroke="#fff" stroke-width="1.4"/><polygon points="1215,275 1224,284 1222,300 1212,306 1199,301 1193,283 1199,275" fill="none" stroke="#fff" stroke-width="1.4"/><polygon points="1182,460 1160,436 1163,423 1164,422 1192,431 1194,435" fill="none" stroke="#fff" stroke-width="1.4"/><polygon points="1273,229 1293,229 1293,265 1291,265 1270,249" fill="none" stroke="#fff" stroke-width="1.4"/><polygon points="1106,256 1106,256 1092,274 1072,259 1085,244" fill="none" stroke="#fff" stroke-width="1.4"/><polygon points="1061,358 1061,333 1086,332 1092,355 1092,355" fill="none" stroke="#fff" stroke-width="1.4"/><polygon points="1102,461 1100,461 1086,437 1089,426 1114,422 1121,428" fill="none" stroke="#fff" stroke-width="1.4"/><polygon points="1194,256 1214,245 1223,255 1215,275 1199,275" fill="none" stroke="#fff" stroke-width="1.4"/><polygon points="1212,325 1193,331 1184,326 1181,314 1199,301 1212,306" fill="none" stroke="#fff" stroke-width="1.4"/><polygon points="1184,251 1194,256 1199,275 1193,283 1177,283 1169,275 1171,258" fill="none" stroke="#fff" stroke-width="1.4"/></g><defs><clipPath id="cft"><rect x="1058.8" y="578" width="231.2" height="187.0"/></clipPath></defs><g clip-path="url(#cft)"><rect x="1058.8" y="578" width="231.2" height="187.0" fill="#0a26e8"/><g filter="url(#bl2)"><ellipse cx="1070" cy="665" rx="16" ry="30" fill="#1a4cf0" opacity="0.8"/><ellipse cx="1268" cy="650" rx="26" ry="55" fill="#1a5af0" opacity="0.8"/><path d="M1057 576 L1057 620.8 Q1095.0 696.8 1150 578 L1150 576 Z" fill="#1a48ee"/><path d="M1057 576 L1057 611.8 Q1095.0 671.8 1150 578 L1150 576 Z" fill="#1e6af4"/><path d="M1057 576 L1057 604.1 Q1095.0 650.5 1150 578 L1150 576 Z" fill="#1a98fa"/><path d="M1057 576 L1057 598.2 Q1095.0 634.2 1150 578 L1150 576 Z" fill="#10d8f8"/><path d="M1057 576 L1057 593.3 Q1095.0 620.5 1150 578 L1150 576 Z" fill="#10e8a0"/><path d="M1057 576 L1057 590.1 Q1095.0 611.8 1150 578 L1150 576 Z" fill="#18e030"/><path d="M1057 576 L1057 586.5 Q1095.0 601.8 1150 578 L1150 576 Z" fill="#b8f010"/><path d="M1057 576 L1057 585.2 Q1095.0 598.0 1150 578 L1150 576 Z" fill="#ffe000"/><path d="M1057 576 L1057 584.3 Q1095.0 595.5 1150 578 L1150 576 Z" fill="#ff1a00"/><ellipse cx="1105.8" cy="604" rx="8" ry="5" fill="#1a5ae8"/><path d="M1148 576 L1148 617.3 Q1184.8 687.2 1238 578 L1238 576 Z" fill="#1a48ee"/><path d="M1148 576 L1148 609.0 Q1184.8 664.2 1238 578 L1238 576 Z" fill="#1e6af4"/><path d="M1148 576 L1148 602.0 Q1184.8 644.7 1238 578 L1238 576 Z" fill="#1a98fa"/><path d="M1148 576 L1148 596.6 Q1184.8 629.8 1238 578 L1238 576 Z" fill="#10d8f8"/><path d="M1148 576 L1148 592.1 Q1184.8 617.1 1238 578 L1238 576 Z" fill="#10e8a0"/><path d="M1148 576 L1148 589.2 Q1184.8 609.0 1238 578 L1238 576 Z" fill="#18e030"/><path d="M1148 576 L1148 585.9 Q1184.8 599.9 1238 578 L1238 576 Z" fill="#b8f010"/><path d="M1148 576 L1148 584.6 Q1184.8 596.4 1238 578 L1238 576 Z" fill="#ffe000"/><path d="M1148 576 L1148 583.8 Q1184.8 594.1 1238 578 L1238 576 Z" fill="#ff1a00"/><ellipse cx="1195.2" cy="604" rx="8" ry="5" fill="#1a5ae8"/></g><rect x="1237" y="578" width="53" height="3" fill="#ff1a00"/><rect x="1237" y="581" width="53" height="3" fill="#20e0c0"/><rect x="1237" y="584" width="53" height="3" fill="#1a8cff"/><path d="M1238.0 589.0 1290.0 589.0" fill="none" stroke="#fff" stroke-width="2.2" stroke-linejoin="round" stroke-linecap="round"/><path d="M1059.0 620.0 1080.0 640.0 1100.0 660.0 1127.0 680.0" fill="none" stroke="#fff" stroke-width="2.2" stroke-linejoin="round" stroke-linecap="round"/><path d="M1150.0 578.0 1148.0 600.0 1140.0 630.0 1132.0 660.0 1127.0 680.0 1128.0 700.0" fill="none" stroke="#fff" stroke-width="2.2" stroke-linejoin="round" stroke-linecap="round"/><path d="M1238.0 578.0 1232.0 600.0 1225.0 640.0 1220.0 660.0 1224.0 680.0 1228.0 700.0" fill="none" stroke="#fff" stroke-width="2.2" stroke-linejoin="round" stroke-linecap="round"/><path d="M1220.0 660.0 1216.0 690.0 1214.0 700.0" fill="none" stroke="#fff" stroke-width="2.2" stroke-linejoin="round" stroke-linecap="round"/><path d="M1059.0 690.0 1072.0 700.0" fill="none" stroke="#fff" stroke-width="2.2" stroke-linejoin="round" stroke-linecap="round"/><path d="M1084.0 700.0 1078.0 725.0 1086.0 740.0 1096.0 748.0 1102.0 765.0" fill="none" stroke="#fff" stroke-width="2.2" stroke-linejoin="round" stroke-linecap="round"/><path d="M1088.0 745.0 1076.0 765.0" fill="none" stroke="#fff" stroke-width="2.2" stroke-linejoin="round" stroke-linecap="round"/><path d="M1102.0 700.0 1106.0 720.0 1104.0 765.0" fill="none" stroke="#fff" stroke-width="2.2" stroke-linejoin="round" stroke-linecap="round"/><path d="M1103.0 717.0 1120.0 728.0 1128.0 725.0 1132.0 715.0" fill="none" stroke="#fff" stroke-width="2.2" stroke-linejoin="round" stroke-linecap="round"/><path d="M1128.0 725.0 1124.0 745.0 1128.0 765.0" fill="none" stroke="#fff" stroke-width="2.2" stroke-linejoin="round" stroke-linecap="round"/><path d="M1133.0 700.0 1134.0 720.0 1148.0 733.0 1158.0 740.0 1165.0 732.0" fill="none" stroke="#fff" stroke-width="2.2" stroke-linejoin="round" stroke-linecap="round"/><path d="M1158.0 740.0 1160.0 765.0" fill="none" stroke="#fff" stroke-width="2.2" stroke-linejoin="round" stroke-linecap="round"/><path d="M1160.0 700.0 1164.0 720.0 1178.0 735.0 1190.0 750.0" fill="none" stroke="#fff" stroke-width="2.2" stroke-linejoin="round" stroke-linecap="round"/><path d="M1185.0 700.0 1186.0 730.0 1196.0 742.0" fill="none" stroke="#fff" stroke-width="2.2" stroke-linejoin="round" stroke-linecap="round"/><path d="M1214.0 700.0 1208.0 725.0 1200.0 738.0 1192.0 752.0 1182.0 758.0" fill="none" stroke="#fff" stroke-width="2.2" stroke-linejoin="round" stroke-linecap="round"/><path d="M1192.0 752.0 1212.0 750.0 1226.0 742.0 1240.0 730.0" fill="none" stroke="#fff" stroke-width="2.2" stroke-linejoin="round" stroke-linecap="round"/><path d="M1238.0 700.0 1234.0 730.0 1236.0 748.0 1228.0 765.0" fill="none" stroke="#fff" stroke-width="2.2" stroke-linejoin="round" stroke-linecap="round"/><path d="M1262.0 700.0 1258.0 720.0 1268.0 738.0 1274.0 765.0" fill="none" stroke="#fff" stroke-width="2.2" stroke-linejoin="round" stroke-linecap="round"/><path d="M1282.0 700.0 1286.0 725.0 1290.0 745.0" fill="none" stroke="#fff" stroke-width="2.2" stroke-linejoin="round" stroke-linecap="round"/><polygon points="1124,745 1133,743 1136,765 1124,765" fill="#fff"/><polygon points="1152,742 1161,740 1163,765 1153,765" fill="#fff"/><ellipse cx="1072" cy="767" rx="9" ry="4" fill="#30d070"/><ellipse cx="1098" cy="767" rx="9" ry="4" fill="#30d070"/><ellipse cx="1124" cy="767" rx="9" ry="4" fill="#30d070"/><ellipse cx="1150" cy="767" rx="9" ry="4" fill="#30d070"/><ellipse cx="1176" cy="767" rx="9" ry="4" fill="#30d070"/><ellipse cx="1202" cy="767" rx="9" ry="4" fill="#30d070"/><ellipse cx="1228" cy="767" rx="9" ry="4" fill="#30d070"/><ellipse cx="1254" cy="767" rx="9" ry="4" fill="#30d070"/><ellipse cx="1280" cy="767" rx="9" ry="4" fill="#30d070"/></g><defs><clipPath id="cfb"><rect x="1061" y="793" width="232.0" height="230.0"/></clipPath></defs><g clip-path="url(#cfb)"><rect x="1061" y="793" width="232.0" height="230.0" fill="#ff1a00"/><path d="M1061.0 826.0 1090.0 827.0 1125.5 832.0" fill="none" stroke="#1040f0" stroke-width="8" stroke-linejoin="round"/><path d="M1125.5 832.0 1150.0 808.0 1169.0 793.0" fill="none" stroke="#1040f0" stroke-width="8" stroke-linejoin="round"/><path d="M1197.0 793.0 1210.0 808.0 1224.0 816.0 1250.0 815.0 1277.0 817.0" fill="none" stroke="#1040f0" stroke-width="8" stroke-linejoin="round"/><path d="M1277.0 817.0 1283.0 805.0 1284.0 793.0" fill="none" stroke="#1040f0" stroke-width="8" stroke-linejoin="round"/><path d="M1125.5 832.0 1140.0 860.0 1159.5 885.8" fill="none" stroke="#1040f0" stroke-width="8" stroke-linejoin="round"/><path d="M1159.5 885.8 1195.0 890.0 1226.0 905.7" fill="none" stroke="#1040f0" stroke-width="8" stroke-linejoin="round"/><path d="M1226.0 905.7 1255.0 890.0 1277.0 863.0" fill="none" stroke="#1040f0" stroke-width="8" stroke-linejoin="round"/><path d="M1277.0 863.0 1278.0 840.0 1277.0 817.0" fill="none" stroke="#1040f0" stroke-width="8" stroke-linejoin="round"/><path d="M1277.0 863.0 1293.0 848.0" fill="none" stroke="#1040f0" stroke-width="8" stroke-linejoin="round"/><path d="M1159.5 885.8 1152.0 915.0 1127.0 945.4" fill="none" stroke="#1040f0" stroke-width="8" stroke-linejoin="round"/><path d="M1127.0 945.4 1095.0 948.0 1067.0 954.0 1061.0 958.0" fill="none" stroke="#1040f0" stroke-width="8" stroke-linejoin="round"/><path d="M1127.0 945.4 1155.0 962.0 1179.4 971.0" fill="none" stroke="#1040f0" stroke-width="8" stroke-linejoin="round"/><path d="M1179.4 971.0 1180.0 1000.0 1181.0 1023.0" fill="none" stroke="#1040f0" stroke-width="8" stroke-linejoin="round"/><path d="M1226.0 905.7 1225.0 920.0 1224.7 934.0" fill="none" stroke="#1040f0" stroke-width="8" stroke-linejoin="round"/><path d="M1224.7 934.0 1200.0 955.0 1179.4 971.0" fill="none" stroke="#1040f0" stroke-width="8" stroke-linejoin="round"/><path d="M1224.7 934.0 1260.0 948.0 1293.0 962.0" fill="none" stroke="#1040f0" stroke-width="8" stroke-linejoin="round"/><path d="M1061.0 1005.0 1066.0 1023.0" fill="none" stroke="#1040f0" stroke-width="8" stroke-linejoin="round"/><path d="M1061.0 935.0 1064.0 945.0" fill="none" stroke="#1040f0" stroke-width="8" stroke-linejoin="round"/><path d="M1285.0 817.0 1293.0 830.0" fill="none" stroke="#1040f0" stroke-width="8" stroke-linejoin="round"/><path d="M1061.0 826.0 1090.0 827.0 1125.5 832.0" fill="none" stroke="#10d0e0" stroke-width="6" stroke-linejoin="round"/><path d="M1125.5 832.0 1150.0 808.0 1169.0 793.0" fill="none" stroke="#10d0e0" stroke-width="6" stroke-linejoin="round"/><path d="M1197.0 793.0 1210.0 808.0 1224.0 816.0 1250.0 815.0 1277.0 817.0" fill="none" stroke="#10d0e0" stroke-width="6" stroke-linejoin="round"/><path d="M1277.0 817.0 1283.0 805.0 1284.0 793.0" fill="none" stroke="#10d0e0" stroke-width="6" stroke-linejoin="round"/><path d="M1125.5 832.0 1140.0 860.0 1159.5 885.8" fill="none" stroke="#10d0e0" stroke-width="6" stroke-linejoin="round"/><path d="M1159.5 885.8 1195.0 890.0 1226.0 905.7" fill="none" stroke="#10d0e0" stroke-width="6" stroke-linejoin="round"/><path d="M1226.0 905.7 1255.0 890.0 1277.0 863.0" fill="none" stroke="#10d0e0" stroke-width="6" stroke-linejoin="round"/><path d="M1277.0 863.0 1278.0 840.0 1277.0 817.0" fill="none" stroke="#10d0e0" stroke-width="6" stroke-linejoin="round"/><path d="M1277.0 863.0 1293.0 848.0" fill="none" stroke="#10d0e0" stroke-width="6" stroke-linejoin="round"/><path d="M1159.5 885.8 1152.0 915.0 1127.0 945.4" fill="none" stroke="#10d0e0" stroke-width="6" stroke-linejoin="round"/><path d="M1127.0 945.4 1095.0 948.0 1067.0 954.0 1061.0 958.0" fill="none" stroke="#10d0e0" stroke-width="6" stroke-linejoin="round"/><path d="M1127.0 945.4 1155.0 962.0 1179.4 971.0" fill="none" stroke="#10d0e0" stroke-width="6" stroke-linejoin="round"/><path d="M1179.4 971.0 1180.0 1000.0 1181.0 1023.0" fill="none" stroke="#10d0e0" stroke-width="6" stroke-linejoin="round"/><path d="M1226.0 905.7 1225.0 920.0 1224.7 934.0" fill="none" stroke="#10d0e0" stroke-width="6" stroke-linejoin="round"/><path d="M1224.7 934.0 1200.0 955.0 1179.4 971.0" fill="none" stroke="#10d0e0" stroke-width="6" stroke-linejoin="round"/><path d="M1224.7 934.0 1260.0 948.0 1293.0 962.0" fill="none" stroke="#10d0e0" stroke-width="6" stroke-linejoin="round"/><path d="M1061.0 1005.0 1066.0 1023.0" fill="none" stroke="#10d0e0" stroke-width="6" stroke-linejoin="round"/><path d="M1061.0 935.0 1064.0 945.0" fill="none" stroke="#10d0e0" stroke-width="6" stroke-linejoin="round"/><path d="M1285.0 817.0 1293.0 830.0" fill="none" stroke="#10d0e0" stroke-width="6" stroke-linejoin="round"/><path d="M1061.0 826.0 1090.0 827.0 1125.5 832.0" fill="none" stroke="#60e060" stroke-width="4" stroke-linejoin="round"/><path d="M1125.5 832.0 1150.0 808.0 1169.0 793.0" fill="none" stroke="#60e060" stroke-width="4" stroke-linejoin="round"/><path d="M1197.0 793.0 1210.0 808.0 1224.0 816.0 1250.0 815.0 1277.0 817.0" fill="none" stroke="#60e060" stroke-width="4" stroke-linejoin="round"/><path d="M1277.0 817.0 1283.0 805.0 1284.0 793.0" fill="none" stroke="#60e060" stroke-width="4" stroke-linejoin="round"/><path d="M1125.5 832.0 1140.0 860.0 1159.5 885.8" fill="none" stroke="#60e060" stroke-width="4" stroke-linejoin="round"/><path d="M1159.5 885.8 1195.0 890.0 1226.0 905.7" fill="none" stroke="#60e060" stroke-width="4" stroke-linejoin="round"/><path d="M1226.0 905.7 1255.0 890.0 1277.0 863.0" fill="none" stroke="#60e060" stroke-width="4" stroke-linejoin="round"/><path d="M1277.0 863.0 1278.0 840.0 1277.0 817.0" fill="none" stroke="#60e060" stroke-width="4" stroke-linejoin="round"/><path d="M1277.0 863.0 1293.0 848.0" fill="none" stroke="#60e060" stroke-width="4" stroke-linejoin="round"/><path d="M1159.5 885.8 1152.0 915.0 1127.0 945.4" fill="none" stroke="#60e060" stroke-width="4" stroke-linejoin="round"/><path d="M1127.0 945.4 1095.0 948.0 1067.0 954.0 1061.0 958.0" fill="none" stroke="#60e060" stroke-width="4" stroke-linejoin="round"/><path d="M1127.0 945.4 1155.0 962.0 1179.4 971.0" fill="none" stroke="#60e060" stroke-width="4" stroke-linejoin="round"/><path d="M1179.4 971.0 1180.0 1000.0 1181.0 1023.0" fill="none" stroke="#60e060" stroke-width="4" stroke-linejoin="round"/><path d="M1226.0 905.7 1225.0 920.0 1224.7 934.0" fill="none" stroke="#60e060" stroke-width="4" stroke-linejoin="round"/><path d="M1224.7 934.0 1200.0 955.0 1179.4 971.0" fill="none" stroke="#60e060" stroke-width="4" stroke-linejoin="round"/><path d="M1224.7 934.0 1260.0 948.0 1293.0 962.0" fill="none" stroke="#60e060" stroke-width="4" stroke-linejoin="round"/><path d="M1061.0 1005.0 1066.0 1023.0" fill="none" stroke="#60e060" stroke-width="4" stroke-linejoin="round"/><path d="M1061.0 935.0 1064.0 945.0" fill="none" stroke="#60e060" stroke-width="4" stroke-linejoin="round"/><path d="M1285.0 817.0 1293.0 830.0" fill="none" stroke="#60e060" stroke-width="4" stroke-linejoin="round"/><path d="M1061.0 826.0 1090.0 827.0 1125.5 832.0" fill="none" stroke="#fff" stroke-width="1.6" stroke-linejoin="round"/><path d="M1125.5 832.0 1150.0 808.0 1169.0 793.0" fill="none" stroke="#fff" stroke-width="1.6" stroke-linejoin="round"/><path d="M1197.0 793.0 1210.0 808.0 1224.0 816.0 1250.0 815.0 1277.0 817.0" fill="none" stroke="#fff" stroke-width="1.6" stroke-linejoin="round"/><path d="M1277.0 817.0 1283.0 805.0 1284.0 793.0" fill="none" stroke="#fff" stroke-width="1.6" stroke-linejoin="round"/><path d="M1125.5 832.0 1140.0 860.0 1159.5 885.8" fill="none" stroke="#fff" stroke-width="1.6" stroke-linejoin="round"/><path d="M1159.5 885.8 1195.0 890.0 1226.0 905.7" fill="none" stroke="#fff" stroke-width="1.6" stroke-linejoin="round"/><path d="M1226.0 905.7 1255.0 890.0 1277.0 863.0" fill="none" stroke="#fff" stroke-width="1.6" stroke-linejoin="round"/><path d="M1277.0 863.0 1278.0 840.0 1277.0 817.0" fill="none" stroke="#fff" stroke-width="1.6" stroke-linejoin="round"/><path d="M1277.0 863.0 1293.0 848.0" fill="none" stroke="#fff" stroke-width="1.6" stroke-linejoin="round"/><path d="M1159.5 885.8 1152.0 915.0 1127.0 945.4" fill="none" stroke="#fff" stroke-width="1.6" stroke-linejoin="round"/><path d="M1127.0 945.4 1095.0 948.0 1067.0 954.0 1061.0 958.0" fill="none" stroke="#fff" stroke-width="1.6" stroke-linejoin="round"/><path d="M1127.0 945.4 1155.0 962.0 1179.4 971.0" fill="none" stroke="#fff" stroke-width="1.6" stroke-linejoin="round"/><path d="M1179.4 971.0 1180.0 1000.0 1181.0 1023.0" fill="none" stroke="#fff" stroke-width="1.6" stroke-linejoin="round"/><path d="M1226.0 905.7 1225.0 920.0 1224.7 934.0" fill="none" stroke="#fff" stroke-width="1.6" stroke-linejoin="round"/><path d="M1224.7 934.0 1200.0 955.0 1179.4 971.0" fill="none" stroke="#fff" stroke-width="1.6" stroke-linejoin="round"/><path d="M1224.7 934.0 1260.0 948.0 1293.0 962.0" fill="none" stroke="#fff" stroke-width="1.6" stroke-linejoin="round"/><path d="M1061.0 1005.0 1066.0 1023.0" fill="none" stroke="#fff" stroke-width="1.6" stroke-linejoin="round"/><path d="M1061.0 935.0 1064.0 945.0" fill="none" stroke="#fff" stroke-width="1.6" stroke-linejoin="round"/><path d="M1285.0 817.0 1293.0 830.0" fill="none" stroke="#fff" stroke-width="1.6" stroke-linejoin="round"/><g filter="url(#bl2)"><ellipse cx="1290" cy="855" rx="6" ry="20" fill="#20a0ff"/></g></g><rect x="1055.6" y="10.2" width="240.1" height="195.4" fill="none" stroke="#3cb93c" stroke-width="7.5" stroke-dasharray="16 16.4" stroke-dashoffset="8" stroke-linecap="round"/><rect x="1056.5" y="225" width="240.0" height="239.0" fill="none" stroke="#f9b520" stroke-width="7.5" stroke-dasharray="16 16.4" stroke-dashoffset="8" stroke-linecap="round"/><rect x="1055.3" y="574.5" width="238.5" height="194.3" fill="none" stroke="#3cb93c" stroke-width="7.5" stroke-dasharray="16 16.4" stroke-dashoffset="8" stroke-linecap="round"/><rect x="1056.5" y="790" width="239.0" height="237.0" fill="none" stroke="#f9b520" stroke-width="7.5" stroke-dasharray="16 16.4" stroke-dashoffset="8" stroke-linecap="round"/><rect x="37.2" y="92.20" width="21.7" height="16.14" fill="#ff2d00"/><rect x="37.2" y="107.74" width="21.7" height="16.14" fill="#ff5f00"/><rect x="37.2" y="123.28" width="21.7" height="16.14" fill="#ff9800"/><rect x="37.2" y="138.82" width="21.7" height="16.14" fill="#ffcf00"/><rect x="37.2" y="154.36" width="21.7" height="16.14" fill="#f8fe00"/><rect x="37.2" y="169.90" width="21.7" height="16.14" fill="#b6f400"/><rect x="37.2" y="185.44" width="21.7" height="16.14" fill="#7dee00"/><rect x="37.2" y="200.98" width="21.7" height="16.14" fill="#4beb00"/><rect x="37.2" y="216.52" width="21.7" height="16.14" fill="#18e700"/><rect x="37.2" y="232.06" width="21.7" height="16.14" fill="#00e61e"/><rect x="37.2" y="247.60" width="21.7" height="16.14" fill="#00e65a"/><rect x="37.2" y="263.14" width="21.7" height="16.14" fill="#00e694"/><rect x="37.2" y="278.68" width="21.7" height="16.14" fill="#00e6cc"/><rect x="37.2" y="294.22" width="21.7" height="16.14" fill="#00e0ff"/><rect x="37.2" y="309.76" width="21.7" height="16.14" fill="#00afff"/><rect x="37.2" y="325.30" width="21.7" height="16.14" fill="#0084ff"/><rect x="37.2" y="340.84" width="21.7" height="16.14" fill="#0062ff"/><rect x="37.2" y="356.38" width="21.7" height="16.14" fill="#003fff"/><rect x="37.2" y="371.92" width="21.7" height="16.14" fill="#0025ff"/><rect x="37.2" y="387.46" width="21.7" height="16.14" fill="#000cff"/><text x="31.0" y="109.2" font-family="'Liberation Sans', sans-serif" font-size="19.5" fill="#111" text-anchor="end">1</text><text x="31.0" y="170.6" font-family="'Liberation Sans', sans-serif" font-size="19.5" fill="#111" text-anchor="end">0.8</text><text x="31.0" y="232.0" font-family="'Liberation Sans', sans-serif" font-size="19.5" fill="#111" text-anchor="end">0.6</text><text x="31.0" y="293.4" font-family="'Liberation Sans', sans-serif" font-size="19.5" fill="#111" text-anchor="end">0.4</text><text x="31.0" y="354.8" font-family="'Liberation Sans', sans-serif" font-size="19.5" fill="#111" text-anchor="end">0.2</text><text x="31.0" y="416.2" font-family="'Liberation Sans', sans-serif" font-size="19.5" fill="#111" text-anchor="end">0</text><text font-family="'Liberation Sans', sans-serif" font-size="18" fill="#111" transform="translate(41.8,178) rotate(90)" textLength="155" lengthAdjust="spacingAndGlyphs">Velocity (nm s<tspan font-size="11" dy="-7">-1</tspan><tspan dy="7">)</tspan></text><rect x="37.0" y="632.00" width="22.4" height="16.13" fill="#ff2d00"/><rect x="37.0" y="647.53" width="22.4" height="16.13" fill="#ff5f00"/><rect x="37.0" y="663.06" width="22.4" height="16.13" fill="#ff9800"/><rect x="37.0" y="678.59" width="22.4" height="16.13" fill="#ffcf00"/><rect x="37.0" y="694.12" width="22.4" height="16.13" fill="#f8fe00"/><rect x="37.0" y="709.65" width="22.4" height="16.13" fill="#b6f400"/><rect x="37.0" y="725.18" width="22.4" height="16.13" fill="#7dee00"/><rect x="37.0" y="740.71" width="22.4" height="16.13" fill="#4beb00"/><rect x="37.0" y="756.24" width="22.4" height="16.13" fill="#18e700"/><rect x="37.0" y="771.77" width="22.4" height="16.13" fill="#00e61e"/><rect x="37.0" y="787.30" width="22.4" height="16.13" fill="#00e65a"/><rect x="37.0" y="802.83" width="22.4" height="16.13" fill="#00e694"/><rect x="37.0" y="818.36" width="22.4" height="16.13" fill="#00e6cc"/><rect x="37.0" y="833.89" width="22.4" height="16.13" fill="#00e0ff"/><rect x="37.0" y="849.42" width="22.4" height="16.13" fill="#00afff"/><rect x="37.0" y="864.95" width="22.4" height="16.13" fill="#0084ff"/><rect x="37.0" y="880.48" width="22.4" height="16.13" fill="#0062ff"/><rect x="37.0" y="896.01" width="22.4" height="16.13" fill="#003fff"/><rect x="37.0" y="911.54" width="22.4" height="16.13" fill="#0025ff"/><rect x="37.0" y="927.07" width="22.4" height="16.13" fill="#000cff"/><text x="31.0" y="642.0" font-family="'Liberation Sans', sans-serif" font-size="19.5" fill="#111" text-anchor="end">1</text><text x="31.0" y="704.0" font-family="'Liberation Sans', sans-serif" font-size="19.5" fill="#111" text-anchor="end">0.8</text><text x="31.0" y="766.0" font-family="'Liberation Sans', sans-serif" font-size="19.5" fill="#111" text-anchor="end">0.6</text><text x="31.0" y="828.0" font-family="'Liberation Sans', sans-serif" font-size="19.5" fill="#111" text-anchor="end">0.4</text><text x="31.0" y="890.0" font-family="'Liberation Sans', sans-serif" font-size="19.5" fill="#111" text-anchor="end">0.2</text><text x="31.0" y="952.0" font-family="'Liberation Sans', sans-serif" font-size="19.5" fill="#111" text-anchor="end">0</text><text font-family="'Liberation Sans', sans-serif" font-size="18" fill="#111" transform="translate(41.9,716) rotate(90)" textLength="156" lengthAdjust="spacingAndGlyphs">Velocity (nm s<tspan font-size="11" dy="-7">-1</tspan><tspan dy="7">)</tspan></text><rect x="966.5" y="83.30" width="21.6" height="16.14" fill="#ff2d00"/><rect x="966.5" y="98.83" width="21.6" height="16.14" fill="#ff5f00"/><rect x="966.5" y="114.37" width="21.6" height="16.14" fill="#ff9800"/><rect x="966.5" y="129.91" width="21.6" height="16.14" fill="#ffcf00"/><rect x="966.5" y="145.44" width="21.6" height="16.14" fill="#f8fe00"/><rect x="966.5" y="160.97" width="21.6" height="16.14" fill="#b6f400"/><rect x="966.5" y="176.51" width="21.6" height="16.14" fill="#7dee00"/><rect x="966.5" y="192.05" width="21.6" height="16.14" fill="#4beb00"/><rect x="966.5" y="207.58" width="21.6" height="16.14" fill="#18e700"/><rect x="966.5" y="223.12" width="21.6" height="16.14" fill="#00e61e"/><rect x="966.5" y="238.65" width="21.6" height="16.14" fill="#00e65a"/><rect x="966.5" y="254.19" width="21.6" height="16.14" fill="#00e694"/><rect x="966.5" y="269.72" width="21.6" height="16.14" fill="#00e6cc"/><rect x="966.5" y="285.25" width="21.6" height="16.14" fill="#00e0ff"/><rect x="966.5" y="300.79" width="21.6" height="16.14" fill="#00afff"/><rect x="966.5" y="316.32" width="21.6" height="16.14" fill="#0084ff"/><rect x="966.5" y="331.86" width="21.6" height="16.14" fill="#0062ff"/><rect x="966.5" y="347.40" width="21.6" height="16.14" fill="#003fff"/><rect x="966.5" y="362.93" width="21.6" height="16.14" fill="#0025ff"/><rect x="966.5" y="378.47" width="21.6" height="16.14" fill="#000cff"/><text x="962.4" y="91.0" font-family="'Liberation Sans', sans-serif" font-size="19.5" fill="#111" text-anchor="end">10</text><text x="962.4" y="153.2" font-family="'Liberation Sans', sans-serif" font-size="19.5" fill="#111" text-anchor="end">8</text><text x="962.4" y="215.4" font-family="'Liberation Sans', sans-serif" font-size="19.5" fill="#111" text-anchor="end">6</text><text x="962.4" y="277.6" font-family="'Liberation Sans', sans-serif" font-size="19.5" fill="#111" text-anchor="end">4</text><text x="962.4" y="339.8" font-family="'Liberation Sans', sans-serif" font-size="19.5" fill="#111" text-anchor="end">2</text><text x="962.4" y="402.0" font-family="'Liberation Sans', sans-serif" font-size="19.5" fill="#111" text-anchor="end">0</text><text font-family="'Liberation Sans', sans-serif" font-size="18" fill="#111" transform="translate(971.0,168) rotate(90)" textLength="152" lengthAdjust="spacingAndGlyphs">Velocity (nm s<tspan font-size="11" dy="-7">-1</tspan><tspan dy="7">)</tspan></text><rect x="966.6" y="638.50" width="21.9" height="16.07" fill="#ff2d00"/><rect x="966.6" y="653.98" width="21.9" height="16.07" fill="#ff5f00"/><rect x="966.6" y="669.45" width="21.9" height="16.07" fill="#ff9800"/><rect x="966.6" y="684.92" width="21.9" height="16.07" fill="#ffcf00"/><rect x="966.6" y="700.40" width="21.9" height="16.07" fill="#f8fe00"/><rect x="966.6" y="715.88" width="21.9" height="16.07" fill="#b6f400"/><rect x="966.6" y="731.35" width="21.9" height="16.07" fill="#7dee00"/><rect x="966.6" y="746.83" width="21.9" height="16.07" fill="#4beb00"/><rect x="966.6" y="762.30" width="21.9" height="16.07" fill="#18e700"/><rect x="966.6" y="777.77" width="21.9" height="16.07" fill="#00e61e"/><rect x="966.6" y="793.25" width="21.9" height="16.07" fill="#00e65a"/><rect x="966.6" y="808.73" width="21.9" height="16.07" fill="#00e694"/><rect x="966.6" y="824.20" width="21.9" height="16.07" fill="#00e6cc"/><rect x="966.6" y="839.67" width="21.9" height="16.07" fill="#00e0ff"/><rect x="966.6" y="855.15" width="21.9" height="16.07" fill="#00afff"/><rect x="966.6" y="870.62" width="21.9" height="16.07" fill="#0084ff"/><rect x="966.6" y="886.10" width="21.9" height="16.07" fill="#0062ff"/><rect x="966.6" y="901.58" width="21.9" height="16.07" fill="#003fff"/><rect x="966.6" y="917.05" width="21.9" height="16.07" fill="#0025ff"/><rect x="966.6" y="932.52" width="21.9" height="16.07" fill="#000cff"/><text x="962.4" y="646.0" font-family="'Liberation Sans', sans-serif" font-size="19.5" fill="#111" text-anchor="end">10</text><text x="962.4" y="708.3" font-family="'Liberation Sans', sans-serif" font-size="19.5" fill="#111" text-anchor="end">8</text><text x="962.4" y="770.6" font-family="'Liberation Sans', sans-serif" font-size="19.5" fill="#111" text-anchor="end">6</text><text x="962.4" y="832.9" font-family="'Liberation Sans', sans-serif" font-size="19.5" fill="#111" text-anchor="end">4</text><text x="962.4" y="895.2" font-family="'Liberation Sans', sans-serif" font-size="19.5" fill="#111" text-anchor="end">2</text><text x="962.4" y="957.5" font-family="'Liberation Sans', sans-serif" font-size="19.5" fill="#111" text-anchor="end">0</text><text font-family="'Liberation Sans', sans-serif" font-size="18" fill="#111" transform="translate(971.3,723) rotate(90)" textLength="154" lengthAdjust="spacingAndGlyphs">Velocity (nm s<tspan font-size="11" dy="-7">-1</tspan><tspan dy="7">)</tspan></text><defs><linearGradient id="vg1175" x1="0" y1="0" x2="0" y2="1"><stop offset="0" stop-color="#111"/><stop offset="0.5" stop-color="#6a6a6a"/><stop offset="1" stop-color="#fafafa"/></linearGradient></defs><rect x="26.5" y="1175.5" width="20.1" height="300.5" fill="url(#vg1175)" stroke="#999" stroke-width="1.2"/><line x1="42.6" y1="1415.9" x2="46.6" y2="1415.9" stroke="#aaa" stroke-width="1"/><line x1="42.6" y1="1355.8" x2="46.6" y2="1355.8" stroke="#aaa" stroke-width="1"/><line x1="42.6" y1="1295.7" x2="46.6" y2="1295.7" stroke="#aaa" stroke-width="1"/><line x1="42.6" y1="1235.6" x2="46.6" y2="1235.6" stroke="#aaa" stroke-width="1"/><text x="7.0" y="1179.0" font-family="'Liberation Sans', sans-serif" font-size="19.5" fill="#111">5</text><text x="7.0" y="1240.9" font-family="'Liberation Sans', sans-serif" font-size="19.5" fill="#111">4</text><text x="7.0" y="1302.8" font-family="'Liberation Sans', sans-serif" font-size="19.5" fill="#111">3</text><text x="7.0" y="1364.7" font-family="'Liberation Sans', sans-serif" font-size="19.5" fill="#111">2</text><text x="7.0" y="1426.6" font-family="'Liberation Sans', sans-serif" font-size="19.5" fill="#111">1</text><text x="7.0" y="1488.5" font-family="'Liberation Sans', sans-serif" font-size="19.5" fill="#111">0</text><text font-family="'Liberation Sans', sans-serif" font-size="17" fill="#fff" transform="translate(30.5,1265) rotate(90)" textLength="144" lengthAdjust="spacingAndGlyphs">Vorticity (10<tspan font-size="10" dy="-7">-7</tspan><tspan dy="7">)</tspan></text><defs><linearGradient id="vg1606" x1="0" y1="0" x2="0" y2="1"><stop offset="0" stop-color="#111"/><stop offset="0.5" stop-color="#6a6a6a"/><stop offset="1" stop-color="#fafafa"/></linearGradient></defs><rect x="26.5" y="1606" width="20.1" height="299.5" fill="url(#vg1606)" stroke="#999" stroke-width="1.2"/><line x1="42.6" y1="1845.6" x2="46.6" y2="1845.6" stroke="#aaa" stroke-width="1"/><line x1="42.6" y1="1785.7" x2="46.6" y2="1785.7" stroke="#aaa" stroke-width="1"/><line x1="42.6" y1="1725.8" x2="46.6" y2="1725.8" stroke="#aaa" stroke-width="1"/><line x1="42.6" y1="1665.9" x2="46.6" y2="1665.9" stroke="#aaa" stroke-width="1"/><text x="7.0" y="1609.0" font-family="'Liberation Sans', sans-serif" font-size="19.5" fill="#111">5</text><text x="7.0" y="1671.0" font-family="'Liberation Sans', sans-serif" font-size="19.5" fill="#111">4</text><text x="7.0" y="1733.0" font-family="'Liberation Sans', sans-serif" font-size="19.5" fill="#111">3</text><text x="7.0" y="1795.0" font-family="'Liberation Sans', sans-serif" font-size="19.5" fill="#111">2</text><text x="7.0" y="1857.0" font-family="'Liberation Sans', sans-serif" font-size="19.5" fill="#111">1</text><text x="7.0" y="1919.0" font-family="'Liberation Sans', sans-serif" font-size="19.5" fill="#111">0</text><text font-family="'Liberation Sans', sans-serif" font-size="17" fill="#fff" transform="translate(30.5,1697) rotate(90)" textLength="144" lengthAdjust="spacingAndGlyphs">Vorticity (10<tspan font-size="10" dy="-7">-7</tspan><tspan dy="7">)</tspan></text><circle cx="1005.8" cy="41.9" r="7.2" fill="#000"/><line x1="1005.8" y1="41.9" x2="1029.8" y2="41.9" stroke="#000" stroke-width="1.6"/><polygon points="1028.8,35.3 1043.3,41.9 1028.8,48.5" fill="#000"/><line x1="1005.8" y1="41.9" x2="1005.8" y2="65.9" stroke="#000" stroke-width="1.6"/><polygon points="998.8,65.4 1005.8,79.4 1012.8,65.4" fill="#000"/><text x="1015.3" y="31.2" font-family="'Liberation Sans', sans-serif" font-size="19.5" fill="#000">Z</text><text x="983.0" y="66.9" font-family="'Liberation Sans', sans-serif" font-size="19.5" fill="#000">X</text><circle cx="1005.8" cy="412" r="7.2" fill="#000"/><line x1="1005.8" y1="412" x2="1029.8" y2="412" stroke="#000" stroke-width="1.6"/><polygon points="1028.8,405.4 1043.3,412 1028.8,418.6" fill="#000"/><line x1="1005.8" y1="412" x2="1005.8" y2="436.0" stroke="#000" stroke-width="1.6"/><polygon points="998.8,435.5 1005.8,449.5 1012.8,435.5" fill="#000"/><text x="1015.3" y="401.3" font-family="'Liberation Sans', sans-serif" font-size="19.5" fill="#000">Z</text><text x="983.0" y="437.0" font-family="'Liberation Sans', sans-serif" font-size="19.5" fill="#000">Y</text><circle cx="1005.5" cy="597" r="7.2" fill="#000"/><line x1="1005.5" y1="597" x2="1029.5" y2="597" stroke="#000" stroke-width="1.6"/><polygon points="1028.5,590.4 1043.0,597 1028.5,603.6" fill="#000"/><line x1="1005.5" y1="597" x2="1005.5" y2="621.0" stroke="#000" stroke-width="1.6"/><polygon points="998.5,620.5 1005.5,634.5 1012.5,620.5" fill="#000"/><text x="1015.0" y="586.3" font-family="'Liberation Sans', sans-serif" font-size="19.5" fill="#000">Z</text><text x="982.7" y="622.0" font-family="'Liberation Sans', sans-serif" font-size="19.5" fill="#000">X</text><circle cx="1005.5" cy="968" r="7.2" fill="#000"/><line x1="1005.5" y1="968" x2="1029.5" y2="968" stroke="#000" stroke-width="1.6"/><polygon points="1028.5,961.4 1043.0,968 1028.5,974.6" fill="#000"/><line x1="1005.5" y1="968" x2="1005.5" y2="992.0" stroke="#000" stroke-width="1.6"/><polygon points="998.5,991.5 1005.5,1005.5 1012.5,991.5" fill="#000"/><text x="1015.0" y="957.3" font-family="'Liberation Sans', sans-serif" font-size="19.5" fill="#000">Z</text><text x="982.7" y="993.0" font-family="'Liberation Sans', sans-serif" font-size="19.5" fill="#000">Y</text><circle cx="72" cy="1153" r="6.8" fill="#000"/><line x1="72" y1="1153" x2="94.8" y2="1153" stroke="#000" stroke-width="1.5"/><polygon points="93.8,1146.7 107.6,1153 93.8,1159.3" fill="#000"/><line x1="72" y1="1153" x2="72" y2="1175.8" stroke="#000" stroke-width="1.5"/><polygon points="65.3,1175.3 72.0,1188.6 78.7,1175.3" fill="#000"/><text x="81.0" y="1142.8" font-family="'Liberation Sans', sans-serif" font-size="18.5" fill="#000">Z</text><text x="50.3" y="1176.8" font-family="'Liberation Sans', sans-serif" font-size="18.5" fill="#000">Y</text><circle cx="72" cy="1579.4" r="6.8" fill="#000"/><line x1="72" y1="1579.4" x2="94.8" y2="1579.4" stroke="#000" stroke-width="1.5"/><polygon points="93.8,1573.1 107.6,1579.4 93.8,1585.7" fill="#000"/><line x1="72" y1="1579.4" x2="72" y2="1602.2" stroke="#000" stroke-width="1.5"/><polygon points="65.3,1601.7 72.0,1615.0 78.7,1601.7" fill="#000"/><text x="81.0" y="1569.2" font-family="'Liberation Sans', sans-serif" font-size="18.5" fill="#000">Z</text><text x="50.3" y="1603.2" font-family="'Liberation Sans', sans-serif" font-size="18.5" fill="#000">Y</text><text x="1347.0" y="47.0" font-family="'Liberation Sans', sans-serif" font-size="52" fill="#000" font-weight="bold">i</text><rect x="1425.8" y="235.6" width="547.9" height="209.4" fill="#f7f7f7"/><line x1="1425.8" y1="444.9" x2="1430.8" y2="444.9" stroke="#262626" stroke-width="1.2"/><line x1="1973.7" y1="444.9" x2="1968.7" y2="444.9" stroke="#262626" stroke-width="1.2"/><text x="1420.8" y="450.9" font-family="'Liberation Sans', sans-serif" font-size="17" fill="#333" text-anchor="end">-100</text><line x1="1425.8" y1="402.9" x2="1430.8" y2="402.9" stroke="#262626" stroke-width="1.2"/><line x1="1973.7" y1="402.9" x2="1968.7" y2="402.9" stroke="#262626" stroke-width="1.2"/><text x="1420.8" y="408.9" font-family="'Liberation Sans', sans-serif" font-size="17" fill="#333" text-anchor="end">-80</text><line x1="1425.8" y1="360.8" x2="1430.8" y2="360.8" stroke="#262626" stroke-width="1.2"/><line x1="1973.7" y1="360.8" x2="1968.7" y2="360.8" stroke="#262626" stroke-width="1.2"/><text x="1420.8" y="366.8" font-family="'Liberation Sans', sans-serif" font-size="17" fill="#333" text-anchor="end">-60</text><line x1="1425.8" y1="318.7" x2="1430.8" y2="318.7" stroke="#262626" stroke-width="1.2"/><line x1="1973.7" y1="318.7" x2="1968.7" y2="318.7" stroke="#262626" stroke-width="1.2"/><text x="1420.8" y="324.7" font-family="'Liberation Sans', sans-serif" font-size="17" fill="#333" text-anchor="end">-40</text><line x1="1425.8" y1="276.7" x2="1430.8" y2="276.7" stroke="#262626" stroke-width="1.2"/><line x1="1973.7" y1="276.7" x2="1968.7" y2="276.7" stroke="#262626" stroke-width="1.2"/><text x="1420.8" y="282.7" font-family="'Liberation Sans', sans-serif" font-size="17" fill="#333" text-anchor="end">-20</text><line x1="1425.8" y1="234.6" x2="1430.8" y2="234.6" stroke="#262626" stroke-width="1.2"/><line x1="1973.7" y1="234.6" x2="1968.7" y2="234.6" stroke="#262626" stroke-width="1.2"/><text x="1420.8" y="240.6" font-family="'Liberation Sans', sans-serif" font-size="17" fill="#333" text-anchor="end">0</text><line x1="1425.8" y1="192.5" x2="1430.8" y2="192.5" stroke="#262626" stroke-width="1.2"/><line x1="1973.7" y1="192.5" x2="1968.7" y2="192.5" stroke="#262626" stroke-width="1.2"/><text x="1420.8" y="198.5" font-family="'Liberation Sans', sans-serif" font-size="17" fill="#333" text-anchor="end">20</text><line x1="1425.8" y1="150.5" x2="1430.8" y2="150.5" stroke="#262626" stroke-width="1.2"/><line x1="1973.7" y1="150.5" x2="1968.7" y2="150.5" stroke="#262626" stroke-width="1.2"/><text x="1420.8" y="156.5" font-family="'Liberation Sans', sans-serif" font-size="17" fill="#333" text-anchor="end">40</text><line x1="1425.8" y1="108.4" x2="1430.8" y2="108.4" stroke="#262626" stroke-width="1.2"/><line x1="1973.7" y1="108.4" x2="1968.7" y2="108.4" stroke="#262626" stroke-width="1.2"/><text x="1420.8" y="114.4" font-family="'Liberation Sans', sans-serif" font-size="17" fill="#333" text-anchor="end">60</text><line x1="1425.8" y1="66.3" x2="1430.8" y2="66.3" stroke="#262626" stroke-width="1.2"/><line x1="1973.7" y1="66.3" x2="1968.7" y2="66.3" stroke="#262626" stroke-width="1.2"/><text x="1420.8" y="72.3" font-family="'Liberation Sans', sans-serif" font-size="17" fill="#333" text-anchor="end">80</text><line x1="1425.8" y1="24.2" x2="1430.8" y2="24.2" stroke="#262626" stroke-width="1.2"/><line x1="1973.7" y1="24.2" x2="1968.7" y2="24.2" stroke="#262626" stroke-width="1.2"/><text x="1420.8" y="30.2" font-family="'Liberation Sans', sans-serif" font-size="17" fill="#333" text-anchor="end">100</text><line x1="1425.8" y1="445.0" x2="1425.8" y2="440.0" stroke="#262626" stroke-width="1.2"/><line x1="1425.8" y1="24.3" x2="1425.8" y2="29.3" stroke="#262626" stroke-width="1.2"/><text x="1425.8" y="469.4" font-family="'Liberation Sans', sans-serif" font-size="17" fill="#333" text-anchor="middle">0</text><line x1="1562.8" y1="445.0" x2="1562.8" y2="440.0" stroke="#262626" stroke-width="1.2"/><line x1="1562.8" y1="24.3" x2="1562.8" y2="29.3" stroke="#262626" stroke-width="1.2"/><text x="1562.8" y="469.4" font-family="'Liberation Sans', sans-serif" font-size="17" fill="#333" text-anchor="middle">0.5</text><line x1="1699.8" y1="445.0" x2="1699.8" y2="440.0" stroke="#262626" stroke-width="1.2"/><line x1="1699.8" y1="24.3" x2="1699.8" y2="29.3" stroke="#262626" stroke-width="1.2"/><text x="1699.8" y="469.4" font-family="'Liberation Sans', sans-serif" font-size="17" fill="#333" text-anchor="middle">1</text><line x1="1836.7" y1="445.0" x2="1836.7" y2="440.0" stroke="#262626" stroke-width="1.2"/><line x1="1836.7" y1="24.3" x2="1836.7" y2="29.3" stroke="#262626" stroke-width="1.2"/><text x="1836.7" y="469.4" font-family="'Liberation Sans', sans-serif" font-size="17" fill="#333" text-anchor="middle">1.5</text><line x1="1973.7" y1="445.0" x2="1973.7" y2="440.0" stroke="#262626" stroke-width="1.2"/><line x1="1973.7" y1="24.3" x2="1973.7" y2="29.3" stroke="#262626" stroke-width="1.2"/><text x="1973.7" y="469.4" font-family="'Liberation Sans', sans-serif" font-size="17" fill="#333" text-anchor="middle">2</text><rect x="1425.8" y="24.3" width="547.9" height="420.7" fill="none" stroke="#262626" stroke-width="1.3"/><polyline points="1425.8,234.6 1840,24.3" fill="none" stroke="#000" stroke-width="1.6"/><polyline points="1426.8,444.9 1426.8,442.8 1426.8,440.7 1426.8,438.6 1426.8,436.5 1426.8,434.4 1426.8,432.3 1426.8,430.2 1426.8,428.1 1426.8,426.0 1426.8,423.9 1426.8,421.8 1426.8,419.7 1426.8,417.6 1426.8,415.5 1426.8,413.4 1426.8,411.3 1426.8,409.2 1426.8,407.1 1426.8,405.0 1426.8,402.9 1426.8,400.8 1426.8,398.7 1426.8,396.6 1426.8,394.5 1426.8,392.4 1426.8,390.3 1426.8,388.2 1426.8,386.1 1426.8,383.9 1426.8,381.8 1426.8,379.7 1426.8,377.6 1426.8,375.5 1426.8,373.4 1426.8,371.3 1426.8,369.2 1426.8,367.1 1426.8,365.0 1426.8,362.9 1426.8,360.8 1426.8,358.7 1426.8,356.6 1426.8,354.5 1426.8,352.4 1426.8,350.3 1426.8,348.2 1426.8,346.1 1426.8,344.0 1426.8,341.9 1426.8,339.8 1426.8,337.7 1426.8,335.6 1426.8,333.5 1426.8,331.4 1426.8,329.3 1426.8,327.2 1426.8,325.1 1426.8,322.9 1426.8,320.8 1426.8,318.7 1426.8,316.6 1426.8,314.5 1426.8,312.4 1426.8,310.3 1426.8,308.2 1426.8,306.1 1426.8,304.0 1426.8,301.9 1426.8,299.8 1426.8,297.7 1426.8,295.6 1426.8,293.5 1426.8,291.4 1426.8,289.3 1426.8,287.2 1426.8,285.1 1426.8,283.0 1426.8,280.9 1426.8,278.8 1426.8,276.7 1426.8,274.6 1426.8,272.5 1426.8,270.4 1426.8,268.3 1426.9,266.2 1426.9,264.0 1426.9,261.9 1427.0,259.8 1427.0,257.7 1427.1,255.6 1427.2,253.5 1427.4,251.4 1427.7,249.3 1428.0,247.2 1428.4,245.1 1429.0,243.0 1429.8,240.9 1430.9,238.8 1432.3,236.7 1434.3,234.6 1434.0,234.6 1871.0,24.3" fill="none" stroke="#2222dd" stroke-width="1.6"/><polyline points="1426.9,444.9 1426.9,443.9 1427.0,442.8 1427.0,441.8 1427.0,440.7 1427.0,439.7 1427.0,438.6 1427.0,437.6 1427.0,436.5 1427.0,435.5 1427.0,434.4 1427.0,433.4 1427.0,432.3 1427.0,431.3 1427.0,430.2 1427.0,429.2 1427.0,428.1 1427.0,427.1 1427.0,426.0 1427.1,425.0 1427.1,423.9 1427.1,422.9 1427.1,421.8 1427.1,420.8 1427.1,419.7 1427.1,418.7 1427.1,417.6 1427.1,416.6 1427.1,415.5 1427.2,414.4 1427.2,413.4 1427.2,412.3 1427.2,411.3 1427.2,410.2 1427.2,409.2 1427.2,408.1 1427.2,407.1 1427.3,406.0 1427.3,405.0 1427.3,403.9 1427.3,402.9 1427.3,401.8 1427.3,400.8 1427.3,399.7 1427.4,398.7 1427.4,397.6 1427.4,396.6 1427.4,395.5 1427.4,394.5 1427.5,393.4 1427.5,392.4 1427.5,391.3 1427.5,390.3 1427.5,389.2 1427.6,388.2 1427.6,387.1 1427.6,386.1 1427.6,385.0 1427.7,383.9 1427.7,382.9 1427.7,381.8 1427.8,380.8 1427.8,379.7 1427.8,378.7 1427.8,377.6 1427.9,376.6 1427.9,375.5 1428.0,374.5 1428.0,373.4 1428.0,372.4 1428.1,371.3 1428.1,370.3 1428.1,369.2 1428.2,368.2 1428.2,367.1 1428.3,366.1 1428.3,365.0 1428.4,364.0 1428.4,362.9 1428.5,361.9 1428.5,360.8 1428.6,359.8 1428.6,358.7 1428.7,357.7 1428.8,356.6 1428.8,355.6 1428.9,354.5 1429.0,353.4 1429.0,352.4 1429.1,351.3 1429.2,350.3 1429.2,349.2 1429.3,348.2 1429.4,347.1 1429.5,346.1 1429.6,345.0 1429.6,344.0 1429.7,342.9 1429.8,341.9 1429.9,340.8 1430.0,339.8 1430.1,338.7 1430.2,337.7 1430.3,336.6 1430.5,335.6 1430.6,334.5 1430.7,333.5 1430.8,332.4 1430.9,331.4 1431.1,330.3 1431.2,329.3 1431.4,328.2 1431.5,327.2 1431.6,326.1 1431.8,325.1 1432.0,324.0 1432.1,322.9 1432.3,321.9 1432.5,320.8 1432.6,319.8 1432.8,318.7 1433.0,317.7 1433.2,316.6 1433.4,315.6 1433.6,314.5 1433.9,313.5 1434.1,312.4 1434.3,311.4 1434.5,310.3 1434.8,309.3 1435.0,308.2 1435.3,307.2 1435.6,306.1 1435.9,305.1 1436.1,304.0 1436.4,303.0 1436.7,301.9 1437.1,300.9 1437.4,299.8 1437.7,298.8 1438.1,297.7 1438.4,296.7 1438.8,295.6 1439.2,294.5 1439.6,293.5 1440.0,292.4 1440.4,291.4 1440.8,290.3 1441.3,289.3 1441.7,288.2 1442.2,287.2 1442.7,286.1 1443.2,285.1 1443.7,284.0 1444.3,283.0 1444.8,281.9 1445.4,280.9 1446.0,279.8 1446.6,278.8 1447.2,277.7 1447.9,276.7 1448.5,275.6 1449.2,274.6 1449.9,273.5 1450.7,272.5 1451.4,271.4 1452.2,270.4 1453.0,269.3 1453.8,268.3 1454.7,267.2 1455.6,266.2 1456.5,265.1 1457.4,264.0 1458.4,263.0 1459.4,261.9 1460.5,260.9 1461.5,259.8 1462.6,258.8 1463.8,257.7 1464.9,256.7 1466.1,255.6 1467.4,254.6 1468.7,253.5 1470.0,252.5 1471.4,251.4 1472.8,250.4 1474.3,249.3 1475.8,248.3 1477.3,247.2 1478.9,246.2 1480.6,245.1 1482.3,244.1 1484.0,243.0 1485.9,242.0 1487.7,240.9 1489.7,239.9 1491.7,238.8 1493.7,237.8 1495.8,236.7 1498.0,235.7 1500.3,234.6 1504.7,232.5 1509.1,230.4 1513.6,228.3 1518.0,226.2 1522.4,224.1 1526.8,222.0 1531.2,219.9 1535.7,217.8 1540.1,215.7 1544.5,213.6 1548.9,211.5 1553.3,209.4 1557.8,207.3 1562.2,205.2 1566.6,203.0 1571.0,200.9 1575.4,198.8 1579.9,196.7 1584.3,194.6 1588.7,192.5 1593.1,190.4 1597.5,188.3 1602.0,186.2 1606.4,184.1 1610.8,182.0 1615.2,179.9 1619.6,177.8 1624.1,175.7 1628.5,173.6 1632.9,171.5 1637.3,169.4 1641.7,167.3 1646.2,165.2 1650.6,163.1 1655.0,161.0 1659.4,158.9 1663.8,156.8 1668.3,154.7 1672.7,152.6 1677.1,150.5 1681.5,148.4 1685.9,146.3 1690.4,144.1 1694.8,142.0 1699.2,139.9 1703.6,137.8 1708.0,135.7 1712.5,133.6 1716.9,131.5 1721.3,129.4 1725.7,127.3 1730.1,125.2 1734.6,123.1 1739.0,121.0 1743.4,118.9 1747.8,116.8 1752.2,114.7 1756.7,112.6 1761.1,110.5 1765.5,108.4 1769.9,106.3 1774.3,104.2 1778.8,102.1 1783.2,100.0 1787.6,97.9 1792.0,95.8 1796.4,93.7 1800.9,91.6 1805.3,89.5 1809.7,87.4 1814.1,85.3 1818.5,83.1 1823.0,81.0 1827.4,78.9 1831.8,76.8 1836.2,74.7 1840.6,72.6 1845.1,70.5 1849.5,68.4 1853.9,66.3 1858.3,64.2 1862.7,62.1 1867.2,60.0 1871.6,57.9 1876.0,55.8 1880.4,53.7 1884.8,51.6 1889.3,49.5 1893.7,47.4 1898.1,45.3 1902.5,43.2 1906.9,41.1 1911.4,39.0 1915.8,36.9 1920.2,34.8 1924.6,32.7 1929.0,30.6 1933.5,28.5 1937.9,26.4 1942.3,24.2" fill="none" stroke="#e8403a" stroke-width="1.4"/><line x1="1425.8" y1="236" x2="1973.7" y2="236" stroke="#000" stroke-width="3" stroke-dasharray="11 7"/><line x1="1452" y1="51.5" x2="1513" y2="51.5" stroke="#000" stroke-width="1.6"/><text x="1528.6" y="60.7" font-family="'Liberation Sans', sans-serif" font-size="24" fill="#111" textLength="38.0" lengthAdjust="spacingAndGlyphs">Flat</text><line x1="1452" y1="78" x2="1513" y2="78" stroke="#2222dd" stroke-width="1.6"/><text x="1528.6" y="87.2" font-family="'Liberation Sans', sans-serif" font-size="24" fill="#111" textLength="52.0" lengthAdjust="spacingAndGlyphs">PSNF</text><line x1="1452" y1="104" x2="1513" y2="104" stroke="#e8403a" stroke-width="1.6"/><text x="1528.6" y="113.2" font-family="'Liberation Sans', sans-serif" font-size="24" fill="#111" textLength="54.0" lengthAdjust="spacingAndGlyphs">BSNF</text><text x="1569.0" y="225.0" font-family="'Liberation Sans', sans-serif" font-size="26.3" fill="#111" font-weight="bold" textLength="97.0" lengthAdjust="spacingAndGlyphs">Channel</text><text x="1546.0" y="267.5" font-family="'Liberation Sans', sans-serif" font-size="26.3" fill="#111" font-weight="bold" textLength="120.0" lengthAdjust="spacingAndGlyphs">Nanopore</text><text x="1475.0" y="350.0" font-family="'Liberation Sans', sans-serif" font-size="26.3" fill="#e60000" font-weight="bold" textLength="147.0" lengthAdjust="spacingAndGlyphs">Slip velocity</text><line x1="1503.5" y1="327" x2="1503.5" y2="252" stroke="#e60000" stroke-width="1.8"/><polygon points="1495.3,255.3 1503.5,238.9 1511.7,255.3" fill="#e60000"/><text x="1551.0" y="510.7" font-family="'Liberation Sans', sans-serif" font-size="31.5" fill="#111" font-weight="bold" textLength="289.0" lengthAdjust="spacingAndGlyphs">Flow velocity(m/s)</text><text x="0.0" y="0.0" font-family="'Liberation Sans', sans-serif" font-size="30" fill="#111" font-weight="bold" textLength="299.0" lengthAdjust="spacingAndGlyphs" transform="translate(1371.5,391) rotate(-90)">Channel width(nm)</text><text x="1928.0" y="497.0" font-family="'Liberation Sans', sans-serif" font-size="16.5" fill="#555">×10</text><text x="1961.0" y="488.0" font-family="'Liberation Sans', sans-serif" font-size="11" fill="#555">-7</text><line x1="1742.6" y1="251.5" x2="1742.6" y2="397.2" stroke="#666" stroke-width="1.1"/><line x1="1742.6" y1="397.2" x2="1958.4" y2="397.2" stroke="#666" stroke-width="1.1"/><line x1="1742.6" y1="397.2" x2="1745.1" y2="397.2" stroke="#666" stroke-width="1"/><text x="1735.6" y="401.7" font-family="'Liberation Sans', sans-serif" font-size="12.5" fill="#666" text-anchor="end">0</text><line x1="1742.6" y1="348.6" x2="1745.1" y2="348.6" stroke="#666" stroke-width="1"/><text x="1735.6" y="353.1" font-family="'Liberation Sans', sans-serif" font-size="12.5" fill="#666" text-anchor="end">100</text><line x1="1742.6" y1="300.1" x2="1745.1" y2="300.1" stroke="#666" stroke-width="1"/><text x="1735.6" y="304.6" font-family="'Liberation Sans', sans-serif" font-size="12.5" fill="#666" text-anchor="end">200</text><line x1="1742.6" y1="251.5" x2="1745.1" y2="251.5" stroke="#666" stroke-width="1"/><text x="1735.6" y="256.0" font-family="'Liberation Sans', sans-serif" font-size="12.5" fill="#666" text-anchor="end">300</text><line x1="1742.6" y1="397.2" x2="1742.6" y2="394.7" stroke="#666" stroke-width="1"/><text x="1742.6" y="417.0" font-family="'Liberation Sans', sans-serif" font-size="12.5" fill="#666" text-anchor="middle">0</text><line x1="1814.5" y1="397.2" x2="1814.5" y2="394.7" stroke="#666" stroke-width="1"/><text x="1814.5" y="417.0" font-family="'Liberation Sans', sans-serif" font-size="12.5" fill="#666" text-anchor="middle">1</text><line x1="1886.5" y1="397.2" x2="1886.5" y2="394.7" stroke="#666" stroke-width="1"/><text x="1886.5" y="417.0" font-family="'Liberation Sans', sans-serif" font-size="12.5" fill="#666" text-anchor="middle">2</text><line x1="1958.4" y1="397.2" x2="1958.4" y2="394.7" stroke="#666" stroke-width="1"/><text x="1958.4" y="417.0" font-family="'Liberation Sans', sans-serif" font-size="12.5" fill="#666" text-anchor="middle">3</text><line x1="1747.5" y1="391" x2="1935.4" y2="251.5" stroke="#333" stroke-width="1.3"/><circle cx="1747.2" cy="397.7" r="2.2" fill="#000"/><circle cx="1765" cy="370.4" r="2.2" fill="#000"/><circle cx="1935" cy="251.5" r="2.2" fill="#000"/><text x="1779.0" y="434.6" font-family="'Liberation Sans', sans-serif" font-size="18" fill="#111" font-weight="bold" textLength="153.0" lengthAdjust="spacingAndGlyphs">Slip velocity(m/s)</text><text x="0.0" y="0.0" font-family="'Liberation Sans', sans-serif" font-size="18.6" fill="#111" font-weight="bold" textLength="134.0" lengthAdjust="spacingAndGlyphs" transform="translate(1700.3,393.4) rotate(-90)">Slip length(nm)</text><text x="1346.0" y="583.0" font-family="'Liberation Sans', sans-serif" font-size="52" fill="#000" font-weight="bold">j</text><line x1="1426.0" y1="1008.5" x2="1431.0" y2="1008.5" stroke="#2b2b80" stroke-width="1.2"/><text x="1420.0" y="1014.5" font-family="'Liberation Sans', sans-serif" font-size="16.5" fill="#3d3d8f" text-anchor="end">0</text><line x1="1426.0" y1="966.1" x2="1431.0" y2="966.1" stroke="#2b2b80" stroke-width="1.2"/><text x="1420.0" y="972.1" font-family="'Liberation Sans', sans-serif" font-size="16.5" fill="#3d3d8f" text-anchor="end">10</text><line x1="1426.0" y1="923.8" x2="1431.0" y2="923.8" stroke="#2b2b80" stroke-width="1.2"/><text x="1420.0" y="929.8" font-family="'Liberation Sans', sans-serif" font-size="16.5" fill="#3d3d8f" text-anchor="end">20</text><line x1="1426.0" y1="881.5" x2="1431.0" y2="881.5" stroke="#2b2b80" stroke-width="1.2"/><text x="1420.0" y="887.5" font-family="'Liberation Sans', sans-serif" font-size="16.5" fill="#3d3d8f" text-anchor="end">30</text><line x1="1426.0" y1="839.1" x2="1431.0" y2="839.1" stroke="#2b2b80" stroke-width="1.2"/><text x="1420.0" y="845.1" font-family="'Liberation Sans', sans-serif" font-size="16.5" fill="#3d3d8f" text-anchor="end">40</text><line x1="1426.0" y1="796.8" x2="1431.0" y2="796.8" stroke="#2b2b80" stroke-width="1.2"/><text x="1420.0" y="802.8" font-family="'Liberation Sans', sans-serif" font-size="16.5" fill="#3d3d8f" text-anchor="end">50</text><line x1="1426.0" y1="754.4" x2="1431.0" y2="754.4" stroke="#2b2b80" stroke-width="1.2"/><text x="1420.0" y="760.4" font-family="'Liberation Sans', sans-serif" font-size="16.5" fill="#3d3d8f" text-anchor="end">60</text><line x1="1426.0" y1="712.0" x2="1431.0" y2="712.0" stroke="#2b2b80" stroke-width="1.2"/><text x="1420.0" y="718.0" font-family="'Liberation Sans', sans-serif" font-size="16.5" fill="#3d3d8f" text-anchor="end">70</text><line x1="1426.0" y1="669.7" x2="1431.0" y2="669.7" stroke="#2b2b80" stroke-width="1.2"/><text x="1420.0" y="675.7" font-family="'Liberation Sans', sans-serif" font-size="16.5" fill="#3d3d8f" text-anchor="end">80</text><line x1="1426.0" y1="627.3" x2="1431.0" y2="627.3" stroke="#2b2b80" stroke-width="1.2"/><text x="1420.0" y="633.3" font-family="'Liberation Sans', sans-serif" font-size="16.5" fill="#3d3d8f" text-anchor="end">90</text><line x1="1426.0" y1="585.0" x2="1431.0" y2="585.0" stroke="#2b2b80" stroke-width="1.2"/><text x="1420.0" y="591.0" font-family="'Liberation Sans', sans-serif" font-size="16.5" fill="#3d3d8f" text-anchor="end">100</text><line x1="1911.0" y1="1008.5" x2="1906.0" y2="1008.5" stroke="#a03030" stroke-width="1.2"/><text x="1918.0" y="1014.5" font-family="'Liberation Sans', sans-serif" font-size="16.5" fill="#b03535">31</text><line x1="1911.0" y1="867.3" x2="1906.0" y2="867.3" stroke="#a03030" stroke-width="1.2"/><text x="1918.0" y="873.3" font-family="'Liberation Sans', sans-serif" font-size="16.5" fill="#b03535">31.5</text><line x1="1911.0" y1="726.2" x2="1906.0" y2="726.2" stroke="#a03030" stroke-width="1.2"/><text x="1918.0" y="732.2" font-family="'Liberation Sans', sans-serif" font-size="16.5" fill="#b03535">32</text><line x1="1911.0" y1="585.0" x2="1906.0" y2="585.0" stroke="#a03030" stroke-width="1.2"/><text x="1918.0" y="591.0" font-family="'Liberation Sans', sans-serif" font-size="16.5" fill="#b03535">32.5</text><line x1="1426.0" y1="1008.5" x2="1426.0" y2="1003.5" stroke="#333" stroke-width="1.2"/><line x1="1426.0" y1="585.0" x2="1426.0" y2="590.0" stroke="#333" stroke-width="1.2"/><text x="1426.0" y="1032.0" font-family="'Liberation Sans', sans-serif" font-size="16.5" fill="#333" text-anchor="middle">0</text><line x1="1486.6" y1="1008.5" x2="1486.6" y2="1003.5" stroke="#333" stroke-width="1.2"/><line x1="1486.6" y1="585.0" x2="1486.6" y2="590.0" stroke="#333" stroke-width="1.2"/><text x="1486.6" y="1032.0" font-family="'Liberation Sans', sans-serif" font-size="16.5" fill="#333" text-anchor="middle">0.5</text><line x1="1547.2" y1="1008.5" x2="1547.2" y2="1003.5" stroke="#333" stroke-width="1.2"/><line x1="1547.2" y1="585.0" x2="1547.2" y2="590.0" stroke="#333" stroke-width="1.2"/><text x="1547.2" y="1032.0" font-family="'Liberation Sans', sans-serif" font-size="16.5" fill="#333" text-anchor="middle">1</text><line x1="1607.9" y1="1008.5" x2="1607.9" y2="1003.5" stroke="#333" stroke-width="1.2"/><line x1="1607.9" y1="585.0" x2="1607.9" y2="590.0" stroke="#333" stroke-width="1.2"/><text x="1607.9" y="1032.0" font-family="'Liberation Sans', sans-serif" font-size="16.5" fill="#333" text-anchor="middle">1.5</text><line x1="1668.5" y1="1008.5" x2="1668.5" y2="1003.5" stroke="#333" stroke-width="1.2"/><line x1="1668.5" y1="585.0" x2="1668.5" y2="590.0" stroke="#333" stroke-width="1.2"/><text x="1668.5" y="1032.0" font-family="'Liberation Sans', sans-serif" font-size="16.5" fill="#333" text-anchor="middle">2</text><line x1="1729.1" y1="1008.5" x2="1729.1" y2="1003.5" stroke="#333" stroke-width="1.2"/><line x1="1729.1" y1="585.0" x2="1729.1" y2="590.0" stroke="#333" stroke-width="1.2"/><text x="1729.1" y="1032.0" font-family="'Liberation Sans', sans-serif" font-size="16.5" fill="#333" text-anchor="middle">2.5</text><line x1="1789.8" y1="1008.5" x2="1789.8" y2="1003.5" stroke="#333" stroke-width="1.2"/><line x1="1789.8" y1="585.0" x2="1789.8" y2="590.0" stroke="#333" stroke-width="1.2"/><text x="1789.8" y="1032.0" font-family="'Liberation Sans', sans-serif" font-size="16.5" fill="#333" text-anchor="middle">3</text><line x1="1850.4" y1="1008.5" x2="1850.4" y2="1003.5" stroke="#333" stroke-width="1.2"/><line x1="1850.4" y1="585.0" x2="1850.4" y2="590.0" stroke="#333" stroke-width="1.2"/><text x="1850.4" y="1032.0" font-family="'Liberation Sans', sans-serif" font-size="16.5" fill="#333" text-anchor="middle">3.5</text><line x1="1911.0" y1="1008.5" x2="1911.0" y2="1003.5" stroke="#333" stroke-width="1.2"/><line x1="1911.0" y1="585.0" x2="1911.0" y2="590.0" stroke="#333" stroke-width="1.2"/><text x="1911.0" y="1032.0" font-family="'Liberation Sans', sans-serif" font-size="16.5" fill="#333" text-anchor="middle">4</text><line x1="1426.0" y1="585.0" x2="1911.0" y2="585.0" stroke="#333" stroke-width="1.3"/><line x1="1426.0" y1="1008.5" x2="1911.0" y2="1008.5" stroke="#333" stroke-width="1.3"/><line x1="1426.0" y1="585.0" x2="1426.0" y2="1008.5" stroke="#2b2b80" stroke-width="1.3"/><line x1="1911.0" y1="585.0" x2="1911.0" y2="1008.5" stroke="#a03030" stroke-width="1.3"/><polyline points="1426.0,669.7 1432.1,671.5 1438.1,673.4 1444.2,675.3 1450.2,677.3 1456.3,679.2 1462.4,681.2 1468.4,683.3 1474.5,685.4 1480.6,687.5 1486.6,689.6 1492.7,691.8 1498.8,694.0 1504.8,696.2 1510.9,698.5 1516.9,700.8 1523.0,703.2 1529.1,705.6 1535.1,708.0 1541.2,710.4 1547.2,712.9 1553.3,715.4 1559.4,718.0 1565.4,720.6 1571.5,723.2 1577.6,725.8 1583.6,728.5 1589.7,731.2 1595.8,734.0 1601.8,736.8 1607.9,739.6 1613.9,742.4 1620.0,745.3 1626.1,748.3 1632.1,751.2 1638.2,754.2 1644.2,757.2 1650.3,760.3 1656.4,763.4 1662.4,766.5 1668.5,769.7 1674.6,772.9 1680.6,776.1 1686.7,779.3 1692.8,782.6 1698.8,786.0 1704.9,789.3 1710.9,792.7 1717.0,796.2 1723.1,799.6 1729.1,803.1 1735.2,806.6 1741.2,810.2 1747.3,813.8 1753.4,817.4 1759.4,821.1 1765.5,824.8 1771.6,828.5 1777.6,832.3 1783.7,836.1 1789.8,840.0 1795.8,843.8 1801.9,847.7 1807.9,851.7 1814.0,855.6 1820.1,859.6 1826.1,863.7 1832.2,867.8 1838.2,871.9 1844.3,876.0 1850.4,880.2 1856.4,884.4 1862.5,888.6 1868.6,892.9 1874.6,897.2 1880.7,901.6 1886.8,905.9 1892.8,910.4 1898.9,914.8 1904.9,919.3 1911.0,923.8" fill="none" stroke="#a33a3a" stroke-width="1.8" stroke-dasharray="10 6"/><polyline points="1426.0,928.0 1432.1,926.9 1438.1,925.8 1444.2,924.5 1450.2,923.2 1456.3,921.9 1462.4,920.5 1468.4,919.0 1474.5,917.5 1480.6,915.9 1486.6,914.2 1492.7,912.5 1498.8,910.8 1504.8,908.9 1510.9,907.0 1516.9,905.1 1523.0,903.1 1529.1,901.0 1535.1,898.9 1541.2,896.7 1547.2,894.4 1553.3,892.1 1559.4,889.7 1565.4,887.3 1571.5,884.8 1577.6,882.2 1583.6,879.6 1589.7,876.9 1595.8,874.2 1601.8,871.4 1607.9,868.5 1613.9,865.6 1620.0,862.6 1626.1,859.6 1632.1,856.5 1638.2,853.3 1644.2,850.1 1650.3,846.8 1656.4,843.5 1662.4,840.1 1668.5,836.6 1674.6,833.1 1680.6,829.5 1686.7,825.9 1692.8,822.1 1698.8,818.4 1704.9,814.6 1710.9,810.7 1717.0,806.7 1723.1,802.7 1729.1,798.6 1735.2,794.5 1741.2,790.3 1747.3,786.1 1753.4,781.8 1759.4,777.4 1765.5,773.0 1771.6,768.5 1777.6,763.9 1783.7,759.3 1789.8,754.6 1795.8,749.9 1801.9,745.1 1807.9,740.3 1814.0,735.3 1820.1,730.4 1826.1,725.3 1832.2,720.2 1838.2,715.1 1844.3,709.9 1850.4,704.6 1856.4,699.2 1862.5,693.9 1868.6,688.4 1874.6,682.9 1880.7,677.3 1886.8,671.7 1892.8,666.0 1898.9,660.2 1904.9,654.4 1911.0,648.5" fill="none" stroke="#2a2a7a" stroke-width="1.8" stroke-dasharray="10 6"/><circle cx="1426.0" cy="669.7" r="5.3" fill="#e01818"/><circle cx="1692.8" cy="782.6" r="5.3" fill="#e01818"/><circle cx="1911.0" cy="923.8" r="5.3" fill="#e01818"/><circle cx="1426.0" cy="928.0" r="5.3" fill="#1c1cf0"/><circle cx="1692.8" cy="822.2" r="5.3" fill="#1c1cf0"/><circle cx="1911.0" cy="648.5" r="5.3" fill="#1c1cf0"/><text x="1456" y="648" font-family="'Liberation Serif', serif" font-size="31" fill="#c00000" textLength="422" lengthAdjust="spacingAndGlyphs"><tspan font-style="italic">y</tspan> = −23990<tspan font-style="italic">x</tspan><tspan font-size="19" dy="-12">2</tspan><tspan dy="12"> </tspan>− 129.04<tspan font-style="italic">x</tspan> + 32.2</text><text x="1461" y="955" font-family="'Liberation Serif', serif" font-size="31" fill="#0000c8" textLength="379" lengthAdjust="spacingAndGlyphs"><tspan font-style="italic">y</tspan> = 30000<tspan font-style="italic">x</tspan><tspan font-size="19" dy="-12">2</tspan><tspan dy="12"> </tspan>+ 5085.9<tspan font-style="italic">x</tspan> + 19</text><text x="1534.0" y="1078.0" font-family="'Liberation Sans', sans-serif" font-size="32" fill="#111" font-weight="bold" textLength="275.0" lengthAdjust="spacingAndGlyphs">Vorticity strength</text><text x="0.0" y="0.0" font-family="'Liberation Sans', sans-serif" font-size="32" fill="#0a0aa0" font-weight="bold" textLength="346.0" lengthAdjust="spacingAndGlyphs" transform="translate(1371,972) rotate(-90)">Mean gray value (a.u.)</text><text x="0.0" y="0.0" font-family="'Liberation Sans', sans-serif" font-size="32" fill="#e00000" font-weight="bold" textLength="305.0" lengthAdjust="spacingAndGlyphs" transform="translate(1984,953) rotate(-90)">Cycle threshold (Ct)</text><text x="1869.0" y="1059.0" font-family="'Liberation Sans', sans-serif" font-size="15" fill="#555">×10</text><text x="1899.0" y="1050.0" font-family="'Liberation Sans', sans-serif" font-size="10" fill="#555">-3</text><text x="523.0" y="1123.0" font-family="'Liberation Sans', sans-serif" font-size="54" fill="#000" font-weight="bold">k</text><text x="637.0" y="1207.5" font-family="'Liberation Sans', sans-serif" font-size="21.5" fill="#111" text-anchor="middle" textLength="99.0" lengthAdjust="spacingAndGlyphs">Flow inlet</text><polygon points="628.8,1216.6 645.8,1216.6 645.8,1230.3 653.8,1230.3 637.3,1248.5 620.8,1230.3 628.8,1230.3" fill="#000"/><polygon points="628.8,1830 645.8,1830 645.8,1844.2 653.8,1844.2 637.3,1863 620.8,1844.2 628.8,1844.2" fill="#000"/><rect x="583.3" y="1392.4" width="109.3" height="101.1" fill="#f5f5f5"/><polygon points="613,1264.4 661.6,1264.4 661.6,1366 710.8,1457 710.8,1632 661.6,1723.5 661.6,1823 613,1823 613,1723.5 563.7,1632 563.7,1457 613,1366" fill="none" stroke="#111" stroke-width="2"/><rect x="588" y="1483" width="98.6" height="12" fill="#6f82f0"/><rect x="588" y="1495" width="98.6" height="14" fill="#3a57e6"/><rect x="583.3" y="1392.4" width="109.3" height="101.1" fill="none" stroke="#d42a2a" stroke-width="1.8"/><text x="639.0" y="1440.0" font-family="'Liberation Sans', sans-serif" font-size="15.5" fill="#d42a2a" text-anchor="middle" textLength="95.0" lengthAdjust="spacingAndGlyphs">Visualization</text><text x="639.0" y="1460.0" font-family="'Liberation Sans', sans-serif" font-size="15.5" fill="#d42a2a" text-anchor="middle">Area</text><text x="636.0" y="1535.0" font-family="'Liberation Sans', sans-serif" font-size="20.5" fill="#4a63d8" text-anchor="middle" textLength="36.0" lengthAdjust="spacingAndGlyphs">PET</text><line x1="570" y1="1603.6" x2="704" y2="1603.6" stroke="#8a8a8a" stroke-width="1.6"/><polygon points="566,1603.6 576,1599 576,1608.2" fill="#8a8a8a"/><polygon points="708,1603.6 698,1599 698,1608.2" fill="#8a8a8a"/><text x="636.0" y="1626.0" font-family="'Liberation Sans', sans-serif" font-size="20" fill="#8a8a8a" text-anchor="middle" textLength="55.0" lengthAdjust="spacingAndGlyphs">3 mm</text><line x1="618" y1="1730" x2="656" y2="1730" stroke="#8a8a8a" stroke-width="1.6"/><polygon points="614.7,1730 623,1726 623,1734" fill="#8a8a8a"/><polygon points="659.3,1730 651,1726 651,1734" fill="#8a8a8a"/><text x="637.0" y="1715.0" font-family="'Liberation Sans', sans-serif" font-size="20" fill="#8a8a8a" text-anchor="middle" textLength="53.0" lengthAdjust="spacingAndGlyphs">1 mm</text><text x="636.6" y="1900.0" font-family="'Liberation Sans', sans-serif" font-size="21.5" fill="#111" text-anchor="middle" textLength="114.0" lengthAdjust="spacingAndGlyphs">Flow outlet</text><text x="511.0" y="1936.0" font-family="'Liberation Sans', sans-serif" font-size="21.5" fill="#111" textLength="257.6" lengthAdjust="spacingAndGlyphs">Channel depth  =  100 μm</text>
</svg>
</body></html>
